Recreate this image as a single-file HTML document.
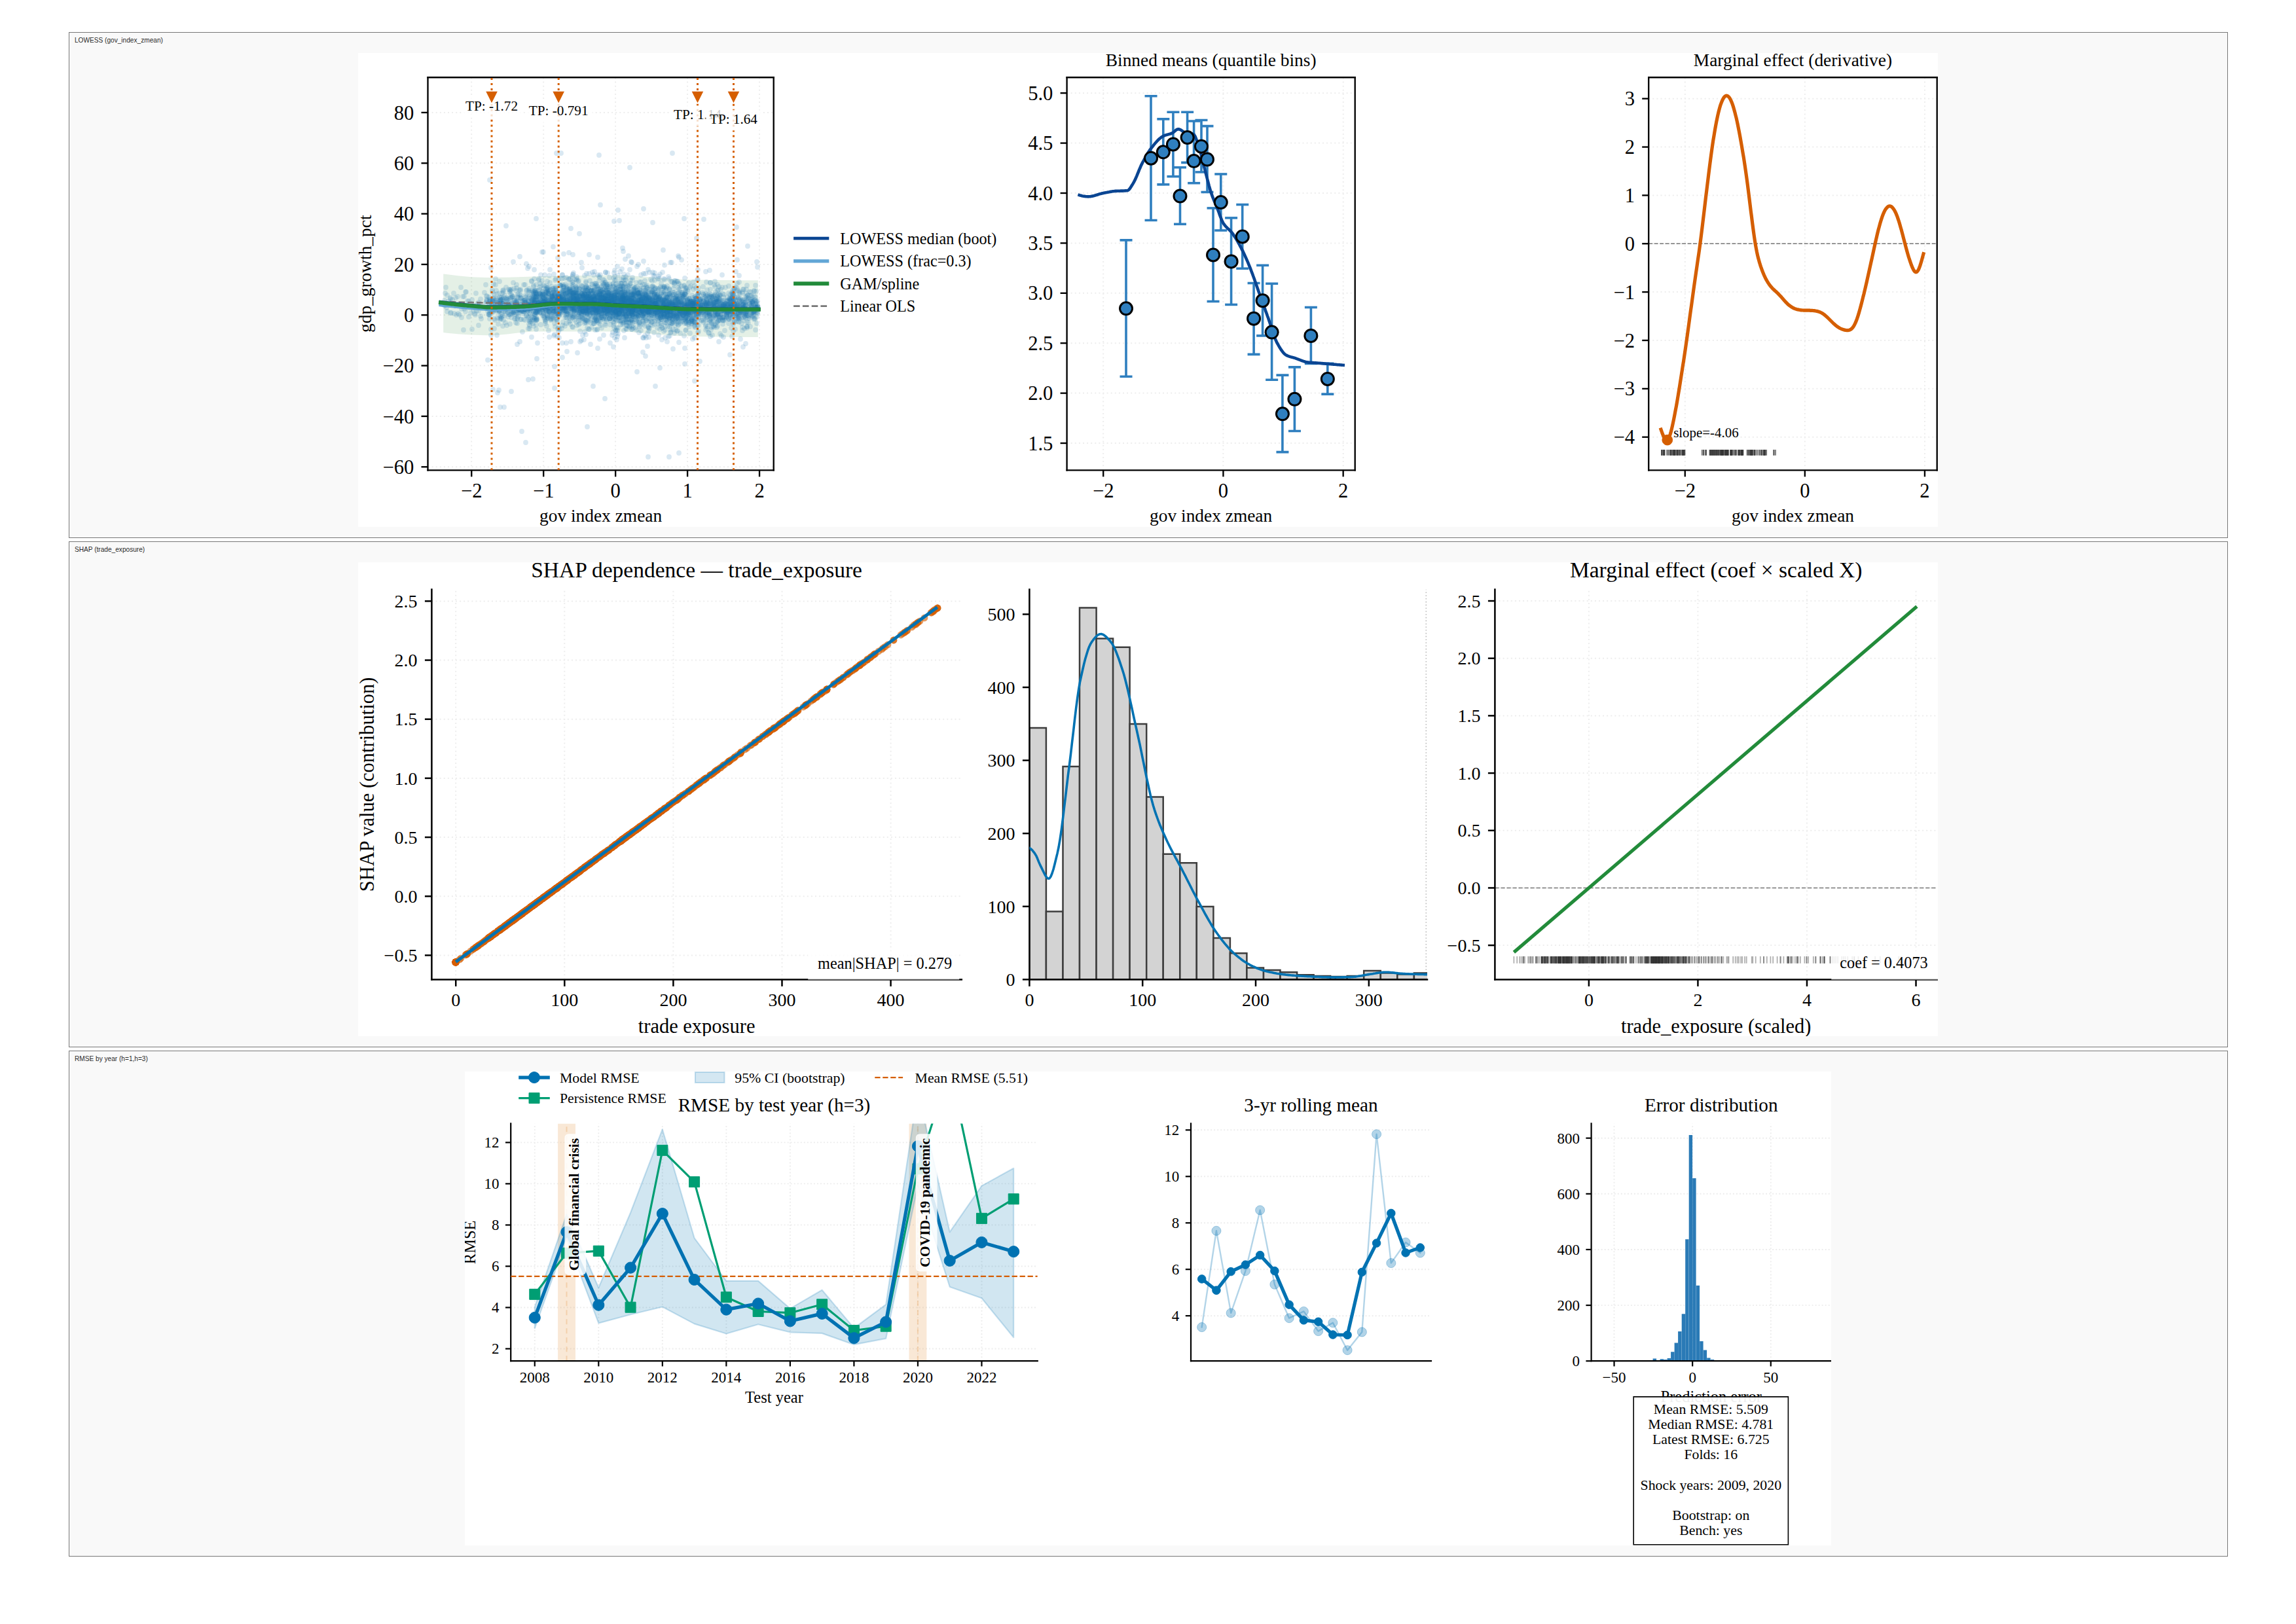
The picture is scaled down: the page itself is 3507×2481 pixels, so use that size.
<!DOCTYPE html>
<html><head><meta charset="utf-8">
<style>
html,body{margin:0;padding:0;background:#fff;}
body{width:3507px;height:2481px;position:relative;overflow:hidden;}
.panel{position:absolute;left:105px;width:3298px;height:773px;box-sizing:border-box;border:1px solid #777;background:#f9f9f9;}
.lbl{position:absolute;left:8px;top:5px;font:10.5px "Liberation Sans",sans-serif;color:#2a2a2a;white-space:nowrap;transform:scaleX(0.963);transform-origin:0 0;}
.fig{position:absolute;background:#fff;}
.fig svg{display:block}
</style></head><body>
<div class="panel" style="top:49px"><div class="lbl">LOWESS (gov_index_zmean)</div></div>
<div class="panel" style="top:827px;height:773px"><div class="lbl">SHAP (trade_exposure)</div></div>
<div class="panel" style="top:1605px"><div class="lbl">RMSE by year (h=1,h=3)</div></div>
<div class="fig" style="left:547px;top:81px;width:2413px;height:724px"><svg width="2413" height="724" viewBox="0 0 2413 724" version="1.1"><defs><style type="text/css">*{stroke-linejoin: round; stroke-linecap: butt}</style></defs><g id="f1figure_1"><g id="f1patch_1"><path d="M0 724L2413 724L2413 0L0 0 z" style="fill: #ffffff"/></g><g id="f1axes_1"><g id="f1patch_2"><path d="M106.5 637.3L634.7 637.3L634.7 37.2L106.5 37.2 z" style="fill: #ffffff"/></g><g id="f1matplotlib.axis_1"><g id="f1xtick_1"><g id="f1line2d_1"><path d="M173.2 637.3L173.2 37.2" clip-path="url(#f1p845b06b4ab)" style="fill: none; stroke-dasharray: 2,4.1; stroke-dashoffset: 0; stroke: #ededed; stroke-width: 2"/></g><g id="f1line2d_2"><defs><path id="f1m7631953726" d="M0 0L0 10" style="stroke: #000000; stroke-width: 2.35"/></defs><use href="#f1m7631953726" x="173.24" y="637.3" style="stroke: #000000; stroke-width: 2.35"/></g><g id="f1text_1"><text style="font-size: 30.6px; font-family:'Liberation Serif',serif; text-anchor: middle" x="173.24" y="678.53">−2</text></g></g><g id="f1xtick_2"><g id="f1line2d_3"><path d="M283.2 637.3L283.2 37.2" clip-path="url(#f1p845b06b4ab)" style="fill: none; stroke-dasharray: 2,4.1; stroke-dashoffset: 0; stroke: #ededed; stroke-width: 2"/></g><g id="f1line2d_4"><use href="#f1m7631953726" x="283.19" y="637.3" style="stroke: #000000; stroke-width: 2.35"/></g><g id="f1text_2"><text style="font-size: 30.6px; font-family:'Liberation Serif',serif; text-anchor: middle" x="283.19" y="678.53">−1</text></g></g><g id="f1xtick_3"><g id="f1line2d_5"><path d="M393.1 637.3L393.1 37.2" clip-path="url(#f1p845b06b4ab)" style="fill: none; stroke-dasharray: 2,4.1; stroke-dashoffset: 0; stroke: #ededed; stroke-width: 2"/></g><g id="f1line2d_6"><use href="#f1m7631953726" x="393.14" y="637.3" style="stroke: #000000; stroke-width: 2.35"/></g><g id="f1text_3"><text style="font-size: 30.6px; font-family:'Liberation Serif',serif; text-anchor: middle" x="393.14" y="678.53">0</text></g></g><g id="f1xtick_4"><g id="f1line2d_7"><path d="M503.1 637.3L503.1 37.2" clip-path="url(#f1p845b06b4ab)" style="fill: none; stroke-dasharray: 2,4.1; stroke-dashoffset: 0; stroke: #ededed; stroke-width: 2"/></g><g id="f1line2d_8"><use href="#f1m7631953726" x="503.09" y="637.3" style="stroke: #000000; stroke-width: 2.35"/></g><g id="f1text_4"><text style="font-size: 30.6px; font-family:'Liberation Serif',serif; text-anchor: middle" x="503.09" y="678.53">1</text></g></g><g id="f1xtick_5"><g id="f1line2d_9"><path d="M613 637.3L613 37.2" clip-path="url(#f1p845b06b4ab)" style="fill: none; stroke-dasharray: 2,4.1; stroke-dashoffset: 0; stroke: #ededed; stroke-width: 2"/></g><g id="f1line2d_10"><use href="#f1m7631953726" x="613.04" y="637.3" style="stroke: #000000; stroke-width: 2.35"/></g><g id="f1text_5"><text style="font-size: 30.6px; font-family:'Liberation Serif',serif; text-anchor: middle" x="613.04" y="678.53">2</text></g></g><g id="f1text_6"><text style="font-size: 27.4px; font-family:'Liberation Serif',serif; text-anchor: middle" x="370.6" y="715.5">gov index zmean</text></g></g><g id="f1matplotlib.axis_2"><g id="f1ytick_1"><g id="f1line2d_11"><path d="M106.5 632.3L634.7 632.3" clip-path="url(#f1p845b06b4ab)" style="fill: none; stroke-dasharray: 2,4.1; stroke-dashoffset: 0; stroke: #ededed; stroke-width: 2"/></g><g id="f1line2d_12"><defs><path id="f1m0f4510a37b" d="M0 0L-10 0" style="stroke: #000000; stroke-width: 2.35"/></defs><use href="#f1m0f4510a37b" x="106.5" y="632.27" style="stroke: #000000; stroke-width: 2.35"/></g><g id="f1text_7"><text style="font-size: 30.6px; font-family:'Liberation Serif',serif; text-anchor: end" x="85.3" y="642.89">−60</text></g></g><g id="f1ytick_2"><g id="f1line2d_13"><path d="M106.5 554.9L634.7 554.9" clip-path="url(#f1p845b06b4ab)" style="fill: none; stroke-dasharray: 2,4.1; stroke-dashoffset: 0; stroke: #ededed; stroke-width: 2"/></g><g id="f1line2d_14"><use href="#f1m0f4510a37b" x="106.5" y="554.94" style="stroke: #000000; stroke-width: 2.35"/></g><g id="f1text_8"><text style="font-size: 30.6px; font-family:'Liberation Serif',serif; text-anchor: end" x="85.3" y="565.56">−40</text></g></g><g id="f1ytick_3"><g id="f1line2d_15"><path d="M106.5 477.6L634.7 477.6" clip-path="url(#f1p845b06b4ab)" style="fill: none; stroke-dasharray: 2,4.1; stroke-dashoffset: 0; stroke: #ededed; stroke-width: 2"/></g><g id="f1line2d_16"><use href="#f1m0f4510a37b" x="106.5" y="477.61" style="stroke: #000000; stroke-width: 2.35"/></g><g id="f1text_9"><text style="font-size: 30.6px; font-family:'Liberation Serif',serif; text-anchor: end" x="85.3" y="488.23">−20</text></g></g><g id="f1ytick_4"><g id="f1line2d_17"><path d="M106.5 400.3L634.7 400.3" clip-path="url(#f1p845b06b4ab)" style="fill: none; stroke-dasharray: 2,4.1; stroke-dashoffset: 0; stroke: #ededed; stroke-width: 2"/></g><g id="f1line2d_18"><use href="#f1m0f4510a37b" x="106.5" y="400.28" style="stroke: #000000; stroke-width: 2.35"/></g><g id="f1text_10"><text style="font-size: 30.6px; font-family:'Liberation Serif',serif; text-anchor: end" x="85.3" y="410.89">0</text></g></g><g id="f1ytick_5"><g id="f1line2d_19"><path d="M106.5 322.9L634.7 322.9" clip-path="url(#f1p845b06b4ab)" style="fill: none; stroke-dasharray: 2,4.1; stroke-dashoffset: 0; stroke: #ededed; stroke-width: 2"/></g><g id="f1line2d_20"><use href="#f1m0f4510a37b" x="106.5" y="322.94" style="stroke: #000000; stroke-width: 2.35"/></g><g id="f1text_11"><text style="font-size: 30.6px; font-family:'Liberation Serif',serif; text-anchor: end" x="85.3" y="333.56">20</text></g></g><g id="f1ytick_6"><g id="f1line2d_21"><path d="M106.5 245.6L634.7 245.6" clip-path="url(#f1p845b06b4ab)" style="fill: none; stroke-dasharray: 2,4.1; stroke-dashoffset: 0; stroke: #ededed; stroke-width: 2"/></g><g id="f1line2d_22"><use href="#f1m0f4510a37b" x="106.5" y="245.61" style="stroke: #000000; stroke-width: 2.35"/></g><g id="f1text_12"><text style="font-size: 30.6px; font-family:'Liberation Serif',serif; text-anchor: end" x="85.3" y="256.23">40</text></g></g><g id="f1ytick_7"><g id="f1line2d_23"><path d="M106.5 168.3L634.7 168.3" clip-path="url(#f1p845b06b4ab)" style="fill: none; stroke-dasharray: 2,4.1; stroke-dashoffset: 0; stroke: #ededed; stroke-width: 2"/></g><g id="f1line2d_24"><use href="#f1m0f4510a37b" x="106.5" y="168.28" style="stroke: #000000; stroke-width: 2.35"/></g><g id="f1text_13"><text style="font-size: 30.6px; font-family:'Liberation Serif',serif; text-anchor: end" x="85.3" y="178.9">60</text></g></g><g id="f1ytick_8"><g id="f1line2d_25"><path d="M106.5 90.9L634.7 90.9" clip-path="url(#f1p845b06b4ab)" style="fill: none; stroke-dasharray: 2,4.1; stroke-dashoffset: 0; stroke: #ededed; stroke-width: 2"/></g><g id="f1line2d_26"><use href="#f1m0f4510a37b" x="106.5" y="90.95" style="stroke: #000000; stroke-width: 2.35"/></g><g id="f1text_14"><text style="font-size: 30.6px; font-family:'Liberation Serif',serif; text-anchor: end" x="85.3" y="101.56">80</text></g></g><g id="f1text_15"><text style="font-size: 27.4px; font-family:'Liberation Serif',serif; text-anchor: middle" x="20.09" y="337.25" transform="rotate(-90 20.09 337.25)">gdp_growth_pct</text></g></g><g id="f1FillBetweenPolyCollection_1"><defs><path id="f1mf904ceca2f" d="M130.2 -386.4L130.2 -297L138.4 -296.1L146.5 -295.2L154.7 -294.5L162.8 -294L171 -293.5L179.1 -293.2L187.3 -292.9L195.4 -292.8L203.6 -292.8L211.7 -293.1L219.9 -293.7L228 -294.5L236.1 -295.5L244.3 -296.4L252.4 -297.3L260.6 -298L268.7 -298.5L276.9 -298.6L285 -298.6L293.2 -298.6L301.3 -298.6L309.5 -298.6L317.6 -298.6L325.7 -298.6L333.9 -298.6L342 -298.6L350.2 -298.6L358.3 -298.6L366.5 -298.6L374.6 -298.6L382.8 -298.6L390.9 -298.6L399.1 -298.5L407.2 -298.3L415.3 -297.9L423.5 -297.3L431.6 -296.6L439.8 -295.9L447.9 -295.1L456.1 -294.3L464.2 -293.6L472.4 -292.8L480.5 -292.2L488.7 -291.7L496.8 -291.4L504.9 -291.2L513.1 -291L521.2 -290.8L529.4 -290.7L537.5 -290.6L545.7 -290.4L553.8 -290.3L562 -290.2L570.1 -290.1L578.3 -290L586.4 -290L594.5 -289.9L602.7 -289.9L610.8 -289.9L610.8 -376.7L610.8 -376.7L602.7 -376.7L594.5 -376.7L586.4 -376.8L578.3 -376.8L570.1 -376.9L562 -377L553.8 -377.1L545.7 -377.2L537.5 -377.3L529.4 -377.4L521.2 -377.5L513.1 -377.7L504.9 -377.8L496.8 -378L488.7 -378.4L480.5 -378.8L472.4 -379.4L464.2 -380L456.1 -380.7L447.9 -381.4L439.8 -382.1L431.6 -382.7L423.5 -383.3L415.3 -383.8L407.2 -384.2L399.1 -384.4L390.9 -384.4L382.8 -384.4L374.6 -384.4L366.5 -384.3L358.3 -384.2L350.2 -384.1L342 -384L333.9 -383.8L325.7 -383.7L317.6 -383.5L309.5 -383.4L301.3 -383.2L293.2 -383.1L285 -382.9L276.9 -382.8L268.7 -382.6L260.6 -382.3L252.4 -382.1L244.3 -381.8L236.1 -381.6L228 -381.3L219.9 -381.2L211.7 -381L203.6 -381L195.4 -381L187.3 -381.2L179.1 -381.6L171 -382.1L162.8 -382.8L154.7 -383.6L146.5 -384.4L138.4 -385.4L130.2 -386.4 z"/></defs><g clip-path="url(#f1p845b06b4ab)"><use href="#f1mf904ceca2f" x="0" y="724" style="fill: #2e8b3e; fill-opacity: 0.13"/></g></g><g class="sc1" style="fill:#1f77b4;fill-opacity:0.17" clip-path="url(#f1p845b06b4ab)"><circle cx="410" cy="375" r="3.9"/><circle cx="436" cy="238" r="3.9"/><circle cx="386" cy="371" r="3.9"/><circle cx="331" cy="390" r="3.9"/><circle cx="370" cy="365" r="3.9"/><circle cx="322" cy="384" r="3.9"/><circle cx="415" cy="385" r="3.9"/><circle cx="528" cy="379" r="3.9"/><circle cx="366" cy="399" r="3.9"/><circle cx="355" cy="378" r="3.9"/><circle cx="453" cy="369" r="3.9"/><circle cx="441" cy="392" r="3.9"/><circle cx="419" cy="399" r="3.9"/><circle cx="328" cy="354" r="3.9"/><circle cx="407" cy="382" r="3.9"/><circle cx="471" cy="392" r="3.9"/><circle cx="291" cy="385" r="3.9"/><circle cx="369" cy="364" r="3.9"/><circle cx="242" cy="379" r="3.9"/><circle cx="296" cy="377" r="3.9"/><circle cx="248" cy="384" r="3.9"/><circle cx="389" cy="378" r="3.9"/><circle cx="298" cy="396" r="3.9"/><circle cx="433" cy="399" r="3.9"/><circle cx="423" cy="377" r="3.9"/><circle cx="393" cy="378" r="3.9"/><circle cx="188" cy="406" r="3.9"/><circle cx="362" cy="423" r="3.9"/><circle cx="405" cy="373" r="3.9"/><circle cx="420" cy="392" r="3.9"/><circle cx="275" cy="370" r="3.9"/><circle cx="368" cy="364" r="3.9"/><circle cx="324" cy="409" r="3.9"/><circle cx="338" cy="403" r="3.9"/><circle cx="503" cy="377" r="3.9"/><circle cx="339" cy="381" r="3.9"/><circle cx="407" cy="375" r="3.9"/><circle cx="487" cy="390" r="3.9"/><circle cx="358" cy="387" r="3.9"/><circle cx="400" cy="393" r="3.9"/><circle cx="419" cy="395" r="3.9"/><circle cx="415" cy="401" r="3.9"/><circle cx="302" cy="366" r="3.9"/><circle cx="416" cy="384" r="3.9"/><circle cx="529" cy="372" r="3.9"/><circle cx="274" cy="394" r="3.9"/><circle cx="485" cy="384" r="3.9"/><circle cx="420" cy="368" r="3.9"/><circle cx="353" cy="388" r="3.9"/><circle cx="586" cy="397" r="3.9"/><circle cx="477" cy="415" r="3.9"/><circle cx="304" cy="378" r="3.9"/><circle cx="416" cy="375" r="3.9"/><circle cx="460" cy="390" r="3.9"/><circle cx="393" cy="360" r="3.9"/><circle cx="470" cy="398" r="3.9"/><circle cx="404" cy="379" r="3.9"/><circle cx="468" cy="376" r="3.9"/><circle cx="536" cy="388" r="3.9"/><circle cx="350" cy="364" r="3.9"/><circle cx="428" cy="372" r="3.9"/><circle cx="369" cy="387" r="3.9"/><circle cx="421" cy="384" r="3.9"/><circle cx="305" cy="421" r="3.9"/><circle cx="359" cy="378" r="3.9"/><circle cx="392" cy="347" r="3.9"/><circle cx="489" cy="310" r="3.9"/><circle cx="510" cy="389" r="3.9"/><circle cx="293" cy="331" r="3.9"/><circle cx="340" cy="396" r="3.9"/><circle cx="467" cy="389" r="3.9"/><circle cx="234" cy="397" r="3.9"/><circle cx="369" cy="386" r="3.9"/><circle cx="401" cy="388" r="3.9"/><circle cx="520" cy="382" r="3.9"/><circle cx="470" cy="373" r="3.9"/><circle cx="381" cy="380" r="3.9"/><circle cx="377" cy="372" r="3.9"/><circle cx="388" cy="381" r="3.9"/><circle cx="544" cy="387" r="3.9"/><circle cx="372" cy="373" r="3.9"/><circle cx="383" cy="363" r="3.9"/><circle cx="441" cy="386" r="3.9"/><circle cx="399" cy="396" r="3.9"/><circle cx="392" cy="366" r="3.9"/><circle cx="312" cy="354" r="3.9"/><circle cx="409" cy="347" r="3.9"/><circle cx="371" cy="378" r="3.9"/><circle cx="512" cy="382" r="3.9"/><circle cx="467" cy="359" r="3.9"/><circle cx="408" cy="384" r="3.9"/><circle cx="468" cy="392" r="3.9"/><circle cx="380" cy="389" r="3.9"/><circle cx="502" cy="398" r="3.9"/><circle cx="409" cy="421" r="3.9"/><circle cx="461" cy="405" r="3.9"/><circle cx="296" cy="369" r="3.9"/><circle cx="440" cy="390" r="3.9"/><circle cx="261" cy="374" r="3.9"/><circle cx="231" cy="382" r="3.9"/><circle cx="383" cy="375" r="3.9"/><circle cx="330" cy="393" r="3.9"/><circle cx="424" cy="387" r="3.9"/><circle cx="607" cy="423" r="3.9"/><circle cx="336" cy="392" r="3.9"/><circle cx="355" cy="368" r="3.9"/><circle cx="428" cy="401" r="3.9"/><circle cx="453" cy="347" r="3.9"/><circle cx="394" cy="347" r="3.9"/><circle cx="392" cy="377" r="3.9"/><circle cx="471" cy="402" r="3.9"/><circle cx="455" cy="373" r="3.9"/><circle cx="319" cy="381" r="3.9"/><circle cx="403" cy="402" r="3.9"/><circle cx="413" cy="407" r="3.9"/><circle cx="317" cy="353" r="3.9"/><circle cx="432" cy="397" r="3.9"/><circle cx="334" cy="345" r="3.9"/><circle cx="495" cy="410" r="3.9"/><circle cx="427" cy="391" r="3.9"/><circle cx="417" cy="371" r="3.9"/><circle cx="358" cy="388" r="3.9"/><circle cx="399" cy="404" r="3.9"/><circle cx="234" cy="404" r="3.9"/><circle cx="310" cy="388" r="3.9"/><circle cx="442" cy="393" r="3.9"/><circle cx="222" cy="395" r="3.9"/><circle cx="484" cy="379" r="3.9"/><circle cx="256" cy="373" r="3.9"/><circle cx="476" cy="432" r="3.9"/><circle cx="335" cy="375" r="3.9"/><circle cx="478" cy="367" r="3.9"/><circle cx="421" cy="397" r="3.9"/><circle cx="274" cy="391" r="3.9"/><circle cx="520" cy="425" r="3.9"/><circle cx="536" cy="428" r="3.9"/><circle cx="404" cy="364" r="3.9"/><circle cx="386" cy="402" r="3.9"/><circle cx="396" cy="375" r="3.9"/><circle cx="324" cy="385" r="3.9"/><circle cx="506" cy="412" r="3.9"/><circle cx="362" cy="366" r="3.9"/><circle cx="405" cy="399" r="3.9"/><circle cx="340" cy="383" r="3.9"/><circle cx="355" cy="381" r="3.9"/><circle cx="297" cy="373" r="3.9"/><circle cx="520" cy="399" r="3.9"/><circle cx="396" cy="326" r="3.9"/><circle cx="495" cy="394" r="3.9"/><circle cx="411" cy="391" r="3.9"/><circle cx="349" cy="337" r="3.9"/><circle cx="381" cy="363" r="3.9"/><circle cx="360" cy="363" r="3.9"/><circle cx="410" cy="422" r="3.9"/><circle cx="377" cy="387" r="3.9"/><circle cx="383" cy="387" r="3.9"/><circle cx="288" cy="387" r="3.9"/><circle cx="339" cy="371" r="3.9"/><circle cx="555" cy="391" r="3.9"/><circle cx="351" cy="368" r="3.9"/><circle cx="317" cy="378" r="3.9"/><circle cx="439" cy="386" r="3.9"/><circle cx="533" cy="407" r="3.9"/><circle cx="282" cy="375" r="3.9"/><circle cx="391" cy="389" r="3.9"/><circle cx="354" cy="382" r="3.9"/><circle cx="255" cy="392" r="3.9"/><circle cx="474" cy="384" r="3.9"/><circle cx="408" cy="380" r="3.9"/><circle cx="416" cy="378" r="3.9"/><circle cx="343" cy="395" r="3.9"/><circle cx="450" cy="366" r="3.9"/><circle cx="362" cy="368" r="3.9"/><circle cx="397" cy="340" r="3.9"/><circle cx="312" cy="339" r="3.9"/><circle cx="303" cy="382" r="3.9"/><circle cx="527" cy="383" r="3.9"/><circle cx="365" cy="391" r="3.9"/><circle cx="435" cy="409" r="3.9"/><circle cx="407" cy="384" r="3.9"/><circle cx="371" cy="387" r="3.9"/><circle cx="365" cy="372" r="3.9"/><circle cx="465" cy="404" r="3.9"/><circle cx="383" cy="379" r="3.9"/><circle cx="396" cy="399" r="3.9"/><circle cx="412" cy="399" r="3.9"/><circle cx="513" cy="380" r="3.9"/><circle cx="469" cy="418" r="3.9"/><circle cx="443" cy="419" r="3.9"/><circle cx="360" cy="391" r="3.9"/><circle cx="288" cy="372" r="3.9"/><circle cx="493" cy="390" r="3.9"/><circle cx="495" cy="396" r="3.9"/><circle cx="397" cy="240" r="3.9"/><circle cx="457" cy="381" r="3.9"/><circle cx="478" cy="382" r="3.9"/><circle cx="483" cy="355" r="3.9"/><circle cx="491" cy="394" r="3.9"/><circle cx="370" cy="416" r="3.9"/><circle cx="543" cy="410" r="3.9"/><circle cx="300" cy="371" r="3.9"/><circle cx="485" cy="400" r="3.9"/><circle cx="453" cy="385" r="3.9"/><circle cx="486" cy="389" r="3.9"/><circle cx="575" cy="388" r="3.9"/><circle cx="540" cy="413" r="3.9"/><circle cx="309" cy="379" r="3.9"/><circle cx="261" cy="379" r="3.9"/><circle cx="481" cy="386" r="3.9"/><circle cx="320" cy="381" r="3.9"/><circle cx="409" cy="384" r="3.9"/><circle cx="483" cy="394" r="3.9"/><circle cx="265" cy="410" r="3.9"/><circle cx="224" cy="386" r="3.9"/><circle cx="432" cy="381" r="3.9"/><circle cx="414" cy="391" r="3.9"/><circle cx="388" cy="393" r="3.9"/><circle cx="413" cy="387" r="3.9"/><circle cx="334" cy="371" r="3.9"/><circle cx="277" cy="381" r="3.9"/><circle cx="395" cy="384" r="3.9"/><circle cx="324" cy="399" r="3.9"/><circle cx="265" cy="389" r="3.9"/><circle cx="454" cy="383" r="3.9"/><circle cx="404" cy="374" r="3.9"/><circle cx="445" cy="382" r="3.9"/><circle cx="323" cy="384" r="3.9"/><circle cx="352" cy="374" r="3.9"/><circle cx="322" cy="390" r="3.9"/><circle cx="332" cy="376" r="3.9"/><circle cx="427" cy="375" r="3.9"/><circle cx="341" cy="368" r="3.9"/><circle cx="441" cy="392" r="3.9"/><circle cx="440" cy="377" r="3.9"/><circle cx="588" cy="389" r="3.9"/><circle cx="287" cy="386" r="3.9"/><circle cx="488" cy="391" r="3.9"/><circle cx="402" cy="389" r="3.9"/><circle cx="408" cy="315" r="3.9"/><circle cx="282" cy="370" r="3.9"/><circle cx="369" cy="437" r="3.9"/><circle cx="475" cy="345" r="3.9"/><circle cx="402" cy="360" r="3.9"/><circle cx="417" cy="365" r="3.9"/><circle cx="384" cy="372" r="3.9"/><circle cx="511" cy="399" r="3.9"/><circle cx="408" cy="346" r="3.9"/><circle cx="216" cy="395" r="3.9"/><circle cx="349" cy="390" r="3.9"/><circle cx="236" cy="395" r="3.9"/><circle cx="363" cy="372" r="3.9"/><circle cx="527" cy="391" r="3.9"/><circle cx="414" cy="417" r="3.9"/><circle cx="306" cy="377" r="3.9"/><circle cx="327" cy="403" r="3.9"/><circle cx="509" cy="379" r="3.9"/><circle cx="423" cy="390" r="3.9"/><circle cx="414" cy="401" r="3.9"/><circle cx="405" cy="375" r="3.9"/><circle cx="413" cy="310" r="3.9"/><circle cx="480" cy="392" r="3.9"/><circle cx="458" cy="414" r="3.9"/><circle cx="429" cy="381" r="3.9"/><circle cx="318" cy="382" r="3.9"/><circle cx="455" cy="372" r="3.9"/><circle cx="349" cy="384" r="3.9"/><circle cx="506" cy="418" r="3.9"/><circle cx="298" cy="389" r="3.9"/><circle cx="398" cy="396" r="3.9"/><circle cx="409" cy="410" r="3.9"/><circle cx="293" cy="395" r="3.9"/><circle cx="561" cy="388" r="3.9"/><circle cx="538" cy="379" r="3.9"/><circle cx="369" cy="391" r="3.9"/><circle cx="478" cy="395" r="3.9"/><circle cx="443" cy="390" r="3.9"/><circle cx="180" cy="367" r="3.9"/><circle cx="432" cy="424" r="3.9"/><circle cx="404" cy="356" r="3.9"/><circle cx="417" cy="374" r="3.9"/><circle cx="315" cy="387" r="3.9"/><circle cx="386" cy="368" r="3.9"/><circle cx="394" cy="399" r="3.9"/><circle cx="514" cy="373" r="3.9"/><circle cx="439" cy="384" r="3.9"/><circle cx="409" cy="403" r="3.9"/><circle cx="544" cy="394" r="3.9"/><circle cx="361" cy="362" r="3.9"/><circle cx="375" cy="393" r="3.9"/><circle cx="250" cy="384" r="3.9"/><circle cx="548" cy="380" r="3.9"/><circle cx="494" cy="316" r="3.9"/><circle cx="490" cy="375" r="3.9"/><circle cx="468" cy="401" r="3.9"/><circle cx="419" cy="369" r="3.9"/><circle cx="429" cy="370" r="3.9"/><circle cx="387" cy="382" r="3.9"/><circle cx="392" cy="376" r="3.9"/><circle cx="414" cy="383" r="3.9"/><circle cx="543" cy="390" r="3.9"/><circle cx="459" cy="386" r="3.9"/><circle cx="404" cy="372" r="3.9"/><circle cx="359" cy="395" r="3.9"/><circle cx="354" cy="393" r="3.9"/><circle cx="551" cy="441" r="3.9"/><circle cx="454" cy="396" r="3.9"/><circle cx="416" cy="379" r="3.9"/><circle cx="379" cy="387" r="3.9"/><circle cx="312" cy="370" r="3.9"/><circle cx="404" cy="398" r="3.9"/><circle cx="486" cy="403" r="3.9"/><circle cx="375" cy="389" r="3.9"/><circle cx="390" cy="344" r="3.9"/><circle cx="390" cy="406" r="3.9"/><circle cx="419" cy="394" r="3.9"/><circle cx="270" cy="364" r="3.9"/><circle cx="389" cy="381" r="3.9"/><circle cx="334" cy="396" r="3.9"/><circle cx="487" cy="405" r="3.9"/><circle cx="342" cy="382" r="3.9"/><circle cx="460" cy="374" r="3.9"/><circle cx="544" cy="354" r="3.9"/><circle cx="382" cy="380" r="3.9"/><circle cx="357" cy="385" r="3.9"/><circle cx="426" cy="382" r="3.9"/><circle cx="409" cy="369" r="3.9"/><circle cx="322" cy="387" r="3.9"/><circle cx="450" cy="401" r="3.9"/><circle cx="587" cy="367" r="3.9"/><circle cx="387" cy="381" r="3.9"/><circle cx="392" cy="387" r="3.9"/><circle cx="318" cy="369" r="3.9"/><circle cx="438" cy="389" r="3.9"/><circle cx="300" cy="367" r="3.9"/><circle cx="312" cy="363" r="3.9"/><circle cx="522" cy="379" r="3.9"/><circle cx="330" cy="385" r="3.9"/><circle cx="505" cy="396" r="3.9"/><circle cx="544" cy="388" r="3.9"/><circle cx="432" cy="382" r="3.9"/><circle cx="458" cy="390" r="3.9"/><circle cx="581" cy="391" r="3.9"/><circle cx="392" cy="396" r="3.9"/><circle cx="357" cy="419" r="3.9"/><circle cx="291" cy="394" r="3.9"/><circle cx="413" cy="360" r="3.9"/><circle cx="540" cy="398" r="3.9"/><circle cx="494" cy="356" r="3.9"/><circle cx="327" cy="392" r="3.9"/><circle cx="334" cy="394" r="3.9"/><circle cx="365" cy="422" r="3.9"/><circle cx="435" cy="369" r="3.9"/><circle cx="392" cy="373" r="3.9"/><circle cx="428" cy="387" r="3.9"/><circle cx="436" cy="359" r="3.9"/><circle cx="383" cy="374" r="3.9"/><circle cx="406" cy="377" r="3.9"/><circle cx="428" cy="402" r="3.9"/><circle cx="402" cy="386" r="3.9"/><circle cx="454" cy="408" r="3.9"/><circle cx="574" cy="387" r="3.9"/><circle cx="462" cy="384" r="3.9"/><circle cx="415" cy="385" r="3.9"/><circle cx="261" cy="326" r="3.9"/><circle cx="444" cy="395" r="3.9"/><circle cx="238" cy="391" r="3.9"/><circle cx="286" cy="391" r="3.9"/><circle cx="485" cy="390" r="3.9"/><circle cx="472" cy="395" r="3.9"/><circle cx="396" cy="388" r="3.9"/><circle cx="259" cy="402" r="3.9"/><circle cx="377" cy="378" r="3.9"/><circle cx="350" cy="390" r="3.9"/><circle cx="466" cy="383" r="3.9"/><circle cx="608" cy="389" r="3.9"/><circle cx="429" cy="378" r="3.9"/><circle cx="341" cy="392" r="3.9"/><circle cx="307" cy="378" r="3.9"/><circle cx="405" cy="303" r="3.9"/><circle cx="394" cy="384" r="3.9"/><circle cx="308" cy="394" r="3.9"/><circle cx="420" cy="380" r="3.9"/><circle cx="308" cy="400" r="3.9"/><circle cx="507" cy="382" r="3.9"/><circle cx="503" cy="385" r="3.9"/><circle cx="505" cy="395" r="3.9"/><circle cx="368" cy="405" r="3.9"/><circle cx="455" cy="383" r="3.9"/><circle cx="398" cy="393" r="3.9"/><circle cx="375" cy="389" r="3.9"/><circle cx="380" cy="395" r="3.9"/><circle cx="295" cy="375" r="3.9"/><circle cx="283" cy="400" r="3.9"/><circle cx="480" cy="386" r="3.9"/><circle cx="393" cy="390" r="3.9"/><circle cx="429" cy="427" r="3.9"/><circle cx="498" cy="432" r="3.9"/><circle cx="257" cy="322" r="3.9"/><circle cx="341" cy="379" r="3.9"/><circle cx="425" cy="392" r="3.9"/><circle cx="444" cy="405" r="3.9"/><circle cx="376" cy="347" r="3.9"/><circle cx="500" cy="386" r="3.9"/><circle cx="428" cy="382" r="3.9"/><circle cx="303" cy="379" r="3.9"/><circle cx="328" cy="386" r="3.9"/><circle cx="480" cy="408" r="3.9"/><circle cx="450" cy="383" r="3.9"/><circle cx="243" cy="390" r="3.9"/><circle cx="528" cy="388" r="3.9"/><circle cx="462" cy="376" r="3.9"/><circle cx="528" cy="369" r="3.9"/><circle cx="376" cy="391" r="3.9"/><circle cx="384" cy="388" r="3.9"/><circle cx="311" cy="366" r="3.9"/><circle cx="394" cy="398" r="3.9"/><circle cx="549" cy="398" r="3.9"/><circle cx="353" cy="393" r="3.9"/><circle cx="424" cy="382" r="3.9"/><circle cx="263" cy="411" r="3.9"/><circle cx="376" cy="391" r="3.9"/><circle cx="496" cy="374" r="3.9"/><circle cx="300" cy="479" r="3.9"/><circle cx="504" cy="386" r="3.9"/><circle cx="439" cy="397" r="3.9"/><circle cx="318" cy="387" r="3.9"/><circle cx="366" cy="374" r="3.9"/><circle cx="369" cy="396" r="3.9"/><circle cx="405" cy="382" r="3.9"/><circle cx="362" cy="380" r="3.9"/><circle cx="337" cy="348" r="3.9"/><circle cx="383" cy="366" r="3.9"/><circle cx="319" cy="356" r="3.9"/><circle cx="296" cy="386" r="3.9"/><circle cx="405" cy="377" r="3.9"/><circle cx="487" cy="408" r="3.9"/><circle cx="275" cy="390" r="3.9"/><circle cx="410" cy="378" r="3.9"/><circle cx="352" cy="422" r="3.9"/><circle cx="324" cy="365" r="3.9"/><circle cx="485" cy="377" r="3.9"/><circle cx="364" cy="375" r="3.9"/><circle cx="541" cy="376" r="3.9"/><circle cx="341" cy="399" r="3.9"/><circle cx="444" cy="377" r="3.9"/><circle cx="390" cy="391" r="3.9"/><circle cx="343" cy="394" r="3.9"/><circle cx="461" cy="413" r="3.9"/><circle cx="396" cy="368" r="3.9"/><circle cx="463" cy="413" r="3.9"/><circle cx="405" cy="360" r="3.9"/><circle cx="314" cy="377" r="3.9"/><circle cx="401" cy="394" r="3.9"/><circle cx="414" cy="402" r="3.9"/><circle cx="494" cy="385" r="3.9"/><circle cx="330" cy="392" r="3.9"/><circle cx="406" cy="401" r="3.9"/><circle cx="258" cy="362" r="3.9"/><circle cx="467" cy="393" r="3.9"/><circle cx="315" cy="386" r="3.9"/><circle cx="251" cy="390" r="3.9"/><circle cx="404" cy="367" r="3.9"/><circle cx="507" cy="387" r="3.9"/><circle cx="276" cy="383" r="3.9"/><circle cx="314" cy="396" r="3.9"/><circle cx="344" cy="362" r="3.9"/><circle cx="310" cy="356" r="3.9"/><circle cx="443" cy="331" r="3.9"/><circle cx="339" cy="394" r="3.9"/><circle cx="346" cy="366" r="3.9"/><circle cx="461" cy="374" r="3.9"/><circle cx="343" cy="371" r="3.9"/><circle cx="448" cy="383" r="3.9"/><circle cx="324" cy="379" r="3.9"/><circle cx="303" cy="390" r="3.9"/><circle cx="248" cy="361" r="3.9"/><circle cx="573" cy="379" r="3.9"/><circle cx="381" cy="336" r="3.9"/><circle cx="431" cy="377" r="3.9"/><circle cx="407" cy="372" r="3.9"/><circle cx="424" cy="389" r="3.9"/><circle cx="414" cy="372" r="3.9"/><circle cx="577" cy="387" r="3.9"/><circle cx="318" cy="387" r="3.9"/><circle cx="273" cy="396" r="3.9"/><circle cx="321" cy="378" r="3.9"/><circle cx="292" cy="384" r="3.9"/><circle cx="475" cy="382" r="3.9"/><circle cx="482" cy="401" r="3.9"/><circle cx="325" cy="352" r="3.9"/><circle cx="287" cy="361" r="3.9"/><circle cx="378" cy="416" r="3.9"/><circle cx="532" cy="387" r="3.9"/><circle cx="162" cy="372" r="3.9"/><circle cx="456" cy="399" r="3.9"/><circle cx="315" cy="344" r="3.9"/><circle cx="501" cy="395" r="3.9"/><circle cx="315" cy="388" r="3.9"/><circle cx="385" cy="365" r="3.9"/><circle cx="277" cy="397" r="3.9"/><circle cx="324" cy="376" r="3.9"/><circle cx="532" cy="385" r="3.9"/><circle cx="482" cy="392" r="3.9"/><circle cx="374" cy="376" r="3.9"/><circle cx="333" cy="367" r="3.9"/><circle cx="243" cy="413" r="3.9"/><circle cx="375" cy="394" r="3.9"/><circle cx="407" cy="381" r="3.9"/><circle cx="402" cy="388" r="3.9"/><circle cx="401" cy="415" r="3.9"/><circle cx="311" cy="368" r="3.9"/><circle cx="404" cy="371" r="3.9"/><circle cx="406" cy="386" r="3.9"/><circle cx="523" cy="397" r="3.9"/><circle cx="574" cy="390" r="3.9"/><circle cx="398" cy="409" r="3.9"/><circle cx="342" cy="395" r="3.9"/><circle cx="404" cy="385" r="3.9"/><circle cx="356" cy="378" r="3.9"/><circle cx="344" cy="380" r="3.9"/><circle cx="404" cy="373" r="3.9"/><circle cx="318" cy="358" r="3.9"/><circle cx="463" cy="366" r="3.9"/><circle cx="400" cy="386" r="3.9"/><circle cx="432" cy="371" r="3.9"/><circle cx="394" cy="428" r="3.9"/><circle cx="346" cy="368" r="3.9"/><circle cx="326" cy="368" r="3.9"/><circle cx="389" cy="386" r="3.9"/><circle cx="361" cy="413" r="3.9"/><circle cx="430" cy="389" r="3.9"/><circle cx="409" cy="374" r="3.9"/><circle cx="290" cy="366" r="3.9"/><circle cx="416" cy="391" r="3.9"/><circle cx="292" cy="396" r="3.9"/><circle cx="355" cy="389" r="3.9"/><circle cx="384" cy="387" r="3.9"/><circle cx="227" cy="385" r="3.9"/><circle cx="418" cy="377" r="3.9"/><circle cx="423" cy="387" r="3.9"/><circle cx="396" cy="366" r="3.9"/><circle cx="372" cy="399" r="3.9"/><circle cx="377" cy="379" r="3.9"/><circle cx="324" cy="384" r="3.9"/><circle cx="386" cy="358" r="3.9"/><circle cx="361" cy="380" r="3.9"/><circle cx="418" cy="422" r="3.9"/><circle cx="304" cy="386" r="3.9"/><circle cx="430" cy="406" r="3.9"/><circle cx="422" cy="367" r="3.9"/><circle cx="397" cy="379" r="3.9"/><circle cx="371" cy="379" r="3.9"/><circle cx="458" cy="397" r="3.9"/><circle cx="263" cy="399" r="3.9"/><circle cx="450" cy="259" r="3.9"/><circle cx="431" cy="382" r="3.9"/><circle cx="435" cy="378" r="3.9"/><circle cx="443" cy="398" r="3.9"/><circle cx="352" cy="394" r="3.9"/><circle cx="387" cy="383" r="3.9"/><circle cx="466" cy="388" r="3.9"/><circle cx="448" cy="401" r="3.9"/><circle cx="428" cy="401" r="3.9"/><circle cx="276" cy="383" r="3.9"/><circle cx="457" cy="377" r="3.9"/><circle cx="512" cy="382" r="3.9"/><circle cx="498" cy="253" r="3.9"/><circle cx="430" cy="387" r="3.9"/><circle cx="273" cy="467" r="3.9"/><circle cx="493" cy="379" r="3.9"/><circle cx="397" cy="402" r="3.9"/><circle cx="187" cy="402" r="3.9"/><circle cx="443" cy="375" r="3.9"/><circle cx="278" cy="352" r="3.9"/><circle cx="296" cy="384" r="3.9"/><circle cx="354" cy="359" r="3.9"/><circle cx="522" cy="378" r="3.9"/><circle cx="377" cy="375" r="3.9"/><circle cx="433" cy="383" r="3.9"/><circle cx="563" cy="400" r="3.9"/><circle cx="550" cy="409" r="3.9"/><circle cx="401" cy="383" r="3.9"/><circle cx="388" cy="376" r="3.9"/><circle cx="299" cy="395" r="3.9"/><circle cx="349" cy="383" r="3.9"/><circle cx="447" cy="370" r="3.9"/><circle cx="444" cy="401" r="3.9"/><circle cx="419" cy="390" r="3.9"/><circle cx="497" cy="404" r="3.9"/><circle cx="342" cy="391" r="3.9"/><circle cx="405" cy="413" r="3.9"/><circle cx="474" cy="384" r="3.9"/><circle cx="461" cy="392" r="3.9"/><circle cx="504" cy="405" r="3.9"/><circle cx="445" cy="397" r="3.9"/><circle cx="382" cy="395" r="3.9"/><circle cx="441" cy="379" r="3.9"/><circle cx="321" cy="395" r="3.9"/><circle cx="265" cy="379" r="3.9"/><circle cx="461" cy="400" r="3.9"/><circle cx="405" cy="377" r="3.9"/><circle cx="437" cy="380" r="3.9"/><circle cx="260" cy="384" r="3.9"/><circle cx="378" cy="406" r="3.9"/><circle cx="357" cy="393" r="3.9"/><circle cx="334" cy="375" r="3.9"/><circle cx="211" cy="382" r="3.9"/><circle cx="380" cy="381" r="3.9"/><circle cx="489" cy="406" r="3.9"/><circle cx="443" cy="617" r="3.9"/><circle cx="357" cy="379" r="3.9"/><circle cx="408" cy="399" r="3.9"/><circle cx="476" cy="396" r="3.9"/><circle cx="167" cy="379" r="3.9"/><circle cx="399" cy="386" r="3.9"/><circle cx="457" cy="377" r="3.9"/><circle cx="470" cy="392" r="3.9"/><circle cx="559" cy="392" r="3.9"/><circle cx="509" cy="405" r="3.9"/><circle cx="437" cy="397" r="3.9"/><circle cx="436" cy="318" r="3.9"/><circle cx="479" cy="374" r="3.9"/><circle cx="362" cy="403" r="3.9"/><circle cx="406" cy="390" r="3.9"/><circle cx="489" cy="367" r="3.9"/><circle cx="582" cy="393" r="3.9"/><circle cx="396" cy="377" r="3.9"/><circle cx="405" cy="386" r="3.9"/><circle cx="427" cy="401" r="3.9"/><circle cx="528" cy="380" r="3.9"/><circle cx="407" cy="363" r="3.9"/><circle cx="539" cy="406" r="3.9"/><circle cx="325" cy="401" r="3.9"/><circle cx="393" cy="397" r="3.9"/><circle cx="392" cy="381" r="3.9"/><circle cx="479" cy="413" r="3.9"/><circle cx="502" cy="386" r="3.9"/><circle cx="277" cy="395" r="3.9"/><circle cx="329" cy="374" r="3.9"/><circle cx="439" cy="376" r="3.9"/><circle cx="352" cy="383" r="3.9"/><circle cx="276" cy="393" r="3.9"/><circle cx="501" cy="404" r="3.9"/><circle cx="453" cy="392" r="3.9"/><circle cx="453" cy="387" r="3.9"/><circle cx="368" cy="413" r="3.9"/><circle cx="500" cy="424" r="3.9"/><circle cx="389" cy="367" r="3.9"/><circle cx="506" cy="376" r="3.9"/><circle cx="329" cy="369" r="3.9"/><circle cx="335" cy="356" r="3.9"/><circle cx="428" cy="366" r="3.9"/><circle cx="348" cy="392" r="3.9"/><circle cx="469" cy="407" r="3.9"/><circle cx="433" cy="380" r="3.9"/><circle cx="328" cy="388" r="3.9"/><circle cx="416" cy="411" r="3.9"/><circle cx="379" cy="410" r="3.9"/><circle cx="490" cy="361" r="3.9"/><circle cx="354" cy="381" r="3.9"/><circle cx="371" cy="362" r="3.9"/><circle cx="516" cy="381" r="3.9"/><circle cx="607" cy="373" r="3.9"/><circle cx="585" cy="396" r="3.9"/><circle cx="415" cy="391" r="3.9"/><circle cx="429" cy="383" r="3.9"/><circle cx="545" cy="349" r="3.9"/><circle cx="399" cy="398" r="3.9"/><circle cx="324" cy="397" r="3.9"/><circle cx="420" cy="391" r="3.9"/><circle cx="449" cy="381" r="3.9"/><circle cx="337" cy="362" r="3.9"/><circle cx="265" cy="373" r="3.9"/><circle cx="283" cy="355" r="3.9"/><circle cx="468" cy="384" r="3.9"/><circle cx="343" cy="386" r="3.9"/><circle cx="397" cy="371" r="3.9"/><circle cx="428" cy="403" r="3.9"/><circle cx="464" cy="438" r="3.9"/><circle cx="380" cy="385" r="3.9"/><circle cx="453" cy="373" r="3.9"/><circle cx="331" cy="365" r="3.9"/><circle cx="378" cy="376" r="3.9"/><circle cx="320" cy="388" r="3.9"/><circle cx="509" cy="382" r="3.9"/><circle cx="407" cy="352" r="3.9"/><circle cx="345" cy="364" r="3.9"/><circle cx="379" cy="377" r="3.9"/><circle cx="390" cy="411" r="3.9"/><circle cx="471" cy="377" r="3.9"/><circle cx="269" cy="381" r="3.9"/><circle cx="318" cy="395" r="3.9"/><circle cx="376" cy="367" r="3.9"/><circle cx="494" cy="372" r="3.9"/><circle cx="400" cy="385" r="3.9"/><circle cx="472" cy="384" r="3.9"/><circle cx="591" cy="391" r="3.9"/><circle cx="389" cy="357" r="3.9"/><circle cx="377" cy="384" r="3.9"/><circle cx="516" cy="382" r="3.9"/><circle cx="453" cy="386" r="3.9"/><circle cx="469" cy="412" r="3.9"/><circle cx="365" cy="394" r="3.9"/><circle cx="579" cy="373" r="3.9"/><circle cx="560" cy="408" r="3.9"/><circle cx="459" cy="409" r="3.9"/><circle cx="470" cy="392" r="3.9"/><circle cx="231" cy="365" r="3.9"/><circle cx="466" cy="366" r="3.9"/><circle cx="393" cy="407" r="3.9"/><circle cx="448" cy="396" r="3.9"/><circle cx="470" cy="391" r="3.9"/><circle cx="380" cy="397" r="3.9"/><circle cx="261" cy="389" r="3.9"/><circle cx="442" cy="395" r="3.9"/><circle cx="344" cy="390" r="3.9"/><circle cx="381" cy="367" r="3.9"/><circle cx="356" cy="363" r="3.9"/><circle cx="380" cy="390" r="3.9"/><circle cx="206" cy="379" r="3.9"/><circle cx="517" cy="399" r="3.9"/><circle cx="432" cy="378" r="3.9"/><circle cx="507" cy="396" r="3.9"/><circle cx="584" cy="375" r="3.9"/><circle cx="412" cy="368" r="3.9"/><circle cx="251" cy="386" r="3.9"/><circle cx="331" cy="399" r="3.9"/><circle cx="303" cy="378" r="3.9"/><circle cx="365" cy="391" r="3.9"/><circle cx="417" cy="410" r="3.9"/><circle cx="234" cy="373" r="3.9"/><circle cx="440" cy="435" r="3.9"/><circle cx="277" cy="362" r="3.9"/><circle cx="436" cy="337" r="3.9"/><circle cx="400" cy="381" r="3.9"/><circle cx="382" cy="392" r="3.9"/><circle cx="403" cy="376" r="3.9"/><circle cx="362" cy="389" r="3.9"/><circle cx="356" cy="384" r="3.9"/><circle cx="262" cy="385" r="3.9"/><circle cx="407" cy="411" r="3.9"/><circle cx="572" cy="379" r="3.9"/><circle cx="584" cy="391" r="3.9"/><circle cx="526" cy="396" r="3.9"/><circle cx="472" cy="373" r="3.9"/><circle cx="350" cy="396" r="3.9"/><circle cx="537" cy="402" r="3.9"/><circle cx="405" cy="383" r="3.9"/><circle cx="404" cy="377" r="3.9"/><circle cx="384" cy="380" r="3.9"/><circle cx="418" cy="408" r="3.9"/><circle cx="371" cy="374" r="3.9"/><circle cx="402" cy="384" r="3.9"/><circle cx="314" cy="393" r="3.9"/><circle cx="377" cy="380" r="3.9"/><circle cx="610" cy="387" r="3.9"/><circle cx="404" cy="388" r="3.9"/><circle cx="389" cy="365" r="3.9"/><circle cx="456" cy="386" r="3.9"/><circle cx="472" cy="374" r="3.9"/><circle cx="312" cy="395" r="3.9"/><circle cx="391" cy="383" r="3.9"/><circle cx="490" cy="382" r="3.9"/><circle cx="433" cy="404" r="3.9"/><circle cx="420" cy="416" r="3.9"/><circle cx="546" cy="403" r="3.9"/><circle cx="350" cy="380" r="3.9"/><circle cx="417" cy="387" r="3.9"/><circle cx="364" cy="409" r="3.9"/><circle cx="541" cy="388" r="3.9"/><circle cx="238" cy="388" r="3.9"/><circle cx="351" cy="376" r="3.9"/><circle cx="363" cy="393" r="3.9"/><circle cx="468" cy="400" r="3.9"/><circle cx="463" cy="390" r="3.9"/><circle cx="532" cy="385" r="3.9"/><circle cx="271" cy="396" r="3.9"/><circle cx="476" cy="387" r="3.9"/><circle cx="384" cy="384" r="3.9"/><circle cx="351" cy="375" r="3.9"/><circle cx="457" cy="402" r="3.9"/><circle cx="329" cy="375" r="3.9"/><circle cx="227" cy="388" r="3.9"/><circle cx="377" cy="378" r="3.9"/><circle cx="278" cy="376" r="3.9"/><circle cx="353" cy="380" r="3.9"/><circle cx="442" cy="379" r="3.9"/><circle cx="437" cy="404" r="3.9"/><circle cx="549" cy="401" r="3.9"/><circle cx="392" cy="388" r="3.9"/><circle cx="275" cy="385" r="3.9"/><circle cx="343" cy="367" r="3.9"/><circle cx="329" cy="372" r="3.9"/><circle cx="303" cy="379" r="3.9"/><circle cx="448" cy="396" r="3.9"/><circle cx="353" cy="389" r="3.9"/><circle cx="236" cy="372" r="3.9"/><circle cx="471" cy="372" r="3.9"/><circle cx="400" cy="378" r="3.9"/><circle cx="441" cy="394" r="3.9"/><circle cx="419" cy="387" r="3.9"/><circle cx="465" cy="377" r="3.9"/><circle cx="413" cy="398" r="3.9"/><circle cx="518" cy="346" r="3.9"/><circle cx="447" cy="394" r="3.9"/><circle cx="444" cy="369" r="3.9"/><circle cx="446" cy="390" r="3.9"/><circle cx="282" cy="393" r="3.9"/><circle cx="395" cy="394" r="3.9"/><circle cx="387" cy="372" r="3.9"/><circle cx="428" cy="383" r="3.9"/><circle cx="290" cy="384" r="3.9"/><circle cx="553" cy="391" r="3.9"/><circle cx="419" cy="392" r="3.9"/><circle cx="303" cy="379" r="3.9"/><circle cx="259" cy="391" r="3.9"/><circle cx="385" cy="393" r="3.9"/><circle cx="402" cy="381" r="3.9"/><circle cx="346" cy="359" r="3.9"/><circle cx="418" cy="395" r="3.9"/><circle cx="353" cy="381" r="3.9"/><circle cx="458" cy="381" r="3.9"/><circle cx="346" cy="379" r="3.9"/><circle cx="406" cy="389" r="3.9"/><circle cx="496" cy="374" r="3.9"/><circle cx="321" cy="381" r="3.9"/><circle cx="369" cy="371" r="3.9"/><circle cx="336" cy="388" r="3.9"/><circle cx="479" cy="395" r="3.9"/><circle cx="309" cy="393" r="3.9"/><circle cx="367" cy="361" r="3.9"/><circle cx="407" cy="381" r="3.9"/><circle cx="324" cy="369" r="3.9"/><circle cx="325" cy="268" r="3.9"/><circle cx="368" cy="383" r="3.9"/><circle cx="225" cy="383" r="3.9"/><circle cx="282" cy="392" r="3.9"/><circle cx="373" cy="376" r="3.9"/><circle cx="423" cy="387" r="3.9"/><circle cx="393" cy="363" r="3.9"/><circle cx="254" cy="378" r="3.9"/><circle cx="369" cy="381" r="3.9"/><circle cx="480" cy="383" r="3.9"/><circle cx="459" cy="388" r="3.9"/><circle cx="403" cy="382" r="3.9"/><circle cx="332" cy="366" r="3.9"/><circle cx="465" cy="397" r="3.9"/><circle cx="359" cy="381" r="3.9"/><circle cx="307" cy="374" r="3.9"/><circle cx="339" cy="382" r="3.9"/><circle cx="537" cy="368" r="3.9"/><circle cx="429" cy="391" r="3.9"/><circle cx="512" cy="384" r="3.9"/><circle cx="367" cy="378" r="3.9"/><circle cx="492" cy="428" r="3.9"/><circle cx="357" cy="375" r="3.9"/><circle cx="396" cy="398" r="3.9"/><circle cx="477" cy="401" r="3.9"/><circle cx="366" cy="374" r="3.9"/><circle cx="402" cy="352" r="3.9"/><circle cx="438" cy="417" r="3.9"/><circle cx="516" cy="375" r="3.9"/><circle cx="367" cy="361" r="3.9"/><circle cx="256" cy="386" r="3.9"/><circle cx="385" cy="443" r="3.9"/><circle cx="411" cy="417" r="3.9"/><circle cx="419" cy="396" r="3.9"/><circle cx="525" cy="386" r="3.9"/><circle cx="437" cy="374" r="3.9"/><circle cx="481" cy="397" r="3.9"/><circle cx="313" cy="388" r="3.9"/><circle cx="486" cy="401" r="3.9"/><circle cx="594" cy="401" r="3.9"/><circle cx="478" cy="390" r="3.9"/><circle cx="432" cy="378" r="3.9"/><circle cx="423" cy="359" r="3.9"/><circle cx="567" cy="393" r="3.9"/><circle cx="328" cy="370" r="3.9"/><circle cx="400" cy="362" r="3.9"/><circle cx="450" cy="382" r="3.9"/><circle cx="475" cy="378" r="3.9"/><circle cx="371" cy="391" r="3.9"/><circle cx="437" cy="387" r="3.9"/><circle cx="385" cy="374" r="3.9"/><circle cx="420" cy="369" r="3.9"/><circle cx="398" cy="403" r="3.9"/><circle cx="309" cy="373" r="3.9"/><circle cx="408" cy="356" r="3.9"/><circle cx="487" cy="375" r="3.9"/><circle cx="325" cy="441" r="3.9"/><circle cx="388" cy="395" r="3.9"/><circle cx="468" cy="386" r="3.9"/><circle cx="316" cy="376" r="3.9"/><circle cx="426" cy="399" r="3.9"/><circle cx="316" cy="380" r="3.9"/><circle cx="509" cy="396" r="3.9"/><circle cx="588" cy="378" r="3.9"/><circle cx="390" cy="392" r="3.9"/><circle cx="475" cy="617" r="3.9"/><circle cx="420" cy="357" r="3.9"/><circle cx="419" cy="379" r="3.9"/><circle cx="546" cy="396" r="3.9"/><circle cx="294" cy="406" r="3.9"/><circle cx="502" cy="398" r="3.9"/><circle cx="405" cy="374" r="3.9"/><circle cx="534" cy="381" r="3.9"/><circle cx="426" cy="382" r="3.9"/><circle cx="350" cy="390" r="3.9"/><circle cx="434" cy="395" r="3.9"/><circle cx="474" cy="398" r="3.9"/><circle cx="413" cy="398" r="3.9"/><circle cx="453" cy="378" r="3.9"/><circle cx="364" cy="378" r="3.9"/><circle cx="222" cy="379" r="3.9"/><circle cx="489" cy="403" r="3.9"/><circle cx="471" cy="412" r="3.9"/><circle cx="423" cy="392" r="3.9"/><circle cx="416" cy="384" r="3.9"/><circle cx="501" cy="404" r="3.9"/><circle cx="369" cy="369" r="3.9"/><circle cx="347" cy="389" r="3.9"/><circle cx="393" cy="395" r="3.9"/><circle cx="514" cy="386" r="3.9"/><circle cx="288" cy="356" r="3.9"/><circle cx="514" cy="435" r="3.9"/><circle cx="353" cy="380" r="3.9"/><circle cx="313" cy="380" r="3.9"/><circle cx="520" cy="366" r="3.9"/><circle cx="401" cy="360" r="3.9"/><circle cx="295" cy="379" r="3.9"/><circle cx="378" cy="378" r="3.9"/><circle cx="492" cy="394" r="3.9"/><circle cx="514" cy="406" r="3.9"/><circle cx="372" cy="364" r="3.9"/><circle cx="445" cy="375" r="3.9"/><circle cx="472" cy="356" r="3.9"/><circle cx="353" cy="422" r="3.9"/><circle cx="441" cy="376" r="3.9"/><circle cx="407" cy="377" r="3.9"/><circle cx="362" cy="392" r="3.9"/><circle cx="366" cy="312" r="3.9"/><circle cx="416" cy="347" r="3.9"/><circle cx="412" cy="374" r="3.9"/><circle cx="360" cy="371" r="3.9"/><circle cx="372" cy="420" r="3.9"/><circle cx="508" cy="393" r="3.9"/><circle cx="428" cy="370" r="3.9"/><circle cx="487" cy="405" r="3.9"/><circle cx="515" cy="375" r="3.9"/><circle cx="461" cy="481" r="3.9"/><circle cx="609" cy="382" r="3.9"/><circle cx="337" cy="378" r="3.9"/><circle cx="481" cy="402" r="3.9"/><circle cx="382" cy="383" r="3.9"/><circle cx="573" cy="369" r="3.9"/><circle cx="559" cy="392" r="3.9"/><circle cx="238" cy="394" r="3.9"/><circle cx="324" cy="368" r="3.9"/><circle cx="468" cy="403" r="3.9"/><circle cx="479" cy="390" r="3.9"/><circle cx="474" cy="395" r="3.9"/><circle cx="403" cy="393" r="3.9"/><circle cx="450" cy="367" r="3.9"/><circle cx="467" cy="377" r="3.9"/><circle cx="403" cy="378" r="3.9"/><circle cx="500" cy="378" r="3.9"/><circle cx="211" cy="376" r="3.9"/><circle cx="465" cy="375" r="3.9"/><circle cx="319" cy="378" r="3.9"/><circle cx="494" cy="368" r="3.9"/><circle cx="390" cy="382" r="3.9"/><circle cx="331" cy="396" r="3.9"/><circle cx="443" cy="391" r="3.9"/><circle cx="329" cy="366" r="3.9"/><circle cx="329" cy="379" r="3.9"/><circle cx="272" cy="369" r="3.9"/><circle cx="407" cy="366" r="3.9"/><circle cx="453" cy="383" r="3.9"/><circle cx="500" cy="408" r="3.9"/><circle cx="397" cy="374" r="3.9"/><circle cx="502" cy="385" r="3.9"/><circle cx="411" cy="407" r="3.9"/><circle cx="401" cy="357" r="3.9"/><circle cx="460" cy="394" r="3.9"/><circle cx="503" cy="401" r="3.9"/><circle cx="380" cy="355" r="3.9"/><circle cx="388" cy="397" r="3.9"/><circle cx="395" cy="403" r="3.9"/><circle cx="417" cy="383" r="3.9"/><circle cx="330" cy="394" r="3.9"/><circle cx="500" cy="396" r="3.9"/><circle cx="374" cy="381" r="3.9"/><circle cx="450" cy="384" r="3.9"/><circle cx="337" cy="388" r="3.9"/><circle cx="441" cy="395" r="3.9"/><circle cx="444" cy="434" r="3.9"/><circle cx="373" cy="380" r="3.9"/><circle cx="587" cy="391" r="3.9"/><circle cx="442" cy="387" r="3.9"/><circle cx="566" cy="394" r="3.9"/><circle cx="494" cy="382" r="3.9"/><circle cx="351" cy="360" r="3.9"/><circle cx="376" cy="374" r="3.9"/><circle cx="448" cy="364" r="3.9"/><circle cx="415" cy="389" r="3.9"/><circle cx="414" cy="411" r="3.9"/><circle cx="384" cy="395" r="3.9"/><circle cx="251" cy="379" r="3.9"/><circle cx="390" cy="394" r="3.9"/><circle cx="215" cy="389" r="3.9"/><circle cx="442" cy="395" r="3.9"/><circle cx="346" cy="397" r="3.9"/><circle cx="347" cy="390" r="3.9"/><circle cx="390" cy="377" r="3.9"/><circle cx="434" cy="394" r="3.9"/><circle cx="284" cy="380" r="3.9"/><circle cx="256" cy="370" r="3.9"/><circle cx="316" cy="369" r="3.9"/><circle cx="230" cy="385" r="3.9"/><circle cx="325" cy="365" r="3.9"/><circle cx="550" cy="362" r="3.9"/><circle cx="317" cy="367" r="3.9"/><circle cx="467" cy="384" r="3.9"/><circle cx="289" cy="349" r="3.9"/><circle cx="436" cy="363" r="3.9"/><circle cx="382" cy="393" r="3.9"/><circle cx="404" cy="376" r="3.9"/><circle cx="460" cy="390" r="3.9"/><circle cx="564" cy="379" r="3.9"/><circle cx="427" cy="398" r="3.9"/><circle cx="421" cy="382" r="3.9"/><circle cx="324" cy="385" r="3.9"/><circle cx="461" cy="392" r="3.9"/><circle cx="388" cy="385" r="3.9"/><circle cx="483" cy="366" r="3.9"/><circle cx="406" cy="338" r="3.9"/><circle cx="563" cy="388" r="3.9"/><circle cx="235" cy="382" r="3.9"/><circle cx="384" cy="379" r="3.9"/><circle cx="487" cy="413" r="3.9"/><circle cx="379" cy="386" r="3.9"/><circle cx="340" cy="372" r="3.9"/><circle cx="386" cy="382" r="3.9"/><circle cx="288" cy="387" r="3.9"/><circle cx="420" cy="374" r="3.9"/><circle cx="510" cy="383" r="3.9"/><circle cx="312" cy="416" r="3.9"/><circle cx="333" cy="379" r="3.9"/><circle cx="374" cy="383" r="3.9"/><circle cx="498" cy="385" r="3.9"/><circle cx="337" cy="371" r="3.9"/><circle cx="349" cy="388" r="3.9"/><circle cx="487" cy="377" r="3.9"/><circle cx="486" cy="387" r="3.9"/><circle cx="377" cy="385" r="3.9"/><circle cx="311" cy="364" r="3.9"/><circle cx="273" cy="393" r="3.9"/><circle cx="348" cy="430" r="3.9"/><circle cx="213" cy="385" r="3.9"/><circle cx="476" cy="388" r="3.9"/><circle cx="354" cy="374" r="3.9"/><circle cx="452" cy="383" r="3.9"/><circle cx="574" cy="364" r="3.9"/><circle cx="513" cy="377" r="3.9"/><circle cx="308" cy="389" r="3.9"/><circle cx="486" cy="371" r="3.9"/><circle cx="511" cy="386" r="3.9"/><circle cx="344" cy="370" r="3.9"/><circle cx="326" cy="372" r="3.9"/><circle cx="400" cy="373" r="3.9"/><circle cx="269" cy="380" r="3.9"/><circle cx="539" cy="388" r="3.9"/><circle cx="198" cy="394" r="3.9"/><circle cx="312" cy="393" r="3.9"/><circle cx="386" cy="375" r="3.9"/><circle cx="390" cy="393" r="3.9"/><circle cx="424" cy="358" r="3.9"/><circle cx="434" cy="397" r="3.9"/><circle cx="391" cy="413" r="3.9"/><circle cx="510" cy="391" r="3.9"/><circle cx="221" cy="383" r="3.9"/><circle cx="410" cy="409" r="3.9"/><circle cx="347" cy="376" r="3.9"/><circle cx="421" cy="403" r="3.9"/><circle cx="429" cy="412" r="3.9"/><circle cx="329" cy="367" r="3.9"/><circle cx="353" cy="396" r="3.9"/><circle cx="479" cy="386" r="3.9"/><circle cx="440" cy="408" r="3.9"/><circle cx="350" cy="383" r="3.9"/><circle cx="589" cy="409" r="3.9"/><circle cx="281" cy="365" r="3.9"/><circle cx="436" cy="387" r="3.9"/><circle cx="479" cy="383" r="3.9"/><circle cx="429" cy="377" r="3.9"/><circle cx="391" cy="379" r="3.9"/><circle cx="362" cy="406" r="3.9"/><circle cx="391" cy="386" r="3.9"/><circle cx="361" cy="377" r="3.9"/><circle cx="475" cy="382" r="3.9"/><circle cx="375" cy="397" r="3.9"/><circle cx="371" cy="368" r="3.9"/><circle cx="304" cy="373" r="3.9"/><circle cx="405" cy="382" r="3.9"/><circle cx="331" cy="377" r="3.9"/><circle cx="394" cy="395" r="3.9"/><circle cx="501" cy="397" r="3.9"/><circle cx="442" cy="375" r="3.9"/><circle cx="454" cy="380" r="3.9"/><circle cx="441" cy="355" r="3.9"/><circle cx="415" cy="355" r="3.9"/><circle cx="398" cy="392" r="3.9"/><circle cx="383" cy="393" r="3.9"/><circle cx="476" cy="396" r="3.9"/><circle cx="314" cy="357" r="3.9"/><circle cx="528" cy="394" r="3.9"/><circle cx="413" cy="384" r="3.9"/><circle cx="344" cy="406" r="3.9"/><circle cx="367" cy="365" r="3.9"/><circle cx="350" cy="383" r="3.9"/><circle cx="424" cy="370" r="3.9"/><circle cx="346" cy="413" r="3.9"/><circle cx="510" cy="383" r="3.9"/><circle cx="341" cy="398" r="3.9"/><circle cx="210" cy="345" r="3.9"/><circle cx="345" cy="390" r="3.9"/><circle cx="233" cy="364" r="3.9"/><circle cx="406" cy="398" r="3.9"/><circle cx="503" cy="402" r="3.9"/><circle cx="467" cy="345" r="3.9"/><circle cx="292" cy="364" r="3.9"/><circle cx="343" cy="386" r="3.9"/><circle cx="566" cy="406" r="3.9"/><circle cx="438" cy="348" r="3.9"/><circle cx="410" cy="379" r="3.9"/><circle cx="503" cy="408" r="3.9"/><circle cx="524" cy="385" r="3.9"/><circle cx="422" cy="359" r="3.9"/><circle cx="441" cy="397" r="3.9"/><circle cx="464" cy="379" r="3.9"/><circle cx="356" cy="406" r="3.9"/><circle cx="317" cy="389" r="3.9"/><circle cx="414" cy="389" r="3.9"/><circle cx="326" cy="365" r="3.9"/><circle cx="404" cy="373" r="3.9"/><circle cx="418" cy="383" r="3.9"/><circle cx="335" cy="383" r="3.9"/><circle cx="399" cy="409" r="3.9"/><circle cx="395" cy="438" r="3.9"/><circle cx="448" cy="384" r="3.9"/><circle cx="502" cy="388" r="3.9"/><circle cx="366" cy="389" r="3.9"/><circle cx="337" cy="383" r="3.9"/><circle cx="265" cy="434" r="3.9"/><circle cx="328" cy="360" r="3.9"/><circle cx="457" cy="392" r="3.9"/><circle cx="414" cy="388" r="3.9"/><circle cx="320" cy="378" r="3.9"/><circle cx="377" cy="374" r="3.9"/><circle cx="412" cy="379" r="3.9"/><circle cx="454" cy="360" r="3.9"/><circle cx="357" cy="353" r="3.9"/><circle cx="388" cy="379" r="3.9"/><circle cx="250" cy="394" r="3.9"/><circle cx="308" cy="422" r="3.9"/><circle cx="552" cy="387" r="3.9"/><circle cx="217" cy="407" r="3.9"/><circle cx="380" cy="383" r="3.9"/><circle cx="429" cy="387" r="3.9"/><circle cx="377" cy="396" r="3.9"/><circle cx="339" cy="394" r="3.9"/><circle cx="404" cy="415" r="3.9"/><circle cx="409" cy="407" r="3.9"/><circle cx="402" cy="387" r="3.9"/><circle cx="244" cy="393" r="3.9"/><circle cx="397" cy="379" r="3.9"/><circle cx="334" cy="368" r="3.9"/><circle cx="361" cy="357" r="3.9"/><circle cx="430" cy="378" r="3.9"/><circle cx="466" cy="357" r="3.9"/><circle cx="489" cy="415" r="3.9"/><circle cx="366" cy="411" r="3.9"/><circle cx="491" cy="394" r="3.9"/><circle cx="513" cy="392" r="3.9"/><circle cx="510" cy="405" r="3.9"/><circle cx="532" cy="379" r="3.9"/><circle cx="397" cy="368" r="3.9"/><circle cx="394" cy="359" r="3.9"/><circle cx="482" cy="398" r="3.9"/><circle cx="289" cy="384" r="3.9"/><circle cx="428" cy="367" r="3.9"/><circle cx="363" cy="390" r="3.9"/><circle cx="377" cy="380" r="3.9"/><circle cx="256" cy="393" r="3.9"/><circle cx="331" cy="384" r="3.9"/><circle cx="408" cy="385" r="3.9"/><circle cx="488" cy="372" r="3.9"/><circle cx="497" cy="393" r="3.9"/><circle cx="403" cy="393" r="3.9"/><circle cx="393" cy="367" r="3.9"/><circle cx="337" cy="409" r="3.9"/><circle cx="445" cy="380" r="3.9"/><circle cx="388" cy="361" r="3.9"/><circle cx="463" cy="393" r="3.9"/><circle cx="564" cy="393" r="3.9"/><circle cx="407" cy="380" r="3.9"/><circle cx="278" cy="368" r="3.9"/><circle cx="334" cy="367" r="3.9"/><circle cx="281" cy="384" r="3.9"/><circle cx="304" cy="377" r="3.9"/><circle cx="524" cy="408" r="3.9"/><circle cx="430" cy="396" r="3.9"/><circle cx="276" cy="382" r="3.9"/><circle cx="467" cy="393" r="3.9"/><circle cx="520" cy="397" r="3.9"/><circle cx="378" cy="372" r="3.9"/><circle cx="350" cy="372" r="3.9"/><circle cx="380" cy="372" r="3.9"/><circle cx="435" cy="387" r="3.9"/><circle cx="466" cy="391" r="3.9"/><circle cx="514" cy="411" r="3.9"/><circle cx="516" cy="375" r="3.9"/><circle cx="514" cy="412" r="3.9"/><circle cx="529" cy="393" r="3.9"/><circle cx="468" cy="346" r="3.9"/><circle cx="275" cy="381" r="3.9"/><circle cx="398" cy="370" r="3.9"/><circle cx="437" cy="380" r="3.9"/><circle cx="376" cy="392" r="3.9"/><circle cx="490" cy="391" r="3.9"/><circle cx="378" cy="335" r="3.9"/><circle cx="328" cy="339" r="3.9"/><circle cx="537" cy="332" r="3.9"/><circle cx="468" cy="403" r="3.9"/><circle cx="429" cy="410" r="3.9"/><circle cx="491" cy="398" r="3.9"/><circle cx="503" cy="397" r="3.9"/><circle cx="440" cy="387" r="3.9"/><circle cx="193" cy="366" r="3.9"/><circle cx="350" cy="383" r="3.9"/><circle cx="369" cy="375" r="3.9"/><circle cx="323" cy="405" r="3.9"/><circle cx="427" cy="383" r="3.9"/><circle cx="514" cy="384" r="3.9"/><circle cx="367" cy="395" r="3.9"/><circle cx="310" cy="374" r="3.9"/><circle cx="588" cy="449" r="3.9"/><circle cx="370" cy="384" r="3.9"/><circle cx="301" cy="401" r="3.9"/><circle cx="431" cy="381" r="3.9"/><circle cx="447" cy="415" r="3.9"/><circle cx="348" cy="408" r="3.9"/><circle cx="479" cy="412" r="3.9"/><circle cx="367" cy="402" r="3.9"/><circle cx="328" cy="350" r="3.9"/><circle cx="425" cy="386" r="3.9"/><circle cx="477" cy="394" r="3.9"/><circle cx="354" cy="371" r="3.9"/><circle cx="439" cy="382" r="3.9"/><circle cx="401" cy="394" r="3.9"/><circle cx="347" cy="363" r="3.9"/><circle cx="531" cy="382" r="3.9"/><circle cx="405" cy="381" r="3.9"/><circle cx="398" cy="385" r="3.9"/><circle cx="473" cy="399" r="3.9"/><circle cx="488" cy="390" r="3.9"/><circle cx="521" cy="370" r="3.9"/><circle cx="439" cy="398" r="3.9"/><circle cx="357" cy="379" r="3.9"/><circle cx="362" cy="370" r="3.9"/><circle cx="454" cy="383" r="3.9"/><circle cx="461" cy="422" r="3.9"/><circle cx="533" cy="362" r="3.9"/><circle cx="446" cy="382" r="3.9"/><circle cx="503" cy="387" r="3.9"/><circle cx="543" cy="417" r="3.9"/><circle cx="424" cy="363" r="3.9"/><circle cx="279" cy="379" r="3.9"/><circle cx="306" cy="372" r="3.9"/><circle cx="283" cy="368" r="3.9"/><circle cx="550" cy="380" r="3.9"/><circle cx="335" cy="383" r="3.9"/><circle cx="518" cy="380" r="3.9"/><circle cx="461" cy="373" r="3.9"/><circle cx="561" cy="388" r="3.9"/><circle cx="498" cy="392" r="3.9"/><circle cx="401" cy="410" r="3.9"/><circle cx="392" cy="406" r="3.9"/><circle cx="417" cy="370" r="3.9"/><circle cx="425" cy="385" r="3.9"/><circle cx="363" cy="373" r="3.9"/><circle cx="407" cy="388" r="3.9"/><circle cx="551" cy="403" r="3.9"/><circle cx="260" cy="380" r="3.9"/><circle cx="432" cy="389" r="3.9"/><circle cx="330" cy="366" r="3.9"/><circle cx="426" cy="393" r="3.9"/><circle cx="484" cy="409" r="3.9"/><circle cx="405" cy="375" r="3.9"/><circle cx="478" cy="402" r="3.9"/><circle cx="270" cy="381" r="3.9"/><circle cx="507" cy="381" r="3.9"/><circle cx="357" cy="378" r="3.9"/><circle cx="464" cy="420" r="3.9"/><circle cx="426" cy="357" r="3.9"/><circle cx="182" cy="387" r="3.9"/><circle cx="343" cy="370" r="3.9"/><circle cx="429" cy="414" r="3.9"/><circle cx="546" cy="416" r="3.9"/><circle cx="435" cy="404" r="3.9"/><circle cx="432" cy="363" r="3.9"/><circle cx="285" cy="356" r="3.9"/><circle cx="536" cy="387" r="3.9"/><circle cx="569" cy="385" r="3.9"/><circle cx="412" cy="387" r="3.9"/><circle cx="390" cy="382" r="3.9"/><circle cx="267" cy="386" r="3.9"/><circle cx="487" cy="398" r="3.9"/><circle cx="473" cy="391" r="3.9"/><circle cx="521" cy="387" r="3.9"/><circle cx="457" cy="420" r="3.9"/><circle cx="323" cy="373" r="3.9"/><circle cx="527" cy="388" r="3.9"/><circle cx="301" cy="385" r="3.9"/><circle cx="391" cy="390" r="3.9"/><circle cx="434" cy="391" r="3.9"/><circle cx="487" cy="410" r="3.9"/><circle cx="446" cy="409" r="3.9"/><circle cx="444" cy="389" r="3.9"/><circle cx="343" cy="392" r="3.9"/><circle cx="296" cy="381" r="3.9"/><circle cx="415" cy="403" r="3.9"/><circle cx="347" cy="373" r="3.9"/><circle cx="295" cy="382" r="3.9"/><circle cx="298" cy="394" r="3.9"/><circle cx="367" cy="379" r="3.9"/><circle cx="247" cy="388" r="3.9"/><circle cx="291" cy="363" r="3.9"/><circle cx="266" cy="404" r="3.9"/><circle cx="426" cy="326" r="3.9"/><circle cx="446" cy="376" r="3.9"/><circle cx="586" cy="387" r="3.9"/><circle cx="278" cy="372" r="3.9"/><circle cx="350" cy="387" r="3.9"/><circle cx="490" cy="353" r="3.9"/><circle cx="391" cy="371" r="3.9"/><circle cx="381" cy="386" r="3.9"/><circle cx="560" cy="387" r="3.9"/><circle cx="380" cy="354" r="3.9"/><circle cx="308" cy="385" r="3.9"/><circle cx="294" cy="361" r="3.9"/><circle cx="439" cy="337" r="3.9"/><circle cx="436" cy="411" r="3.9"/><circle cx="289" cy="403" r="3.9"/><circle cx="323" cy="386" r="3.9"/><circle cx="457" cy="402" r="3.9"/><circle cx="460" cy="373" r="3.9"/><circle cx="353" cy="337" r="3.9"/><circle cx="464" cy="379" r="3.9"/><circle cx="460" cy="345" r="3.9"/><circle cx="253" cy="407" r="3.9"/><circle cx="382" cy="398" r="3.9"/><circle cx="446" cy="387" r="3.9"/><circle cx="359" cy="364" r="3.9"/><circle cx="221" cy="401" r="3.9"/><circle cx="385" cy="356" r="3.9"/><circle cx="476" cy="361" r="3.9"/><circle cx="549" cy="399" r="3.9"/><circle cx="217" cy="384" r="3.9"/><circle cx="310" cy="377" r="3.9"/><circle cx="494" cy="409" r="3.9"/><circle cx="518" cy="412" r="3.9"/><circle cx="496" cy="369" r="3.9"/><circle cx="423" cy="378" r="3.9"/><circle cx="307" cy="372" r="3.9"/><circle cx="465" cy="403" r="3.9"/><circle cx="347" cy="380" r="3.9"/><circle cx="188" cy="389" r="3.9"/><circle cx="472" cy="402" r="3.9"/><circle cx="570" cy="393" r="3.9"/><circle cx="329" cy="383" r="3.9"/><circle cx="539" cy="387" r="3.9"/><circle cx="549" cy="386" r="3.9"/><circle cx="546" cy="365" r="3.9"/><circle cx="408" cy="395" r="3.9"/><circle cx="304" cy="366" r="3.9"/><circle cx="394" cy="358" r="3.9"/><circle cx="216" cy="367" r="3.9"/><circle cx="260" cy="379" r="3.9"/><circle cx="418" cy="387" r="3.9"/><circle cx="322" cy="364" r="3.9"/><circle cx="395" cy="395" r="3.9"/><circle cx="400" cy="399" r="3.9"/><circle cx="579" cy="398" r="3.9"/><circle cx="524" cy="399" r="3.9"/><circle cx="406" cy="383" r="3.9"/><circle cx="516" cy="400" r="3.9"/><circle cx="341" cy="387" r="3.9"/><circle cx="380" cy="379" r="3.9"/><circle cx="490" cy="393" r="3.9"/><circle cx="300" cy="370" r="3.9"/><circle cx="385" cy="375" r="3.9"/><circle cx="293" cy="383" r="3.9"/><circle cx="420" cy="388" r="3.9"/><circle cx="553" cy="370" r="3.9"/><circle cx="343" cy="373" r="3.9"/><circle cx="430" cy="418" r="3.9"/><circle cx="331" cy="392" r="3.9"/><circle cx="309" cy="355" r="3.9"/><circle cx="301" cy="373" r="3.9"/><circle cx="538" cy="382" r="3.9"/><circle cx="452" cy="358" r="3.9"/><circle cx="347" cy="374" r="3.9"/><circle cx="472" cy="396" r="3.9"/><circle cx="380" cy="389" r="3.9"/><circle cx="480" cy="388" r="3.9"/><circle cx="435" cy="402" r="3.9"/><circle cx="434" cy="374" r="3.9"/><circle cx="463" cy="417" r="3.9"/><circle cx="359" cy="390" r="3.9"/><circle cx="374" cy="387" r="3.9"/><circle cx="258" cy="388" r="3.9"/><circle cx="371" cy="393" r="3.9"/><circle cx="285" cy="390" r="3.9"/><circle cx="397" cy="358" r="3.9"/><circle cx="325" cy="376" r="3.9"/><circle cx="419" cy="394" r="3.9"/><circle cx="449" cy="375" r="3.9"/><circle cx="285" cy="387" r="3.9"/><circle cx="338" cy="365" r="3.9"/><circle cx="327" cy="392" r="3.9"/><circle cx="475" cy="405" r="3.9"/><circle cx="560" cy="395" r="3.9"/><circle cx="485" cy="383" r="3.9"/><circle cx="379" cy="358" r="3.9"/><circle cx="538" cy="372" r="3.9"/><circle cx="276" cy="345" r="3.9"/><circle cx="542" cy="386" r="3.9"/><circle cx="352" cy="369" r="3.9"/><circle cx="165" cy="365" r="3.9"/><circle cx="548" cy="419" r="3.9"/><circle cx="319" cy="367" r="3.9"/><circle cx="424" cy="393" r="3.9"/><circle cx="391" cy="382" r="3.9"/><circle cx="419" cy="394" r="3.9"/><circle cx="279" cy="356" r="3.9"/><circle cx="350" cy="399" r="3.9"/><circle cx="451" cy="391" r="3.9"/><circle cx="429" cy="395" r="3.9"/><circle cx="515" cy="405" r="3.9"/><circle cx="417" cy="369" r="3.9"/><circle cx="347" cy="373" r="3.9"/><circle cx="432" cy="356" r="3.9"/><circle cx="241" cy="363" r="3.9"/><circle cx="299" cy="338" r="3.9"/><circle cx="526" cy="392" r="3.9"/><circle cx="327" cy="379" r="3.9"/><circle cx="456" cy="386" r="3.9"/><circle cx="404" cy="370" r="3.9"/><circle cx="318" cy="343" r="3.9"/><circle cx="379" cy="386" r="3.9"/><circle cx="364" cy="393" r="3.9"/><circle cx="367" cy="379" r="3.9"/><circle cx="476" cy="395" r="3.9"/><circle cx="467" cy="425" r="3.9"/><circle cx="359" cy="387" r="3.9"/><circle cx="330" cy="382" r="3.9"/><circle cx="434" cy="388" r="3.9"/><circle cx="401" cy="366" r="3.9"/><circle cx="500" cy="399" r="3.9"/><circle cx="484" cy="399" r="3.9"/><circle cx="407" cy="380" r="3.9"/><circle cx="394" cy="423" r="3.9"/><circle cx="334" cy="385" r="3.9"/><circle cx="330" cy="385" r="3.9"/><circle cx="321" cy="361" r="3.9"/><circle cx="375" cy="353" r="3.9"/><circle cx="372" cy="394" r="3.9"/><circle cx="475" cy="368" r="3.9"/><circle cx="375" cy="398" r="3.9"/><circle cx="392" cy="332" r="3.9"/><circle cx="302" cy="345" r="3.9"/><circle cx="554" cy="403" r="3.9"/><circle cx="454" cy="384" r="3.9"/><circle cx="567" cy="384" r="3.9"/><circle cx="480" cy="375" r="3.9"/><circle cx="541" cy="392" r="3.9"/><circle cx="388" cy="373" r="3.9"/><circle cx="473" cy="387" r="3.9"/><circle cx="302" cy="361" r="3.9"/><circle cx="513" cy="382" r="3.9"/><circle cx="559" cy="385" r="3.9"/><circle cx="447" cy="382" r="3.9"/><circle cx="477" cy="320" r="3.9"/><circle cx="522" cy="376" r="3.9"/><circle cx="351" cy="404" r="3.9"/><circle cx="446" cy="388" r="3.9"/><circle cx="332" cy="378" r="3.9"/><circle cx="349" cy="378" r="3.9"/><circle cx="354" cy="386" r="3.9"/><circle cx="397" cy="400" r="3.9"/><circle cx="423" cy="398" r="3.9"/><circle cx="450" cy="335" r="3.9"/><circle cx="282" cy="391" r="3.9"/><circle cx="588" cy="393" r="3.9"/><circle cx="514" cy="393" r="3.9"/><circle cx="475" cy="368" r="3.9"/><circle cx="377" cy="377" r="3.9"/><circle cx="402" cy="396" r="3.9"/><circle cx="459" cy="375" r="3.9"/><circle cx="447" cy="380" r="3.9"/><circle cx="258" cy="393" r="3.9"/><circle cx="476" cy="389" r="3.9"/><circle cx="243" cy="406" r="3.9"/><circle cx="499" cy="413" r="3.9"/><circle cx="443" cy="387" r="3.9"/><circle cx="400" cy="401" r="3.9"/><circle cx="533" cy="378" r="3.9"/><circle cx="303" cy="397" r="3.9"/><circle cx="424" cy="393" r="3.9"/><circle cx="542" cy="418" r="3.9"/><circle cx="392" cy="372" r="3.9"/><circle cx="372" cy="402" r="3.9"/><circle cx="420" cy="370" r="3.9"/><circle cx="369" cy="375" r="3.9"/><circle cx="549" cy="388" r="3.9"/><circle cx="328" cy="401" r="3.9"/><circle cx="489" cy="400" r="3.9"/><circle cx="296" cy="372" r="3.9"/><circle cx="470" cy="392" r="3.9"/><circle cx="400" cy="386" r="3.9"/><circle cx="176" cy="394" r="3.9"/><circle cx="409" cy="368" r="3.9"/><circle cx="313" cy="383" r="3.9"/><circle cx="369" cy="394" r="3.9"/><circle cx="549" cy="374" r="3.9"/><circle cx="309" cy="376" r="3.9"/><circle cx="314" cy="390" r="3.9"/><circle cx="540" cy="399" r="3.9"/><circle cx="420" cy="376" r="3.9"/><circle cx="549" cy="381" r="3.9"/><circle cx="439" cy="373" r="3.9"/><circle cx="330" cy="370" r="3.9"/><circle cx="404" cy="373" r="3.9"/><circle cx="521" cy="395" r="3.9"/><circle cx="495" cy="373" r="3.9"/><circle cx="410" cy="411" r="3.9"/><circle cx="414" cy="378" r="3.9"/><circle cx="399" cy="398" r="3.9"/><circle cx="357" cy="376" r="3.9"/><circle cx="584" cy="384" r="3.9"/><circle cx="410" cy="402" r="3.9"/><circle cx="307" cy="392" r="3.9"/><circle cx="366" cy="388" r="3.9"/><circle cx="475" cy="405" r="3.9"/><circle cx="468" cy="359" r="3.9"/><circle cx="397" cy="365" r="3.9"/><circle cx="349" cy="398" r="3.9"/><circle cx="412" cy="339" r="3.9"/><circle cx="258" cy="371" r="3.9"/><circle cx="292" cy="382" r="3.9"/><circle cx="482" cy="374" r="3.9"/><circle cx="366" cy="339" r="3.9"/><circle cx="444" cy="374" r="3.9"/><circle cx="520" cy="393" r="3.9"/><circle cx="468" cy="378" r="3.9"/><circle cx="411" cy="388" r="3.9"/><circle cx="602" cy="401" r="3.9"/><circle cx="470" cy="368" r="3.9"/><circle cx="378" cy="357" r="3.9"/><circle cx="476" cy="386" r="3.9"/><circle cx="447" cy="388" r="3.9"/><circle cx="332" cy="376" r="3.9"/><circle cx="416" cy="367" r="3.9"/><circle cx="395" cy="396" r="3.9"/><circle cx="232" cy="362" r="3.9"/><circle cx="394" cy="403" r="3.9"/><circle cx="384" cy="368" r="3.9"/><circle cx="370" cy="361" r="3.9"/><circle cx="261" cy="391" r="3.9"/><circle cx="378" cy="350" r="3.9"/><circle cx="406" cy="378" r="3.9"/><circle cx="419" cy="347" r="3.9"/><circle cx="307" cy="377" r="3.9"/><circle cx="467" cy="403" r="3.9"/><circle cx="300" cy="430" r="3.9"/><circle cx="389" cy="402" r="3.9"/><circle cx="528" cy="254" r="3.9"/><circle cx="347" cy="386" r="3.9"/><circle cx="363" cy="355" r="3.9"/><circle cx="507" cy="402" r="3.9"/><circle cx="375" cy="362" r="3.9"/><circle cx="383" cy="394" r="3.9"/><circle cx="430" cy="391" r="3.9"/><circle cx="504" cy="364" r="3.9"/><circle cx="210" cy="354" r="3.9"/><circle cx="335" cy="386" r="3.9"/><circle cx="319" cy="367" r="3.9"/><circle cx="312" cy="465" r="3.9"/><circle cx="332" cy="376" r="3.9"/><circle cx="334" cy="370" r="3.9"/><circle cx="437" cy="377" r="3.9"/><circle cx="329" cy="371" r="3.9"/><circle cx="421" cy="361" r="3.9"/><circle cx="446" cy="383" r="3.9"/><circle cx="344" cy="382" r="3.9"/><circle cx="421" cy="369" r="3.9"/><circle cx="557" cy="408" r="3.9"/><circle cx="439" cy="390" r="3.9"/><circle cx="352" cy="387" r="3.9"/><circle cx="404" cy="376" r="3.9"/><circle cx="327" cy="367" r="3.9"/><circle cx="434" cy="387" r="3.9"/><circle cx="487" cy="425" r="3.9"/><circle cx="336" cy="387" r="3.9"/><circle cx="391" cy="365" r="3.9"/><circle cx="510" cy="413" r="3.9"/><circle cx="365" cy="356" r="3.9"/><circle cx="427" cy="378" r="3.9"/><circle cx="318" cy="382" r="3.9"/><circle cx="336" cy="379" r="3.9"/><circle cx="364" cy="392" r="3.9"/><circle cx="601" cy="370" r="3.9"/><circle cx="374" cy="380" r="3.9"/><circle cx="363" cy="374" r="3.9"/><circle cx="360" cy="339" r="3.9"/><circle cx="395" cy="389" r="3.9"/><circle cx="467" cy="400" r="3.9"/><circle cx="426" cy="367" r="3.9"/><circle cx="591" cy="390" r="3.9"/><circle cx="428" cy="378" r="3.9"/><circle cx="537" cy="401" r="3.9"/><circle cx="434" cy="394" r="3.9"/><circle cx="463" cy="406" r="3.9"/><circle cx="283" cy="389" r="3.9"/><circle cx="398" cy="381" r="3.9"/><circle cx="404" cy="390" r="3.9"/><circle cx="388" cy="383" r="3.9"/><circle cx="220" cy="367" r="3.9"/><circle cx="487" cy="349" r="3.9"/><circle cx="376" cy="389" r="3.9"/><circle cx="371" cy="377" r="3.9"/><circle cx="387" cy="384" r="3.9"/><circle cx="390" cy="416" r="3.9"/><circle cx="445" cy="387" r="3.9"/><circle cx="298" cy="406" r="3.9"/><circle cx="328" cy="367" r="3.9"/><circle cx="435" cy="388" r="3.9"/><circle cx="422" cy="392" r="3.9"/><circle cx="377" cy="414" r="3.9"/><circle cx="359" cy="387" r="3.9"/><circle cx="336" cy="376" r="3.9"/><circle cx="404" cy="298" r="3.9"/><circle cx="513" cy="410" r="3.9"/><circle cx="317" cy="368" r="3.9"/><circle cx="544" cy="399" r="3.9"/><circle cx="484" cy="379" r="3.9"/><circle cx="370" cy="372" r="3.9"/><circle cx="479" cy="394" r="3.9"/><circle cx="281" cy="379" r="3.9"/><circle cx="257" cy="401" r="3.9"/><circle cx="296" cy="367" r="3.9"/><circle cx="374" cy="346" r="3.9"/><circle cx="381" cy="375" r="3.9"/><circle cx="364" cy="388" r="3.9"/><circle cx="418" cy="418" r="3.9"/><circle cx="222" cy="365" r="3.9"/><circle cx="453" cy="336" r="3.9"/><circle cx="285" cy="376" r="3.9"/><circle cx="352" cy="393" r="3.9"/><circle cx="373" cy="386" r="3.9"/><circle cx="308" cy="399" r="3.9"/><circle cx="289" cy="405" r="3.9"/><circle cx="321" cy="394" r="3.9"/><circle cx="409" cy="381" r="3.9"/><circle cx="462" cy="392" r="3.9"/><circle cx="459" cy="431" r="3.9"/><circle cx="322" cy="345" r="3.9"/><circle cx="340" cy="387" r="3.9"/><circle cx="329" cy="390" r="3.9"/><circle cx="449" cy="376" r="3.9"/><circle cx="230" cy="361" r="3.9"/><circle cx="519" cy="387" r="3.9"/><circle cx="367" cy="391" r="3.9"/><circle cx="341" cy="402" r="3.9"/><circle cx="439" cy="371" r="3.9"/><circle cx="500" cy="387" r="3.9"/><circle cx="440" cy="369" r="3.9"/><circle cx="502" cy="394" r="3.9"/><circle cx="421" cy="370" r="3.9"/><circle cx="518" cy="393" r="3.9"/><circle cx="519" cy="394" r="3.9"/><circle cx="401" cy="352" r="3.9"/><circle cx="536" cy="383" r="3.9"/><circle cx="424" cy="371" r="3.9"/><circle cx="417" cy="395" r="3.9"/><circle cx="329" cy="392" r="3.9"/><circle cx="384" cy="406" r="3.9"/><circle cx="478" cy="426" r="3.9"/><circle cx="294" cy="384" r="3.9"/><circle cx="467" cy="387" r="3.9"/><circle cx="440" cy="376" r="3.9"/><circle cx="434" cy="370" r="3.9"/><circle cx="216" cy="394" r="3.9"/><circle cx="401" cy="356" r="3.9"/><circle cx="467" cy="400" r="3.9"/><circle cx="343" cy="395" r="3.9"/><circle cx="418" cy="385" r="3.9"/><circle cx="200" cy="400" r="3.9"/><circle cx="469" cy="384" r="3.9"/><circle cx="351" cy="375" r="3.9"/><circle cx="486" cy="387" r="3.9"/><circle cx="248" cy="374" r="3.9"/><circle cx="471" cy="396" r="3.9"/><circle cx="389" cy="353" r="3.9"/><circle cx="481" cy="402" r="3.9"/><circle cx="328" cy="350" r="3.9"/><circle cx="355" cy="445" r="3.9"/><circle cx="607" cy="384" r="3.9"/><circle cx="337" cy="380" r="3.9"/><circle cx="348" cy="383" r="3.9"/><circle cx="385" cy="378" r="3.9"/><circle cx="320" cy="381" r="3.9"/><circle cx="514" cy="384" r="3.9"/><circle cx="561" cy="358" r="3.9"/><circle cx="348" cy="358" r="3.9"/><circle cx="258" cy="387" r="3.9"/><circle cx="513" cy="387" r="3.9"/><circle cx="507" cy="383" r="3.9"/><circle cx="482" cy="402" r="3.9"/><circle cx="511" cy="383" r="3.9"/><circle cx="333" cy="392" r="3.9"/><circle cx="395" cy="375" r="3.9"/><circle cx="288" cy="417" r="3.9"/><circle cx="285" cy="376" r="3.9"/><circle cx="496" cy="371" r="3.9"/><circle cx="351" cy="374" r="3.9"/><circle cx="610" cy="396" r="3.9"/><circle cx="416" cy="408" r="3.9"/><circle cx="353" cy="368" r="3.9"/><circle cx="480" cy="410" r="3.9"/><circle cx="568" cy="378" r="3.9"/><circle cx="452" cy="389" r="3.9"/><circle cx="303" cy="394" r="3.9"/><circle cx="442" cy="406" r="3.9"/><circle cx="531" cy="397" r="3.9"/><circle cx="366" cy="371" r="3.9"/><circle cx="342" cy="368" r="3.9"/><circle cx="499" cy="344" r="3.9"/><circle cx="422" cy="387" r="3.9"/><circle cx="313" cy="389" r="3.9"/><circle cx="376" cy="385" r="3.9"/><circle cx="343" cy="380" r="3.9"/><circle cx="436" cy="402" r="3.9"/><circle cx="419" cy="395" r="3.9"/><circle cx="511" cy="383" r="3.9"/><circle cx="472" cy="380" r="3.9"/><circle cx="272" cy="372" r="3.9"/><circle cx="445" cy="373" r="3.9"/><circle cx="489" cy="398" r="3.9"/><circle cx="450" cy="357" r="3.9"/><circle cx="500" cy="395" r="3.9"/><circle cx="361" cy="408" r="3.9"/><circle cx="326" cy="363" r="3.9"/><circle cx="491" cy="381" r="3.9"/><circle cx="316" cy="400" r="3.9"/><circle cx="220" cy="393" r="3.9"/><circle cx="500" cy="366" r="3.9"/><circle cx="346" cy="426" r="3.9"/><circle cx="383" cy="384" r="3.9"/><circle cx="287" cy="387" r="3.9"/><circle cx="293" cy="381" r="3.9"/><circle cx="308" cy="395" r="3.9"/><circle cx="378" cy="335" r="3.9"/><circle cx="442" cy="358" r="3.9"/><circle cx="208" cy="391" r="3.9"/><circle cx="476" cy="418" r="3.9"/><circle cx="306" cy="385" r="3.9"/><circle cx="316" cy="417" r="3.9"/><circle cx="469" cy="392" r="3.9"/><circle cx="403" cy="366" r="3.9"/><circle cx="274" cy="443" r="3.9"/><circle cx="572" cy="373" r="3.9"/><circle cx="334" cy="392" r="3.9"/><circle cx="431" cy="388" r="3.9"/><circle cx="427" cy="365" r="3.9"/><circle cx="534" cy="418" r="3.9"/><circle cx="370" cy="381" r="3.9"/><circle cx="498" cy="397" r="3.9"/><circle cx="344" cy="382" r="3.9"/><circle cx="508" cy="410" r="3.9"/><circle cx="343" cy="404" r="3.9"/><circle cx="378" cy="377" r="3.9"/><circle cx="576" cy="384" r="3.9"/><circle cx="438" cy="368" r="3.9"/><circle cx="419" cy="380" r="3.9"/><circle cx="607" cy="388" r="3.9"/><circle cx="441" cy="372" r="3.9"/><circle cx="338" cy="397" r="3.9"/><circle cx="474" cy="387" r="3.9"/><circle cx="306" cy="399" r="3.9"/><circle cx="509" cy="380" r="3.9"/><circle cx="516" cy="382" r="3.9"/><circle cx="359" cy="397" r="3.9"/><circle cx="354" cy="382" r="3.9"/><circle cx="425" cy="423" r="3.9"/><circle cx="411" cy="405" r="3.9"/><circle cx="324" cy="375" r="3.9"/><circle cx="460" cy="392" r="3.9"/><circle cx="230" cy="384" r="3.9"/><circle cx="372" cy="386" r="3.9"/><circle cx="374" cy="373" r="3.9"/><circle cx="386" cy="372" r="3.9"/><circle cx="437" cy="383" r="3.9"/><circle cx="302" cy="363" r="3.9"/><circle cx="461" cy="372" r="3.9"/><circle cx="394" cy="395" r="3.9"/><circle cx="352" cy="376" r="3.9"/><circle cx="289" cy="373" r="3.9"/><circle cx="306" cy="371" r="3.9"/><circle cx="441" cy="377" r="3.9"/><circle cx="325" cy="390" r="3.9"/><circle cx="415" cy="388" r="3.9"/><circle cx="503" cy="384" r="3.9"/><circle cx="500" cy="405" r="3.9"/><circle cx="547" cy="376" r="3.9"/><circle cx="384" cy="406" r="3.9"/><circle cx="314" cy="382" r="3.9"/><circle cx="499" cy="382" r="3.9"/><circle cx="437" cy="384" r="3.9"/><circle cx="508" cy="393" r="3.9"/><circle cx="411" cy="390" r="3.9"/><circle cx="515" cy="372" r="3.9"/><circle cx="484" cy="390" r="3.9"/><circle cx="473" cy="384" r="3.9"/><circle cx="454" cy="359" r="3.9"/><circle cx="445" cy="421" r="3.9"/><circle cx="430" cy="371" r="3.9"/><circle cx="430" cy="372" r="3.9"/><circle cx="497" cy="401" r="3.9"/><circle cx="365" cy="396" r="3.9"/><circle cx="562" cy="387" r="3.9"/><circle cx="400" cy="334" r="3.9"/><circle cx="496" cy="391" r="3.9"/><circle cx="402" cy="380" r="3.9"/><circle cx="388" cy="391" r="3.9"/><circle cx="588" cy="389" r="3.9"/><circle cx="382" cy="360" r="3.9"/><circle cx="297" cy="381" r="3.9"/><circle cx="347" cy="390" r="3.9"/><circle cx="382" cy="380" r="3.9"/><circle cx="599" cy="371" r="3.9"/><circle cx="428" cy="367" r="3.9"/><circle cx="492" cy="399" r="3.9"/><circle cx="322" cy="305" r="3.9"/><circle cx="441" cy="400" r="3.9"/><circle cx="469" cy="378" r="3.9"/><circle cx="568" cy="369" r="3.9"/><circle cx="348" cy="394" r="3.9"/><circle cx="463" cy="398" r="3.9"/><circle cx="436" cy="384" r="3.9"/><circle cx="320" cy="398" r="3.9"/><circle cx="408" cy="387" r="3.9"/><circle cx="386" cy="397" r="3.9"/><circle cx="205" cy="387" r="3.9"/><circle cx="462" cy="397" r="3.9"/><circle cx="457" cy="369" r="3.9"/><circle cx="371" cy="374" r="3.9"/><circle cx="292" cy="390" r="3.9"/><circle cx="540" cy="391" r="3.9"/><circle cx="433" cy="394" r="3.9"/><circle cx="499" cy="386" r="3.9"/><circle cx="534" cy="396" r="3.9"/><circle cx="364" cy="397" r="3.9"/><circle cx="481" cy="407" r="3.9"/><circle cx="388" cy="383" r="3.9"/><circle cx="404" cy="400" r="3.9"/><circle cx="402" cy="367" r="3.9"/><circle cx="410" cy="372" r="3.9"/><circle cx="508" cy="379" r="3.9"/><circle cx="421" cy="375" r="3.9"/><circle cx="396" cy="424" r="3.9"/><circle cx="385" cy="373" r="3.9"/><circle cx="440" cy="370" r="3.9"/><circle cx="331" cy="408" r="3.9"/><circle cx="365" cy="356" r="3.9"/><circle cx="405" cy="392" r="3.9"/><circle cx="360" cy="377" r="3.9"/><circle cx="399" cy="385" r="3.9"/><circle cx="356" cy="379" r="3.9"/><circle cx="586" cy="393" r="3.9"/><circle cx="527" cy="385" r="3.9"/><circle cx="449" cy="411" r="3.9"/><circle cx="405" cy="365" r="3.9"/><circle cx="602" cy="379" r="3.9"/><circle cx="438" cy="362" r="3.9"/><circle cx="402" cy="393" r="3.9"/><circle cx="436" cy="381" r="3.9"/><circle cx="437" cy="384" r="3.9"/><circle cx="534" cy="375" r="3.9"/><circle cx="408" cy="383" r="3.9"/><circle cx="594" cy="398" r="3.9"/><circle cx="332" cy="369" r="3.9"/><circle cx="471" cy="386" r="3.9"/><circle cx="322" cy="346" r="3.9"/><circle cx="569" cy="379" r="3.9"/><circle cx="381" cy="399" r="3.9"/><circle cx="405" cy="358" r="3.9"/><circle cx="491" cy="383" r="3.9"/><circle cx="520" cy="384" r="3.9"/><circle cx="312" cy="379" r="3.9"/><circle cx="379" cy="402" r="3.9"/><circle cx="287" cy="366" r="3.9"/><circle cx="422" cy="388" r="3.9"/><circle cx="401" cy="377" r="3.9"/><circle cx="379" cy="388" r="3.9"/><circle cx="349" cy="359" r="3.9"/><circle cx="376" cy="402" r="3.9"/><circle cx="344" cy="373" r="3.9"/><circle cx="456" cy="385" r="3.9"/><circle cx="543" cy="371" r="3.9"/><circle cx="240" cy="406" r="3.9"/><circle cx="399" cy="379" r="3.9"/><circle cx="373" cy="379" r="3.9"/><circle cx="453" cy="392" r="3.9"/><circle cx="326" cy="394" r="3.9"/><circle cx="397" cy="400" r="3.9"/><circle cx="318" cy="413" r="3.9"/><circle cx="471" cy="380" r="3.9"/><circle cx="418" cy="320" r="3.9"/><circle cx="395" cy="387" r="3.9"/><circle cx="442" cy="396" r="3.9"/><circle cx="388" cy="382" r="3.9"/><circle cx="273" cy="408" r="3.9"/><circle cx="462" cy="381" r="3.9"/><circle cx="435" cy="401" r="3.9"/><circle cx="396" cy="391" r="3.9"/><circle cx="496" cy="400" r="3.9"/><circle cx="517" cy="392" r="3.9"/><circle cx="314" cy="376" r="3.9"/><circle cx="341" cy="355" r="3.9"/><circle cx="546" cy="394" r="3.9"/><circle cx="534" cy="397" r="3.9"/><circle cx="345" cy="394" r="3.9"/><circle cx="306" cy="380" r="3.9"/><circle cx="354" cy="372" r="3.9"/><circle cx="366" cy="398" r="3.9"/><circle cx="270" cy="389" r="3.9"/><circle cx="412" cy="375" r="3.9"/><circle cx="297" cy="380" r="3.9"/><circle cx="303" cy="400" r="3.9"/><circle cx="490" cy="352" r="3.9"/><circle cx="350" cy="393" r="3.9"/><circle cx="403" cy="384" r="3.9"/><circle cx="465" cy="389" r="3.9"/><circle cx="481" cy="388" r="3.9"/><circle cx="380" cy="394" r="3.9"/><circle cx="414" cy="374" r="3.9"/><circle cx="337" cy="405" r="3.9"/><circle cx="563" cy="378" r="3.9"/><circle cx="467" cy="399" r="3.9"/><circle cx="313" cy="364" r="3.9"/><circle cx="410" cy="386" r="3.9"/><circle cx="472" cy="441" r="3.9"/><circle cx="452" cy="379" r="3.9"/><circle cx="571" cy="366" r="3.9"/><circle cx="530" cy="382" r="3.9"/><circle cx="362" cy="410" r="3.9"/><circle cx="402" cy="378" r="3.9"/><circle cx="297" cy="385" r="3.9"/><circle cx="432" cy="367" r="3.9"/><circle cx="423" cy="377" r="3.9"/><circle cx="418" cy="379" r="3.9"/><circle cx="226" cy="391" r="3.9"/><circle cx="351" cy="372" r="3.9"/><circle cx="420" cy="382" r="3.9"/><circle cx="299" cy="363" r="3.9"/><circle cx="333" cy="361" r="3.9"/><circle cx="377" cy="351" r="3.9"/><circle cx="440" cy="390" r="3.9"/><circle cx="395" cy="386" r="3.9"/><circle cx="331" cy="384" r="3.9"/><circle cx="479" cy="381" r="3.9"/><circle cx="362" cy="386" r="3.9"/><circle cx="366" cy="397" r="3.9"/><circle cx="288" cy="367" r="3.9"/><circle cx="340" cy="377" r="3.9"/><circle cx="467" cy="386" r="3.9"/><circle cx="267" cy="394" r="3.9"/><circle cx="403" cy="389" r="3.9"/><circle cx="473" cy="417" r="3.9"/><circle cx="376" cy="393" r="3.9"/><circle cx="431" cy="396" r="3.9"/><circle cx="311" cy="383" r="3.9"/><circle cx="525" cy="409" r="3.9"/><circle cx="506" cy="389" r="3.9"/><circle cx="430" cy="366" r="3.9"/><circle cx="255" cy="354" r="3.9"/><circle cx="318" cy="381" r="3.9"/><circle cx="496" cy="389" r="3.9"/><circle cx="560" cy="384" r="3.9"/><circle cx="436" cy="435" r="3.9"/><circle cx="519" cy="372" r="3.9"/><circle cx="356" cy="374" r="3.9"/><circle cx="393" cy="392" r="3.9"/><circle cx="410" cy="380" r="3.9"/><circle cx="447" cy="346" r="3.9"/><circle cx="275" cy="381" r="3.9"/><circle cx="492" cy="369" r="3.9"/><circle cx="526" cy="375" r="3.9"/><circle cx="309" cy="377" r="3.9"/><circle cx="290" cy="358" r="3.9"/><circle cx="440" cy="357" r="3.9"/><circle cx="352" cy="389" r="3.9"/><circle cx="201" cy="377" r="3.9"/><circle cx="481" cy="369" r="3.9"/><circle cx="423" cy="389" r="3.9"/><circle cx="368" cy="391" r="3.9"/><circle cx="596" cy="412" r="3.9"/><circle cx="422" cy="365" r="3.9"/><circle cx="343" cy="393" r="3.9"/><circle cx="419" cy="343" r="3.9"/><circle cx="318" cy="389" r="3.9"/><circle cx="343" cy="357" r="3.9"/><circle cx="444" cy="425" r="3.9"/><circle cx="361" cy="352" r="3.9"/><circle cx="370" cy="409" r="3.9"/><circle cx="556" cy="391" r="3.9"/><circle cx="485" cy="381" r="3.9"/><circle cx="480" cy="413" r="3.9"/><circle cx="456" cy="396" r="3.9"/><circle cx="452" cy="385" r="3.9"/><circle cx="538" cy="351" r="3.9"/><circle cx="408" cy="394" r="3.9"/><circle cx="573" cy="425" r="3.9"/><circle cx="326" cy="382" r="3.9"/><circle cx="387" cy="370" r="3.9"/><circle cx="288" cy="387" r="3.9"/><circle cx="379" cy="371" r="3.9"/><circle cx="455" cy="397" r="3.9"/><circle cx="537" cy="398" r="3.9"/><circle cx="351" cy="372" r="3.9"/><circle cx="410" cy="383" r="3.9"/><circle cx="378" cy="371" r="3.9"/><circle cx="345" cy="383" r="3.9"/><circle cx="305" cy="313" r="3.9"/><circle cx="415" cy="387" r="3.9"/><circle cx="257" cy="401" r="3.9"/><circle cx="419" cy="409" r="3.9"/><circle cx="411" cy="390" r="3.9"/><circle cx="352" cy="396" r="3.9"/><circle cx="321" cy="362" r="3.9"/><circle cx="288" cy="372" r="3.9"/><circle cx="574" cy="369" r="3.9"/><circle cx="292" cy="395" r="3.9"/><circle cx="547" cy="395" r="3.9"/><circle cx="462" cy="404" r="3.9"/><circle cx="378" cy="395" r="3.9"/><circle cx="308" cy="384" r="3.9"/><circle cx="501" cy="393" r="3.9"/><circle cx="562" cy="394" r="3.9"/><circle cx="327" cy="380" r="3.9"/><circle cx="383" cy="367" r="3.9"/><circle cx="502" cy="385" r="3.9"/><circle cx="439" cy="363" r="3.9"/><circle cx="586" cy="390" r="3.9"/><circle cx="359" cy="372" r="3.9"/><circle cx="457" cy="379" r="3.9"/><circle cx="300" cy="393" r="3.9"/><circle cx="594" cy="395" r="3.9"/><circle cx="345" cy="406" r="3.9"/><circle cx="215" cy="383" r="3.9"/><circle cx="399" cy="385" r="3.9"/><circle cx="397" cy="392" r="3.9"/><circle cx="578" cy="266" r="3.9"/><circle cx="380" cy="390" r="3.9"/><circle cx="409" cy="366" r="3.9"/><circle cx="462" cy="392" r="3.9"/><circle cx="549" cy="372" r="3.9"/><circle cx="404" cy="386" r="3.9"/><circle cx="501" cy="358" r="3.9"/><circle cx="455" cy="391" r="3.9"/><circle cx="384" cy="393" r="3.9"/><circle cx="416" cy="385" r="3.9"/><circle cx="412" cy="417" r="3.9"/><circle cx="329" cy="336" r="3.9"/><circle cx="516" cy="395" r="3.9"/><circle cx="288" cy="382" r="3.9"/><circle cx="513" cy="394" r="3.9"/><circle cx="494" cy="405" r="3.9"/><circle cx="401" cy="388" r="3.9"/><circle cx="342" cy="361" r="3.9"/><circle cx="390" cy="356" r="3.9"/><circle cx="451" cy="340" r="3.9"/><circle cx="475" cy="390" r="3.9"/><circle cx="435" cy="373" r="3.9"/><circle cx="497" cy="386" r="3.9"/><circle cx="361" cy="397" r="3.9"/><circle cx="430" cy="379" r="3.9"/><circle cx="272" cy="389" r="3.9"/><circle cx="477" cy="371" r="3.9"/><circle cx="423" cy="384" r="3.9"/><circle cx="373" cy="374" r="3.9"/><circle cx="512" cy="385" r="3.9"/><circle cx="470" cy="362" r="3.9"/><circle cx="162" cy="391" r="3.9"/><circle cx="413" cy="398" r="3.9"/><circle cx="282" cy="401" r="3.9"/><circle cx="503" cy="362" r="3.9"/><circle cx="364" cy="390" r="3.9"/><circle cx="416" cy="392" r="3.9"/><circle cx="388" cy="396" r="3.9"/><circle cx="440" cy="383" r="3.9"/><circle cx="466" cy="387" r="3.9"/><circle cx="523" cy="376" r="3.9"/><circle cx="323" cy="370" r="3.9"/><circle cx="548" cy="377" r="3.9"/><circle cx="328" cy="308" r="3.9"/><circle cx="434" cy="374" r="3.9"/><circle cx="512" cy="396" r="3.9"/><circle cx="472" cy="387" r="3.9"/><circle cx="327" cy="357" r="3.9"/><circle cx="348" cy="393" r="3.9"/><circle cx="369" cy="398" r="3.9"/><circle cx="405" cy="412" r="3.9"/><circle cx="511" cy="382" r="3.9"/><circle cx="296" cy="385" r="3.9"/><circle cx="451" cy="389" r="3.9"/><circle cx="463" cy="388" r="3.9"/><circle cx="459" cy="395" r="3.9"/><circle cx="451" cy="394" r="3.9"/><circle cx="543" cy="382" r="3.9"/><circle cx="453" cy="410" r="3.9"/><circle cx="485" cy="368" r="3.9"/><circle cx="459" cy="378" r="3.9"/><circle cx="567" cy="400" r="3.9"/><circle cx="243" cy="390" r="3.9"/><circle cx="522" cy="383" r="3.9"/><circle cx="387" cy="363" r="3.9"/><circle cx="385" cy="405" r="3.9"/><circle cx="324" cy="380" r="3.9"/><circle cx="245" cy="388" r="3.9"/><circle cx="376" cy="375" r="3.9"/><circle cx="349" cy="387" r="3.9"/><circle cx="453" cy="383" r="3.9"/><circle cx="280" cy="386" r="3.9"/><circle cx="536" cy="398" r="3.9"/><circle cx="434" cy="393" r="3.9"/><circle cx="388" cy="370" r="3.9"/><circle cx="347" cy="378" r="3.9"/><circle cx="340" cy="390" r="3.9"/><circle cx="310" cy="382" r="3.9"/><circle cx="362" cy="382" r="3.9"/><circle cx="410" cy="416" r="3.9"/><circle cx="394" cy="409" r="3.9"/><circle cx="285" cy="369" r="3.9"/><circle cx="386" cy="384" r="3.9"/><circle cx="331" cy="373" r="3.9"/><circle cx="424" cy="394" r="3.9"/><circle cx="574" cy="389" r="3.9"/><circle cx="465" cy="380" r="3.9"/><circle cx="382" cy="357" r="3.9"/><circle cx="267" cy="379" r="3.9"/><circle cx="285" cy="380" r="3.9"/><circle cx="261" cy="372" r="3.9"/><circle cx="473" cy="394" r="3.9"/><circle cx="342" cy="356" r="3.9"/><circle cx="415" cy="389" r="3.9"/><circle cx="355" cy="363" r="3.9"/><circle cx="418" cy="407" r="3.9"/><circle cx="533" cy="381" r="3.9"/><circle cx="349" cy="390" r="3.9"/><circle cx="380" cy="395" r="3.9"/><circle cx="339" cy="441" r="3.9"/><circle cx="487" cy="386" r="3.9"/><circle cx="319" cy="377" r="3.9"/><circle cx="310" cy="384" r="3.9"/><circle cx="288" cy="377" r="3.9"/><circle cx="286" cy="383" r="3.9"/><circle cx="451" cy="389" r="3.9"/><circle cx="322" cy="370" r="3.9"/><circle cx="493" cy="396" r="3.9"/><circle cx="432" cy="339" r="3.9"/><circle cx="313" cy="389" r="3.9"/><circle cx="385" cy="391" r="3.9"/><circle cx="389" cy="403" r="3.9"/><circle cx="349" cy="409" r="3.9"/><circle cx="579" cy="352" r="3.9"/><circle cx="242" cy="384" r="3.9"/><circle cx="443" cy="399" r="3.9"/><circle cx="439" cy="386" r="3.9"/><circle cx="359" cy="382" r="3.9"/><circle cx="423" cy="381" r="3.9"/><circle cx="487" cy="382" r="3.9"/><circle cx="423" cy="377" r="3.9"/><circle cx="446" cy="394" r="3.9"/><circle cx="471" cy="404" r="3.9"/><circle cx="231" cy="399" r="3.9"/><circle cx="540" cy="373" r="3.9"/><circle cx="610" cy="327" r="3.9"/><circle cx="496" cy="401" r="3.9"/><circle cx="499" cy="397" r="3.9"/><circle cx="286" cy="380" r="3.9"/><circle cx="399" cy="374" r="3.9"/><circle cx="338" cy="397" r="3.9"/><circle cx="358" cy="374" r="3.9"/><circle cx="495" cy="366" r="3.9"/><circle cx="339" cy="425" r="3.9"/><circle cx="398" cy="384" r="3.9"/><circle cx="242" cy="390" r="3.9"/><circle cx="396" cy="392" r="3.9"/><circle cx="418" cy="375" r="3.9"/><circle cx="348" cy="349" r="3.9"/><circle cx="346" cy="369" r="3.9"/><circle cx="576" cy="391" r="3.9"/><circle cx="303" cy="388" r="3.9"/><circle cx="317" cy="375" r="3.9"/><circle cx="338" cy="382" r="3.9"/><circle cx="515" cy="393" r="3.9"/><circle cx="594" cy="418" r="3.9"/><circle cx="439" cy="381" r="3.9"/><circle cx="347" cy="408" r="3.9"/><circle cx="372" cy="380" r="3.9"/><circle cx="503" cy="389" r="3.9"/><circle cx="329" cy="387" r="3.9"/><circle cx="537" cy="400" r="3.9"/><circle cx="534" cy="388" r="3.9"/><circle cx="416" cy="394" r="3.9"/><circle cx="466" cy="385" r="3.9"/><circle cx="476" cy="391" r="3.9"/><circle cx="546" cy="380" r="3.9"/><circle cx="317" cy="386" r="3.9"/><circle cx="514" cy="393" r="3.9"/><circle cx="377" cy="389" r="3.9"/><circle cx="342" cy="368" r="3.9"/><circle cx="419" cy="403" r="3.9"/><circle cx="391" cy="383" r="3.9"/><circle cx="323" cy="383" r="3.9"/><circle cx="269" cy="331" r="3.9"/><circle cx="327" cy="390" r="3.9"/><circle cx="537" cy="408" r="3.9"/><circle cx="582" cy="406" r="3.9"/><circle cx="467" cy="393" r="3.9"/><circle cx="514" cy="416" r="3.9"/><circle cx="364" cy="378" r="3.9"/><circle cx="403" cy="370" r="3.9"/><circle cx="435" cy="457" r="3.9"/><circle cx="315" cy="390" r="3.9"/><circle cx="323" cy="402" r="3.9"/><circle cx="418" cy="388" r="3.9"/><circle cx="381" cy="393" r="3.9"/><circle cx="316" cy="404" r="3.9"/><circle cx="444" cy="393" r="3.9"/><circle cx="386" cy="381" r="3.9"/><circle cx="499" cy="394" r="3.9"/><circle cx="409" cy="342" r="3.9"/><circle cx="383" cy="389" r="3.9"/><circle cx="421" cy="388" r="3.9"/><circle cx="395" cy="386" r="3.9"/><circle cx="351" cy="389" r="3.9"/><circle cx="374" cy="366" r="3.9"/><circle cx="476" cy="367" r="3.9"/><circle cx="466" cy="386" r="3.9"/><circle cx="523" cy="386" r="3.9"/><circle cx="261" cy="363" r="3.9"/><circle cx="375" cy="406" r="3.9"/><circle cx="373" cy="393" r="3.9"/><circle cx="425" cy="382" r="3.9"/><circle cx="370" cy="368" r="3.9"/><circle cx="364" cy="407" r="3.9"/><circle cx="479" cy="405" r="3.9"/><circle cx="425" cy="381" r="3.9"/><circle cx="307" cy="345" r="3.9"/><circle cx="527" cy="357" r="3.9"/><circle cx="497" cy="407" r="3.9"/><circle cx="359" cy="373" r="3.9"/><circle cx="483" cy="348" r="3.9"/><circle cx="345" cy="374" r="3.9"/><circle cx="509" cy="409" r="3.9"/><circle cx="390" cy="352" r="3.9"/><circle cx="339" cy="413" r="3.9"/><circle cx="377" cy="380" r="3.9"/><circle cx="342" cy="380" r="3.9"/><circle cx="427" cy="405" r="3.9"/><circle cx="425" cy="403" r="3.9"/><circle cx="413" cy="391" r="3.9"/><circle cx="361" cy="381" r="3.9"/><circle cx="418" cy="380" r="3.9"/><circle cx="243" cy="445" r="3.9"/><circle cx="431" cy="396" r="3.9"/><circle cx="509" cy="410" r="3.9"/><circle cx="434" cy="394" r="3.9"/><circle cx="375" cy="385" r="3.9"/><circle cx="394" cy="400" r="3.9"/><circle cx="398" cy="384" r="3.9"/><circle cx="361" cy="404" r="3.9"/><circle cx="358" cy="397" r="3.9"/><circle cx="328" cy="338" r="3.9"/><circle cx="514" cy="386" r="3.9"/><circle cx="408" cy="353" r="3.9"/><circle cx="494" cy="394" r="3.9"/><circle cx="388" cy="368" r="3.9"/><circle cx="416" cy="352" r="3.9"/><circle cx="395" cy="388" r="3.9"/><circle cx="450" cy="377" r="3.9"/><circle cx="482" cy="360" r="3.9"/><circle cx="431" cy="416" r="3.9"/><circle cx="350" cy="571" r="3.9"/><circle cx="341" cy="385" r="3.9"/><circle cx="556" cy="358" r="3.9"/><circle cx="385" cy="415" r="3.9"/><circle cx="384" cy="383" r="3.9"/><circle cx="538" cy="378" r="3.9"/><circle cx="505" cy="398" r="3.9"/><circle cx="457" cy="384" r="3.9"/><circle cx="375" cy="374" r="3.9"/><circle cx="444" cy="391" r="3.9"/><circle cx="458" cy="345" r="3.9"/><circle cx="395" cy="363" r="3.9"/><circle cx="285" cy="406" r="3.9"/><circle cx="292" cy="378" r="3.9"/><circle cx="445" cy="379" r="3.9"/><circle cx="444" cy="396" r="3.9"/><circle cx="389" cy="427" r="3.9"/><circle cx="307" cy="381" r="3.9"/><circle cx="283" cy="373" r="3.9"/><circle cx="381" cy="378" r="3.9"/><circle cx="282" cy="364" r="3.9"/><circle cx="489" cy="388" r="3.9"/><circle cx="511" cy="391" r="3.9"/><circle cx="487" cy="390" r="3.9"/><circle cx="357" cy="363" r="3.9"/><circle cx="333" cy="364" r="3.9"/><circle cx="357" cy="382" r="3.9"/><circle cx="394" cy="374" r="3.9"/><circle cx="495" cy="387" r="3.9"/><circle cx="463" cy="395" r="3.9"/><circle cx="461" cy="359" r="3.9"/><circle cx="428" cy="323" r="3.9"/><circle cx="468" cy="377" r="3.9"/><circle cx="537" cy="382" r="3.9"/><circle cx="316" cy="394" r="3.9"/><circle cx="369" cy="381" r="3.9"/><circle cx="287" cy="365" r="3.9"/><circle cx="552" cy="371" r="3.9"/><circle cx="524" cy="390" r="3.9"/><circle cx="476" cy="369" r="3.9"/><circle cx="304" cy="433" r="3.9"/><circle cx="425" cy="387" r="3.9"/><circle cx="389" cy="384" r="3.9"/><circle cx="417" cy="380" r="3.9"/><circle cx="393" cy="394" r="3.9"/><circle cx="455" cy="396" r="3.9"/><circle cx="375" cy="365" r="3.9"/><circle cx="485" cy="348" r="3.9"/><circle cx="431" cy="397" r="3.9"/><circle cx="384" cy="343" r="3.9"/><circle cx="400" cy="368" r="3.9"/><circle cx="371" cy="404" r="3.9"/><circle cx="481" cy="384" r="3.9"/><circle cx="386" cy="370" r="3.9"/><circle cx="436" cy="414" r="3.9"/><circle cx="375" cy="380" r="3.9"/><circle cx="279" cy="383" r="3.9"/><circle cx="489" cy="385" r="3.9"/><circle cx="317" cy="374" r="3.9"/><circle cx="469" cy="390" r="3.9"/><circle cx="447" cy="388" r="3.9"/><circle cx="264" cy="366" r="3.9"/><circle cx="327" cy="405" r="3.9"/><circle cx="364" cy="366" r="3.9"/><circle cx="337" cy="384" r="3.9"/><circle cx="306" cy="420" r="3.9"/><circle cx="475" cy="404" r="3.9"/><circle cx="389" cy="391" r="3.9"/><circle cx="444" cy="383" r="3.9"/><circle cx="372" cy="370" r="3.9"/><circle cx="436" cy="398" r="3.9"/><circle cx="344" cy="382" r="3.9"/><circle cx="407" cy="365" r="3.9"/><circle cx="461" cy="338" r="3.9"/><circle cx="414" cy="379" r="3.9"/><circle cx="369" cy="343" r="3.9"/><circle cx="314" cy="385" r="3.9"/><circle cx="424" cy="395" r="3.9"/><circle cx="440" cy="375" r="3.9"/><circle cx="387" cy="395" r="3.9"/><circle cx="342" cy="389" r="3.9"/><circle cx="457" cy="372" r="3.9"/><circle cx="383" cy="370" r="3.9"/><circle cx="439" cy="393" r="3.9"/><circle cx="443" cy="373" r="3.9"/><circle cx="184" cy="381" r="3.9"/><circle cx="421" cy="387" r="3.9"/><circle cx="347" cy="376" r="3.9"/><circle cx="531" cy="368" r="3.9"/><circle cx="387" cy="376" r="3.9"/><circle cx="341" cy="377" r="3.9"/><circle cx="390" cy="449" r="3.9"/><circle cx="424" cy="382" r="3.9"/><circle cx="360" cy="388" r="3.9"/><circle cx="405" cy="343" r="3.9"/><circle cx="291" cy="395" r="3.9"/><circle cx="390" cy="387" r="3.9"/><circle cx="478" cy="401" r="3.9"/><circle cx="583" cy="404" r="3.9"/><circle cx="472" cy="395" r="3.9"/><circle cx="434" cy="375" r="3.9"/><circle cx="514" cy="388" r="3.9"/><circle cx="499" cy="397" r="3.9"/><circle cx="556" cy="378" r="3.9"/><circle cx="505" cy="406" r="3.9"/><circle cx="399" cy="386" r="3.9"/><circle cx="432" cy="389" r="3.9"/><circle cx="425" cy="384" r="3.9"/><circle cx="436" cy="371" r="3.9"/><circle cx="427" cy="399" r="3.9"/><circle cx="341" cy="373" r="3.9"/><circle cx="225" cy="394" r="3.9"/><circle cx="351" cy="384" r="3.9"/><circle cx="231" cy="386" r="3.9"/><circle cx="416" cy="384" r="3.9"/><circle cx="410" cy="403" r="3.9"/><circle cx="262" cy="410" r="3.9"/><circle cx="470" cy="376" r="3.9"/><circle cx="486" cy="377" r="3.9"/><circle cx="418" cy="397" r="3.9"/><circle cx="556" cy="380" r="3.9"/><circle cx="574" cy="366" r="3.9"/><circle cx="304" cy="410" r="3.9"/><circle cx="501" cy="412" r="3.9"/><circle cx="448" cy="411" r="3.9"/><circle cx="446" cy="377" r="3.9"/><circle cx="492" cy="404" r="3.9"/><circle cx="346" cy="340" r="3.9"/><circle cx="358" cy="395" r="3.9"/><circle cx="337" cy="368" r="3.9"/><circle cx="343" cy="371" r="3.9"/><circle cx="401" cy="392" r="3.9"/><circle cx="282" cy="368" r="3.9"/><circle cx="318" cy="400" r="3.9"/><circle cx="460" cy="388" r="3.9"/><circle cx="403" cy="352" r="3.9"/><circle cx="443" cy="411" r="3.9"/><circle cx="243" cy="384" r="3.9"/><circle cx="341" cy="381" r="3.9"/><circle cx="361" cy="386" r="3.9"/><circle cx="412" cy="355" r="3.9"/><circle cx="358" cy="390" r="3.9"/><circle cx="492" cy="390" r="3.9"/><circle cx="405" cy="396" r="3.9"/><circle cx="411" cy="369" r="3.9"/><circle cx="411" cy="389" r="3.9"/><circle cx="472" cy="374" r="3.9"/><circle cx="368" cy="396" r="3.9"/><circle cx="508" cy="400" r="3.9"/><circle cx="450" cy="364" r="3.9"/><circle cx="423" cy="410" r="3.9"/><circle cx="413" cy="363" r="3.9"/><circle cx="455" cy="389" r="3.9"/><circle cx="499" cy="451" r="3.9"/><circle cx="493" cy="397" r="3.9"/><circle cx="443" cy="387" r="3.9"/><circle cx="487" cy="392" r="3.9"/><circle cx="420" cy="420" r="3.9"/><circle cx="520" cy="416" r="3.9"/><circle cx="407" cy="370" r="3.9"/><circle cx="227" cy="376" r="3.9"/><circle cx="527" cy="391" r="3.9"/><circle cx="419" cy="382" r="3.9"/><circle cx="307" cy="398" r="3.9"/><circle cx="392" cy="435" r="3.9"/><circle cx="332" cy="366" r="3.9"/><circle cx="594" cy="379" r="3.9"/><circle cx="453" cy="395" r="3.9"/><circle cx="272" cy="373" r="3.9"/><circle cx="458" cy="363" r="3.9"/><circle cx="375" cy="392" r="3.9"/><circle cx="578" cy="398" r="3.9"/><circle cx="317" cy="363" r="3.9"/><circle cx="212" cy="368" r="3.9"/><circle cx="415" cy="396" r="3.9"/><circle cx="379" cy="363" r="3.9"/><circle cx="373" cy="390" r="3.9"/><circle cx="221" cy="390" r="3.9"/><circle cx="447" cy="407" r="3.9"/><circle cx="557" cy="385" r="3.9"/><circle cx="242" cy="381" r="3.9"/><circle cx="513" cy="395" r="3.9"/><circle cx="360" cy="378" r="3.9"/><circle cx="448" cy="400" r="3.9"/><circle cx="393" cy="369" r="3.9"/><circle cx="507" cy="389" r="3.9"/><circle cx="456" cy="373" r="3.9"/><circle cx="358" cy="379" r="3.9"/><circle cx="472" cy="409" r="3.9"/><circle cx="365" cy="423" r="3.9"/><circle cx="252" cy="395" r="3.9"/><circle cx="588" cy="381" r="3.9"/><circle cx="379" cy="387" r="3.9"/><circle cx="356" cy="367" r="3.9"/><circle cx="439" cy="389" r="3.9"/><circle cx="272" cy="387" r="3.9"/><circle cx="291" cy="382" r="3.9"/><circle cx="366" cy="382" r="3.9"/><circle cx="364" cy="382" r="3.9"/><circle cx="416" cy="379" r="3.9"/><circle cx="508" cy="397" r="3.9"/><circle cx="368" cy="387" r="3.9"/><circle cx="453" cy="385" r="3.9"/><circle cx="463" cy="399" r="3.9"/><circle cx="314" cy="355" r="3.9"/><circle cx="430" cy="387" r="3.9"/><circle cx="327" cy="418" r="3.9"/><circle cx="503" cy="396" r="3.9"/><circle cx="450" cy="375" r="3.9"/><circle cx="411" cy="375" r="3.9"/><circle cx="292" cy="388" r="3.9"/><circle cx="420" cy="392" r="3.9"/><circle cx="342" cy="368" r="3.9"/><circle cx="472" cy="388" r="3.9"/><circle cx="399" cy="386" r="3.9"/><circle cx="338" cy="371" r="3.9"/><circle cx="491" cy="374" r="3.9"/><circle cx="473" cy="396" r="3.9"/><circle cx="357" cy="384" r="3.9"/><circle cx="512" cy="361" r="3.9"/><circle cx="383" cy="386" r="3.9"/><circle cx="382" cy="390" r="3.9"/><circle cx="421" cy="387" r="3.9"/><circle cx="343" cy="381" r="3.9"/><circle cx="371" cy="358" r="3.9"/><circle cx="396" cy="356" r="3.9"/><circle cx="544" cy="388" r="3.9"/><circle cx="542" cy="392" r="3.9"/><circle cx="387" cy="379" r="3.9"/><circle cx="551" cy="408" r="3.9"/><circle cx="406" cy="386" r="3.9"/><circle cx="443" cy="367" r="3.9"/><circle cx="487" cy="401" r="3.9"/><circle cx="435" cy="384" r="3.9"/><circle cx="431" cy="391" r="3.9"/><circle cx="304" cy="407" r="3.9"/><circle cx="524" cy="379" r="3.9"/><circle cx="373" cy="369" r="3.9"/><circle cx="383" cy="379" r="3.9"/><circle cx="146" cy="367" r="3.9"/><circle cx="498" cy="384" r="3.9"/><circle cx="482" cy="392" r="3.9"/><circle cx="480" cy="400" r="3.9"/><circle cx="496" cy="400" r="3.9"/><circle cx="558" cy="391" r="3.9"/><circle cx="406" cy="390" r="3.9"/><circle cx="492" cy="393" r="3.9"/><circle cx="344" cy="372" r="3.9"/><circle cx="379" cy="389" r="3.9"/><circle cx="503" cy="378" r="3.9"/><circle cx="444" cy="420" r="3.9"/><circle cx="292" cy="434" r="3.9"/><circle cx="441" cy="359" r="3.9"/><circle cx="394" cy="384" r="3.9"/><circle cx="338" cy="276" r="3.9"/><circle cx="448" cy="366" r="3.9"/><circle cx="374" cy="366" r="3.9"/><circle cx="271" cy="374" r="3.9"/><circle cx="312" cy="391" r="3.9"/><circle cx="565" cy="384" r="3.9"/><circle cx="276" cy="383" r="3.9"/><circle cx="429" cy="379" r="3.9"/><circle cx="463" cy="396" r="3.9"/><circle cx="466" cy="387" r="3.9"/><circle cx="302" cy="357" r="3.9"/><circle cx="381" cy="367" r="3.9"/><circle cx="422" cy="392" r="3.9"/><circle cx="480" cy="378" r="3.9"/><circle cx="353" cy="384" r="3.9"/><circle cx="307" cy="382" r="3.9"/><circle cx="498" cy="390" r="3.9"/><circle cx="507" cy="381" r="3.9"/><circle cx="442" cy="384" r="3.9"/><circle cx="356" cy="362" r="3.9"/><circle cx="445" cy="400" r="3.9"/><circle cx="419" cy="400" r="3.9"/><circle cx="483" cy="386" r="3.9"/><circle cx="300" cy="377" r="3.9"/><circle cx="420" cy="391" r="3.9"/><circle cx="396" cy="376" r="3.9"/><circle cx="312" cy="443" r="3.9"/><circle cx="429" cy="372" r="3.9"/><circle cx="413" cy="370" r="3.9"/><circle cx="374" cy="361" r="3.9"/><circle cx="444" cy="378" r="3.9"/><circle cx="285" cy="386" r="3.9"/><circle cx="405" cy="357" r="3.9"/><circle cx="448" cy="389" r="3.9"/><circle cx="435" cy="392" r="3.9"/><circle cx="504" cy="409" r="3.9"/><circle cx="304" cy="379" r="3.9"/><circle cx="277" cy="358" r="3.9"/><circle cx="431" cy="386" r="3.9"/><circle cx="450" cy="385" r="3.9"/><circle cx="596" cy="390" r="3.9"/><circle cx="464" cy="366" r="3.9"/><circle cx="333" cy="358" r="3.9"/><circle cx="481" cy="452" r="3.9"/><circle cx="335" cy="375" r="3.9"/><circle cx="279" cy="339" r="3.9"/><circle cx="438" cy="375" r="3.9"/><circle cx="473" cy="379" r="3.9"/><circle cx="459" cy="361" r="3.9"/><circle cx="569" cy="386" r="3.9"/><circle cx="435" cy="390" r="3.9"/><circle cx="517" cy="376" r="3.9"/><circle cx="319" cy="456" r="3.9"/><circle cx="287" cy="379" r="3.9"/><circle cx="535" cy="427" r="3.9"/><circle cx="539" cy="369" r="3.9"/><circle cx="455" cy="396" r="3.9"/><circle cx="430" cy="377" r="3.9"/><circle cx="424" cy="399" r="3.9"/><circle cx="349" cy="371" r="3.9"/><circle cx="545" cy="382" r="3.9"/><circle cx="468" cy="411" r="3.9"/><circle cx="454" cy="399" r="3.9"/><circle cx="443" cy="395" r="3.9"/><circle cx="502" cy="370" r="3.9"/><circle cx="454" cy="366" r="3.9"/><circle cx="475" cy="401" r="3.9"/><circle cx="307" cy="368" r="3.9"/><circle cx="454" cy="377" r="3.9"/><circle cx="602" cy="373" r="3.9"/><circle cx="364" cy="395" r="3.9"/><circle cx="398" cy="382" r="3.9"/><circle cx="488" cy="379" r="3.9"/><circle cx="494" cy="381" r="3.9"/><circle cx="465" cy="381" r="3.9"/><circle cx="267" cy="408" r="3.9"/><circle cx="454" cy="509" r="3.9"/><circle cx="306" cy="391" r="3.9"/><circle cx="337" cy="373" r="3.9"/><circle cx="458" cy="382" r="3.9"/><circle cx="384" cy="384" r="3.9"/><circle cx="481" cy="401" r="3.9"/><circle cx="478" cy="395" r="3.9"/><circle cx="473" cy="399" r="3.9"/><circle cx="331" cy="367" r="3.9"/><circle cx="353" cy="384" r="3.9"/><circle cx="316" cy="377" r="3.9"/><circle cx="363" cy="368" r="3.9"/><circle cx="314" cy="378" r="3.9"/><circle cx="352" cy="380" r="3.9"/><circle cx="391" cy="373" r="3.9"/><circle cx="322" cy="379" r="3.9"/><circle cx="285" cy="382" r="3.9"/><circle cx="290" cy="393" r="3.9"/><circle cx="450" cy="382" r="3.9"/><circle cx="415" cy="378" r="3.9"/><circle cx="500" cy="405" r="3.9"/><circle cx="502" cy="391" r="3.9"/><circle cx="380" cy="407" r="3.9"/><circle cx="469" cy="403" r="3.9"/><circle cx="283" cy="384" r="3.9"/><circle cx="610" cy="388" r="3.9"/><circle cx="515" cy="411" r="3.9"/><circle cx="391" cy="383" r="3.9"/><circle cx="307" cy="373" r="3.9"/><circle cx="443" cy="381" r="3.9"/><circle cx="348" cy="393" r="3.9"/><circle cx="338" cy="360" r="3.9"/><circle cx="492" cy="377" r="3.9"/><circle cx="483" cy="351" r="3.9"/><circle cx="376" cy="384" r="3.9"/><circle cx="382" cy="370" r="3.9"/><circle cx="426" cy="382" r="3.9"/><circle cx="580" cy="405" r="3.9"/><circle cx="452" cy="366" r="3.9"/><circle cx="556" cy="387" r="3.9"/><circle cx="487" cy="389" r="3.9"/><circle cx="460" cy="390" r="3.9"/><circle cx="435" cy="393" r="3.9"/><circle cx="501" cy="393" r="3.9"/><circle cx="436" cy="381" r="3.9"/><circle cx="517" cy="405" r="3.9"/><circle cx="329" cy="390" r="3.9"/><circle cx="378" cy="405" r="3.9"/><circle cx="567" cy="386" r="3.9"/><circle cx="403" cy="375" r="3.9"/><circle cx="557" cy="390" r="3.9"/><circle cx="589" cy="361" r="3.9"/><circle cx="466" cy="378" r="3.9"/><circle cx="302" cy="372" r="3.9"/><circle cx="527" cy="379" r="3.9"/><circle cx="496" cy="399" r="3.9"/><circle cx="367" cy="409" r="3.9"/><circle cx="564" cy="396" r="3.9"/><circle cx="433" cy="379" r="3.9"/><circle cx="286" cy="413" r="3.9"/><circle cx="290" cy="383" r="3.9"/><circle cx="345" cy="438" r="3.9"/><circle cx="477" cy="372" r="3.9"/><circle cx="547" cy="391" r="3.9"/><circle cx="301" cy="382" r="3.9"/><circle cx="274" cy="378" r="3.9"/><circle cx="481" cy="406" r="3.9"/><circle cx="408" cy="376" r="3.9"/><circle cx="419" cy="401" r="3.9"/><circle cx="549" cy="411" r="3.9"/><circle cx="583" cy="379" r="3.9"/><circle cx="600" cy="400" r="3.9"/><circle cx="535" cy="385" r="3.9"/><circle cx="268" cy="417" r="3.9"/><circle cx="318" cy="443" r="3.9"/><circle cx="469" cy="400" r="3.9"/><circle cx="595" cy="295" r="3.9"/><circle cx="295" cy="407" r="3.9"/><circle cx="444" cy="361" r="3.9"/><circle cx="403" cy="376" r="3.9"/><circle cx="407" cy="435" r="3.9"/><circle cx="359" cy="371" r="3.9"/><circle cx="360" cy="376" r="3.9"/><circle cx="349" cy="357" r="3.9"/><circle cx="302" cy="405" r="3.9"/><circle cx="457" cy="390" r="3.9"/><circle cx="420" cy="391" r="3.9"/><circle cx="512" cy="404" r="3.9"/><circle cx="487" cy="383" r="3.9"/><circle cx="595" cy="394" r="3.9"/><circle cx="384" cy="406" r="3.9"/><circle cx="570" cy="385" r="3.9"/><circle cx="399" cy="397" r="3.9"/><circle cx="494" cy="389" r="3.9"/><circle cx="544" cy="419" r="3.9"/><circle cx="403" cy="386" r="3.9"/><circle cx="420" cy="402" r="3.9"/><circle cx="484" cy="375" r="3.9"/><circle cx="305" cy="378" r="3.9"/><circle cx="450" cy="416" r="3.9"/><circle cx="299" cy="377" r="3.9"/><circle cx="344" cy="371" r="3.9"/><circle cx="481" cy="422" r="3.9"/><circle cx="601" cy="386" r="3.9"/><circle cx="611" cy="388" r="3.9"/><circle cx="356" cy="376" r="3.9"/><circle cx="317" cy="384" r="3.9"/><circle cx="445" cy="396" r="3.9"/><circle cx="419" cy="388" r="3.9"/><circle cx="397" cy="390" r="3.9"/><circle cx="531" cy="396" r="3.9"/><circle cx="511" cy="382" r="3.9"/><circle cx="460" cy="394" r="3.9"/><circle cx="481" cy="382" r="3.9"/><circle cx="467" cy="384" r="3.9"/><circle cx="500" cy="363" r="3.9"/><circle cx="586" cy="396" r="3.9"/><circle cx="592" cy="384" r="3.9"/><circle cx="604" cy="396" r="3.9"/><circle cx="563" cy="385" r="3.9"/><circle cx="303" cy="153" r="3.9"/><circle cx="422" cy="370" r="3.9"/><circle cx="536" cy="396" r="3.9"/><circle cx="368" cy="401" r="3.9"/><circle cx="475" cy="406" r="3.9"/><circle cx="286" cy="380" r="3.9"/><circle cx="337" cy="396" r="3.9"/><circle cx="404" cy="389" r="3.9"/><circle cx="291" cy="389" r="3.9"/><circle cx="413" cy="357" r="3.9"/><circle cx="346" cy="398" r="3.9"/><circle cx="563" cy="400" r="3.9"/><circle cx="376" cy="384" r="3.9"/><circle cx="398" cy="404" r="3.9"/><circle cx="543" cy="378" r="3.9"/><circle cx="459" cy="377" r="3.9"/><circle cx="284" cy="385" r="3.9"/><circle cx="342" cy="405" r="3.9"/><circle cx="477" cy="395" r="3.9"/><circle cx="335" cy="383" r="3.9"/><circle cx="352" cy="405" r="3.9"/><circle cx="481" cy="389" r="3.9"/><circle cx="437" cy="398" r="3.9"/><circle cx="359" cy="397" r="3.9"/><circle cx="459" cy="404" r="3.9"/><circle cx="485" cy="406" r="3.9"/><circle cx="280" cy="389" r="3.9"/><circle cx="361" cy="389" r="3.9"/><circle cx="373" cy="387" r="3.9"/><circle cx="569" cy="394" r="3.9"/><circle cx="284" cy="373" r="3.9"/><circle cx="386" cy="392" r="3.9"/><circle cx="334" cy="380" r="3.9"/><circle cx="506" cy="375" r="3.9"/><circle cx="546" cy="395" r="3.9"/><circle cx="286" cy="383" r="3.9"/><circle cx="564" cy="379" r="3.9"/><circle cx="506" cy="400" r="3.9"/><circle cx="341" cy="439" r="3.9"/><circle cx="582" cy="399" r="3.9"/><circle cx="368" cy="341" r="3.9"/><circle cx="538" cy="411" r="3.9"/><circle cx="292" cy="383" r="3.9"/><circle cx="424" cy="372" r="3.9"/><circle cx="441" cy="370" r="3.9"/><circle cx="575" cy="384" r="3.9"/><circle cx="555" cy="432" r="3.9"/><circle cx="455" cy="379" r="3.9"/><circle cx="284" cy="402" r="3.9"/><circle cx="415" cy="384" r="3.9"/><circle cx="396" cy="365" r="3.9"/><circle cx="609" cy="413" r="3.9"/><circle cx="501" cy="405" r="3.9"/><circle cx="406" cy="379" r="3.9"/><circle cx="392" cy="385" r="3.9"/><circle cx="531" cy="417" r="3.9"/><circle cx="300" cy="367" r="3.9"/><circle cx="548" cy="399" r="3.9"/><circle cx="498" cy="356" r="3.9"/><circle cx="417" cy="361" r="3.9"/><circle cx="511" cy="437" r="3.9"/><circle cx="404" cy="390" r="3.9"/><circle cx="316" cy="389" r="3.9"/><circle cx="410" cy="362" r="3.9"/><circle cx="284" cy="389" r="3.9"/><circle cx="297" cy="404" r="3.9"/><circle cx="418" cy="384" r="3.9"/><circle cx="551" cy="380" r="3.9"/><circle cx="337" cy="379" r="3.9"/><circle cx="439" cy="463" r="3.9"/><circle cx="604" cy="402" r="3.9"/><circle cx="551" cy="375" r="3.9"/><circle cx="577" cy="378" r="3.9"/><circle cx="499" cy="384" r="3.9"/><circle cx="469" cy="395" r="3.9"/><circle cx="467" cy="397" r="3.9"/><circle cx="474" cy="401" r="3.9"/><circle cx="427" cy="363" r="3.9"/><circle cx="391" cy="371" r="3.9"/><circle cx="349" cy="377" r="3.9"/><circle cx="289" cy="401" r="3.9"/><circle cx="394" cy="365" r="3.9"/><circle cx="532" cy="376" r="3.9"/><circle cx="457" cy="401" r="3.9"/><circle cx="323" cy="377" r="3.9"/><circle cx="547" cy="390" r="3.9"/><circle cx="281" cy="371" r="3.9"/><circle cx="587" cy="419" r="3.9"/><circle cx="491" cy="390" r="3.9"/><circle cx="458" cy="371" r="3.9"/><circle cx="409" cy="395" r="3.9"/><circle cx="551" cy="378" r="3.9"/><circle cx="269" cy="369" r="3.9"/><circle cx="272" cy="366" r="3.9"/><circle cx="446" cy="391" r="3.9"/><circle cx="369" cy="368" r="3.9"/><circle cx="405" cy="347" r="3.9"/><circle cx="451" cy="387" r="3.9"/><circle cx="282" cy="382" r="3.9"/><circle cx="605" cy="363" r="3.9"/><circle cx="500" cy="359" r="3.9"/><circle cx="301" cy="380" r="3.9"/><circle cx="521" cy="397" r="3.9"/><circle cx="450" cy="356" r="3.9"/><circle cx="503" cy="391" r="3.9"/><circle cx="521" cy="387" r="3.9"/><circle cx="608" cy="389" r="3.9"/><circle cx="307" cy="382" r="3.9"/><circle cx="610" cy="398" r="3.9"/><circle cx="431" cy="371" r="3.9"/><circle cx="336" cy="381" r="3.9"/><circle cx="395" cy="396" r="3.9"/><circle cx="392" cy="391" r="3.9"/><circle cx="575" cy="411" r="3.9"/><circle cx="447" cy="368" r="3.9"/><circle cx="290" cy="405" r="3.9"/><circle cx="513" cy="394" r="3.9"/><circle cx="438" cy="368" r="3.9"/><circle cx="547" cy="380" r="3.9"/><circle cx="283" cy="360" r="3.9"/><circle cx="564" cy="398" r="3.9"/><circle cx="574" cy="359" r="3.9"/><circle cx="270" cy="400" r="3.9"/><circle cx="431" cy="388" r="3.9"/><circle cx="309" cy="383" r="3.9"/><circle cx="449" cy="374" r="3.9"/><circle cx="297" cy="374" r="3.9"/><circle cx="572" cy="363" r="3.9"/><circle cx="330" cy="389" r="3.9"/><circle cx="497" cy="371" r="3.9"/><circle cx="492" cy="413" r="3.9"/><circle cx="377" cy="384" r="3.9"/><circle cx="341" cy="389" r="3.9"/><circle cx="582" cy="364" r="3.9"/><circle cx="280" cy="389" r="3.9"/><circle cx="354" cy="401" r="3.9"/><circle cx="379" cy="385" r="3.9"/><circle cx="468" cy="382" r="3.9"/><circle cx="394" cy="365" r="3.9"/><circle cx="305" cy="370" r="3.9"/><circle cx="463" cy="383" r="3.9"/><circle cx="516" cy="393" r="3.9"/><circle cx="509" cy="414" r="3.9"/><circle cx="435" cy="370" r="3.9"/><circle cx="372" cy="404" r="3.9"/><circle cx="270" cy="382" r="3.9"/><circle cx="450" cy="364" r="3.9"/><circle cx="483" cy="399" r="3.9"/><circle cx="419" cy="412" r="3.9"/><circle cx="597" cy="402" r="3.9"/><circle cx="336" cy="377" r="3.9"/><circle cx="547" cy="387" r="3.9"/><circle cx="514" cy="418" r="3.9"/><circle cx="576" cy="379" r="3.9"/><circle cx="585" cy="395" r="3.9"/><circle cx="348" cy="362" r="3.9"/><circle cx="584" cy="397" r="3.9"/><circle cx="405" cy="409" r="3.9"/><circle cx="500" cy="369" r="3.9"/><circle cx="595" cy="370" r="3.9"/><circle cx="472" cy="389" r="3.9"/><circle cx="467" cy="393" r="3.9"/><circle cx="291" cy="367" r="3.9"/><circle cx="472" cy="402" r="3.9"/><circle cx="350" cy="420" r="3.9"/><circle cx="400" cy="387" r="3.9"/><circle cx="397" cy="378" r="3.9"/><circle cx="602" cy="403" r="3.9"/><circle cx="486" cy="391" r="3.9"/><circle cx="516" cy="375" r="3.9"/><circle cx="326" cy="390" r="3.9"/><circle cx="371" cy="392" r="3.9"/><circle cx="569" cy="404" r="3.9"/><circle cx="308" cy="354" r="3.9"/><circle cx="595" cy="378" r="3.9"/><circle cx="414" cy="382" r="3.9"/><circle cx="401" cy="375" r="3.9"/><circle cx="444" cy="389" r="3.9"/><circle cx="419" cy="400" r="3.9"/><circle cx="429" cy="397" r="3.9"/><circle cx="413" cy="402" r="3.9"/><circle cx="508" cy="379" r="3.9"/><circle cx="362" cy="371" r="3.9"/><circle cx="324" cy="390" r="3.9"/><circle cx="416" cy="396" r="3.9"/><circle cx="297" cy="393" r="3.9"/><circle cx="421" cy="395" r="3.9"/><circle cx="437" cy="374" r="3.9"/><circle cx="537" cy="374" r="3.9"/><circle cx="304" cy="373" r="3.9"/><circle cx="403" cy="366" r="3.9"/><circle cx="535" cy="383" r="3.9"/><circle cx="383" cy="377" r="3.9"/><circle cx="554" cy="386" r="3.9"/><circle cx="514" cy="381" r="3.9"/><circle cx="281" cy="383" r="3.9"/><circle cx="399" cy="398" r="3.9"/><circle cx="530" cy="374" r="3.9"/><circle cx="448" cy="384" r="3.9"/><circle cx="498" cy="383" r="3.9"/><circle cx="607" cy="393" r="3.9"/><circle cx="499" cy="398" r="3.9"/><circle cx="455" cy="380" r="3.9"/><circle cx="558" cy="387" r="3.9"/><circle cx="415" cy="353" r="3.9"/><circle cx="270" cy="372" r="3.9"/><circle cx="360" cy="362" r="3.9"/><circle cx="471" cy="379" r="3.9"/><circle cx="593" cy="376" r="3.9"/><circle cx="476" cy="381" r="3.9"/><circle cx="364" cy="394" r="3.9"/><circle cx="609" cy="319" r="3.9"/><circle cx="404" cy="398" r="3.9"/><circle cx="345" cy="372" r="3.9"/><circle cx="457" cy="406" r="3.9"/><circle cx="385" cy="397" r="3.9"/><circle cx="305" cy="381" r="3.9"/><circle cx="512" cy="389" r="3.9"/><circle cx="505" cy="411" r="3.9"/><circle cx="601" cy="393" r="3.9"/><circle cx="314" cy="374" r="3.9"/><circle cx="580" cy="392" r="3.9"/><circle cx="541" cy="431" r="3.9"/><circle cx="354" cy="380" r="3.9"/><circle cx="432" cy="350" r="3.9"/><circle cx="484" cy="391" r="3.9"/><circle cx="375" cy="366" r="3.9"/><circle cx="304" cy="388" r="3.9"/><circle cx="555" cy="400" r="3.9"/><circle cx="323" cy="360" r="3.9"/><circle cx="436" cy="394" r="3.9"/><circle cx="417" cy="378" r="3.9"/><circle cx="577" cy="377" r="3.9"/><circle cx="459" cy="375" r="3.9"/><circle cx="413" cy="376" r="3.9"/><circle cx="603" cy="396" r="3.9"/><circle cx="388" cy="385" r="3.9"/><circle cx="517" cy="402" r="3.9"/><circle cx="347" cy="374" r="3.9"/><circle cx="527" cy="396" r="3.9"/><circle cx="525" cy="381" r="3.9"/><circle cx="552" cy="404" r="3.9"/><circle cx="434" cy="401" r="3.9"/><circle cx="343" cy="431" r="3.9"/><circle cx="484" cy="374" r="3.9"/><circle cx="580" cy="390" r="3.9"/><circle cx="373" cy="407" r="3.9"/><circle cx="274" cy="376" r="3.9"/><circle cx="330" cy="403" r="3.9"/><circle cx="588" cy="385" r="3.9"/><circle cx="269" cy="397" r="3.9"/><circle cx="285" cy="339" r="3.9"/><circle cx="301" cy="347" r="3.9"/><circle cx="574" cy="376" r="3.9"/><circle cx="399" cy="395" r="3.9"/><circle cx="505" cy="375" r="3.9"/><circle cx="510" cy="388" r="3.9"/><circle cx="416" cy="398" r="3.9"/><circle cx="519" cy="398" r="3.9"/><circle cx="425" cy="383" r="3.9"/><circle cx="453" cy="370" r="3.9"/><circle cx="372" cy="397" r="3.9"/><circle cx="267" cy="372" r="3.9"/><circle cx="471" cy="396" r="3.9"/><circle cx="358" cy="379" r="3.9"/><circle cx="361" cy="376" r="3.9"/><circle cx="569" cy="395" r="3.9"/><circle cx="391" cy="257" r="3.9"/><circle cx="302" cy="390" r="3.9"/><circle cx="484" cy="403" r="3.9"/><circle cx="452" cy="405" r="3.9"/><circle cx="287" cy="407" r="3.9"/><circle cx="387" cy="372" r="3.9"/><circle cx="477" cy="398" r="3.9"/><circle cx="363" cy="376" r="3.9"/><circle cx="606" cy="377" r="3.9"/><circle cx="542" cy="372" r="3.9"/><circle cx="440" cy="393" r="3.9"/><circle cx="582" cy="406" r="3.9"/><circle cx="279" cy="387" r="3.9"/><circle cx="344" cy="376" r="3.9"/><circle cx="582" cy="390" r="3.9"/><circle cx="442" cy="384" r="3.9"/><circle cx="325" cy="378" r="3.9"/><circle cx="463" cy="407" r="3.9"/><circle cx="518" cy="370" r="3.9"/><circle cx="474" cy="388" r="3.9"/><circle cx="282" cy="372" r="3.9"/><circle cx="279" cy="391" r="3.9"/><circle cx="407" cy="370" r="3.9"/><circle cx="272" cy="407" r="3.9"/><circle cx="296" cy="385" r="3.9"/><circle cx="488" cy="375" r="3.9"/><circle cx="418" cy="388" r="3.9"/><circle cx="296" cy="406" r="3.9"/><circle cx="568" cy="389" r="3.9"/><circle cx="394" cy="380" r="3.9"/><circle cx="571" cy="368" r="3.9"/><circle cx="476" cy="393" r="3.9"/><circle cx="480" cy="153" r="3.9"/><circle cx="413" cy="393" r="3.9"/><circle cx="498" cy="374" r="3.9"/><circle cx="351" cy="394" r="3.9"/><circle cx="355" cy="408" r="3.9"/><circle cx="568" cy="377" r="3.9"/><circle cx="337" cy="400" r="3.9"/><circle cx="400" cy="391" r="3.9"/><circle cx="523" cy="394" r="3.9"/><circle cx="380" cy="360" r="3.9"/><circle cx="393" cy="374" r="3.9"/><circle cx="580" cy="363" r="3.9"/><circle cx="338" cy="388" r="3.9"/><circle cx="350" cy="381" r="3.9"/><circle cx="572" cy="393" r="3.9"/><circle cx="361" cy="334" r="3.9"/><circle cx="380" cy="389" r="3.9"/><circle cx="570" cy="377" r="3.9"/><circle cx="377" cy="381" r="3.9"/><circle cx="610" cy="379" r="3.9"/><circle cx="549" cy="363" r="3.9"/><circle cx="558" cy="434" r="3.9"/><circle cx="344" cy="381" r="3.9"/><circle cx="341" cy="398" r="3.9"/><circle cx="526" cy="388" r="3.9"/><circle cx="551" cy="401" r="3.9"/><circle cx="344" cy="395" r="3.9"/><circle cx="338" cy="378" r="3.9"/><circle cx="351" cy="384" r="3.9"/><circle cx="314" cy="363" r="3.9"/><circle cx="412" cy="367" r="3.9"/><circle cx="440" cy="376" r="3.9"/><circle cx="483" cy="384" r="3.9"/><circle cx="286" cy="394" r="3.9"/><circle cx="333" cy="375" r="3.9"/><circle cx="307" cy="369" r="3.9"/><circle cx="360" cy="391" r="3.9"/><circle cx="331" cy="363" r="3.9"/><circle cx="589" cy="396" r="3.9"/><circle cx="395" cy="371" r="3.9"/><circle cx="314" cy="381" r="3.9"/><circle cx="496" cy="381" r="3.9"/><circle cx="602" cy="390" r="3.9"/><circle cx="540" cy="411" r="3.9"/><circle cx="490" cy="397" r="3.9"/><circle cx="397" cy="429" r="3.9"/><circle cx="405" cy="372" r="3.9"/><circle cx="371" cy="404" r="3.9"/><circle cx="544" cy="372" r="3.9"/><circle cx="543" cy="386" r="3.9"/><circle cx="435" cy="394" r="3.9"/><circle cx="563" cy="404" r="3.9"/><circle cx="491" cy="384" r="3.9"/><circle cx="503" cy="376" r="3.9"/><circle cx="359" cy="413" r="3.9"/><circle cx="350" cy="383" r="3.9"/><circle cx="345" cy="370" r="3.9"/><circle cx="581" cy="386" r="3.9"/><circle cx="542" cy="384" r="3.9"/><circle cx="576" cy="394" r="3.9"/><circle cx="550" cy="389" r="3.9"/><circle cx="544" cy="385" r="3.9"/><circle cx="417" cy="408" r="3.9"/><circle cx="530" cy="400" r="3.9"/><circle cx="324" cy="383" r="3.9"/><circle cx="492" cy="366" r="3.9"/><circle cx="281" cy="304" r="3.9"/><circle cx="599" cy="418" r="3.9"/><circle cx="569" cy="375" r="3.9"/><circle cx="323" cy="366" r="3.9"/><circle cx="531" cy="383" r="3.9"/><circle cx="550" cy="391" r="3.9"/><circle cx="281" cy="369" r="3.9"/><circle cx="462" cy="398" r="3.9"/><circle cx="411" cy="374" r="3.9"/><circle cx="480" cy="350" r="3.9"/><circle cx="572" cy="398" r="3.9"/><circle cx="515" cy="397" r="3.9"/><circle cx="339" cy="381" r="3.9"/><circle cx="458" cy="368" r="3.9"/><circle cx="460" cy="406" r="3.9"/><circle cx="271" cy="373" r="3.9"/><circle cx="312" cy="384" r="3.9"/><circle cx="390" cy="384" r="3.9"/><circle cx="328" cy="390" r="3.9"/><circle cx="348" cy="400" r="3.9"/><circle cx="499" cy="388" r="3.9"/><circle cx="598" cy="383" r="3.9"/><circle cx="424" cy="403" r="3.9"/><circle cx="489" cy="384" r="3.9"/><circle cx="529" cy="386" r="3.9"/><circle cx="498" cy="355" r="3.9"/><circle cx="493" cy="380" r="3.9"/><circle cx="267" cy="364" r="3.9"/><circle cx="566" cy="413" r="3.9"/><circle cx="322" cy="372" r="3.9"/><circle cx="329" cy="374" r="3.9"/><circle cx="442" cy="382" r="3.9"/><circle cx="469" cy="388" r="3.9"/><circle cx="527" cy="411" r="3.9"/><circle cx="368" cy="366" r="3.9"/><circle cx="592" cy="444" r="3.9"/><circle cx="483" cy="386" r="3.9"/><circle cx="557" cy="389" r="3.9"/><circle cx="431" cy="365" r="3.9"/><circle cx="291" cy="388" r="3.9"/><circle cx="271" cy="389" r="3.9"/><circle cx="487" cy="398" r="3.9"/><circle cx="413" cy="382" r="3.9"/><circle cx="418" cy="369" r="3.9"/><circle cx="379" cy="377" r="3.9"/><circle cx="328" cy="419" r="3.9"/><circle cx="430" cy="412" r="3.9"/><circle cx="354" cy="377" r="3.9"/><circle cx="574" cy="388" r="3.9"/><circle cx="328" cy="367" r="3.9"/><circle cx="600" cy="376" r="3.9"/><circle cx="563" cy="402" r="3.9"/><circle cx="399" cy="394" r="3.9"/><circle cx="533" cy="371" r="3.9"/><circle cx="467" cy="368" r="3.9"/><circle cx="427" cy="379" r="3.9"/><circle cx="546" cy="400" r="3.9"/><circle cx="553" cy="405" r="3.9"/><circle cx="336" cy="349" r="3.9"/><circle cx="578" cy="410" r="3.9"/><circle cx="278" cy="384" r="3.9"/><circle cx="269" cy="380" r="3.9"/><circle cx="433" cy="380" r="3.9"/><circle cx="370" cy="373" r="3.9"/><circle cx="412" cy="365" r="3.9"/><circle cx="432" cy="377" r="3.9"/><circle cx="428" cy="384" r="3.9"/><circle cx="579" cy="399" r="3.9"/><circle cx="583" cy="388" r="3.9"/><circle cx="386" cy="389" r="3.9"/><circle cx="366" cy="393" r="3.9"/><circle cx="492" cy="381" r="3.9"/><circle cx="335" cy="367" r="3.9"/><circle cx="405" cy="404" r="3.9"/><circle cx="514" cy="399" r="3.9"/><circle cx="269" cy="376" r="3.9"/><circle cx="532" cy="400" r="3.9"/><circle cx="519" cy="331" r="3.9"/><circle cx="400" cy="366" r="3.9"/><circle cx="352" cy="387" r="3.9"/><circle cx="453" cy="414" r="3.9"/><circle cx="368" cy="360" r="3.9"/><circle cx="549" cy="398" r="3.9"/><circle cx="470" cy="374" r="3.9"/><circle cx="372" cy="356" r="3.9"/><circle cx="545" cy="369" r="3.9"/><circle cx="476" cy="381" r="3.9"/><circle cx="312" cy="371" r="3.9"/><circle cx="409" cy="396" r="3.9"/><circle cx="435" cy="387" r="3.9"/><circle cx="592" cy="386" r="3.9"/><circle cx="377" cy="372" r="3.9"/><circle cx="421" cy="399" r="3.9"/><circle cx="603" cy="378" r="3.9"/><circle cx="413" cy="380" r="3.9"/><circle cx="551" cy="357" r="3.9"/><circle cx="300" cy="413" r="3.9"/><circle cx="402" cy="346" r="3.9"/><circle cx="330" cy="402" r="3.9"/><circle cx="571" cy="374" r="3.9"/><circle cx="457" cy="389" r="3.9"/><circle cx="342" cy="394" r="3.9"/><circle cx="298" cy="366" r="3.9"/><circle cx="412" cy="395" r="3.9"/><circle cx="300" cy="385" r="3.9"/><circle cx="434" cy="382" r="3.9"/><circle cx="518" cy="390" r="3.9"/><circle cx="374" cy="375" r="3.9"/><circle cx="324" cy="414" r="3.9"/><circle cx="391" cy="375" r="3.9"/><circle cx="324" cy="376" r="3.9"/><circle cx="557" cy="397" r="3.9"/><circle cx="300" cy="394" r="3.9"/><circle cx="522" cy="392" r="3.9"/><circle cx="382" cy="398" r="3.9"/><circle cx="517" cy="398" r="3.9"/><circle cx="532" cy="395" r="3.9"/><circle cx="313" cy="379" r="3.9"/><circle cx="527" cy="368" r="3.9"/><circle cx="592" cy="399" r="3.9"/><circle cx="462" cy="404" r="3.9"/><circle cx="489" cy="406" r="3.9"/><circle cx="378" cy="389" r="3.9"/><circle cx="327" cy="385" r="3.9"/><circle cx="523" cy="391" r="3.9"/><circle cx="549" cy="354" r="3.9"/><circle cx="338" cy="388" r="3.9"/><circle cx="306" cy="426" r="3.9"/><circle cx="388" cy="387" r="3.9"/><circle cx="482" cy="395" r="3.9"/><circle cx="392" cy="341" r="3.9"/><circle cx="598" cy="405" r="3.9"/><circle cx="539" cy="381" r="3.9"/><circle cx="582" cy="340" r="3.9"/><circle cx="473" cy="403" r="3.9"/><circle cx="527" cy="408" r="3.9"/><circle cx="594" cy="401" r="3.9"/><circle cx="279" cy="415" r="3.9"/><circle cx="465" cy="394" r="3.9"/><circle cx="331" cy="381" r="3.9"/><circle cx="540" cy="419" r="3.9"/><circle cx="347" cy="411" r="3.9"/><circle cx="522" cy="471" r="3.9"/><circle cx="381" cy="365" r="3.9"/><circle cx="491" cy="395" r="3.9"/><circle cx="500" cy="397" r="3.9"/><circle cx="579" cy="392" r="3.9"/><circle cx="567" cy="376" r="3.9"/><circle cx="417" cy="319" r="3.9"/><circle cx="504" cy="388" r="3.9"/><circle cx="329" cy="404" r="3.9"/><circle cx="300" cy="382" r="3.9"/><circle cx="512" cy="382" r="3.9"/><circle cx="579" cy="391" r="3.9"/><circle cx="524" cy="394" r="3.9"/><circle cx="445" cy="387" r="3.9"/><circle cx="483" cy="385" r="3.9"/><circle cx="518" cy="416" r="3.9"/><circle cx="463" cy="373" r="3.9"/><circle cx="392" cy="396" r="3.9"/><circle cx="559" cy="384" r="3.9"/><circle cx="394" cy="353" r="3.9"/><circle cx="578" cy="390" r="3.9"/><circle cx="542" cy="380" r="3.9"/><circle cx="540" cy="384" r="3.9"/><circle cx="554" cy="361" r="3.9"/><circle cx="606" cy="406" r="3.9"/><circle cx="607" cy="383" r="3.9"/><circle cx="439" cy="366" r="3.9"/><circle cx="397" cy="382" r="3.9"/><circle cx="519" cy="368" r="3.9"/><circle cx="600" cy="365" r="3.9"/><circle cx="484" cy="381" r="3.9"/><circle cx="276" cy="381" r="3.9"/><circle cx="280" cy="381" r="3.9"/><circle cx="426" cy="411" r="3.9"/><circle cx="538" cy="380" r="3.9"/><circle cx="572" cy="371" r="3.9"/><circle cx="396" cy="371" r="3.9"/><circle cx="445" cy="383" r="3.9"/><circle cx="443" cy="379" r="3.9"/><circle cx="299" cy="432" r="3.9"/><circle cx="267" cy="377" r="3.9"/><circle cx="447" cy="374" r="3.9"/><circle cx="440" cy="386" r="3.9"/><circle cx="564" cy="385" r="3.9"/><circle cx="329" cy="378" r="3.9"/><circle cx="560" cy="424" r="3.9"/><circle cx="360" cy="376" r="3.9"/><circle cx="452" cy="361" r="3.9"/><circle cx="510" cy="396" r="3.9"/><circle cx="317" cy="387" r="3.9"/><circle cx="592" cy="397" r="3.9"/><circle cx="596" cy="391" r="3.9"/><circle cx="601" cy="397" r="3.9"/><circle cx="267" cy="498" r="3.9"/><circle cx="488" cy="404" r="3.9"/><circle cx="498" cy="372" r="3.9"/><circle cx="570" cy="377" r="3.9"/><circle cx="336" cy="375" r="3.9"/><circle cx="309" cy="373" r="3.9"/><circle cx="545" cy="370" r="3.9"/><circle cx="357" cy="385" r="3.9"/><circle cx="289" cy="362" r="3.9"/><circle cx="298" cy="393" r="3.9"/><circle cx="489" cy="367" r="3.9"/><circle cx="451" cy="374" r="3.9"/><circle cx="524" cy="400" r="3.9"/><circle cx="544" cy="401" r="3.9"/><circle cx="268" cy="391" r="3.9"/><circle cx="588" cy="361" r="3.9"/><circle cx="569" cy="400" r="3.9"/><circle cx="588" cy="380" r="3.9"/><circle cx="531" cy="334" r="3.9"/><circle cx="399" cy="376" r="3.9"/><circle cx="352" cy="384" r="3.9"/><circle cx="581" cy="373" r="3.9"/><circle cx="411" cy="380" r="3.9"/><circle cx="435" cy="435" r="3.9"/><circle cx="507" cy="428" r="3.9"/><circle cx="504" cy="380" r="3.9"/><circle cx="505" cy="399" r="3.9"/><circle cx="481" cy="381" r="3.9"/><circle cx="442" cy="374" r="3.9"/><circle cx="531" cy="415" r="3.9"/><circle cx="403" cy="374" r="3.9"/><circle cx="357" cy="386" r="3.9"/><circle cx="580" cy="385" r="3.9"/><circle cx="558" cy="384" r="3.9"/><circle cx="514" cy="356" r="3.9"/><circle cx="325" cy="383" r="3.9"/><circle cx="282" cy="389" r="3.9"/><circle cx="584" cy="393" r="3.9"/><circle cx="591" cy="387" r="3.9"/><circle cx="360" cy="383" r="3.9"/><circle cx="483" cy="428" r="3.9"/><circle cx="273" cy="372" r="3.9"/><circle cx="402" cy="391" r="3.9"/><circle cx="509" cy="407" r="3.9"/><circle cx="391" cy="379" r="3.9"/><circle cx="544" cy="381" r="3.9"/><circle cx="581" cy="385" r="3.9"/><circle cx="314" cy="366" r="3.9"/><circle cx="504" cy="390" r="3.9"/><circle cx="396" cy="387" r="3.9"/><circle cx="327" cy="389" r="3.9"/><circle cx="387" cy="403" r="3.9"/><circle cx="433" cy="377" r="3.9"/><circle cx="575" cy="390" r="3.9"/><circle cx="530" cy="390" r="3.9"/><circle cx="268" cy="357" r="3.9"/><circle cx="286" cy="377" r="3.9"/><circle cx="609" cy="389" r="3.9"/><circle cx="458" cy="390" r="3.9"/><circle cx="477" cy="423" r="3.9"/><circle cx="388" cy="379" r="3.9"/><circle cx="553" cy="429" r="3.9"/><circle cx="458" cy="360" r="3.9"/><circle cx="471" cy="408" r="3.9"/><circle cx="353" cy="395" r="3.9"/><circle cx="534" cy="389" r="3.9"/><circle cx="340" cy="377" r="3.9"/><circle cx="314" cy="307" r="3.9"/><circle cx="472" cy="394" r="3.9"/><circle cx="553" cy="378" r="3.9"/><circle cx="368" cy="348" r="3.9"/><circle cx="371" cy="369" r="3.9"/><circle cx="318" cy="397" r="3.9"/><circle cx="474" cy="342" r="3.9"/><circle cx="532" cy="376" r="3.9"/><circle cx="310" cy="379" r="3.9"/><circle cx="451" cy="398" r="3.9"/><circle cx="452" cy="387" r="3.9"/><circle cx="303" cy="374" r="3.9"/><circle cx="449" cy="390" r="3.9"/><circle cx="360" cy="364" r="3.9"/><circle cx="335" cy="384" r="3.9"/><circle cx="606" cy="387" r="3.9"/><circle cx="298" cy="390" r="3.9"/><circle cx="385" cy="385" r="3.9"/><circle cx="480" cy="388" r="3.9"/><circle cx="406" cy="385" r="3.9"/><circle cx="273" cy="406" r="3.9"/><circle cx="565" cy="396" r="3.9"/><circle cx="349" cy="363" r="3.9"/><circle cx="409" cy="393" r="3.9"/><circle cx="579" cy="402" r="3.9"/><circle cx="600" cy="387" r="3.9"/><circle cx="582" cy="350" r="3.9"/><circle cx="408" cy="377" r="3.9"/><circle cx="523" cy="391" r="3.9"/><circle cx="559" cy="394" r="3.9"/><circle cx="335" cy="359" r="3.9"/><circle cx="600" cy="384" r="3.9"/><circle cx="302" cy="398" r="3.9"/><circle cx="493" cy="405" r="3.9"/><circle cx="349" cy="379" r="3.9"/><circle cx="341" cy="320" r="3.9"/><circle cx="314" cy="363" r="3.9"/><circle cx="591" cy="403" r="3.9"/><circle cx="311" cy="371" r="3.9"/><circle cx="581" cy="397" r="3.9"/><circle cx="324" cy="364" r="3.9"/><circle cx="380" cy="377" r="3.9"/><circle cx="339" cy="386" r="3.9"/><circle cx="607" cy="355" r="3.9"/><circle cx="299" cy="365" r="3.9"/><circle cx="563" cy="391" r="3.9"/><circle cx="370" cy="381" r="3.9"/><circle cx="594" cy="420" r="3.9"/><circle cx="525" cy="392" r="3.9"/><circle cx="357" cy="397" r="3.9"/><circle cx="442" cy="391" r="3.9"/><circle cx="322" cy="384" r="3.9"/><circle cx="407" cy="376" r="3.9"/><circle cx="276" cy="385" r="3.9"/><circle cx="501" cy="410" r="3.9"/><circle cx="471" cy="394" r="3.9"/><circle cx="360" cy="391" r="3.9"/><circle cx="271" cy="396" r="3.9"/><circle cx="590" cy="402" r="3.9"/><circle cx="310" cy="390" r="3.9"/><circle cx="379" cy="386" r="3.9"/><circle cx="275" cy="363" r="3.9"/><circle cx="399" cy="365" r="3.9"/><circle cx="405" cy="373" r="3.9"/><circle cx="450" cy="377" r="3.9"/><circle cx="378" cy="403" r="3.9"/><circle cx="353" cy="392" r="3.9"/><circle cx="537" cy="412" r="3.9"/><circle cx="363" cy="405" r="3.9"/><circle cx="381" cy="391" r="3.9"/><circle cx="436" cy="384" r="3.9"/><circle cx="361" cy="391" r="3.9"/><circle cx="517" cy="393" r="3.9"/><circle cx="296" cy="367" r="3.9"/><circle cx="378" cy="370" r="3.9"/><circle cx="412" cy="386" r="3.9"/><circle cx="356" cy="364" r="3.9"/><circle cx="556" cy="391" r="3.9"/><circle cx="389" cy="378" r="3.9"/><circle cx="411" cy="386" r="3.9"/><circle cx="428" cy="368" r="3.9"/><circle cx="552" cy="384" r="3.9"/><circle cx="342" cy="328" r="3.9"/><circle cx="552" cy="387" r="3.9"/><circle cx="593" cy="361" r="3.9"/><circle cx="358" cy="335" r="3.9"/><circle cx="325" cy="387" r="3.9"/><circle cx="538" cy="361" r="3.9"/><circle cx="374" cy="374" r="3.9"/><circle cx="345" cy="384" r="3.9"/><circle cx="294" cy="383" r="3.9"/><circle cx="478" cy="380" r="3.9"/><circle cx="589" cy="404" r="3.9"/><circle cx="570" cy="420" r="3.9"/><circle cx="469" cy="379" r="3.9"/><circle cx="418" cy="422" r="3.9"/><circle cx="603" cy="380" r="3.9"/><circle cx="494" cy="397" r="3.9"/><circle cx="596" cy="374" r="3.9"/><circle cx="504" cy="415" r="3.9"/><circle cx="506" cy="391" r="3.9"/><circle cx="508" cy="387" r="3.9"/><circle cx="310" cy="396" r="3.9"/><circle cx="354" cy="376" r="3.9"/><circle cx="289" cy="359" r="3.9"/><circle cx="588" cy="385" r="3.9"/><circle cx="609" cy="396" r="3.9"/><circle cx="475" cy="407" r="3.9"/><circle cx="320" cy="375" r="3.9"/><circle cx="309" cy="385" r="3.9"/><circle cx="420" cy="375" r="3.9"/><circle cx="401" cy="371" r="3.9"/><circle cx="334" cy="360" r="3.9"/><circle cx="297" cy="360" r="3.9"/><circle cx="489" cy="411" r="3.9"/><circle cx="539" cy="379" r="3.9"/><circle cx="288" cy="359" r="3.9"/><circle cx="373" cy="374" r="3.9"/><circle cx="370" cy="377" r="3.9"/><circle cx="453" cy="388" r="3.9"/><circle cx="475" cy="387" r="3.9"/><circle cx="408" cy="386" r="3.9"/><circle cx="565" cy="394" r="3.9"/><circle cx="401" cy="409" r="3.9"/><circle cx="371" cy="401" r="3.9"/><circle cx="531" cy="423" r="3.9"/><circle cx="556" cy="339" r="3.9"/><circle cx="569" cy="394" r="3.9"/><circle cx="325" cy="382" r="3.9"/><circle cx="334" cy="376" r="3.9"/><circle cx="426" cy="393" r="3.9"/><circle cx="600" cy="386" r="3.9"/><circle cx="480" cy="405" r="3.9"/><circle cx="481" cy="382" r="3.9"/><circle cx="379" cy="362" r="3.9"/><circle cx="608" cy="379" r="3.9"/><circle cx="330" cy="380" r="3.9"/><circle cx="459" cy="391" r="3.9"/><circle cx="499" cy="369" r="3.9"/><circle cx="545" cy="382" r="3.9"/><circle cx="547" cy="381" r="3.9"/><circle cx="400" cy="387" r="3.9"/><circle cx="360" cy="392" r="3.9"/><circle cx="604" cy="385" r="3.9"/><circle cx="457" cy="387" r="3.9"/><circle cx="364" cy="382" r="3.9"/><circle cx="314" cy="359" r="3.9"/><circle cx="543" cy="385" r="3.9"/><circle cx="559" cy="394" r="3.9"/><circle cx="463" cy="395" r="3.9"/><circle cx="399" cy="397" r="3.9"/><circle cx="494" cy="389" r="3.9"/><circle cx="604" cy="394" r="3.9"/><circle cx="466" cy="391" r="3.9"/><circle cx="538" cy="351" r="3.9"/><circle cx="570" cy="399" r="3.9"/><circle cx="527" cy="394" r="3.9"/><circle cx="434" cy="391" r="3.9"/><circle cx="328" cy="358" r="3.9"/><circle cx="506" cy="393" r="3.9"/><circle cx="553" cy="369" r="3.9"/><circle cx="598" cy="365" r="3.9"/><circle cx="319" cy="372" r="3.9"/><circle cx="306" cy="366" r="3.9"/><circle cx="486" cy="384" r="3.9"/><circle cx="551" cy="409" r="3.9"/><circle cx="293" cy="351" r="3.9"/><circle cx="478" cy="349" r="3.9"/><circle cx="358" cy="354" r="3.9"/><circle cx="611" cy="391" r="3.9"/><circle cx="391" cy="384" r="3.9"/><circle cx="295" cy="370" r="3.9"/><circle cx="536" cy="400" r="3.9"/><circle cx="370" cy="405" r="3.9"/><circle cx="411" cy="388" r="3.9"/><circle cx="312" cy="339" r="3.9"/><circle cx="381" cy="379" r="3.9"/><circle cx="313" cy="372" r="3.9"/><circle cx="355" cy="398" r="3.9"/><circle cx="466" cy="301" r="3.9"/><circle cx="370" cy="339" r="3.9"/><circle cx="496" cy="384" r="3.9"/><circle cx="577" cy="401" r="3.9"/><circle cx="465" cy="359" r="3.9"/><circle cx="277" cy="367" r="3.9"/><circle cx="597" cy="393" r="3.9"/><circle cx="335" cy="382" r="3.9"/><circle cx="386" cy="388" r="3.9"/><circle cx="448" cy="399" r="3.9"/><circle cx="480" cy="385" r="3.9"/><circle cx="384" cy="390" r="3.9"/><circle cx="418" cy="389" r="3.9"/><circle cx="482" cy="411" r="3.9"/><circle cx="424" cy="380" r="3.9"/><circle cx="364" cy="408" r="3.9"/><circle cx="408" cy="402" r="3.9"/><circle cx="399" cy="387" r="3.9"/><circle cx="367" cy="380" r="3.9"/><circle cx="473" cy="373" r="3.9"/><circle cx="443" cy="373" r="3.9"/><circle cx="408" cy="407" r="3.9"/><circle cx="511" cy="380" r="3.9"/><circle cx="546" cy="379" r="3.9"/><circle cx="490" cy="397" r="3.9"/><circle cx="384" cy="353" r="3.9"/><circle cx="589" cy="384" r="3.9"/><circle cx="303" cy="407" r="3.9"/><circle cx="544" cy="396" r="3.9"/><circle cx="412" cy="395" r="3.9"/><circle cx="403" cy="330" r="3.9"/><circle cx="557" cy="368" r="3.9"/><circle cx="492" cy="394" r="3.9"/><circle cx="602" cy="397" r="3.9"/><circle cx="569" cy="388" r="3.9"/><circle cx="307" cy="381" r="3.9"/><circle cx="440" cy="409" r="3.9"/><circle cx="531" cy="404" r="3.9"/><circle cx="295" cy="399" r="3.9"/><circle cx="453" cy="341" r="3.9"/><circle cx="608" cy="364" r="3.9"/><circle cx="349" cy="369" r="3.9"/><circle cx="307" cy="435" r="3.9"/><circle cx="366" cy="374" r="3.9"/><circle cx="385" cy="381" r="3.9"/><circle cx="365" cy="388" r="3.9"/><circle cx="415" cy="377" r="3.9"/><circle cx="554" cy="391" r="3.9"/><circle cx="445" cy="335" r="3.9"/><circle cx="469" cy="435" r="3.9"/><circle cx="304" cy="371" r="3.9"/><circle cx="289" cy="364" r="3.9"/><circle cx="594" cy="418" r="3.9"/><circle cx="386" cy="388" r="3.9"/><circle cx="593" cy="396" r="3.9"/><circle cx="382" cy="385" r="3.9"/><circle cx="487" cy="392" r="3.9"/><circle cx="494" cy="411" r="3.9"/><circle cx="298" cy="375" r="3.9"/><circle cx="291" cy="424" r="3.9"/><circle cx="419" cy="394" r="3.9"/><circle cx="311" cy="345" r="3.9"/><circle cx="369" cy="382" r="3.9"/><circle cx="334" cy="372" r="3.9"/><circle cx="374" cy="405" r="3.9"/><circle cx="424" cy="420" r="3.9"/><circle cx="374" cy="354" r="3.9"/><circle cx="382" cy="366" r="3.9"/><circle cx="434" cy="376" r="3.9"/><circle cx="502" cy="387" r="3.9"/><circle cx="281" cy="348" r="3.9"/><circle cx="610" cy="388" r="3.9"/><circle cx="415" cy="388" r="3.9"/><circle cx="584" cy="396" r="3.9"/><circle cx="269" cy="405" r="3.9"/><circle cx="286" cy="393" r="3.9"/><circle cx="301" cy="360" r="3.9"/><circle cx="581" cy="403" r="3.9"/><circle cx="408" cy="386" r="3.9"/><circle cx="558" cy="373" r="3.9"/><circle cx="506" cy="392" r="3.9"/><circle cx="297" cy="371" r="3.9"/><circle cx="391" cy="420" r="3.9"/><circle cx="381" cy="399" r="3.9"/><circle cx="423" cy="375" r="3.9"/><circle cx="526" cy="366" r="3.9"/><circle cx="295" cy="372" r="3.9"/><circle cx="585" cy="379" r="3.9"/><circle cx="431" cy="382" r="3.9"/><circle cx="393" cy="397" r="3.9"/><circle cx="507" cy="358" r="3.9"/><circle cx="362" cy="377" r="3.9"/><circle cx="512" cy="350" r="3.9"/><circle cx="410" cy="393" r="3.9"/><circle cx="431" cy="373" r="3.9"/><circle cx="332" cy="356" r="3.9"/><circle cx="337" cy="391" r="3.9"/><circle cx="563" cy="399" r="3.9"/><circle cx="465" cy="384" r="3.9"/><circle cx="412" cy="397" r="3.9"/><circle cx="533" cy="421" r="3.9"/><circle cx="581" cy="403" r="3.9"/><circle cx="321" cy="388" r="3.9"/><circle cx="610" cy="393" r="3.9"/><circle cx="272" cy="363" r="3.9"/><circle cx="478" cy="384" r="3.9"/><circle cx="357" cy="391" r="3.9"/><circle cx="353" cy="389" r="3.9"/><circle cx="437" cy="387" r="3.9"/><circle cx="475" cy="379" r="3.9"/><circle cx="417" cy="390" r="3.9"/><circle cx="512" cy="404" r="3.9"/><circle cx="594" cy="411" r="3.9"/><circle cx="325" cy="361" r="3.9"/><circle cx="348" cy="412" r="3.9"/><circle cx="476" cy="380" r="3.9"/><circle cx="408" cy="376" r="3.9"/><circle cx="375" cy="387" r="3.9"/><circle cx="440" cy="385" r="3.9"/><circle cx="507" cy="388" r="3.9"/><circle cx="579" cy="384" r="3.9"/><circle cx="590" cy="388" r="3.9"/><circle cx="549" cy="370" r="3.9"/><circle cx="386" cy="385" r="3.9"/><circle cx="571" cy="387" r="3.9"/><circle cx="511" cy="411" r="3.9"/><circle cx="327" cy="372" r="3.9"/><circle cx="595" cy="370" r="3.9"/><circle cx="352" cy="373" r="3.9"/><circle cx="501" cy="360" r="3.9"/><circle cx="506" cy="392" r="3.9"/><circle cx="579" cy="383" r="3.9"/><circle cx="496" cy="401" r="3.9"/><circle cx="605" cy="364" r="3.9"/><circle cx="287" cy="371" r="3.9"/><circle cx="280" cy="386" r="3.9"/><circle cx="334" cy="381" r="3.9"/><circle cx="465" cy="399" r="3.9"/><circle cx="413" cy="393" r="3.9"/><circle cx="295" cy="379" r="3.9"/><circle cx="336" cy="403" r="3.9"/><circle cx="466" cy="394" r="3.9"/><circle cx="405" cy="384" r="3.9"/><circle cx="529" cy="394" r="3.9"/><circle cx="427" cy="366" r="3.9"/><circle cx="569" cy="399" r="3.9"/><circle cx="528" cy="402" r="3.9"/><circle cx="437" cy="374" r="3.9"/><circle cx="390" cy="371" r="3.9"/><circle cx="340" cy="392" r="3.9"/><circle cx="367" cy="395" r="3.9"/><circle cx="389" cy="379" r="3.9"/><circle cx="391" cy="371" r="3.9"/><circle cx="328" cy="379" r="3.9"/><circle cx="430" cy="362" r="3.9"/><circle cx="305" cy="398" r="3.9"/><circle cx="566" cy="381" r="3.9"/><circle cx="456" cy="379" r="3.9"/><circle cx="299" cy="391" r="3.9"/><circle cx="380" cy="353" r="3.9"/><circle cx="355" cy="375" r="3.9"/><circle cx="320" cy="399" r="3.9"/><circle cx="432" cy="388" r="3.9"/><circle cx="330" cy="378" r="3.9"/><circle cx="319" cy="405" r="3.9"/><circle cx="508" cy="391" r="3.9"/><circle cx="415" cy="375" r="3.9"/><circle cx="498" cy="390" r="3.9"/><circle cx="428" cy="385" r="3.9"/><circle cx="440" cy="394" r="3.9"/><circle cx="374" cy="394" r="3.9"/><circle cx="413" cy="373" r="3.9"/><circle cx="432" cy="384" r="3.9"/><circle cx="385" cy="388" r="3.9"/><circle cx="551" cy="389" r="3.9"/><circle cx="351" cy="411" r="3.9"/><circle cx="343" cy="382" r="3.9"/><circle cx="385" cy="377" r="3.9"/><circle cx="537" cy="391" r="3.9"/><circle cx="558" cy="409" r="3.9"/><circle cx="461" cy="393" r="3.9"/><circle cx="391" cy="374" r="3.9"/><circle cx="490" cy="375" r="3.9"/><circle cx="551" cy="368" r="3.9"/><circle cx="350" cy="363" r="3.9"/><circle cx="496" cy="398" r="3.9"/><circle cx="511" cy="388" r="3.9"/><circle cx="401" cy="361" r="3.9"/><circle cx="317" cy="375" r="3.9"/><circle cx="476" cy="396" r="3.9"/><circle cx="339" cy="371" r="3.9"/><circle cx="393" cy="424" r="3.9"/><circle cx="454" cy="383" r="3.9"/><circle cx="598" cy="383" r="3.9"/><circle cx="317" cy="367" r="3.9"/><circle cx="292" cy="394" r="3.9"/><circle cx="452" cy="380" r="3.9"/><circle cx="591" cy="381" r="3.9"/><circle cx="283" cy="382" r="3.9"/><circle cx="488" cy="349" r="3.9"/><circle cx="276" cy="383" r="3.9"/><circle cx="456" cy="398" r="3.9"/><circle cx="308" cy="372" r="3.9"/><circle cx="494" cy="391" r="3.9"/><circle cx="391" cy="394" r="3.9"/><circle cx="492" cy="386" r="3.9"/><circle cx="356" cy="376" r="3.9"/><circle cx="292" cy="340" r="3.9"/><circle cx="329" cy="395" r="3.9"/><circle cx="361" cy="383" r="3.9"/><circle cx="323" cy="361" r="3.9"/><circle cx="335" cy="382" r="3.9"/><circle cx="454" cy="373" r="3.9"/><circle cx="417" cy="394" r="3.9"/><circle cx="551" cy="395" r="3.9"/><circle cx="438" cy="432" r="3.9"/><circle cx="452" cy="397" r="3.9"/><circle cx="511" cy="374" r="3.9"/><circle cx="560" cy="386" r="3.9"/><circle cx="468" cy="393" r="3.9"/><circle cx="279" cy="397" r="3.9"/><circle cx="425" cy="351" r="3.9"/><circle cx="278" cy="377" r="3.9"/><circle cx="475" cy="362" r="3.9"/><circle cx="289" cy="394" r="3.9"/><circle cx="452" cy="384" r="3.9"/><circle cx="318" cy="404" r="3.9"/><circle cx="561" cy="383" r="3.9"/><circle cx="299" cy="383" r="3.9"/><circle cx="494" cy="383" r="3.9"/><circle cx="509" cy="391" r="3.9"/><circle cx="361" cy="375" r="3.9"/><circle cx="471" cy="387" r="3.9"/><circle cx="380" cy="398" r="3.9"/><circle cx="356" cy="368" r="3.9"/><circle cx="356" cy="392" r="3.9"/><circle cx="272" cy="370" r="3.9"/><circle cx="498" cy="379" r="3.9"/><circle cx="291" cy="379" r="3.9"/><circle cx="334" cy="386" r="3.9"/><circle cx="297" cy="377" r="3.9"/><circle cx="543" cy="402" r="3.9"/><circle cx="449" cy="394" r="3.9"/><circle cx="428" cy="391" r="3.9"/><circle cx="467" cy="384" r="3.9"/><circle cx="545" cy="357" r="3.9"/><circle cx="481" cy="385" r="3.9"/><circle cx="443" cy="365" r="3.9"/><circle cx="374" cy="362" r="3.9"/><circle cx="445" cy="387" r="3.9"/><circle cx="606" cy="396" r="3.9"/><circle cx="463" cy="377" r="3.9"/><circle cx="431" cy="368" r="3.9"/><circle cx="572" cy="401" r="3.9"/><circle cx="285" cy="378" r="3.9"/><circle cx="288" cy="382" r="3.9"/><circle cx="538" cy="404" r="3.9"/><circle cx="591" cy="392" r="3.9"/><circle cx="284" cy="386" r="3.9"/><circle cx="275" cy="395" r="3.9"/><circle cx="270" cy="365" r="3.9"/><circle cx="465" cy="420" r="3.9"/><circle cx="314" cy="357" r="3.9"/><circle cx="460" cy="380" r="3.9"/><circle cx="495" cy="392" r="3.9"/><circle cx="272" cy="415" r="3.9"/><circle cx="566" cy="406" r="3.9"/><circle cx="354" cy="348" r="3.9"/><circle cx="457" cy="396" r="3.9"/><circle cx="388" cy="372" r="3.9"/><circle cx="385" cy="381" r="3.9"/><circle cx="406" cy="376" r="3.9"/><circle cx="268" cy="367" r="3.9"/><circle cx="414" cy="365" r="3.9"/><circle cx="358" cy="374" r="3.9"/><circle cx="390" cy="381" r="3.9"/><circle cx="323" cy="382" r="3.9"/><circle cx="382" cy="374" r="3.9"/><circle cx="507" cy="380" r="3.9"/><circle cx="605" cy="407" r="3.9"/><circle cx="335" cy="382" r="3.9"/><circle cx="565" cy="397" r="3.9"/><circle cx="478" cy="390" r="3.9"/><circle cx="301" cy="418" r="3.9"/><circle cx="272" cy="404" r="3.9"/><circle cx="571" cy="375" r="3.9"/><circle cx="347" cy="389" r="3.9"/><circle cx="303" cy="373" r="3.9"/><circle cx="492" cy="394" r="3.9"/><circle cx="510" cy="380" r="3.9"/><circle cx="575" cy="408" r="3.9"/><circle cx="439" cy="369" r="3.9"/><circle cx="374" cy="351" r="3.9"/><circle cx="376" cy="390" r="3.9"/><circle cx="337" cy="415" r="3.9"/><circle cx="485" cy="374" r="3.9"/><circle cx="591" cy="394" r="3.9"/><circle cx="296" cy="372" r="3.9"/><circle cx="400" cy="404" r="3.9"/><circle cx="388" cy="383" r="3.9"/><circle cx="294" cy="383" r="3.9"/><circle cx="471" cy="386" r="3.9"/><circle cx="605" cy="394" r="3.9"/><circle cx="362" cy="383" r="3.9"/><circle cx="517" cy="283" r="3.9"/><circle cx="577" cy="405" r="3.9"/><circle cx="360" cy="413" r="3.9"/><circle cx="583" cy="367" r="3.9"/><circle cx="524" cy="390" r="3.9"/><circle cx="489" cy="391" r="3.9"/><circle cx="334" cy="342" r="3.9"/><circle cx="362" cy="369" r="3.9"/><circle cx="302" cy="359" r="3.9"/><circle cx="575" cy="395" r="3.9"/><circle cx="545" cy="387" r="3.9"/><circle cx="296" cy="371" r="3.9"/><circle cx="449" cy="382" r="3.9"/><circle cx="340" cy="386" r="3.9"/><circle cx="530" cy="393" r="3.9"/><circle cx="464" cy="382" r="3.9"/><circle cx="592" cy="373" r="3.9"/><circle cx="517" cy="398" r="3.9"/><circle cx="301" cy="394" r="3.9"/><circle cx="395" cy="420" r="3.9"/><circle cx="465" cy="398" r="3.9"/><circle cx="581" cy="410" r="3.9"/><circle cx="394" cy="374" r="3.9"/><circle cx="331" cy="346" r="3.9"/><circle cx="364" cy="353" r="3.9"/><circle cx="352" cy="369" r="3.9"/><circle cx="320" cy="359" r="3.9"/><circle cx="385" cy="401" r="3.9"/><circle cx="352" cy="358" r="3.9"/><circle cx="442" cy="448" r="3.9"/><circle cx="574" cy="381" r="3.9"/><circle cx="595" cy="392" r="3.9"/><circle cx="322" cy="386" r="3.9"/><circle cx="463" cy="400" r="3.9"/><circle cx="499" cy="368" r="3.9"/><circle cx="319" cy="366" r="3.9"/><circle cx="450" cy="378" r="3.9"/><circle cx="336" cy="367" r="3.9"/><circle cx="392" cy="394" r="3.9"/><circle cx="378" cy="375" r="3.9"/><circle cx="547" cy="402" r="3.9"/><circle cx="347" cy="396" r="3.9"/><circle cx="453" cy="385" r="3.9"/><circle cx="468" cy="324" r="3.9"/><circle cx="380" cy="390" r="3.9"/><circle cx="587" cy="365" r="3.9"/><circle cx="381" cy="379" r="3.9"/><circle cx="379" cy="370" r="3.9"/><circle cx="505" cy="351" r="3.9"/><circle cx="435" cy="390" r="3.9"/><circle cx="516" cy="359" r="3.9"/><circle cx="319" cy="360" r="3.9"/><circle cx="318" cy="361" r="3.9"/><circle cx="520" cy="405" r="3.9"/><circle cx="400" cy="391" r="3.9"/><circle cx="562" cy="391" r="3.9"/><circle cx="347" cy="379" r="3.9"/><circle cx="349" cy="372" r="3.9"/><circle cx="564" cy="379" r="3.9"/><circle cx="391" cy="384" r="3.9"/><circle cx="304" cy="382" r="3.9"/><circle cx="343" cy="363" r="3.9"/><circle cx="532" cy="384" r="3.9"/><circle cx="358" cy="384" r="3.9"/><circle cx="458" cy="385" r="3.9"/><circle cx="554" cy="394" r="3.9"/><circle cx="477" cy="404" r="3.9"/><circle cx="526" cy="386" r="3.9"/><circle cx="603" cy="382" r="3.9"/><circle cx="370" cy="368" r="3.9"/><circle cx="568" cy="383" r="3.9"/><circle cx="456" cy="392" r="3.9"/><circle cx="336" cy="372" r="3.9"/><circle cx="312" cy="357" r="3.9"/><circle cx="380" cy="376" r="3.9"/><circle cx="314" cy="377" r="3.9"/><circle cx="532" cy="384" r="3.9"/><circle cx="459" cy="341" r="3.9"/><circle cx="282" cy="378" r="3.9"/><circle cx="569" cy="374" r="3.9"/><circle cx="472" cy="396" r="3.9"/><circle cx="419" cy="399" r="3.9"/><circle cx="315" cy="381" r="3.9"/><circle cx="428" cy="378" r="3.9"/><circle cx="582" cy="377" r="3.9"/><circle cx="468" cy="357" r="3.9"/><circle cx="425" cy="408" r="3.9"/><circle cx="476" cy="390" r="3.9"/><circle cx="456" cy="370" r="3.9"/><circle cx="481" cy="366" r="3.9"/><circle cx="335" cy="379" r="3.9"/><circle cx="318" cy="395" r="3.9"/><circle cx="271" cy="377" r="3.9"/><circle cx="553" cy="398" r="3.9"/><circle cx="268" cy="404" r="3.9"/><circle cx="355" cy="372" r="3.9"/><circle cx="468" cy="390" r="3.9"/><circle cx="439" cy="371" r="3.9"/><circle cx="577" cy="334" r="3.9"/><circle cx="340" cy="385" r="3.9"/><circle cx="306" cy="398" r="3.9"/><circle cx="322" cy="382" r="3.9"/><circle cx="438" cy="354" r="3.9"/><circle cx="367" cy="389" r="3.9"/><circle cx="423" cy="407" r="3.9"/><circle cx="503" cy="378" r="3.9"/><circle cx="377" cy="361" r="3.9"/><circle cx="496" cy="366" r="3.9"/><circle cx="273" cy="407" r="3.9"/><circle cx="455" cy="383" r="3.9"/><circle cx="579" cy="386" r="3.9"/><circle cx="588" cy="384" r="3.9"/><circle cx="463" cy="407" r="3.9"/><circle cx="605" cy="371" r="3.9"/><circle cx="348" cy="393" r="3.9"/><circle cx="369" cy="370" r="3.9"/><circle cx="421" cy="363" r="3.9"/><circle cx="442" cy="428" r="3.9"/><circle cx="549" cy="417" r="3.9"/><circle cx="421" cy="402" r="3.9"/><circle cx="283" cy="377" r="3.9"/><circle cx="508" cy="356" r="3.9"/><circle cx="343" cy="406" r="3.9"/><circle cx="570" cy="395" r="3.9"/><circle cx="340" cy="375" r="3.9"/><circle cx="368" cy="368" r="3.9"/><circle cx="314" cy="386" r="3.9"/><circle cx="371" cy="376" r="3.9"/><circle cx="474" cy="433" r="3.9"/><circle cx="359" cy="384" r="3.9"/><circle cx="283" cy="397" r="3.9"/><circle cx="468" cy="357" r="3.9"/><circle cx="520" cy="393" r="3.9"/><circle cx="304" cy="381" r="3.9"/><circle cx="413" cy="387" r="3.9"/><circle cx="290" cy="385" r="3.9"/><circle cx="273" cy="368" r="3.9"/><circle cx="396" cy="433" r="3.9"/><circle cx="365" cy="390" r="3.9"/><circle cx="568" cy="388" r="3.9"/><circle cx="271" cy="385" r="3.9"/><circle cx="489" cy="390" r="3.9"/><circle cx="519" cy="427" r="3.9"/><circle cx="410" cy="401" r="3.9"/><circle cx="439" cy="384" r="3.9"/><circle cx="352" cy="381" r="3.9"/><circle cx="354" cy="364" r="3.9"/><circle cx="285" cy="375" r="3.9"/><circle cx="578" cy="388" r="3.9"/><circle cx="277" cy="373" r="3.9"/><circle cx="314" cy="393" r="3.9"/><circle cx="516" cy="388" r="3.9"/><circle cx="424" cy="368" r="3.9"/><circle cx="443" cy="396" r="3.9"/><circle cx="368" cy="389" r="3.9"/><circle cx="322" cy="411" r="3.9"/><circle cx="542" cy="405" r="3.9"/><circle cx="309" cy="375" r="3.9"/><circle cx="369" cy="368" r="3.9"/><circle cx="525" cy="385" r="3.9"/><circle cx="369" cy="384" r="3.9"/><circle cx="594" cy="394" r="3.9"/><circle cx="327" cy="375" r="3.9"/><circle cx="448" cy="396" r="3.9"/><circle cx="452" cy="401" r="3.9"/><circle cx="439" cy="388" r="3.9"/><circle cx="533" cy="392" r="3.9"/><circle cx="283" cy="382" r="3.9"/><circle cx="455" cy="383" r="3.9"/><circle cx="538" cy="433" r="3.9"/><circle cx="284" cy="385" r="3.9"/><circle cx="455" cy="392" r="3.9"/><circle cx="418" cy="368" r="3.9"/><circle cx="406" cy="385" r="3.9"/><circle cx="452" cy="367" r="3.9"/><circle cx="482" cy="392" r="3.9"/><circle cx="509" cy="379" r="3.9"/><circle cx="576" cy="401" r="3.9"/><circle cx="493" cy="403" r="3.9"/><circle cx="610" cy="385" r="3.9"/><circle cx="496" cy="391" r="3.9"/><circle cx="359" cy="402" r="3.9"/><circle cx="317" cy="393" r="3.9"/><circle cx="291" cy="379" r="3.9"/><circle cx="359" cy="392" r="3.9"/><circle cx="308" cy="383" r="3.9"/><circle cx="502" cy="393" r="3.9"/><circle cx="504" cy="400" r="3.9"/><circle cx="477" cy="427" r="3.9"/><circle cx="398" cy="352" r="3.9"/><circle cx="426" cy="400" r="3.9"/><circle cx="356" cy="376" r="3.9"/><circle cx="583" cy="394" r="3.9"/><circle cx="272" cy="376" r="3.9"/><circle cx="377" cy="398" r="3.9"/><circle cx="464" cy="388" r="3.9"/><circle cx="329" cy="361" r="3.9"/><circle cx="561" cy="390" r="3.9"/><circle cx="432" cy="379" r="3.9"/><circle cx="394" cy="360" r="3.9"/><circle cx="288" cy="365" r="3.9"/><circle cx="363" cy="352" r="3.9"/><circle cx="470" cy="394" r="3.9"/><circle cx="363" cy="397" r="3.9"/><circle cx="282" cy="376" r="3.9"/><circle cx="466" cy="383" r="3.9"/><circle cx="371" cy="373" r="3.9"/><circle cx="558" cy="404" r="3.9"/><circle cx="505" cy="399" r="3.9"/><circle cx="515" cy="419" r="3.9"/><circle cx="573" cy="414" r="3.9"/><circle cx="545" cy="392" r="3.9"/><circle cx="380" cy="373" r="3.9"/><circle cx="463" cy="402" r="3.9"/><circle cx="356" cy="377" r="3.9"/><circle cx="336" cy="394" r="3.9"/><circle cx="338" cy="390" r="3.9"/><circle cx="305" cy="375" r="3.9"/><circle cx="349" cy="383" r="3.9"/><circle cx="344" cy="378" r="3.9"/><circle cx="498" cy="390" r="3.9"/><circle cx="353" cy="308" r="3.9"/><circle cx="283" cy="391" r="3.9"/><circle cx="412" cy="391" r="3.9"/><circle cx="336" cy="381" r="3.9"/><circle cx="504" cy="385" r="3.9"/><circle cx="343" cy="388" r="3.9"/><circle cx="458" cy="393" r="3.9"/><circle cx="327" cy="342" r="3.9"/><circle cx="433" cy="377" r="3.9"/><circle cx="565" cy="384" r="3.9"/><circle cx="371" cy="374" r="3.9"/><circle cx="448" cy="392" r="3.9"/><circle cx="418" cy="397" r="3.9"/><circle cx="291" cy="374" r="3.9"/><circle cx="274" cy="396" r="3.9"/><circle cx="557" cy="408" r="3.9"/><circle cx="384" cy="390" r="3.9"/><circle cx="503" cy="398" r="3.9"/><circle cx="409" cy="373" r="3.9"/><circle cx="555" cy="383" r="3.9"/><circle cx="334" cy="416" r="3.9"/><circle cx="433" cy="393" r="3.9"/><circle cx="455" cy="376" r="3.9"/><circle cx="540" cy="385" r="3.9"/><circle cx="277" cy="368" r="3.9"/><circle cx="391" cy="400" r="3.9"/><circle cx="430" cy="350" r="3.9"/><circle cx="469" cy="423" r="3.9"/><circle cx="315" cy="388" r="3.9"/><circle cx="454" cy="398" r="3.9"/><circle cx="505" cy="394" r="3.9"/><circle cx="519" cy="387" r="3.9"/><circle cx="344" cy="393" r="3.9"/><circle cx="418" cy="401" r="3.9"/><circle cx="369" cy="389" r="3.9"/><circle cx="400" cy="374" r="3.9"/><circle cx="392" cy="405" r="3.9"/><circle cx="592" cy="391" r="3.9"/><circle cx="271" cy="366" r="3.9"/><circle cx="593" cy="367" r="3.9"/><circle cx="278" cy="386" r="3.9"/><circle cx="294" cy="362" r="3.9"/><circle cx="338" cy="390" r="3.9"/><circle cx="365" cy="388" r="3.9"/><circle cx="562" cy="392" r="3.9"/><circle cx="556" cy="405" r="3.9"/><circle cx="588" cy="389" r="3.9"/><circle cx="401" cy="359" r="3.9"/><circle cx="272" cy="391" r="3.9"/><circle cx="482" cy="389" r="3.9"/><circle cx="576" cy="422" r="3.9"/><circle cx="304" cy="399" r="3.9"/><circle cx="552" cy="376" r="3.9"/><circle cx="267" cy="385" r="3.9"/><circle cx="519" cy="346" r="3.9"/><circle cx="436" cy="396" r="3.9"/><circle cx="579" cy="360" r="3.9"/><circle cx="568" cy="388" r="3.9"/><circle cx="283" cy="398" r="3.9"/><circle cx="438" cy="392" r="3.9"/><circle cx="350" cy="408" r="3.9"/><circle cx="418" cy="375" r="3.9"/><circle cx="290" cy="368" r="3.9"/><circle cx="391" cy="336" r="3.9"/><circle cx="407" cy="365" r="3.9"/><circle cx="268" cy="383" r="3.9"/><circle cx="430" cy="394" r="3.9"/><circle cx="575" cy="360" r="3.9"/><circle cx="288" cy="386" r="3.9"/><circle cx="592" cy="398" r="3.9"/><circle cx="435" cy="401" r="3.9"/><circle cx="339" cy="382" r="3.9"/><circle cx="600" cy="377" r="3.9"/><circle cx="430" cy="360" r="3.9"/><circle cx="417" cy="382" r="3.9"/><circle cx="396" cy="379" r="3.9"/><circle cx="570" cy="406" r="3.9"/><circle cx="311" cy="421" r="3.9"/><circle cx="339" cy="382" r="3.9"/><circle cx="364" cy="370" r="3.9"/><circle cx="288" cy="384" r="3.9"/><circle cx="557" cy="393" r="3.9"/><circle cx="435" cy="354" r="3.9"/><circle cx="474" cy="386" r="3.9"/><circle cx="571" cy="388" r="3.9"/><circle cx="437" cy="379" r="3.9"/><circle cx="362" cy="359" r="3.9"/><circle cx="450" cy="393" r="3.9"/><circle cx="439" cy="405" r="3.9"/><circle cx="370" cy="377" r="3.9"/><circle cx="346" cy="388" r="3.9"/><circle cx="390" cy="398" r="3.9"/><circle cx="520" cy="404" r="3.9"/><circle cx="324" cy="345" r="3.9"/><circle cx="609" cy="403" r="3.9"/><circle cx="348" cy="351" r="3.9"/><circle cx="361" cy="372" r="3.9"/><circle cx="309" cy="386" r="3.9"/><circle cx="402" cy="408" r="3.9"/><circle cx="395" cy="392" r="3.9"/><circle cx="501" cy="423" r="3.9"/><circle cx="575" cy="373" r="3.9"/><circle cx="352" cy="361" r="3.9"/><circle cx="545" cy="414" r="3.9"/><circle cx="373" cy="389" r="3.9"/><circle cx="407" cy="398" r="3.9"/><circle cx="311" cy="389" r="3.9"/><circle cx="574" cy="381" r="3.9"/><circle cx="395" cy="388" r="3.9"/><circle cx="508" cy="397" r="3.9"/><circle cx="276" cy="386" r="3.9"/><circle cx="507" cy="386" r="3.9"/><circle cx="345" cy="368" r="3.9"/><circle cx="422" cy="368" r="3.9"/><circle cx="499" cy="475" r="3.9"/><circle cx="325" cy="371" r="3.9"/><circle cx="448" cy="390" r="3.9"/><circle cx="554" cy="400" r="3.9"/><circle cx="323" cy="379" r="3.9"/><circle cx="428" cy="367" r="3.9"/><circle cx="330" cy="394" r="3.9"/><circle cx="316" cy="383" r="3.9"/><circle cx="435" cy="410" r="3.9"/><circle cx="424" cy="387" r="3.9"/><circle cx="488" cy="424" r="3.9"/><circle cx="562" cy="383" r="3.9"/><circle cx="510" cy="386" r="3.9"/><circle cx="382" cy="384" r="3.9"/><circle cx="434" cy="377" r="3.9"/><circle cx="499" cy="406" r="3.9"/><circle cx="555" cy="394" r="3.9"/><circle cx="502" cy="411" r="3.9"/><circle cx="440" cy="365" r="3.9"/><circle cx="313" cy="379" r="3.9"/><circle cx="566" cy="367" r="3.9"/><circle cx="364" cy="402" r="3.9"/><circle cx="406" cy="369" r="3.9"/><circle cx="571" cy="433" r="3.9"/><circle cx="338" cy="373" r="3.9"/><circle cx="581" cy="375" r="3.9"/><circle cx="346" cy="392" r="3.9"/><circle cx="297" cy="372" r="3.9"/><circle cx="443" cy="418" r="3.9"/><circle cx="540" cy="372" r="3.9"/><circle cx="405" cy="382" r="3.9"/><circle cx="557" cy="414" r="3.9"/><circle cx="403" cy="393" r="3.9"/><circle cx="547" cy="386" r="3.9"/><circle cx="306" cy="376" r="3.9"/><circle cx="364" cy="397" r="3.9"/><circle cx="309" cy="355" r="3.9"/><circle cx="521" cy="390" r="3.9"/><circle cx="428" cy="395" r="3.9"/><circle cx="492" cy="360" r="3.9"/><circle cx="349" cy="375" r="3.9"/><circle cx="520" cy="359" r="3.9"/><circle cx="608" cy="380" r="3.9"/><circle cx="294" cy="383" r="3.9"/><circle cx="376" cy="393" r="3.9"/><circle cx="566" cy="356" r="3.9"/><circle cx="560" cy="386" r="3.9"/><circle cx="567" cy="407" r="3.9"/><circle cx="345" cy="395" r="3.9"/><circle cx="461" cy="382" r="3.9"/><circle cx="296" cy="402" r="3.9"/><circle cx="415" cy="419" r="3.9"/><circle cx="465" cy="335" r="3.9"/><circle cx="356" cy="375" r="3.9"/><circle cx="412" cy="384" r="3.9"/><circle cx="393" cy="388" r="3.9"/><circle cx="296" cy="357" r="3.9"/><circle cx="290" cy="390" r="3.9"/><circle cx="536" cy="373" r="3.9"/><circle cx="268" cy="394" r="3.9"/><circle cx="606" cy="389" r="3.9"/><circle cx="575" cy="397" r="3.9"/><circle cx="606" cy="395" r="3.9"/><circle cx="537" cy="398" r="3.9"/><circle cx="268" cy="388" r="3.9"/><circle cx="307" cy="375" r="3.9"/><circle cx="376" cy="392" r="3.9"/><circle cx="329" cy="375" r="3.9"/><circle cx="288" cy="395" r="3.9"/><circle cx="582" cy="366" r="3.9"/><circle cx="580" cy="394" r="3.9"/><circle cx="531" cy="408" r="3.9"/><circle cx="354" cy="396" r="3.9"/><circle cx="560" cy="406" r="3.9"/><circle cx="549" cy="390" r="3.9"/><circle cx="378" cy="398" r="3.9"/><circle cx="311" cy="372" r="3.9"/><circle cx="313" cy="411" r="3.9"/><circle cx="407" cy="395" r="3.9"/><circle cx="553" cy="382" r="3.9"/><circle cx="293" cy="389" r="3.9"/><circle cx="415" cy="331" r="3.9"/><circle cx="389" cy="400" r="3.9"/><circle cx="574" cy="383" r="3.9"/><circle cx="319" cy="370" r="3.9"/><circle cx="492" cy="380" r="3.9"/><circle cx="378" cy="388" r="3.9"/><circle cx="489" cy="380" r="3.9"/><circle cx="550" cy="399" r="3.9"/><circle cx="550" cy="396" r="3.9"/><circle cx="558" cy="385" r="3.9"/><circle cx="367" cy="366" r="3.9"/><circle cx="362" cy="395" r="3.9"/><circle cx="309" cy="373" r="3.9"/><circle cx="355" cy="380" r="3.9"/><circle cx="308" cy="390" r="3.9"/><circle cx="537" cy="371" r="3.9"/><circle cx="283" cy="380" r="3.9"/><circle cx="333" cy="411" r="3.9"/><circle cx="539" cy="405" r="3.9"/><circle cx="531" cy="381" r="3.9"/><circle cx="602" cy="389" r="3.9"/><circle cx="399" cy="387" r="3.9"/><circle cx="282" cy="368" r="3.9"/><circle cx="545" cy="375" r="3.9"/><circle cx="365" cy="409" r="3.9"/><circle cx="533" cy="403" r="3.9"/><circle cx="273" cy="384" r="3.9"/><circle cx="279" cy="369" r="3.9"/><circle cx="473" cy="369" r="3.9"/><circle cx="502" cy="385" r="3.9"/><circle cx="460" cy="388" r="3.9"/><circle cx="450" cy="404" r="3.9"/><circle cx="472" cy="405" r="3.9"/><circle cx="312" cy="382" r="3.9"/><circle cx="289" cy="401" r="3.9"/><circle cx="387" cy="380" r="3.9"/><circle cx="455" cy="389" r="3.9"/><circle cx="352" cy="367" r="3.9"/><circle cx="328" cy="374" r="3.9"/><circle cx="420" cy="381" r="3.9"/><circle cx="408" cy="400" r="3.9"/><circle cx="359" cy="509" r="3.9"/><circle cx="586" cy="378" r="3.9"/><circle cx="591" cy="401" r="3.9"/><circle cx="283" cy="304" r="3.9"/><circle cx="432" cy="381" r="3.9"/><circle cx="349" cy="376" r="3.9"/><circle cx="382" cy="366" r="3.9"/><circle cx="276" cy="390" r="3.9"/><circle cx="294" cy="391" r="3.9"/><circle cx="278" cy="376" r="3.9"/><circle cx="310" cy="385" r="3.9"/><circle cx="490" cy="398" r="3.9"/><circle cx="294" cy="397" r="3.9"/><circle cx="572" cy="402" r="3.9"/><circle cx="543" cy="392" r="3.9"/><circle cx="359" cy="399" r="3.9"/><circle cx="505" cy="388" r="3.9"/><circle cx="594" cy="355" r="3.9"/><circle cx="307" cy="402" r="3.9"/><circle cx="459" cy="376" r="3.9"/><circle cx="427" cy="380" r="3.9"/><circle cx="373" cy="398" r="3.9"/><circle cx="366" cy="373" r="3.9"/><circle cx="296" cy="399" r="3.9"/><circle cx="489" cy="416" r="3.9"/><circle cx="335" cy="388" r="3.9"/><circle cx="412" cy="374" r="3.9"/><circle cx="586" cy="413" r="3.9"/><circle cx="387" cy="379" r="3.9"/><circle cx="376" cy="382" r="3.9"/><circle cx="588" cy="398" r="3.9"/><circle cx="468" cy="365" r="3.9"/><circle cx="463" cy="368" r="3.9"/><circle cx="343" cy="381" r="3.9"/><circle cx="487" cy="396" r="3.9"/><circle cx="397" cy="379" r="3.9"/><circle cx="454" cy="393" r="3.9"/><circle cx="404" cy="378" r="3.9"/><circle cx="295" cy="387" r="3.9"/><circle cx="569" cy="383" r="3.9"/><circle cx="505" cy="388" r="3.9"/><circle cx="596" cy="401" r="3.9"/><circle cx="372" cy="397" r="3.9"/><circle cx="364" cy="382" r="3.9"/><circle cx="313" cy="376" r="3.9"/><circle cx="372" cy="379" r="3.9"/><circle cx="379" cy="378" r="3.9"/><circle cx="330" cy="371" r="3.9"/><circle cx="358" cy="367" r="3.9"/><circle cx="368" cy="395" r="3.9"/><circle cx="562" cy="395" r="3.9"/><circle cx="420" cy="367" r="3.9"/><circle cx="549" cy="379" r="3.9"/><circle cx="284" cy="380" r="3.9"/><circle cx="332" cy="383" r="3.9"/><circle cx="595" cy="375" r="3.9"/><circle cx="284" cy="404" r="3.9"/><circle cx="291" cy="368" r="3.9"/><circle cx="445" cy="395" r="3.9"/><circle cx="366" cy="451" r="3.9"/><circle cx="334" cy="403" r="3.9"/><circle cx="476" cy="374" r="3.9"/><circle cx="476" cy="412" r="3.9"/><circle cx="331" cy="375" r="3.9"/><circle cx="452" cy="427" r="3.9"/><circle cx="423" cy="382" r="3.9"/><circle cx="558" cy="391" r="3.9"/><circle cx="290" cy="389" r="3.9"/><circle cx="347" cy="388" r="3.9"/><circle cx="461" cy="401" r="3.9"/><circle cx="278" cy="390" r="3.9"/><circle cx="558" cy="378" r="3.9"/><circle cx="600" cy="395" r="3.9"/><circle cx="380" cy="380" r="3.9"/><circle cx="533" cy="386" r="3.9"/><circle cx="352" cy="377" r="3.9"/><circle cx="593" cy="385" r="3.9"/><circle cx="340" cy="408" r="3.9"/><circle cx="269" cy="372" r="3.9"/><circle cx="290" cy="366" r="3.9"/><circle cx="425" cy="362" r="3.9"/><circle cx="280" cy="388" r="3.9"/><circle cx="604" cy="399" r="3.9"/><circle cx="484" cy="416" r="3.9"/><circle cx="462" cy="376" r="3.9"/><circle cx="482" cy="398" r="3.9"/><circle cx="411" cy="377" r="3.9"/><circle cx="572" cy="369" r="3.9"/><circle cx="512" cy="389" r="3.9"/><circle cx="415" cy="395" r="3.9"/><circle cx="364" cy="387" r="3.9"/><circle cx="316" cy="393" r="3.9"/><circle cx="375" cy="385" r="3.9"/><circle cx="388" cy="398" r="3.9"/><circle cx="294" cy="377" r="3.9"/><circle cx="585" cy="405" r="3.9"/><circle cx="355" cy="412" r="3.9"/><circle cx="453" cy="369" r="3.9"/><circle cx="289" cy="380" r="3.9"/><circle cx="457" cy="399" r="3.9"/><circle cx="489" cy="359" r="3.9"/><circle cx="294" cy="408" r="3.9"/><circle cx="602" cy="380" r="3.9"/><circle cx="323" cy="384" r="3.9"/><circle cx="357" cy="389" r="3.9"/><circle cx="520" cy="366" r="3.9"/><circle cx="383" cy="388" r="3.9"/><circle cx="568" cy="461" r="3.9"/><circle cx="349" cy="396" r="3.9"/><circle cx="375" cy="374" r="3.9"/><circle cx="505" cy="381" r="3.9"/><circle cx="563" cy="403" r="3.9"/><circle cx="571" cy="380" r="3.9"/><circle cx="366" cy="391" r="3.9"/><circle cx="449" cy="348" r="3.9"/><circle cx="408" cy="390" r="3.9"/><circle cx="499" cy="396" r="3.9"/><circle cx="345" cy="400" r="3.9"/><circle cx="555" cy="388" r="3.9"/><circle cx="512" cy="392" r="3.9"/><circle cx="327" cy="384" r="3.9"/><circle cx="375" cy="367" r="3.9"/><circle cx="382" cy="384" r="3.9"/><circle cx="587" cy="424" r="3.9"/><circle cx="424" cy="365" r="3.9"/><circle cx="479" cy="380" r="3.9"/><circle cx="587" cy="377" r="3.9"/><circle cx="403" cy="375" r="3.9"/><circle cx="592" cy="405" r="3.9"/><circle cx="367" cy="380" r="3.9"/><circle cx="271" cy="396" r="3.9"/><circle cx="302" cy="386" r="3.9"/><circle cx="505" cy="385" r="3.9"/><circle cx="398" cy="391" r="3.9"/><circle cx="554" cy="384" r="3.9"/><circle cx="450" cy="387" r="3.9"/><circle cx="503" cy="379" r="3.9"/><circle cx="388" cy="431" r="3.9"/><circle cx="469" cy="369" r="3.9"/><circle cx="507" cy="388" r="3.9"/><circle cx="396" cy="370" r="3.9"/><circle cx="436" cy="399" r="3.9"/><circle cx="557" cy="381" r="3.9"/><circle cx="586" cy="386" r="3.9"/><circle cx="387" cy="386" r="3.9"/><circle cx="290" cy="361" r="3.9"/><circle cx="557" cy="404" r="3.9"/><circle cx="421" cy="376" r="3.9"/><circle cx="600" cy="380" r="3.9"/><circle cx="529" cy="401" r="3.9"/><circle cx="393" cy="374" r="3.9"/><circle cx="559" cy="369" r="3.9"/><circle cx="455" cy="394" r="3.9"/><circle cx="512" cy="380" r="3.9"/><circle cx="571" cy="384" r="3.9"/><circle cx="466" cy="391" r="3.9"/><circle cx="593" cy="395" r="3.9"/><circle cx="404" cy="377" r="3.9"/><circle cx="397" cy="420" r="3.9"/><circle cx="487" cy="402" r="3.9"/><circle cx="406" cy="403" r="3.9"/><circle cx="510" cy="408" r="3.9"/><circle cx="450" cy="393" r="3.9"/><circle cx="522" cy="397" r="3.9"/><circle cx="551" cy="374" r="3.9"/><circle cx="462" cy="400" r="3.9"/><circle cx="581" cy="383" r="3.9"/><circle cx="536" cy="396" r="3.9"/><circle cx="562" cy="396" r="3.9"/><circle cx="273" cy="383" r="3.9"/><circle cx="272" cy="368" r="3.9"/><circle cx="485" cy="423" r="3.9"/><circle cx="381" cy="370" r="3.9"/><circle cx="567" cy="390" r="3.9"/><circle cx="402" cy="373" r="3.9"/><circle cx="523" cy="385" r="3.9"/><circle cx="351" cy="384" r="3.9"/><circle cx="483" cy="352" r="3.9"/><circle cx="577" cy="358" r="3.9"/><circle cx="563" cy="392" r="3.9"/><circle cx="393" cy="402" r="3.9"/><circle cx="433" cy="390" r="3.9"/><circle cx="451" cy="392" r="3.9"/><circle cx="385" cy="405" r="3.9"/><circle cx="433" cy="367" r="3.9"/><circle cx="599" cy="391" r="3.9"/><circle cx="569" cy="394" r="3.9"/><circle cx="375" cy="431" r="3.9"/><circle cx="502" cy="394" r="3.9"/><circle cx="593" cy="372" r="3.9"/><circle cx="391" cy="374" r="3.9"/><circle cx="559" cy="390" r="3.9"/><circle cx="541" cy="374" r="3.9"/><circle cx="572" cy="395" r="3.9"/><circle cx="296" cy="374" r="3.9"/><circle cx="584" cy="437" r="3.9"/><circle cx="604" cy="395" r="3.9"/><circle cx="350" cy="366" r="3.9"/><circle cx="485" cy="397" r="3.9"/><circle cx="298" cy="360" r="3.9"/><circle cx="474" cy="392" r="3.9"/><circle cx="511" cy="410" r="3.9"/><circle cx="523" cy="376" r="3.9"/><circle cx="562" cy="397" r="3.9"/><circle cx="368" cy="380" r="3.9"/><circle cx="307" cy="385" r="3.9"/><circle cx="548" cy="376" r="3.9"/><circle cx="276" cy="347" r="3.9"/><circle cx="347" cy="368" r="3.9"/><circle cx="348" cy="370" r="3.9"/><circle cx="533" cy="383" r="3.9"/><circle cx="419" cy="388" r="3.9"/><circle cx="555" cy="390" r="3.9"/><circle cx="497" cy="377" r="3.9"/><circle cx="557" cy="393" r="3.9"/><circle cx="537" cy="393" r="3.9"/><circle cx="570" cy="386" r="3.9"/><circle cx="362" cy="405" r="3.9"/><circle cx="389" cy="381" r="3.9"/><circle cx="483" cy="369" r="3.9"/><circle cx="467" cy="379" r="3.9"/><circle cx="534" cy="369" r="3.9"/><circle cx="545" cy="378" r="3.9"/><circle cx="372" cy="381" r="3.9"/><circle cx="308" cy="376" r="3.9"/><circle cx="522" cy="377" r="3.9"/><circle cx="503" cy="384" r="3.9"/><circle cx="362" cy="388" r="3.9"/><circle cx="286" cy="410" r="3.9"/><circle cx="275" cy="369" r="3.9"/><circle cx="352" cy="367" r="3.9"/><circle cx="361" cy="377" r="3.9"/><circle cx="338" cy="361" r="3.9"/><circle cx="284" cy="369" r="3.9"/><circle cx="325" cy="378" r="3.9"/><circle cx="387" cy="384" r="3.9"/><circle cx="298" cy="296" r="3.9"/><circle cx="338" cy="384" r="3.9"/><circle cx="417" cy="377" r="3.9"/><circle cx="559" cy="403" r="3.9"/><circle cx="567" cy="375" r="3.9"/><circle cx="406" cy="403" r="3.9"/><circle cx="310" cy="386" r="3.9"/><circle cx="359" cy="372" r="3.9"/><circle cx="499" cy="368" r="3.9"/><circle cx="407" cy="379" r="3.9"/><circle cx="463" cy="352" r="3.9"/><circle cx="520" cy="383" r="3.9"/><circle cx="493" cy="401" r="3.9"/><circle cx="562" cy="383" r="3.9"/><circle cx="296" cy="386" r="3.9"/><circle cx="369" cy="389" r="3.9"/><circle cx="278" cy="396" r="3.9"/><circle cx="446" cy="361" r="3.9"/><circle cx="478" cy="399" r="3.9"/><circle cx="354" cy="379" r="3.9"/><circle cx="286" cy="409" r="3.9"/><circle cx="426" cy="394" r="3.9"/><circle cx="324" cy="364" r="3.9"/><circle cx="334" cy="347" r="3.9"/><circle cx="398" cy="387" r="3.9"/><circle cx="592" cy="385" r="3.9"/><circle cx="391" cy="370" r="3.9"/><circle cx="511" cy="385" r="3.9"/><circle cx="395" cy="388" r="3.9"/><circle cx="406" cy="424" r="3.9"/><circle cx="315" cy="368" r="3.9"/><circle cx="330" cy="376" r="3.9"/><circle cx="532" cy="350" r="3.9"/><circle cx="414" cy="382" r="3.9"/><circle cx="365" cy="358" r="3.9"/><circle cx="606" cy="378" r="3.9"/><circle cx="569" cy="385" r="3.9"/><circle cx="358" cy="382" r="3.9"/><circle cx="416" cy="375" r="3.9"/><circle cx="462" cy="357" r="3.9"/><circle cx="324" cy="382" r="3.9"/><circle cx="414" cy="383" r="3.9"/><circle cx="364" cy="378" r="3.9"/><circle cx="546" cy="405" r="3.9"/><circle cx="299" cy="395" r="3.9"/><circle cx="608" cy="388" r="3.9"/><circle cx="348" cy="397" r="3.9"/><circle cx="381" cy="357" r="3.9"/><circle cx="293" cy="378" r="3.9"/><circle cx="581" cy="397" r="3.9"/><circle cx="552" cy="386" r="3.9"/><circle cx="290" cy="377" r="3.9"/><circle cx="448" cy="357" r="3.9"/><circle cx="401" cy="376" r="3.9"/><circle cx="475" cy="360" r="3.9"/><circle cx="382" cy="370" r="3.9"/><circle cx="596" cy="405" r="3.9"/><circle cx="342" cy="385" r="3.9"/><circle cx="549" cy="392" r="3.9"/><circle cx="359" cy="381" r="3.9"/><circle cx="490" cy="312" r="3.9"/><circle cx="414" cy="389" r="3.9"/><circle cx="448" cy="378" r="3.9"/><circle cx="446" cy="376" r="3.9"/><circle cx="482" cy="388" r="3.9"/><circle cx="290" cy="402" r="3.9"/><circle cx="287" cy="394" r="3.9"/><circle cx="601" cy="389" r="3.9"/><circle cx="354" cy="400" r="3.9"/><circle cx="389" cy="397" r="3.9"/><circle cx="349" cy="380" r="3.9"/><circle cx="489" cy="377" r="3.9"/><circle cx="605" cy="394" r="3.9"/><circle cx="405" cy="386" r="3.9"/><circle cx="377" cy="354" r="3.9"/><circle cx="387" cy="394" r="3.9"/><circle cx="276" cy="392" r="3.9"/><circle cx="298" cy="389" r="3.9"/><circle cx="283" cy="380" r="3.9"/><circle cx="378" cy="370" r="3.9"/><circle cx="605" cy="405" r="3.9"/><circle cx="315" cy="389" r="3.9"/><circle cx="456" cy="369" r="3.9"/><circle cx="338" cy="396" r="3.9"/><circle cx="279" cy="370" r="3.9"/><circle cx="555" cy="394" r="3.9"/><circle cx="310" cy="153" r="3.9"/><circle cx="313" cy="374" r="3.9"/><circle cx="548" cy="411" r="3.9"/><circle cx="351" cy="398" r="3.9"/><circle cx="335" cy="458" r="3.9"/><circle cx="591" cy="381" r="3.9"/><circle cx="334" cy="383" r="3.9"/><circle cx="553" cy="408" r="3.9"/><circle cx="372" cy="385" r="3.9"/><circle cx="461" cy="390" r="3.9"/><circle cx="374" cy="381" r="3.9"/><circle cx="383" cy="386" r="3.9"/><circle cx="588" cy="400" r="3.9"/><circle cx="579" cy="316" r="3.9"/><circle cx="327" cy="384" r="3.9"/><circle cx="516" cy="383" r="3.9"/><circle cx="315" cy="383" r="3.9"/><circle cx="370" cy="386" r="3.9"/><circle cx="291" cy="385" r="3.9"/><circle cx="490" cy="442" r="3.9"/><circle cx="517" cy="385" r="3.9"/><circle cx="524" cy="390" r="3.9"/><circle cx="533" cy="396" r="3.9"/><circle cx="403" cy="395" r="3.9"/><circle cx="328" cy="385" r="3.9"/><circle cx="268" cy="389" r="3.9"/><circle cx="418" cy="388" r="3.9"/><circle cx="588" cy="390" r="3.9"/><circle cx="421" cy="361" r="3.9"/><circle cx="479" cy="320" r="3.9"/><circle cx="582" cy="382" r="3.9"/><circle cx="564" cy="395" r="3.9"/><circle cx="521" cy="389" r="3.9"/><circle cx="471" cy="359" r="3.9"/><circle cx="346" cy="383" r="3.9"/><circle cx="524" cy="390" r="3.9"/><circle cx="410" cy="381" r="3.9"/><circle cx="510" cy="370" r="3.9"/><circle cx="344" cy="385" r="3.9"/><circle cx="590" cy="421" r="3.9"/><circle cx="323" cy="363" r="3.9"/><circle cx="539" cy="423" r="3.9"/><circle cx="573" cy="412" r="3.9"/><circle cx="319" cy="394" r="3.9"/><circle cx="564" cy="373" r="3.9"/><circle cx="488" cy="376" r="3.9"/><circle cx="474" cy="381" r="3.9"/><circle cx="354" cy="387" r="3.9"/><circle cx="380" cy="383" r="3.9"/><circle cx="348" cy="356" r="3.9"/><circle cx="419" cy="388" r="3.9"/><circle cx="490" cy="383" r="3.9"/><circle cx="517" cy="378" r="3.9"/><circle cx="510" cy="407" r="3.9"/><circle cx="386" cy="409" r="3.9"/><circle cx="382" cy="377" r="3.9"/><circle cx="529" cy="385" r="3.9"/><circle cx="602" cy="382" r="3.9"/><circle cx="343" cy="375" r="3.9"/><circle cx="409" cy="358" r="3.9"/><circle cx="362" cy="393" r="3.9"/><circle cx="602" cy="381" r="3.9"/><circle cx="272" cy="377" r="3.9"/><circle cx="574" cy="383" r="3.9"/><circle cx="531" cy="371" r="3.9"/><circle cx="381" cy="400" r="3.9"/><circle cx="501" cy="413" r="3.9"/><circle cx="394" cy="381" r="3.9"/><circle cx="486" cy="372" r="3.9"/><circle cx="413" cy="412" r="3.9"/><circle cx="582" cy="411" r="3.9"/><circle cx="424" cy="383" r="3.9"/><circle cx="546" cy="390" r="3.9"/><circle cx="240" cy="385" r="3.9"/><circle cx="224" cy="389" r="3.9"/><circle cx="270" cy="363" r="3.9"/><circle cx="210" cy="388" r="3.9"/><circle cx="265" cy="348" r="3.9"/><circle cx="271" cy="367" r="3.9"/><circle cx="261" cy="385" r="3.9"/><circle cx="242" cy="394" r="3.9"/><circle cx="243" cy="378" r="3.9"/><circle cx="267" cy="381" r="3.9"/><circle cx="229" cy="376" r="3.9"/><circle cx="259" cy="378" r="3.9"/><circle cx="255" cy="408" r="3.9"/><circle cx="261" cy="408" r="3.9"/><circle cx="229" cy="383" r="3.9"/><circle cx="245" cy="402" r="3.9"/><circle cx="202" cy="387" r="3.9"/><circle cx="201" cy="379" r="3.9"/><circle cx="204" cy="397" r="3.9"/><circle cx="252" cy="378" r="3.9"/><circle cx="223" cy="390" r="3.9"/><circle cx="265" cy="349" r="3.9"/><circle cx="201" cy="376" r="3.9"/><circle cx="208" cy="406" r="3.9"/><circle cx="260" cy="404" r="3.9"/><circle cx="227" cy="374" r="3.9"/><circle cx="212" cy="381" r="3.9"/><circle cx="255" cy="381" r="3.9"/><circle cx="213" cy="405" r="3.9"/><circle cx="270" cy="362" r="3.9"/><circle cx="216" cy="349" r="3.9"/><circle cx="261" cy="388" r="3.9"/><circle cx="232" cy="377" r="3.9"/><circle cx="267" cy="370" r="3.9"/><circle cx="218" cy="405" r="3.9"/><circle cx="266" cy="377" r="3.9"/><circle cx="219" cy="403" r="3.9"/><circle cx="230" cy="375" r="3.9"/><circle cx="244" cy="370" r="3.9"/><circle cx="238" cy="378" r="3.9"/><circle cx="247" cy="311" r="3.9"/><circle cx="249" cy="388" r="3.9"/><circle cx="216" cy="379" r="3.9"/><circle cx="196" cy="371" r="3.9"/><circle cx="251" cy="426" r="3.9"/><circle cx="241" cy="412" r="3.9"/><circle cx="239" cy="388" r="3.9"/><circle cx="233" cy="384" r="3.9"/><circle cx="267" cy="375" r="3.9"/><circle cx="218" cy="378" r="3.9"/><circle cx="265" cy="384" r="3.9"/><circle cx="208" cy="391" r="3.9"/><circle cx="249" cy="407" r="3.9"/><circle cx="268" cy="355" r="3.9"/><circle cx="207" cy="374" r="3.9"/><circle cx="255" cy="391" r="3.9"/><circle cx="216" cy="373" r="3.9"/><circle cx="200" cy="373" r="3.9"/><circle cx="228" cy="389" r="3.9"/><circle cx="249" cy="371" r="3.9"/><circle cx="217" cy="379" r="3.9"/><circle cx="268" cy="389" r="3.9"/><circle cx="195" cy="354" r="3.9"/><circle cx="216" cy="387" r="3.9"/><circle cx="222" cy="408" r="3.9"/><circle cx="224" cy="379" r="3.9"/><circle cx="218" cy="377" r="3.9"/><circle cx="197" cy="378" r="3.9"/><circle cx="211" cy="393" r="3.9"/><circle cx="215" cy="394" r="3.9"/><circle cx="247" cy="369" r="3.9"/><circle cx="224" cy="401" r="3.9"/><circle cx="251" cy="395" r="3.9"/><circle cx="229" cy="391" r="3.9"/><circle cx="221" cy="383" r="3.9"/><circle cx="207" cy="353" r="3.9"/><circle cx="213" cy="391" r="3.9"/><circle cx="265" cy="402" r="3.9"/><circle cx="230" cy="385" r="3.9"/><circle cx="219" cy="406" r="3.9"/><circle cx="212" cy="431" r="3.9"/><circle cx="263" cy="407" r="3.9"/><circle cx="249" cy="374" r="3.9"/><circle cx="249" cy="375" r="3.9"/><circle cx="257" cy="363" r="3.9"/><circle cx="214" cy="396" r="3.9"/><circle cx="251" cy="380" r="3.9"/><circle cx="201" cy="397" r="3.9"/><circle cx="246" cy="386" r="3.9"/><circle cx="220" cy="376" r="3.9"/><circle cx="246" cy="388" r="3.9"/><circle cx="213" cy="375" r="3.9"/><circle cx="222" cy="362" r="3.9"/><circle cx="247" cy="388" r="3.9"/><circle cx="268" cy="365" r="3.9"/><circle cx="221" cy="383" r="3.9"/><circle cx="208" cy="369" r="3.9"/><circle cx="205" cy="379" r="3.9"/><circle cx="247" cy="392" r="3.9"/><circle cx="264" cy="388" r="3.9"/><circle cx="197" cy="372" r="3.9"/><circle cx="222" cy="373" r="3.9"/><circle cx="208" cy="393" r="3.9"/><circle cx="269" cy="345" r="3.9"/><circle cx="205" cy="365" r="3.9"/><circle cx="201" cy="380" r="3.9"/><circle cx="254" cy="378" r="3.9"/><circle cx="272" cy="354" r="3.9"/><circle cx="255" cy="385" r="3.9"/><circle cx="204" cy="382" r="3.9"/><circle cx="227" cy="416" r="3.9"/><circle cx="235" cy="370" r="3.9"/><circle cx="264" cy="390" r="3.9"/><circle cx="253" cy="354" r="3.9"/><circle cx="200" cy="399" r="3.9"/><circle cx="230" cy="399" r="3.9"/><circle cx="255" cy="391" r="3.9"/><circle cx="237" cy="383" r="3.9"/><circle cx="247" cy="441" r="3.9"/><circle cx="270" cy="382" r="3.9"/><circle cx="271" cy="399" r="3.9"/><circle cx="260" cy="386" r="3.9"/><circle cx="239" cy="383" r="3.9"/><circle cx="219" cy="399" r="3.9"/><circle cx="208" cy="381" r="3.9"/><circle cx="208" cy="388" r="3.9"/><circle cx="245" cy="374" r="3.9"/><circle cx="255" cy="378" r="3.9"/><circle cx="261" cy="360" r="3.9"/><circle cx="266" cy="380" r="3.9"/><circle cx="217" cy="402" r="3.9"/><circle cx="221" cy="376" r="3.9"/><circle cx="210" cy="390" r="3.9"/><circle cx="237" cy="319" r="3.9"/><circle cx="268" cy="373" r="3.9"/><circle cx="254" cy="392" r="3.9"/><circle cx="229" cy="396" r="3.9"/><circle cx="207" cy="395" r="3.9"/><circle cx="260" cy="499" r="3.9"/><circle cx="264" cy="375" r="3.9"/><circle cx="254" cy="395" r="3.9"/><circle cx="218" cy="382" r="3.9"/><circle cx="225" cy="412" r="3.9"/><circle cx="240" cy="380" r="3.9"/><circle cx="266" cy="389" r="3.9"/><circle cx="214" cy="414" r="3.9"/><circle cx="228" cy="384" r="3.9"/><circle cx="200" cy="390" r="3.9"/><circle cx="195" cy="382" r="3.9"/><circle cx="214" cy="383" r="3.9"/><circle cx="257" cy="382" r="3.9"/><circle cx="247" cy="395" r="3.9"/><circle cx="232" cy="414" r="3.9"/><circle cx="227" cy="377" r="3.9"/><circle cx="216" cy="405" r="3.9"/><circle cx="254" cy="381" r="3.9"/><circle cx="233" cy="389" r="3.9"/><circle cx="201" cy="406" r="3.9"/><circle cx="244" cy="380" r="3.9"/><circle cx="272" cy="397" r="3.9"/><circle cx="201" cy="393" r="3.9"/><circle cx="272" cy="422" r="3.9"/><circle cx="203" cy="422" r="3.9"/><circle cx="219" cy="381" r="3.9"/><circle cx="270" cy="399" r="3.9"/><circle cx="270" cy="408" r="3.9"/><circle cx="209" cy="387" r="3.9"/><circle cx="251" cy="389" r="3.9"/><circle cx="242" cy="359" r="3.9"/><circle cx="226" cy="358" r="3.9"/><circle cx="256" cy="381" r="3.9"/><circle cx="244" cy="368" r="3.9"/><circle cx="213" cy="378" r="3.9"/><circle cx="233" cy="374" r="3.9"/><circle cx="250" cy="392" r="3.9"/><circle cx="243" cy="373" r="3.9"/><circle cx="237" cy="397" r="3.9"/><circle cx="252" cy="398" r="3.9"/><circle cx="206" cy="394" r="3.9"/><circle cx="199" cy="389" r="3.9"/><circle cx="198" cy="469" r="3.9"/><circle cx="243" cy="382" r="3.9"/><circle cx="229" cy="403" r="3.9"/><circle cx="260" cy="421" r="3.9"/><circle cx="270" cy="378" r="3.9"/><circle cx="204" cy="383" r="3.9"/><circle cx="224" cy="370" r="3.9"/><circle cx="228" cy="396" r="3.9"/><circle cx="237" cy="396" r="3.9"/><circle cx="265" cy="363" r="3.9"/><circle cx="241" cy="399" r="3.9"/><circle cx="219" cy="373" r="3.9"/><circle cx="246" cy="362" r="3.9"/><circle cx="221" cy="390" r="3.9"/><circle cx="238" cy="375" r="3.9"/><circle cx="203" cy="328" r="3.9"/><circle cx="239" cy="378" r="3.9"/><circle cx="232" cy="400" r="3.9"/><circle cx="245" cy="392" r="3.9"/><circle cx="239" cy="389" r="3.9"/><circle cx="239" cy="406" r="3.9"/><circle cx="252" cy="393" r="3.9"/><circle cx="206" cy="384" r="3.9"/><circle cx="253" cy="395" r="3.9"/><circle cx="243" cy="398" r="3.9"/><circle cx="248" cy="393" r="3.9"/><circle cx="226" cy="264" r="3.9"/><circle cx="202" cy="378" r="3.9"/><circle cx="266" cy="387" r="3.9"/><circle cx="259" cy="384" r="3.9"/><circle cx="270" cy="406" r="3.9"/><circle cx="231" cy="386" r="3.9"/><circle cx="263" cy="394" r="3.9"/><circle cx="262" cy="421" r="3.9"/><circle cx="238" cy="360" r="3.9"/><circle cx="265" cy="384" r="3.9"/><circle cx="258" cy="384" r="3.9"/><circle cx="203" cy="431" r="3.9"/><circle cx="206" cy="375" r="3.9"/><circle cx="227" cy="388" r="3.9"/><circle cx="236" cy="372" r="3.9"/><circle cx="245" cy="392" r="3.9"/><circle cx="239" cy="399" r="3.9"/><circle cx="263" cy="391" r="3.9"/><circle cx="257" cy="389" r="3.9"/><circle cx="203" cy="390" r="3.9"/><circle cx="221" cy="363" r="3.9"/><circle cx="264" cy="391" r="3.9"/><circle cx="253" cy="387" r="3.9"/><circle cx="196" cy="380" r="3.9"/><circle cx="243" cy="405" r="3.9"/><circle cx="205" cy="362" r="3.9"/><circle cx="234" cy="361" r="3.9"/><circle cx="272" cy="408" r="3.9"/><circle cx="201" cy="391" r="3.9"/><circle cx="259" cy="329" r="3.9"/><circle cx="232" cy="362" r="3.9"/><circle cx="271" cy="379" r="3.9"/><circle cx="261" cy="385" r="3.9"/><circle cx="200" cy="383" r="3.9"/><circle cx="245" cy="393" r="3.9"/><circle cx="261" cy="365" r="3.9"/><circle cx="217" cy="383" r="3.9"/><circle cx="249" cy="394" r="3.9"/><circle cx="215" cy="393" r="3.9"/><circle cx="211" cy="363" r="3.9"/><circle cx="221" cy="390" r="3.9"/><circle cx="218" cy="377" r="3.9"/><circle cx="269" cy="383" r="3.9"/><circle cx="213" cy="519" r="3.9"/><circle cx="228" cy="391" r="3.9"/><circle cx="233" cy="391" r="3.9"/><circle cx="248" cy="407" r="3.9"/><circle cx="270" cy="386" r="3.9"/><circle cx="242" cy="354" r="3.9"/><circle cx="261" cy="390" r="3.9"/><circle cx="205" cy="379" r="3.9"/><circle cx="246" cy="391" r="3.9"/><circle cx="209" cy="378" r="3.9"/><circle cx="262" cy="397" r="3.9"/><circle cx="241" cy="381" r="3.9"/><circle cx="206" cy="377" r="3.9"/><circle cx="261" cy="391" r="3.9"/><circle cx="236" cy="394" r="3.9"/><circle cx="233" cy="369" r="3.9"/><circle cx="201" cy="385" r="3.9"/><circle cx="265" cy="378" r="3.9"/><circle cx="235" cy="399" r="3.9"/><circle cx="262" cy="417" r="3.9"/><circle cx="201" cy="400" r="3.9"/><circle cx="248" cy="363" r="3.9"/><circle cx="224" cy="394" r="3.9"/><circle cx="237" cy="351" r="3.9"/><circle cx="243" cy="390" r="3.9"/><circle cx="259" cy="394" r="3.9"/><circle cx="266" cy="382" r="3.9"/><circle cx="208" cy="421" r="3.9"/><circle cx="261" cy="414" r="3.9"/><circle cx="204" cy="392" r="3.9"/><circle cx="196" cy="377" r="3.9"/><circle cx="218" cy="384" r="3.9"/><circle cx="217" cy="382" r="3.9"/><circle cx="255" cy="377" r="3.9"/><circle cx="238" cy="396" r="3.9"/><circle cx="225" cy="375" r="3.9"/><circle cx="256" cy="392" r="3.9"/><circle cx="267" cy="413" r="3.9"/><circle cx="245" cy="390" r="3.9"/><circle cx="245" cy="397" r="3.9"/><circle cx="262" cy="385" r="3.9"/><circle cx="218" cy="374" r="3.9"/><circle cx="272" cy="388" r="3.9"/><circle cx="209" cy="388" r="3.9"/><circle cx="199" cy="399" r="3.9"/><circle cx="259" cy="394" r="3.9"/><circle cx="209" cy="408" r="3.9"/><circle cx="221" cy="417" r="3.9"/><circle cx="164" cy="395" r="3.9"/><circle cx="138" cy="379" r="3.9"/><circle cx="158" cy="391" r="3.9"/><circle cx="153" cy="384" r="3.9"/><circle cx="136" cy="395" r="3.9"/><circle cx="169" cy="403" r="3.9"/><circle cx="160" cy="372" r="3.9"/><circle cx="141" cy="376" r="3.9"/><circle cx="181" cy="388" r="3.9"/><circle cx="157" cy="383" r="3.9"/><circle cx="132" cy="378" r="3.9"/><circle cx="187" cy="387" r="3.9"/><circle cx="157" cy="358" r="3.9"/><circle cx="136" cy="370" r="3.9"/><circle cx="149" cy="374" r="3.9"/><circle cx="147" cy="398" r="3.9"/><circle cx="133" cy="385" r="3.9"/><circle cx="152" cy="372" r="3.9"/><circle cx="141" cy="397" r="3.9"/><circle cx="144" cy="377" r="3.9"/><circle cx="174" cy="377" r="3.9"/><circle cx="141" cy="382" r="3.9"/><circle cx="132" cy="386" r="3.9"/><circle cx="142" cy="397" r="3.9"/><circle cx="150" cy="400" r="3.9"/><circle cx="141" cy="374" r="3.9"/><circle cx="169" cy="389" r="3.9"/><circle cx="187" cy="376" r="3.9"/><circle cx="184" cy="386" r="3.9"/><circle cx="161" cy="423" r="3.9"/><circle cx="181" cy="394" r="3.9"/><circle cx="182" cy="388" r="3.9"/><circle cx="172" cy="397" r="3.9"/><circle cx="182" cy="383" r="3.9"/><circle cx="155" cy="400" r="3.9"/><circle cx="179" cy="400" r="3.9"/><circle cx="164" cy="365" r="3.9"/><circle cx="178" cy="398" r="3.9"/><circle cx="178" cy="389" r="3.9"/><circle cx="135" cy="389" r="3.9"/><circle cx="184" cy="416" r="3.9"/><circle cx="133" cy="367" r="3.9"/><circle cx="158" cy="404" r="3.9"/><circle cx="169" cy="379" r="3.9"/><circle cx="184" cy="394" r="3.9"/><circle cx="134" cy="358" r="3.9"/><circle cx="174" cy="422" r="3.9"/><circle cx="153" cy="398" r="3.9"/><circle cx="368" cy="156" r="3.9"/><circle cx="415" cy="175" r="3.9"/><circle cx="201" cy="194" r="3.9"/><circle cx="370" cy="232" r="3.9"/><circle cx="399" cy="256" r="3.9"/><circle cx="272" cy="253" r="3.9"/><circle cx="250" cy="578" r="3.9"/><circle cx="217" cy="541" r="3.9"/><circle cx="223" cy="541" r="3.9"/><circle cx="215" cy="515" r="3.9"/><circle cx="234" cy="517" r="3.9"/><circle cx="256" cy="595" r="3.9"/><circle cx="490" cy="611" r="3.9"/><circle cx="206" cy="514" r="3.9"/><circle cx="300" cy="512" r="3.9"/><circle cx="426" cy="487" r="3.9"/><circle cx="514" cy="501" r="3.9"/><circle cx="377" cy="528" r="3.9"/></g><g id="f1patch_3"><path d="M106.5 637.3L106.5 37.2" style="fill: none; stroke: #000000; stroke-width: 2.35; stroke-linejoin: miter; stroke-linecap: square"/></g><g id="f1patch_4"><path d="M634.7 637.3L634.7 37.2" style="fill: none; stroke: #000000; stroke-width: 2.35; stroke-linejoin: miter; stroke-linecap: square"/></g><g id="f1patch_5"><path d="M106.5 637.3L634.7 637.3" style="fill: none; stroke: #000000; stroke-width: 2.35; stroke-linejoin: miter; stroke-linecap: square"/></g><g id="f1patch_6"><path d="M106.5 37.2L634.7 37.2" style="fill: none; stroke: #000000; stroke-width: 2.35; stroke-linejoin: miter; stroke-linecap: square"/></g><g id="f1line2d_27"><path d="M126 380L128.4 380L130.8 380.1L133.3 380.1L135.7 380.2L138.2 380.3L140.6 380.3L143.1 380.4L145.5 380.4L147.9 380.5L150.4 380.6L152.8 380.6L155.3 380.7L157.7 380.7L160.2 380.8L162.6 380.8L165 380.9L167.5 381L169.9 381L172.4 381.1L174.8 381.1L177.2 381.2L179.7 381.3L182.1 381.3L184.6 381.4L187 381.4L189.5 381.5L191.9 381.5L194.3 381.6L196.8 381.7L199.2 381.7L201.7 381.8L204.1 381.8L206.6 381.9L209 382L211.4 382L213.9 382.1L216.3 382.1L218.8 382.2L221.2 382.2L223.6 382.3L226.1 382.4L228.5 382.4L231 382.5L233.4 382.5L235.9 382.6L238.3 382.7L240.7 382.7L243.2 382.8L245.6 382.8L248.1 382.9L250.5 382.9L253 383L255.4 383.1L257.8 383.1L260.3 383.2L262.7 383.2L265.2 383.3L267.6 383.4L270 383.4L272.5 383.5L274.9 383.5L277.4 383.6L279.8 383.6L282.3 383.7L284.7 383.8L287.1 383.8L289.6 383.9L292 383.9L294.5 384L296.9 384.1L299.4 384.1L301.8 384.2L304.2 384.2L306.7 384.3L309.1 384.3L311.6 384.4L314 384.5L316.4 384.5L318.9 384.6L321.3 384.6L323.8 384.7L326.2 384.8L328.7 384.8L331.1 384.9L333.5 384.9L336 385L338.4 385L340.9 385.1L343.3 385.2L345.8 385.2L348.2 385.3L350.6 385.3L353.1 385.4L355.5 385.5L358 385.5L360.4 385.6L362.8 385.6L365.3 385.7L367.7 385.7L370.2 385.8L372.6 385.9L375.1 385.9L377.5 386L379.9 386L382.4 386.1L384.8 386.2L387.3 386.2L389.7 386.3L392.2 386.3L394.6 386.4L397 386.4L399.5 386.5L401.9 386.6L404.4 386.6L406.8 386.7L409.2 386.7L411.7 386.8L414.1 386.9L416.6 386.9L419 387L421.5 387L423.9 387.1L426.3 387.2L428.8 387.2L431.2 387.3L433.7 387.3L436.1 387.4L438.6 387.4L441 387.5L443.4 387.6L445.9 387.6L448.3 387.7L450.8 387.7L453.2 387.8L455.6 387.9L458.1 387.9L460.5 388L463 388L465.4 388.1L467.9 388.1L470.3 388.2L472.7 388.3L475.2 388.3L477.6 388.4L480.1 388.4L482.5 388.5L485 388.6L487.4 388.6L489.8 388.7L492.3 388.7L494.7 388.8L497.2 388.8L499.6 388.9L502 389L504.5 389L506.9 389.1L509.4 389.1L511.8 389.2L514.3 389.3L516.7 389.3L519.1 389.4L521.6 389.4L524 389.5L526.5 389.5L528.9 389.6L531.4 389.7L533.8 389.7L536.2 389.8L538.7 389.8L541.1 389.9L543.6 390L546 390L548.4 390.1L550.9 390.1L553.3 390.2L555.8 390.2L558.2 390.3L560.7 390.4L563.1 390.4L565.5 390.5L568 390.5L570.4 390.6L572.9 390.7L575.3 390.7L577.8 390.8L580.2 390.8L582.6 390.9L585.1 390.9L587.5 391L590 391.1L592.4 391.1L594.8 391.2L597.3 391.2L599.7 391.3L602.2 391.4L604.6 391.4L607.1 391.5L609.5 391.5L611.9 391.6" clip-path="url(#f1p845b06b4ab)" style="fill: none; stroke-dasharray: 9.62,4.16; stroke-dashoffset: 0; stroke: #777777; stroke-width: 2.6"/></g><g id="f1line2d_28"><path d="M126 380.3L128.4 380.6L130.8 380.9L133.3 381.2L135.7 381.5L138.2 381.8L140.6 382.1L143.1 382.4L145.5 382.7L147.9 382.9L150.4 383.2L152.8 383.5L155.3 383.7L157.7 384L160.2 384.2L162.6 384.4L165 384.7L167.5 384.9L169.9 385.1L172.4 385.3L174.8 385.5L177.2 385.7L179.7 386L182.1 386.2L184.6 386.4L187 386.7L189.5 386.9L191.9 387.1L194.3 387.3L196.8 387.4L199.2 387.5L201.7 387.6L204.1 387.7L206.6 387.7L209 387.7L211.4 387.7L213.9 387.7L216.3 387.6L218.8 387.6L221.2 387.5L223.6 387.5L226.1 387.4L228.5 387.3L231 387.3L233.4 387.2L235.9 387.1L238.3 387L240.7 386.9L243.2 386.8L245.6 386.7L248.1 386.6L250.5 386.5L253 386.4L255.4 386.3L257.8 386.1L260.3 385.9L262.7 385.7L265.2 385.5L267.6 385.2L270 385L272.5 384.7L274.9 384.5L277.4 384.2L279.8 383.9L282.3 383.7L284.7 383.4L287.1 383.2L289.6 383L292 382.8L294.5 382.7L296.9 382.5L299.4 382.4L301.8 382.3L304.2 382.3L306.7 382.3L309.1 382.3L311.6 382.3L314 382.3L316.4 382.3L318.9 382.3L321.3 382.3L323.8 382.3L326.2 382.4L328.7 382.4L331.1 382.4L333.5 382.4L336 382.4L338.4 382.4L340.9 382.5L343.3 382.5L345.8 382.5L348.2 382.5L350.6 382.6L353.1 382.6L355.5 382.6L358 382.7L360.4 382.7L362.8 382.7L365.3 382.8L367.7 382.9L370.2 383.1L372.6 383.2L375.1 383.4L377.5 383.5L379.9 383.7L382.4 383.9L384.8 384.1L387.3 384.3L389.7 384.4L392.2 384.6L394.6 384.7L397 384.8L399.5 384.9L401.9 385.1L404.4 385.2L406.8 385.3L409.2 385.4L411.7 385.6L414.1 385.7L416.6 385.8L419 385.9L421.5 386L423.9 386.1L426.3 386.2L428.8 386.4L431.2 386.5L433.7 386.6L436.1 386.7L438.6 386.8L441 387L443.4 387.1L445.9 387.2L448.3 387.3L450.8 387.5L453.2 387.6L455.6 387.8L458.1 387.9L460.5 388.1L463 388.3L465.4 388.4L467.9 388.6L470.3 388.8L472.7 388.9L475.2 389.1L477.6 389.3L480.1 389.4L482.5 389.6L485 389.7L487.4 389.9L489.8 390L492.3 390.1L494.7 390.2L497.2 390.3L499.6 390.4L502 390.4L504.5 390.4L506.9 390.5L509.4 390.5L511.8 390.5L514.3 390.5L516.7 390.6L519.1 390.6L521.6 390.6L524 390.6L526.5 390.7L528.9 390.7L531.4 390.7L533.8 390.7L536.2 390.7L538.7 390.7L541.1 390.8L543.6 390.8L546 390.8L548.4 390.8L550.9 390.8L553.3 390.8L555.8 390.8L558.2 390.8L560.7 390.8L563.1 390.8L565.5 390.8L568 390.8L570.4 390.8L572.9 390.8L575.3 390.8L577.8 390.8L580.2 390.8L582.6 390.8L585.1 390.8L587.5 390.8L590 390.8L592.4 390.8L594.8 390.8L597.3 390.8L599.7 390.8L602.2 390.8L604.6 390.8L607.1 390.8L609.5 390.8L611.9 390.8" clip-path="url(#f1p845b06b4ab)" style="fill: none; stroke: #0a4592; stroke-width: 4.8; stroke-linecap: square"/></g><g id="f1line2d_29"><path d="M126 384.8L128.4 385.1L130.8 385.4L133.3 385.7L135.7 385.9L138.2 386.2L140.6 386.5L143.1 386.7L145.5 387L147.9 387.3L150.4 387.5L152.8 387.7L155.3 388L157.7 388.2L160.2 388.4L162.6 388.6L165 388.8L167.5 389L169.9 389.2L172.4 389.4L174.8 389.6L177.2 389.8L179.7 390L182.1 390.2L184.6 390.5L187 390.7L189.5 390.9L191.9 391L194.3 391.2L196.8 391.3L199.2 391.5L201.7 391.5L204.1 391.6L206.6 391.6L209 391.5L211.4 391.5L213.9 391.5L216.3 391.4L218.8 391.4L221.2 391.3L223.6 391.2L226.1 391.1L228.5 391L231 390.9L233.4 390.8L235.9 390.7L238.3 390.6L240.7 390.5L243.2 390.4L245.6 390.3L248.1 390.2L250.5 390.1L253 389.9L255.4 389.8L257.8 389.6L260.3 389.4L262.7 389.1L265.2 388.9L267.6 388.6L270 388.4L272.5 388.1L274.9 387.8L277.4 387.5L279.8 387.2L282.3 387L284.7 386.7L287.1 386.3L289.6 386L292 385.7L294.5 385.5L296.9 385.2L299.4 385L301.8 384.8L304.2 384.7L306.7 384.6L309.1 384.5L311.6 384.4L314 384.3L316.4 384.2L318.9 384.1L321.3 384L323.8 383.9L326.2 383.8L328.7 383.7L331.1 383.7L333.5 383.6L336 383.5L338.4 383.4L340.9 383.4L343.3 383.5L345.8 383.5L348.2 383.5L350.6 383.5L353.1 383.6L355.5 383.6L358 383.6L360.4 383.7L362.8 383.7L365.3 383.8L367.7 383.9L370.2 384L372.6 384.2L375.1 384.3L377.5 384.5L379.9 384.7L382.4 384.9L384.8 385L387.3 385.2L389.7 385.4L392.2 385.5L394.6 385.7L397 385.8L399.5 385.9L401.9 386L404.4 386.2L406.8 386.3L409.2 386.4L411.7 386.5L414.1 386.6L416.6 386.8L419 386.9L421.5 387L423.9 387.1L426.3 387.2L428.8 387.3L431.2 387.4L433.7 387.6L436.1 387.7L438.6 387.8L441 387.9L443.4 388L445.9 388.2L448.3 388.3L450.8 388.4L453.2 388.6L455.6 388.7L458.1 388.9L460.5 389.1L463 389.2L465.4 389.4L467.9 389.6L470.3 389.7L472.7 389.9L475.2 390.1L477.6 390.2L480.1 390.4L482.5 390.6L485 390.7L487.4 390.8L489.8 391L492.3 391.1L494.7 391.2L497.2 391.3L499.6 391.3L502 391.4L504.5 391.4L506.9 391.4L509.4 391.5L511.8 391.5L514.3 391.5L516.7 391.5L519.1 391.6L521.6 391.6L524 391.6L526.5 391.6L528.9 391.6L531.4 391.7L533.8 391.7L536.2 391.7L538.7 391.7L541.1 391.7L543.6 391.7L546 391.7L548.4 391.8L550.9 391.8L553.3 391.8L555.8 391.8L558.2 391.8L560.7 391.8L563.1 391.8L565.5 391.8L568 391.8L570.4 391.8L572.9 391.8L575.3 391.8L577.8 391.8L580.2 391.8L582.6 391.8L585.1 391.8L587.5 391.8L590 391.8L592.4 391.8L594.8 391.8L597.3 391.8L599.7 391.8L602.2 391.8L604.6 391.8L607.1 391.8L609.5 391.8L611.9 391.8" clip-path="url(#f1p845b06b4ab)" style="fill: none; stroke: #62a6d6; stroke-width: 5.2; stroke-linecap: square"/></g><g id="f1line2d_30"><path d="M126 381.3L128.4 381.6L130.8 381.9L133.3 382.2L135.7 382.5L138.2 382.8L140.6 383.1L143.1 383.4L145.5 383.6L147.9 383.9L150.4 384.2L152.8 384.4L155.3 384.7L157.7 384.9L160.2 385.2L162.6 385.4L165 385.6L167.5 385.9L169.9 386.1L172.4 386.3L174.8 386.5L177.2 386.7L179.7 386.9L182.1 387.2L184.6 387.4L187 387.6L189.5 387.8L191.9 388L194.3 388.2L196.8 388.4L199.2 388.5L201.7 388.6L204.1 388.7L206.6 388.7L209 388.7L211.4 388.7L213.9 388.6L216.3 388.6L218.8 388.5L221.2 388.5L223.6 388.4L226.1 388.4L228.5 388.3L231 388.2L233.4 388.1L235.9 388.1L238.3 388L240.7 387.9L243.2 387.8L245.6 387.7L248.1 387.6L250.5 387.5L253 387.4L255.4 387.2L257.8 387.1L260.3 386.9L262.7 386.7L265.2 386.4L267.6 386.2L270 385.9L272.5 385.7L274.9 385.4L277.4 385.2L279.8 384.9L282.3 384.6L284.7 384.4L287.1 384.2L289.6 384L292 383.8L294.5 383.6L296.9 383.5L299.4 383.4L301.8 383.3L304.2 383.3L306.7 383.3L309.1 383.3L311.6 383.3L314 383.3L316.4 383.3L318.9 383.3L321.3 383.3L323.8 383.3L326.2 383.3L328.7 383.3L331.1 383.4L333.5 383.4L336 383.4L338.4 383.4L340.9 383.4L343.3 383.5L345.8 383.5L348.2 383.5L350.6 383.5L353.1 383.6L355.5 383.6L358 383.6L360.4 383.7L362.8 383.7L365.3 383.8L367.7 383.9L370.2 384L372.6 384.2L375.1 384.3L377.5 384.5L379.9 384.7L382.4 384.9L384.8 385L387.3 385.2L389.7 385.4L392.2 385.5L394.6 385.7L397 385.8L399.5 385.9L401.9 386L404.4 386.2L406.8 386.3L409.2 386.4L411.7 386.5L414.1 386.6L416.6 386.8L419 386.9L421.5 387L423.9 387.1L426.3 387.2L428.8 387.3L431.2 387.4L433.7 387.6L436.1 387.7L438.6 387.8L441 387.9L443.4 388L445.9 388.2L448.3 388.3L450.8 388.4L453.2 388.6L455.6 388.7L458.1 388.9L460.5 389.1L463 389.2L465.4 389.4L467.9 389.6L470.3 389.7L472.7 389.9L475.2 390.1L477.6 390.2L480.1 390.4L482.5 390.6L485 390.7L487.4 390.8L489.8 391L492.3 391.1L494.7 391.2L497.2 391.3L499.6 391.3L502 391.4L504.5 391.4L506.9 391.4L509.4 391.5L511.8 391.5L514.3 391.5L516.7 391.5L519.1 391.6L521.6 391.6L524 391.6L526.5 391.6L528.9 391.6L531.4 391.7L533.8 391.7L536.2 391.7L538.7 391.7L541.1 391.7L543.6 391.7L546 391.7L548.4 391.8L550.9 391.8L553.3 391.8L555.8 391.8L558.2 391.8L560.7 391.8L563.1 391.8L565.5 391.8L568 391.8L570.4 391.8L572.9 391.8L575.3 391.8L577.8 391.8L580.2 391.8L582.6 391.8L585.1 391.8L587.5 391.8L590 391.8L592.4 391.8L594.8 391.8L597.3 391.8L599.7 391.8L602.2 391.8L604.6 391.8L607.1 391.8L609.5 391.8L611.9 391.8" clip-path="url(#f1p845b06b4ab)" style="fill: none; stroke: #228b3a; stroke-width: 6; stroke-linecap: square"/></g><g id="f1line2d_31"><path d="M204 637.3L204 37.2" clip-path="url(#f1p845b06b4ab)" style="fill: none; stroke-dasharray: 3,4.95; stroke-dashoffset: 0; stroke: #d55e00; stroke-width: 3"/></g><g id="f1line2d_32"><path d="M306.2 637.3L306.2 37.2" clip-path="url(#f1p845b06b4ab)" style="fill: none; stroke-dasharray: 3,4.95; stroke-dashoffset: 0; stroke: #d55e00; stroke-width: 3"/></g><g id="f1line2d_33"><path d="M518.5 637.3L518.5 37.2" clip-path="url(#f1p845b06b4ab)" style="fill: none; stroke-dasharray: 3,4.95; stroke-dashoffset: 0; stroke: #d55e00; stroke-width: 3"/></g><g id="f1line2d_34"><path d="M573.5 637.3L573.5 37.2" clip-path="url(#f1p845b06b4ab)" style="fill: none; stroke-dasharray: 3,4.95; stroke-dashoffset: 0; stroke: #d55e00; stroke-width: 3"/></g><g id="f1text_16"><g id="f1patch_7"><path d="M164 98.9L244.1 98.9Q250.4 98.9 250.4 92.5L250.4 73.3Q250.4 67 244.1 67L164 67Q157.6 67 157.6 73.3L157.6 92.5Q157.6 98.9 164 98.9 z" style="fill: #ffffff; opacity: 0.8"/></g><text style="font-size: 21.2px; font-family:'Liberation Serif',serif; text-anchor: middle" x="204.03" y="88.03">TP: -1.72</text></g><g id="f1text_17"><g id="f1patch_8"><path d="M260.8 105.9L351.5 105.9Q357.9 105.9 357.9 99.6L357.9 80.3Q357.9 74 351.5 74L260.8 74Q254.5 74 254.5 80.3L254.5 99.6Q254.5 105.9 260.8 105.9 z" style="fill: #ffffff; opacity: 0.8"/></g><text style="font-size: 21.2px; font-family:'Liberation Serif',serif; text-anchor: middle" x="306.17" y="95.04">TP: -0.791</text></g><g id="f1text_18"><g id="f1patch_9"><path d="M482 112.2L555 112.2Q561.4 112.2 561.4 105.9L561.4 86.6Q561.4 80.3 555 80.3L482 80.3Q475.6 80.3 475.6 86.6L475.6 105.9Q475.6 112.2 482 112.2 z" style="fill: #ffffff; opacity: 0.8"/></g><text style="font-size: 21.2px; font-family:'Liberation Serif',serif; text-anchor: middle" x="518.48" y="101.34">TP: 1.14</text></g><g id="f1text_19"><g id="f1patch_10"><path d="M536.9 118.6L610 118.6Q616.3 118.6 616.3 112.3L616.3 93Q616.3 86.7 610 86.7L536.9 86.7Q530.6 86.7 530.6 93L530.6 112.3Q530.6 118.6 536.9 118.6 z" style="fill: #ffffff; opacity: 0.8"/></g><text style="font-size: 21.2px; font-family:'Liberation Serif',serif; text-anchor: middle" x="573.46" y="107.75">TP: 1.64</text></g><g id="f1line2d_35"><path d="M204 67.6" clip-path="url(#f1p845b06b4ab)" style="fill: none; stroke: #d55e00; stroke-width: 1.5; stroke-linecap: square"/><defs><path id="f1m177eb6963e" d="M-0 8.8L8.8 -8.8L-8.8 -8.8 z" style="stroke: #000000; stroke-opacity: 0; stroke-linejoin: miter"/></defs><g clip-path="url(#f1p845b06b4ab)"><use href="#f1m177eb6963e" x="204.03" y="67.55" style="fill: #d55e00; stroke: #000000; stroke-opacity: 0; stroke-linejoin: miter"/></g></g><g id="f1line2d_36"><path d="M306.2 67.6" clip-path="url(#f1p845b06b4ab)" style="fill: none; stroke: #d55e00; stroke-width: 1.5; stroke-linecap: square"/><g clip-path="url(#f1p845b06b4ab)"><use href="#f1m177eb6963e" x="306.17" y="67.55" style="fill: #d55e00; stroke: #000000; stroke-opacity: 0; stroke-linejoin: miter"/></g></g><g id="f1line2d_37"><path d="M518.5 67.6" clip-path="url(#f1p845b06b4ab)" style="fill: none; stroke: #d55e00; stroke-width: 1.5; stroke-linecap: square"/><g clip-path="url(#f1p845b06b4ab)"><use href="#f1m177eb6963e" x="518.48" y="67.55" style="fill: #d55e00; stroke: #000000; stroke-opacity: 0; stroke-linejoin: miter"/></g></g><g id="f1line2d_38"><path d="M573.5 67.6" clip-path="url(#f1p845b06b4ab)" style="fill: none; stroke: #d55e00; stroke-width: 1.5; stroke-linecap: square"/><g clip-path="url(#f1p845b06b4ab)"><use href="#f1m177eb6963e" x="573.46" y="67.55" style="fill: #d55e00; stroke: #000000; stroke-opacity: 0; stroke-linejoin: miter"/></g></g></g><g id="f1axes_2"><g id="f1patch_11"><path d="M1082.6 637.3L1522.7 637.3L1522.7 37.2L1082.6 37.2 z" style="fill: #ffffff"/></g><g id="f1matplotlib.axis_3"><g id="f1xtick_6"><g id="f1line2d_39"><path d="M1138.2 637.3L1138.2 37.2" clip-path="url(#f1p338be416bd)" style="fill: none; stroke-dasharray: 2,4.1; stroke-dashoffset: 0; stroke: #ededed; stroke-width: 2"/></g><g id="f1line2d_40"><use href="#f1m7631953726" x="1138.21" y="637.3" style="stroke: #000000; stroke-width: 2.35"/></g><g id="f1text_20"><text style="font-size: 30.6px; font-family:'Liberation Serif',serif; text-anchor: middle" x="1138.21" y="678.53">−2</text></g></g><g id="f1xtick_7"><g id="f1line2d_41"><path d="M1321.4 637.3L1321.4 37.2" clip-path="url(#f1p338be416bd)" style="fill: none; stroke-dasharray: 2,4.1; stroke-dashoffset: 0; stroke: #ededed; stroke-width: 2"/></g><g id="f1line2d_42"><use href="#f1m7631953726" x="1321.43" y="637.3" style="stroke: #000000; stroke-width: 2.35"/></g><g id="f1text_21"><text style="font-size: 30.6px; font-family:'Liberation Serif',serif; text-anchor: middle" x="1321.43" y="678.53">0</text></g></g><g id="f1xtick_8"><g id="f1line2d_43"><path d="M1504.7 637.3L1504.7 37.2" clip-path="url(#f1p338be416bd)" style="fill: none; stroke-dasharray: 2,4.1; stroke-dashoffset: 0; stroke: #ededed; stroke-width: 2"/></g><g id="f1line2d_44"><use href="#f1m7631953726" x="1504.65" y="637.3" style="stroke: #000000; stroke-width: 2.35"/></g><g id="f1text_22"><text style="font-size: 30.6px; font-family:'Liberation Serif',serif; text-anchor: middle" x="1504.65" y="678.53">2</text></g></g><g id="f1text_23"><text style="font-size: 27.4px; font-family:'Liberation Serif',serif; text-anchor: middle" x="1302.65" y="715.5">gov index zmean</text></g></g><g id="f1matplotlib.axis_4"><g id="f1ytick_9"><g id="f1line2d_45"><path d="M1082.6 596L1522.7 596" clip-path="url(#f1p338be416bd)" style="fill: none; stroke-dasharray: 2,4.1; stroke-dashoffset: 0; stroke: #ededed; stroke-width: 2"/></g><g id="f1line2d_46"><use href="#f1m0f4510a37b" x="1082.6" y="596.04" style="stroke: #000000; stroke-width: 2.35"/></g><g id="f1text_24"><text style="font-size: 30.6px; font-family:'Liberation Serif',serif; text-anchor: end" x="1061.4" y="606.66">1.5</text></g></g><g id="f1ytick_10"><g id="f1line2d_47"><path d="M1082.6 519.6L1522.7 519.6" clip-path="url(#f1p338be416bd)" style="fill: none; stroke-dasharray: 2,4.1; stroke-dashoffset: 0; stroke: #ededed; stroke-width: 2"/></g><g id="f1line2d_48"><use href="#f1m0f4510a37b" x="1082.6" y="519.63" style="stroke: #000000; stroke-width: 2.35"/></g><g id="f1text_25"><text style="font-size: 30.6px; font-family:'Liberation Serif',serif; text-anchor: end" x="1061.4" y="530.25">2.0</text></g></g><g id="f1ytick_11"><g id="f1line2d_49"><path d="M1082.6 443.2L1522.7 443.2" clip-path="url(#f1p338be416bd)" style="fill: none; stroke-dasharray: 2,4.1; stroke-dashoffset: 0; stroke: #ededed; stroke-width: 2"/></g><g id="f1line2d_50"><use href="#f1m0f4510a37b" x="1082.6" y="443.23" style="stroke: #000000; stroke-width: 2.35"/></g><g id="f1text_26"><text style="font-size: 30.6px; font-family:'Liberation Serif',serif; text-anchor: end" x="1061.4" y="453.84">2.5</text></g></g><g id="f1ytick_12"><g id="f1line2d_51"><path d="M1082.6 366.8L1522.7 366.8" clip-path="url(#f1p338be416bd)" style="fill: none; stroke-dasharray: 2,4.1; stroke-dashoffset: 0; stroke: #ededed; stroke-width: 2"/></g><g id="f1line2d_52"><use href="#f1m0f4510a37b" x="1082.6" y="366.82" style="stroke: #000000; stroke-width: 2.35"/></g><g id="f1text_27"><text style="font-size: 30.6px; font-family:'Liberation Serif',serif; text-anchor: end" x="1061.4" y="377.44">3.0</text></g></g><g id="f1ytick_13"><g id="f1line2d_53"><path d="M1082.6 290.4L1522.7 290.4" clip-path="url(#f1p338be416bd)" style="fill: none; stroke-dasharray: 2,4.1; stroke-dashoffset: 0; stroke: #ededed; stroke-width: 2"/></g><g id="f1line2d_54"><use href="#f1m0f4510a37b" x="1082.6" y="290.41" style="stroke: #000000; stroke-width: 2.35"/></g><g id="f1text_28"><text style="font-size: 30.6px; font-family:'Liberation Serif',serif; text-anchor: end" x="1061.4" y="301.03">3.5</text></g></g><g id="f1ytick_14"><g id="f1line2d_55"><path d="M1082.6 214L1522.7 214" clip-path="url(#f1p338be416bd)" style="fill: none; stroke-dasharray: 2,4.1; stroke-dashoffset: 0; stroke: #ededed; stroke-width: 2"/></g><g id="f1line2d_56"><use href="#f1m0f4510a37b" x="1082.6" y="214.01" style="stroke: #000000; stroke-width: 2.35"/></g><g id="f1text_29"><text style="font-size: 30.6px; font-family:'Liberation Serif',serif; text-anchor: end" x="1061.4" y="224.62">4.0</text></g></g><g id="f1ytick_15"><g id="f1line2d_57"><path d="M1082.6 137.6L1522.7 137.6" clip-path="url(#f1p338be416bd)" style="fill: none; stroke-dasharray: 2,4.1; stroke-dashoffset: 0; stroke: #ededed; stroke-width: 2"/></g><g id="f1line2d_58"><use href="#f1m0f4510a37b" x="1082.6" y="137.6" style="stroke: #000000; stroke-width: 2.35"/></g><g id="f1text_30"><text style="font-size: 30.6px; font-family:'Liberation Serif',serif; text-anchor: end" x="1061.4" y="148.22">4.5</text></g></g><g id="f1ytick_16"><g id="f1line2d_59"><path d="M1082.6 61.2L1522.7 61.2" clip-path="url(#f1p338be416bd)" style="fill: none; stroke-dasharray: 2,4.1; stroke-dashoffset: 0; stroke: #ededed; stroke-width: 2"/></g><g id="f1line2d_60"><use href="#f1m0f4510a37b" x="1082.6" y="61.19" style="stroke: #000000; stroke-width: 2.35"/></g><g id="f1text_31"><text style="font-size: 30.6px; font-family:'Liberation Serif',serif; text-anchor: end" x="1061.4" y="71.81">5.0</text></g></g></g><g id="f1LineCollection_1" clip-path="url(#f1p338be416bd)" style="fill: none; stroke: #2f7fbf; stroke-width: 3.6"><path d="M1173 494.3L1173 285.8"/><path d="M1211 255.6L1211 65.8"/><path d="M1229.8 200.9L1229.8 100.9"/><path d="M1244.9 188.6L1244.9 90.2"/><path d="M1255.5 261.4L1255.5 174.7"/><path d="M1266.6 167.4L1266.6 90.2"/><path d="M1276.6 198.7L1276.6 104"/><path d="M1288 181.9L1288 102.5"/><path d="M1297 212.5L1297 111.6"/><path d="M1317.8 271L1317.8 185"/><path d="M1306 379.5L1306 236.9"/><path d="M1333.6 384.4L1333.6 251.9"/><path d="M1350.7 329.2L1350.7 231.6"/><path d="M1368.1 460.3L1368.1 351.5"/><path d="M1381.6 431.9L1381.6 324.3"/><path d="M1395.6 499.3L1395.6 352.3"/><path d="M1411.9 609.6L1411.9 492.1"/><path d="M1430.4 577.5L1430.4 479.9"/><path d="M1455.4 474.4L1455.4 388.5"/><path d="M1480.8 521.2L1480.8 474.4"/></g><g id="f1line2d_61"><defs><path id="f1mf7e800580b" d="M9.5 0L-9.5 -0" style="stroke: #2f7fbf; stroke-width: 3.6"/></defs><g clip-path="url(#f1p338be416bd)"><use href="#f1mf7e800580b" x="1173.02" y="494.27" style="fill: #1f77b4; stroke: #2f7fbf; stroke-width: 3.6"/><use href="#f1mf7e800580b" x="1211.04" y="255.57" style="fill: #1f77b4; stroke: #2f7fbf; stroke-width: 3.6"/><use href="#f1mf7e800580b" x="1229.82" y="200.86" style="fill: #1f77b4; stroke: #2f7fbf; stroke-width: 3.6"/><use href="#f1mf7e800580b" x="1244.93" y="188.64" style="fill: #1f77b4; stroke: #2f7fbf; stroke-width: 3.6"/><use href="#f1mf7e800580b" x="1255.47" y="261.38" style="fill: #1f77b4; stroke: #2f7fbf; stroke-width: 3.6"/><use href="#f1mf7e800580b" x="1266.65" y="167.4" style="fill: #1f77b4; stroke: #2f7fbf; stroke-width: 3.6"/><use href="#f1mf7e800580b" x="1276.63" y="198.72" style="fill: #1f77b4; stroke: #2f7fbf; stroke-width: 3.6"/><use href="#f1mf7e800580b" x="1287.99" y="181.91" style="fill: #1f77b4; stroke: #2f7fbf; stroke-width: 3.6"/><use href="#f1mf7e800580b" x="1296.97" y="212.48" style="fill: #1f77b4; stroke: #2f7fbf; stroke-width: 3.6"/><use href="#f1mf7e800580b" x="1317.77" y="271.01" style="fill: #1f77b4; stroke: #2f7fbf; stroke-width: 3.6"/><use href="#f1mf7e800580b" x="1306.04" y="379.5" style="fill: #1f77b4; stroke: #2f7fbf; stroke-width: 3.6"/><use href="#f1mf7e800580b" x="1333.61" y="384.39" style="fill: #1f77b4; stroke: #2f7fbf; stroke-width: 3.6"/><use href="#f1mf7e800580b" x="1350.75" y="329.23" style="fill: #1f77b4; stroke: #2f7fbf; stroke-width: 3.6"/><use href="#f1mf7e800580b" x="1368.06" y="460.34" style="fill: #1f77b4; stroke: #2f7fbf; stroke-width: 3.6"/><use href="#f1mf7e800580b" x="1381.62" y="431.92" style="fill: #1f77b4; stroke: #2f7fbf; stroke-width: 3.6"/><use href="#f1mf7e800580b" x="1395.64" y="499.31" style="fill: #1f77b4; stroke: #2f7fbf; stroke-width: 3.6"/><use href="#f1mf7e800580b" x="1411.94" y="609.64" style="fill: #1f77b4; stroke: #2f7fbf; stroke-width: 3.6"/><use href="#f1mf7e800580b" x="1430.45" y="577.55" style="fill: #1f77b4; stroke: #2f7fbf; stroke-width: 3.6"/><use href="#f1mf7e800580b" x="1455.37" y="474.4" style="fill: #1f77b4; stroke: #2f7fbf; stroke-width: 3.6"/><use href="#f1mf7e800580b" x="1480.83" y="521.16" style="fill: #1f77b4; stroke: #2f7fbf; stroke-width: 3.6"/></g></g><g id="f1line2d_62"><g clip-path="url(#f1p338be416bd)"><use href="#f1mf7e800580b" x="1173.02" y="285.83" style="fill: #1f77b4; stroke: #2f7fbf; stroke-width: 3.6"/><use href="#f1mf7e800580b" x="1211.04" y="65.78" style="fill: #1f77b4; stroke: #2f7fbf; stroke-width: 3.6"/><use href="#f1mf7e800580b" x="1229.82" y="100.92" style="fill: #1f77b4; stroke: #2f7fbf; stroke-width: 3.6"/><use href="#f1mf7e800580b" x="1244.93" y="90.23" style="fill: #1f77b4; stroke: #2f7fbf; stroke-width: 3.6"/><use href="#f1mf7e800580b" x="1255.47" y="174.73" style="fill: #1f77b4; stroke: #2f7fbf; stroke-width: 3.6"/><use href="#f1mf7e800580b" x="1266.65" y="90.23" style="fill: #1f77b4; stroke: #2f7fbf; stroke-width: 3.6"/><use href="#f1mf7e800580b" x="1276.63" y="103.98" style="fill: #1f77b4; stroke: #2f7fbf; stroke-width: 3.6"/><use href="#f1mf7e800580b" x="1287.99" y="102.45" style="fill: #1f77b4; stroke: #2f7fbf; stroke-width: 3.6"/><use href="#f1mf7e800580b" x="1296.97" y="111.62" style="fill: #1f77b4; stroke: #2f7fbf; stroke-width: 3.6"/><use href="#f1mf7e800580b" x="1317.77" y="184.97" style="fill: #1f77b4; stroke: #2f7fbf; stroke-width: 3.6"/><use href="#f1mf7e800580b" x="1306.04" y="236.93" style="fill: #1f77b4; stroke: #2f7fbf; stroke-width: 3.6"/><use href="#f1mf7e800580b" x="1333.61" y="251.9" style="fill: #1f77b4; stroke: #2f7fbf; stroke-width: 3.6"/><use href="#f1mf7e800580b" x="1350.75" y="231.58" style="fill: #1f77b4; stroke: #2f7fbf; stroke-width: 3.6"/><use href="#f1mf7e800580b" x="1368.06" y="351.54" style="fill: #1f77b4; stroke: #2f7fbf; stroke-width: 3.6"/><use href="#f1mf7e800580b" x="1381.62" y="324.34" style="fill: #1f77b4; stroke: #2f7fbf; stroke-width: 3.6"/><use href="#f1mf7e800580b" x="1395.64" y="352.3" style="fill: #1f77b4; stroke: #2f7fbf; stroke-width: 3.6"/><use href="#f1mf7e800580b" x="1411.94" y="492.13" style="fill: #1f77b4; stroke: #2f7fbf; stroke-width: 3.6"/><use href="#f1mf7e800580b" x="1430.45" y="479.9" style="fill: #1f77b4; stroke: #2f7fbf; stroke-width: 3.6"/><use href="#f1mf7e800580b" x="1455.37" y="388.52" style="fill: #1f77b4; stroke: #2f7fbf; stroke-width: 3.6"/><use href="#f1mf7e800580b" x="1480.83" y="474.4" style="fill: #1f77b4; stroke: #2f7fbf; stroke-width: 3.6"/></g></g><g id="f1patch_12"><path d="M1082.6 637.3L1082.6 37.2" style="fill: none; stroke: #000000; stroke-width: 2.35; stroke-linejoin: miter; stroke-linecap: square"/></g><g id="f1patch_13"><path d="M1522.7 637.3L1522.7 37.2" style="fill: none; stroke: #000000; stroke-width: 2.35; stroke-linejoin: miter; stroke-linecap: square"/></g><g id="f1patch_14"><path d="M1082.6 637.3L1522.7 637.3" style="fill: none; stroke: #000000; stroke-width: 2.35; stroke-linejoin: miter; stroke-linecap: square"/></g><g id="f1patch_15"><path d="M1082.6 37.2L1522.7 37.2" style="fill: none; stroke: #000000; stroke-width: 2.35; stroke-linejoin: miter; stroke-linecap: square"/></g><g id="f1line2d_63"><path d="M1101.6 217.1L1102.9 217.5L1104.3 217.8L1105.6 218.2L1107 218.5L1108.3 218.7L1109.7 218.9L1111 219.1L1112.3 219.2L1113.7 219.3L1115 219.4L1116.4 219.3L1117.7 219.2L1119.1 219.1L1120.4 218.8L1121.8 218.6L1123.1 218.2L1124.5 217.9L1125.8 217.5L1127.2 217.1L1128.5 216.7L1129.9 216.3L1131.2 215.8L1132.6 215.4L1133.9 215L1135.3 214.7L1136.6 214.3L1138 214.1L1139.3 213.8L1140.7 213.5L1142 213.2L1143.4 213L1144.7 212.7L1146.1 212.4L1147.4 212.2L1148.7 211.9L1150.1 211.7L1151.4 211.5L1152.8 211.3L1154.1 211.2L1155.5 211L1156.8 210.9L1158.2 210.9L1159.5 210.8L1160.9 210.7L1162.2 210.7L1163.6 210.7L1164.9 210.6L1166.3 210.6L1167.6 210.6L1169 210.5L1170.3 210.5L1171.7 210.4L1173 210.3L1174.4 210.2L1175.7 210L1177.1 209L1178.4 207.6L1179.8 205.7L1181.1 203.5L1182.5 201.3L1183.8 199.1L1185.1 196.8L1186.5 194.2L1187.8 191.3L1189.2 188.1L1190.5 184.9L1191.9 181.5L1193.2 178.2L1194.6 175L1195.9 171.9L1197.3 169.1L1198.6 166.5L1200 164L1201.3 161.5L1202.7 159L1204 156.6L1205.4 154.3L1206.7 152.1L1208.1 150L1209.4 148L1210.8 146.2L1212.1 144.5L1213.5 142.8L1214.8 141.1L1216.2 139.4L1217.5 137.8L1218.9 136.3L1220.2 134.8L1221.5 133.4L1222.9 132L1224.2 130.8L1225.6 129.7L1226.9 128.6L1228.3 127.7L1229.6 127L1231 126.4L1232.3 125.8L1233.7 125.4L1235 125L1236.4 124.6L1237.7 124.3L1239.1 123.9L1240.4 123.5L1241.8 123L1243.1 122.5L1244.5 121.8L1245.8 120.8L1247.2 119.6L1248.5 118.4L1249.9 117.3L1251.2 116.6L1252.6 116.2L1253.9 116.3L1255.2 116.8L1256.6 117.5L1257.9 118.4L1259.3 119.4L1260.6 120.3L1262 121.2L1263.3 121.9L1264.7 122.3L1266 122.6L1267.4 122.8L1268.7 122.9L1270.1 123L1271.4 123.1L1272.8 123.3L1274.1 123.5L1275.5 123.8L1276.8 124.7L1278.2 126.8L1279.5 129.7L1280.9 133.4L1282.2 137.4L1283.6 141.6L1284.9 145.6L1286.3 149.9L1287.6 154.8L1289 160.2L1290.3 165.7L1291.6 171.3L1293 176.7L1294.3 181.9L1295.7 187.1L1297 192.3L1298.4 197.6L1299.7 202.6L1301.1 207.5L1302.4 211.9L1303.8 216L1305.1 219.6L1306.5 223.1L1307.8 226.3L1309.2 229.5L1310.5 232.7L1311.9 235.9L1313.2 239.4L1314.6 243.1L1315.9 246.9L1317.3 250.6L1318.6 254L1320 257.1L1321.3 259.7L1322.7 261.7L1324 263.4L1325.4 265L1326.7 266.4L1328 267.7L1329.4 268.9L1330.7 270.2L1332.1 271.5L1333.4 273L1334.8 274.6L1336.1 276.4L1337.5 278.4L1338.8 280.4L1340.2 282.5L1341.5 284.7L1342.9 287L1344.2 289.4L1345.6 291.8L1346.9 294.3L1348.3 296.8L1349.6 299.4L1351 302.1L1352.3 304.8L1353.7 307.7L1355 310.6L1356.4 313.7L1357.7 316.7L1359.1 319.9L1360.4 323.1L1361.8 326.4L1363.1 329.7L1364.4 333.2L1365.8 336.8L1367.1 340.5L1368.5 344.2L1369.8 348.1L1371.2 352L1372.5 355.8L1373.9 359.7L1375.2 363.6L1376.6 367.3L1377.9 371.1L1379.3 374.8L1380.6 378.6L1382 382.3L1383.3 386.1L1384.7 389.8L1386 393.6L1387.4 397.3L1388.7 401.1L1390.1 404.8L1391.4 408.7L1392.8 412.7L1394.1 416.8L1395.5 421L1396.8 425.2L1398.2 429.2L1399.5 433L1400.8 436.6L1402.2 439.8L1403.5 442.6L1404.9 445L1406.2 447.4L1407.6 449.7L1408.9 451.9L1410.3 453.9L1411.6 455.8L1413 457.5L1414.3 459L1415.7 460.2L1417 461.2L1418.4 461.9L1419.7 462.6L1421.1 463.1L1422.4 463.6L1423.8 464L1425.1 464.4L1426.5 464.7L1427.8 465.1L1429.2 465.5L1430.5 465.9L1431.9 466.3L1433.2 466.8L1434.6 467.3L1435.9 467.8L1437.2 468.4L1438.6 468.9L1439.9 469.4L1441.3 470L1442.6 470.4L1444 470.9L1445.3 471.3L1446.7 471.7L1448 472L1449.4 472.2L1450.7 472.4L1452.1 472.6L1453.4 472.7L1454.8 472.8L1456.1 472.9L1457.5 473L1458.8 473.1L1460.2 473.2L1461.5 473.3L1462.9 473.4L1464.2 473.5L1465.6 473.6L1466.9 473.7L1468.3 473.8L1469.6 473.9L1470.9 474L1472.3 474.1L1473.6 474.3L1475 474.4L1476.3 474.5L1477.7 474.6L1479 474.7L1480.4 474.8L1481.7 474.9L1483.1 475L1484.4 475.2L1485.8 475.3L1487.1 475.4L1488.5 475.5L1489.8 475.6L1491.2 475.7L1492.5 475.8L1493.9 475.9L1495.2 476.1L1496.6 476.2L1497.9 476.3L1499.3 476.4L1500.6 476.5L1502 476.6L1503.3 476.7L1504.7 476.8" clip-path="url(#f1p338be416bd)" style="fill: none; stroke: #0a4592; stroke-width: 4.6; stroke-linecap: square"/></g><g id="f1text_32"><text style="font-size: 27.4px; font-family:'Liberation Serif',serif; text-anchor: middle" x="1302.65" y="20.04">Binned means (quantile bins)</text></g><g id="f1line2d_64"><defs><path id="f1m160b755c56" d="M0 9.5C2.5 9.5 4.9 8.5 6.7 6.7C8.5 4.9 9.5 2.5 9.5 0C9.5 -2.5 8.5 -4.9 6.7 -6.7C4.9 -8.5 2.5 -9.5 0 -9.5C-2.5 -9.5 -4.9 -8.5 -6.7 -6.7C-8.5 -4.9 -9.5 -2.5 -9.5 0C-9.5 2.5 -8.5 4.9 -6.7 6.7C-4.9 8.5 -2.5 9.5 0 9.5 z" style="stroke: #000000; stroke-width: 3"/></defs><g clip-path="url(#f1p338be416bd)"><use href="#f1m160b755c56" x="1173.02" y="390.35" style="fill: #2f7fbf; stroke: #000000; stroke-width: 3"/><use href="#f1m160b755c56" x="1211.04" y="160.67" style="fill: #2f7fbf; stroke: #000000; stroke-width: 3"/><use href="#f1m160b755c56" x="1229.82" y="151.35" style="fill: #2f7fbf; stroke: #000000; stroke-width: 3"/><use href="#f1m160b755c56" x="1244.93" y="139.43" style="fill: #2f7fbf; stroke: #000000; stroke-width: 3"/><use href="#f1m160b755c56" x="1255.47" y="218.59" style="fill: #2f7fbf; stroke: #000000; stroke-width: 3"/><use href="#f1m160b755c56" x="1266.65" y="129.04" style="fill: #2f7fbf; stroke: #000000; stroke-width: 3"/><use href="#f1m160b755c56" x="1276.63" y="165.11" style="fill: #2f7fbf; stroke: #000000; stroke-width: 3"/><use href="#f1m160b755c56" x="1287.99" y="142.64" style="fill: #2f7fbf; stroke: #000000; stroke-width: 3"/><use href="#f1m160b755c56" x="1296.97" y="162.51" style="fill: #2f7fbf; stroke: #000000; stroke-width: 3"/><use href="#f1m160b755c56" x="1317.77" y="228.06" style="fill: #2f7fbf; stroke: #000000; stroke-width: 3"/><use href="#f1m160b755c56" x="1306.04" y="308.44" style="fill: #2f7fbf; stroke: #000000; stroke-width: 3"/><use href="#f1m160b755c56" x="1333.61" y="318.38" style="fill: #2f7fbf; stroke: #000000; stroke-width: 3"/><use href="#f1m160b755c56" x="1350.75" y="280.48" style="fill: #2f7fbf; stroke: #000000; stroke-width: 3"/><use href="#f1m160b755c56" x="1368.06" y="405.63" style="fill: #2f7fbf; stroke: #000000; stroke-width: 3"/><use href="#f1m160b755c56" x="1381.62" y="378.13" style="fill: #2f7fbf; stroke: #000000; stroke-width: 3"/><use href="#f1m160b755c56" x="1395.64" y="426.57" style="fill: #2f7fbf; stroke: #000000; stroke-width: 3"/><use href="#f1m160b755c56" x="1411.94" y="551.27" style="fill: #2f7fbf; stroke: #000000; stroke-width: 3"/><use href="#f1m160b755c56" x="1430.45" y="528.8" style="fill: #2f7fbf; stroke: #000000; stroke-width: 3"/><use href="#f1m160b755c56" x="1455.37" y="431.92" style="fill: #2f7fbf; stroke: #000000; stroke-width: 3"/><use href="#f1m160b755c56" x="1480.83" y="497.93" style="fill: #2f7fbf; stroke: #000000; stroke-width: 3"/></g></g></g><g id="f1axes_3"><g id="f1patch_16"><path d="M1971.2 637.3L2411.7 637.3L2411.7 37.2L1971.2 37.2 z" style="fill: #ffffff"/></g><g id="f1matplotlib.axis_5"><g id="f1xtick_9"><g id="f1line2d_65"><path d="M2026.8 637.3L2026.8 37.2" clip-path="url(#f1pe617b80292)" style="fill: none; stroke-dasharray: 2,4.1; stroke-dashoffset: 0; stroke: #ededed; stroke-width: 2"/></g><g id="f1line2d_66"><use href="#f1m7631953726" x="2026.77" y="637.3" style="stroke: #000000; stroke-width: 2.35"/></g><g id="f1text_33"><text style="font-size: 30.6px; font-family:'Liberation Serif',serif; text-anchor: middle" x="2026.77" y="678.53">−2</text></g></g><g id="f1xtick_10"><g id="f1line2d_67"><path d="M2209.8 637.3L2209.8 37.2" clip-path="url(#f1pe617b80292)" style="fill: none; stroke-dasharray: 2,4.1; stroke-dashoffset: 0; stroke: #ededed; stroke-width: 2"/></g><g id="f1line2d_68"><use href="#f1m7631953726" x="2209.85" y="637.3" style="stroke: #000000; stroke-width: 2.35"/></g><g id="f1text_34"><text style="font-size: 30.6px; font-family:'Liberation Serif',serif; text-anchor: middle" x="2209.85" y="678.53">0</text></g></g><g id="f1xtick_11"><g id="f1line2d_69"><path d="M2392.9 637.3L2392.9 37.2" clip-path="url(#f1pe617b80292)" style="fill: none; stroke-dasharray: 2,4.1; stroke-dashoffset: 0; stroke: #ededed; stroke-width: 2"/></g><g id="f1line2d_70"><use href="#f1m7631953726" x="2392.93" y="637.3" style="stroke: #000000; stroke-width: 2.35"/></g><g id="f1text_35"><text style="font-size: 30.6px; font-family:'Liberation Serif',serif; text-anchor: middle" x="2392.93" y="678.53">2</text></g></g><g id="f1text_36"><text style="font-size: 27.4px; font-family:'Liberation Serif',serif; text-anchor: middle" x="2191.45" y="715.5">gov index zmean</text></g></g><g id="f1matplotlib.axis_6"><g id="f1ytick_17"><g id="f1line2d_71"><path d="M1971.2 586.7L2411.7 586.7" clip-path="url(#f1pe617b80292)" style="fill: none; stroke-dasharray: 2,4.1; stroke-dashoffset: 0; stroke: #ededed; stroke-width: 2"/></g><g id="f1line2d_72"><use href="#f1m0f4510a37b" x="1971.2" y="586.71" style="stroke: #000000; stroke-width: 2.35"/></g><g id="f1text_37"><text style="font-size: 30.6px; font-family:'Liberation Serif',serif; text-anchor: end" x="1950" y="597.32">−4</text></g></g><g id="f1ytick_18"><g id="f1line2d_73"><path d="M1971.2 512.8L2411.7 512.8" clip-path="url(#f1pe617b80292)" style="fill: none; stroke-dasharray: 2,4.1; stroke-dashoffset: 0; stroke: #ededed; stroke-width: 2"/></g><g id="f1line2d_74"><use href="#f1m0f4510a37b" x="1971.2" y="512.85" style="stroke: #000000; stroke-width: 2.35"/></g><g id="f1text_38"><text style="font-size: 30.6px; font-family:'Liberation Serif',serif; text-anchor: end" x="1950" y="523.47">−3</text></g></g><g id="f1ytick_19"><g id="f1line2d_75"><path d="M1971.2 439L2411.7 439" clip-path="url(#f1pe617b80292)" style="fill: none; stroke-dasharray: 2,4.1; stroke-dashoffset: 0; stroke: #ededed; stroke-width: 2"/></g><g id="f1line2d_76"><use href="#f1m0f4510a37b" x="1971.2" y="438.99" style="stroke: #000000; stroke-width: 2.35"/></g><g id="f1text_39"><text style="font-size: 30.6px; font-family:'Liberation Serif',serif; text-anchor: end" x="1950" y="449.61">−2</text></g></g><g id="f1ytick_20"><g id="f1line2d_77"><path d="M1971.2 365.1L2411.7 365.1" clip-path="url(#f1pe617b80292)" style="fill: none; stroke-dasharray: 2,4.1; stroke-dashoffset: 0; stroke: #ededed; stroke-width: 2"/></g><g id="f1line2d_78"><use href="#f1m0f4510a37b" x="1971.2" y="365.13" style="stroke: #000000; stroke-width: 2.35"/></g><g id="f1text_40"><text style="font-size: 30.6px; font-family:'Liberation Serif',serif; text-anchor: end" x="1950" y="375.75">−1</text></g></g><g id="f1ytick_21"><g id="f1line2d_79"><path d="M1971.2 291.3L2411.7 291.3" clip-path="url(#f1pe617b80292)" style="fill: none; stroke-dasharray: 2,4.1; stroke-dashoffset: 0; stroke: #ededed; stroke-width: 2"/></g><g id="f1line2d_80"><use href="#f1m0f4510a37b" x="1971.2" y="291.27" style="stroke: #000000; stroke-width: 2.35"/></g><g id="f1text_41"><text style="font-size: 30.6px; font-family:'Liberation Serif',serif; text-anchor: end" x="1950" y="301.89">0</text></g></g><g id="f1ytick_22"><g id="f1line2d_81"><path d="M1971.2 217.4L2411.7 217.4" clip-path="url(#f1pe617b80292)" style="fill: none; stroke-dasharray: 2,4.1; stroke-dashoffset: 0; stroke: #ededed; stroke-width: 2"/></g><g id="f1line2d_82"><use href="#f1m0f4510a37b" x="1971.2" y="217.41" style="stroke: #000000; stroke-width: 2.35"/></g><g id="f1text_42"><text style="font-size: 30.6px; font-family:'Liberation Serif',serif; text-anchor: end" x="1950" y="228.03">1</text></g></g><g id="f1ytick_23"><g id="f1line2d_83"><path d="M1971.2 143.6L2411.7 143.6" clip-path="url(#f1pe617b80292)" style="fill: none; stroke-dasharray: 2,4.1; stroke-dashoffset: 0; stroke: #ededed; stroke-width: 2"/></g><g id="f1line2d_84"><use href="#f1m0f4510a37b" x="1971.2" y="143.56" style="stroke: #000000; stroke-width: 2.35"/></g><g id="f1text_43"><text style="font-size: 30.6px; font-family:'Liberation Serif',serif; text-anchor: end" x="1950" y="154.17">2</text></g></g><g id="f1ytick_24"><g id="f1line2d_85"><path d="M1971.2 69.7L2411.7 69.7" clip-path="url(#f1pe617b80292)" style="fill: none; stroke-dasharray: 2,4.1; stroke-dashoffset: 0; stroke: #ededed; stroke-width: 2"/></g><g id="f1line2d_86"><use href="#f1m0f4510a37b" x="1971.2" y="69.7" style="stroke: #000000; stroke-width: 2.35"/></g><g id="f1text_44"><text style="font-size: 30.6px; font-family:'Liberation Serif',serif; text-anchor: end" x="1950" y="80.31">3</text></g></g></g><g id="f1line2d_87"><path d="M1971.2 291.3L2411.7 291.3" clip-path="url(#f1pe617b80292)" style="fill: none; stroke-dasharray: 5.92,2.56; stroke-dashoffset: 0; stroke: #777777; stroke-width: 1.6"/></g><g id="f1LineCollection_2" clip-path="url(#f1pe617b80292)" style="fill: none; stroke: #333333; stroke-opacity: 0.6; stroke-width: 2"><path d="M2023.9 614.8L2023.9 605.9"/><path d="M2010.6 614.8L2010.6 605.9"/><path d="M2023.5 614.8L2023.5 605.9"/><path d="M2008.4 614.8L2008.4 605.9"/><path d="M2011 614.8L2011 605.9"/><path d="M2004.4 614.8L2004.4 605.9"/><path d="M2016.8 614.8L2016.8 605.9"/><path d="M2013.5 614.8L2013.5 605.9"/><path d="M1991.8 614.8L1991.8 605.9"/><path d="M2002.6 614.8L2002.6 605.9"/><path d="M2009.2 614.8L2009.2 605.9"/><path d="M2008 614.8L2008 605.9"/><path d="M1991 614.8L1991 605.9"/><path d="M2000.9 614.8L2000.9 605.9"/><path d="M2016.1 614.8L2016.1 605.9"/><path d="M2005.3 614.8L2005.3 605.9"/><path d="M2019 614.8L2019 605.9"/><path d="M1999.1 614.8L1999.1 605.9"/><path d="M2015 614.8L2015 605.9"/><path d="M1991 614.8L1991 605.9"/><path d="M2018.2 614.8L2018.2 605.9"/><path d="M2010.1 614.8L2010.1 605.9"/><path d="M2026.2 614.8L2026.2 605.9"/><path d="M2011.1 614.8L2011.1 605.9"/><path d="M2009.9 614.8L2009.9 605.9"/><path d="M1995 614.8L1995 605.9"/><path d="M2022.8 614.8L2022.8 605.9"/><path d="M1995.7 614.8L1995.7 605.9"/><path d="M2004.8 614.8L2004.8 605.9"/><path d="M2025 614.8L2025 605.9"/><path d="M1993.3 614.8L1993.3 605.9"/><path d="M2021.3 614.8L2021.3 605.9"/><path d="M2015 614.8L2015 605.9"/><path d="M1994.1 614.8L1994.1 605.9"/><path d="M2014.4 614.8L2014.4 605.9"/><path d="M2012 614.8L2012 605.9"/><path d="M2025 614.8L2025 605.9"/><path d="M2023.6 614.8L2023.6 605.9"/><path d="M1994.6 614.8L1994.6 605.9"/><path d="M2026.3 614.8L2026.3 605.9"/><path d="M1994.6 614.8L1994.6 605.9"/><path d="M2019.4 614.8L2019.4 605.9"/><path d="M2005.3 614.8L2005.3 605.9"/><path d="M2022.8 614.8L2022.8 605.9"/><path d="M2006.2 614.8L2006.2 605.9"/><path d="M2052.7 614.8L2052.7 605.9"/><path d="M2059 614.8L2059 605.9"/><path d="M2054.8 614.8L2054.8 605.9"/><path d="M2057.6 614.8L2057.6 605.9"/><path d="M2058.9 614.8L2058.9 605.9"/><path d="M2055 614.8L2055 605.9"/><path d="M2084.5 614.8L2084.5 605.9"/><path d="M2074.3 614.8L2074.3 605.9"/><path d="M2088.4 614.8L2088.4 605.9"/><path d="M2092.7 614.8L2092.7 605.9"/><path d="M2070.6 614.8L2070.6 605.9"/><path d="M2087.8 614.8L2087.8 605.9"/><path d="M2091.7 614.8L2091.7 605.9"/><path d="M2075.3 614.8L2075.3 605.9"/><path d="M2067.7 614.8L2067.7 605.9"/><path d="M2081.2 614.8L2081.2 605.9"/><path d="M2084.4 614.8L2084.4 605.9"/><path d="M2072.9 614.8L2072.9 605.9"/><path d="M2064.5 614.8L2064.5 605.9"/><path d="M2081.3 614.8L2081.3 605.9"/><path d="M2069.3 614.8L2069.3 605.9"/><path d="M2075.3 614.8L2075.3 605.9"/><path d="M2085.7 614.8L2085.7 605.9"/><path d="M2068.2 614.8L2068.2 605.9"/><path d="M2079.3 614.8L2079.3 605.9"/><path d="M2070.2 614.8L2070.2 605.9"/><path d="M2083.1 614.8L2083.1 605.9"/><path d="M2076.9 614.8L2076.9 605.9"/><path d="M2082.8 614.8L2082.8 605.9"/><path d="M2071.8 614.8L2071.8 605.9"/><path d="M2083.5 614.8L2083.5 605.9"/><path d="M2067.8 614.8L2067.8 605.9"/><path d="M2081.5 614.8L2081.5 605.9"/><path d="M2065.4 614.8L2065.4 605.9"/><path d="M2084.1 614.8L2084.1 605.9"/><path d="M2088.8 614.8L2088.8 605.9"/><path d="M2081.3 614.8L2081.3 605.9"/><path d="M2078.1 614.8L2078.1 605.9"/><path d="M2091 614.8L2091 605.9"/><path d="M2085.8 614.8L2085.8 605.9"/><path d="M2090.5 614.8L2090.5 605.9"/><path d="M2082.9 614.8L2082.9 605.9"/><path d="M2089.8 614.8L2089.8 605.9"/><path d="M2092.3 614.8L2092.3 605.9"/><path d="M2075 614.8L2075 605.9"/><path d="M2091.7 614.8L2091.7 605.9"/><path d="M2090.1 614.8L2090.1 605.9"/><path d="M2072.2 614.8L2072.2 605.9"/><path d="M2069.7 614.8L2069.7 605.9"/><path d="M2078.7 614.8L2078.7 605.9"/><path d="M2088.9 614.8L2088.9 605.9"/><path d="M2066.1 614.8L2066.1 605.9"/><path d="M2084.8 614.8L2084.8 605.9"/><path d="M2077 614.8L2077 605.9"/><path d="M2088 614.8L2088 605.9"/><path d="M2065.1 614.8L2065.1 605.9"/><path d="M2083.3 614.8L2083.3 605.9"/><path d="M2072.8 614.8L2072.8 605.9"/><path d="M2083.2 614.8L2083.2 605.9"/><path d="M2066.5 614.8L2066.5 605.9"/><path d="M2092.8 614.8L2092.8 605.9"/><path d="M2114.2 614.8L2114.2 605.9"/><path d="M2103.1 614.8L2103.1 605.9"/><path d="M2104.5 614.8L2104.5 605.9"/><path d="M2114.2 614.8L2114.2 605.9"/><path d="M2110.4 614.8L2110.4 605.9"/><path d="M2105.4 614.8L2105.4 605.9"/><path d="M2097.7 614.8L2097.7 605.9"/><path d="M2101 614.8L2101 605.9"/><path d="M2108.3 614.8L2108.3 605.9"/><path d="M2113 614.8L2113 605.9"/><path d="M2099.2 614.8L2099.2 605.9"/><path d="M2108.6 614.8L2108.6 605.9"/><path d="M2103.4 614.8L2103.4 605.9"/><path d="M2112.6 614.8L2112.6 605.9"/><path d="M2097.3 614.8L2097.3 605.9"/><path d="M2096.2 614.8L2096.2 605.9"/><path d="M2110.3 614.8L2110.3 605.9"/><path d="M2097.6 614.8L2097.6 605.9"/><path d="M2112.3 614.8L2112.3 605.9"/><path d="M2114.2 614.8L2114.2 605.9"/><path d="M2109.3 614.8L2109.3 605.9"/><path d="M2114.1 614.8L2114.1 605.9"/><path d="M2108.7 614.8L2108.7 605.9"/><path d="M2114.2 614.8L2114.2 605.9"/><path d="M2114.3 614.8L2114.3 605.9"/><path d="M2096.6 614.8L2096.6 605.9"/><path d="M2097.1 614.8L2097.1 605.9"/><path d="M2096.2 614.8L2096.2 605.9"/><path d="M2109.6 614.8L2109.6 605.9"/><path d="M2115.3 614.8L2115.3 605.9"/><path d="M2112.8 614.8L2112.8 605.9"/><path d="M2098.6 614.8L2098.6 605.9"/><path d="M2115.2 614.8L2115.2 605.9"/><path d="M2113 614.8L2113 605.9"/><path d="M2097.9 614.8L2097.9 605.9"/><path d="M2127.1 614.8L2127.1 605.9"/><path d="M2122.7 614.8L2122.7 605.9"/><path d="M2144.4 614.8L2144.4 605.9"/><path d="M2148.3 614.8L2148.3 605.9"/><path d="M2126.4 614.8L2126.4 605.9"/><path d="M2149.9 614.8L2149.9 605.9"/><path d="M2132.4 614.8L2132.4 605.9"/><path d="M2143.8 614.8L2143.8 605.9"/><path d="M2141.5 614.8L2141.5 605.9"/><path d="M2129.3 614.8L2129.3 605.9"/><path d="M2148.8 614.8L2148.8 605.9"/><path d="M2129 614.8L2129 605.9"/><path d="M2147.8 614.8L2147.8 605.9"/><path d="M2130.1 614.8L2130.1 605.9"/><path d="M2129.3 614.8L2129.3 605.9"/><path d="M2123.8 614.8L2123.8 605.9"/><path d="M2133.5 614.8L2133.5 605.9"/><path d="M2137.7 614.8L2137.7 605.9"/><path d="M2132.5 614.8L2132.5 605.9"/><path d="M2146.6 614.8L2146.6 605.9"/><path d="M2151.1 614.8L2151.1 605.9"/><path d="M2124.6 614.8L2124.6 605.9"/><path d="M2140.2 614.8L2140.2 605.9"/><path d="M2121.6 614.8L2121.6 605.9"/><path d="M2148.2 614.8L2148.2 605.9"/><path d="M2126.1 614.8L2126.1 605.9"/><path d="M2132.9 614.8L2132.9 605.9"/><path d="M2127.6 614.8L2127.6 605.9"/><path d="M2129.2 614.8L2129.2 605.9"/><path d="M2147.5 614.8L2147.5 605.9"/><path d="M2129.2 614.8L2129.2 605.9"/><path d="M2127.2 614.8L2127.2 605.9"/><path d="M2146.9 614.8L2146.9 605.9"/><path d="M2135.5 614.8L2135.5 605.9"/><path d="M2143.5 614.8L2143.5 605.9"/><path d="M2162.2 614.8L2162.2 605.9"/><path d="M2162.7 614.8L2162.7 605.9"/><path d="M2165 614.8L2165 605.9"/></g><g id="f1text_45"><text style="font-size: 20.9px; font-family:'Liberation Serif',serif; text-anchor: start" x="2009.19" y="587.08">slope=-4.06</text></g><g id="f1patch_17"><path d="M1971.2 637.3L1971.2 37.2" style="fill: none; stroke: #000000; stroke-width: 2.35; stroke-linejoin: miter; stroke-linecap: square"/></g><g id="f1patch_18"><path d="M2411.7 637.3L2411.7 37.2" style="fill: none; stroke: #000000; stroke-width: 2.35; stroke-linejoin: miter; stroke-linecap: square"/></g><g id="f1patch_19"><path d="M1971.2 637.3L2411.7 637.3" style="fill: none; stroke: #000000; stroke-width: 2.35; stroke-linejoin: miter; stroke-linecap: square"/></g><g id="f1patch_20"><path d="M1971.2 37.2L2411.7 37.2" style="fill: none; stroke: #000000; stroke-width: 2.35; stroke-linejoin: miter; stroke-linecap: square"/></g><g id="f1line2d_88"><path d="M1989.1 572.7L1990.2 575.6L1991.2 578.5L1992.2 581.3L1993.2 583.9L1994.2 586.2L1995.2 588.1L1996.2 589.7L1997.2 590.8L1998.2 591.4L1999.2 591.5L2000.2 590.8L2001.2 589.5L2002.3 587.6L2003.3 585L2004.3 582L2005.3 578.5L2006.3 574.6L2007.3 570.4L2008.3 565.8L2009.3 561L2010.3 556L2011.3 550.7L2012.3 545.3L2013.4 539.7L2014.4 534L2015.4 528.1L2016.4 522.1L2017.4 516L2018.4 509.8L2019.4 503.5L2020.4 497.1L2021.4 490.7L2022.4 484.3L2023.4 477.7L2024.5 471.1L2025.5 464.4L2026.5 457.7L2027.5 450.8L2028.5 443.8L2029.5 436.8L2030.5 429.6L2031.5 422.4L2032.5 415L2033.5 407.7L2034.5 400.2L2035.5 392.8L2036.6 385.4L2037.6 378L2038.6 370.6L2039.6 363.4L2040.6 356.2L2041.6 349.1L2042.6 342.1L2043.6 335.2L2044.6 328.3L2045.6 321.3L2046.6 314.3L2047.7 307.2L2048.7 300L2049.7 292.5L2050.7 284.8L2051.7 277L2052.7 268.9L2053.7 260.7L2054.7 252.4L2055.7 244L2056.7 235.6L2057.7 227.1L2058.7 218.6L2059.8 210.2L2060.8 201.8L2061.8 193.6L2062.8 185.4L2063.8 177.4L2064.8 169.5L2065.8 161.8L2066.8 154.4L2067.8 147.1L2068.8 140.1L2069.8 133.4L2070.9 127L2071.9 120.8L2072.9 115L2073.9 109.5L2074.9 104.3L2075.9 99.4L2076.9 94.8L2077.9 90.5L2078.9 86.6L2079.9 82.9L2080.9 79.6L2082 76.7L2083 74.1L2084 71.8L2085 69.8L2086 68.2L2087 66.9L2088 66L2089 65.4L2090 65.2L2091 65.3L2092 65.7L2093 66.5L2094.1 67.6L2095.1 69.1L2096.1 70.8L2097.1 72.9L2098.1 75.3L2099.1 77.9L2100.1 80.9L2101.1 84.1L2102.1 87.7L2103.1 91.4L2104.1 95.5L2105.2 99.7L2106.2 104.2L2107.2 108.9L2108.2 113.9L2109.2 119L2110.2 124.3L2111.2 129.7L2112.2 135.4L2113.2 141.1L2114.2 147.1L2115.2 153.2L2116.3 159.4L2117.3 165.9L2118.3 172.5L2119.3 179.4L2120.3 186.4L2121.3 193.7L2122.3 201.2L2123.3 209L2124.3 217L2125.3 225.1L2126.3 233.3L2127.3 241.5L2128.4 249.7L2129.4 257.7L2130.4 265.4L2131.4 272.9L2132.4 280L2133.4 286.7L2134.4 292.8L2135.4 298.4L2136.4 303.6L2137.4 308.2L2138.4 312.5L2139.5 316.4L2140.5 320L2141.5 323.3L2142.5 326.4L2143.5 329.2L2144.5 331.9L2145.5 334.5L2146.5 336.9L2147.5 339.3L2148.5 341.5L2149.5 343.6L2150.5 345.6L2151.6 347.5L2152.6 349.2L2153.6 350.9L2154.6 352.4L2155.6 353.9L2156.6 355.2L2157.6 356.5L2158.6 357.6L2159.6 358.7L2160.6 359.8L2161.6 360.8L2162.7 361.7L2163.7 362.7L2164.7 363.6L2165.7 364.5L2166.7 365.4L2167.7 366.4L2168.7 367.3L2169.7 368.3L2170.7 369.4L2171.7 370.5L2172.7 371.6L2173.8 372.7L2174.8 373.9L2175.8 375L2176.8 376.2L2177.8 377.3L2178.8 378.5L2179.8 379.6L2180.8 380.7L2181.8 381.7L2182.8 382.7L2183.8 383.7L2184.8 384.6L2185.9 385.4L2186.9 386.2L2187.9 386.9L2188.9 387.6L2189.9 388.2L2190.9 388.8L2191.9 389.3L2192.9 389.8L2193.9 390.3L2194.9 390.7L2195.9 391L2197 391.4L2198 391.7L2199 391.9L2200 392.1L2201 392.3L2202 392.5L2203 392.7L2204 392.8L2205 392.9L2206 393L2207 393L2208.1 393.1L2209.1 393.1L2210.1 393.2L2211.1 393.2L2212.1 393.2L2213.1 393.2L2214.1 393.2L2215.1 393.2L2216.1 393.2L2217.1 393.2L2218.1 393.3L2219.1 393.3L2220.2 393.3L2221.2 393.4L2222.2 393.5L2223.2 393.6L2224.2 393.7L2225.2 393.8L2226.2 394L2227.2 394.2L2228.2 394.4L2229.2 394.6L2230.2 394.9L2231.3 395.3L2232.3 395.6L2233.3 396L2234.3 396.5L2235.3 397L2236.3 397.6L2237.3 398.2L2238.3 398.9L2239.3 399.6L2240.3 400.4L2241.3 401.3L2242.4 402.2L2243.4 403.1L2244.4 404L2245.4 405L2246.4 406L2247.4 407L2248.4 408L2249.4 409L2250.4 410L2251.4 411L2252.4 412L2253.4 413L2254.5 413.9L2255.5 414.8L2256.5 415.7L2257.5 416.5L2258.5 417.3L2259.5 418L2260.5 418.7L2261.5 419.3L2262.5 419.9L2263.5 420.5L2264.5 421L2265.6 421.5L2266.6 421.9L2267.6 422.3L2268.6 422.6L2269.6 422.9L2270.6 423.1L2271.6 423.4L2272.6 423.5L2273.6 423.6L2274.6 423.7L2275.6 423.7L2276.6 423.5L2277.7 423.3L2278.7 422.9L2279.7 422.4L2280.7 421.7L2281.7 420.8L2282.7 419.7L2283.7 418.4L2284.7 416.8L2285.7 415L2286.7 412.9L2287.7 410.6L2288.8 408L2289.8 405.1L2290.8 402.1L2291.8 398.9L2292.8 395.5L2293.8 391.9L2294.8 388.3L2295.8 384.5L2296.8 380.6L2297.8 376.6L2298.8 372.5L2299.9 368.4L2300.9 364.2L2301.9 360L2302.9 355.7L2303.9 351.3L2304.9 346.9L2305.9 342.4L2306.9 337.9L2307.9 333.4L2308.9 328.8L2309.9 324.2L2310.9 319.6L2312 314.9L2313 310.3L2314 305.6L2315 301L2316 296.4L2317 291.9L2318 287.4L2319 283L2320 278.6L2321 274.4L2322 270.3L2323.1 266.4L2324.1 262.6L2325.1 259L2326.1 255.7L2327.1 252.6L2328.1 249.7L2329.1 247L2330.1 244.6L2331.1 242.4L2332.1 240.4L2333.1 238.7L2334.2 237.3L2335.2 236.1L2336.2 235.1L2337.2 234.4L2338.2 234L2339.2 233.8L2340.2 233.9L2341.2 234.2L2342.2 234.8L2343.2 235.7L2344.2 236.8L2345.2 238.1L2346.3 239.7L2347.3 241.5L2348.3 243.5L2349.3 245.7L2350.3 248.2L2351.3 250.9L2352.3 253.8L2353.3 256.8L2354.3 260.1L2355.3 263.5L2356.3 267.1L2357.4 270.8L2358.4 274.6L2359.4 278.4L2360.4 282.3L2361.4 286.2L2362.4 290L2363.4 293.8L2364.4 297.6L2365.4 301.3L2366.4 304.9L2367.4 308.4L2368.4 311.7L2369.5 315L2370.5 318.1L2371.5 321L2372.5 323.8L2373.5 326.4L2374.5 328.7L2375.5 330.7L2376.5 332.4L2377.5 333.7L2378.5 334.5L2379.5 334.8L2380.6 334.5L2381.6 333.6L2382.6 332.2L2383.6 330.4L2384.6 328L2385.6 325.4L2386.6 322.3L2387.6 319L2388.6 315.5L2389.6 311.9L2390.6 308.1L2391.7 304.3" clip-path="url(#f1pe617b80292)" style="fill: none; stroke: #d55e00; stroke-width: 5.2"/></g><g id="f1text_46"><text style="font-size: 27.4px; font-family:'Liberation Serif',serif; text-anchor: middle" x="2191.45" y="20.04">Marginal effect (derivative)</text></g><g id="f1line2d_89"><defs><path id="f1m5ab13853f2" d="M0 7.8C2.1 7.8 4.1 7 5.5 5.5C7 4.1 7.8 2.1 7.8 0C7.8 -2.1 7 -4.1 5.5 -5.5C4.1 -7 2.1 -7.8 0 -7.8C-2.1 -7.8 -4.1 -7 -5.5 -5.5C-7 -4.1 -7.8 -2.1 -7.8 0C-7.8 2.1 -7 4.1 -5.5 5.5C-4.1 7 -2.1 7.8 0 7.8 z" style="stroke: #d55e00"/></defs><g clip-path="url(#f1pe617b80292)"><use href="#f1m5ab13853f2" x="1999.76" y="591.14" style="fill: #d55e00; stroke: #d55e00"/></g></g></g><g id="f1legend_1"><g id="f1line2d_90"><path d="M665.1 283.2L692.2 283.2L719.3 283.2" style="fill: none; stroke: #0a4592; stroke-width: 4.8"/></g><g id="f1text_47"><text style="font-size: 24.2px; font-family:'Liberation Serif',serif; text-anchor: start" x="736.25" y="291.69">LOWESS median (boot)</text></g><g id="f1line2d_91"><path d="M665.1 317.8L692.2 317.8L719.3 317.8" style="fill: none; stroke: #62a6d6; stroke-width: 5.2"/></g><g id="f1text_48"><text style="font-size: 24.2px; font-family:'Liberation Serif',serif; text-anchor: start" x="736.25" y="326.22">LOWESS (frac=0.3)</text></g><g id="f1line2d_92"><path d="M665.1 352.2L692.2 352.2L719.3 352.2" style="fill: none; stroke: #228b3a; stroke-width: 6"/></g><g id="f1text_49"><text style="font-size: 24.2px; font-family:'Liberation Serif',serif; text-anchor: start" x="736.25" y="360.66">GAM/spline</text></g><g id="f1line2d_93"><path d="M665.1 386.6L692.2 386.6L719.3 386.6" style="fill: none; stroke-dasharray: 9.62,4.16; stroke-dashoffset: 0; stroke: #777777; stroke-width: 2.6"/></g><g id="f1text_50"><text style="font-size: 24.2px; font-family:'Liberation Serif',serif; text-anchor: start" x="736.25" y="395.1">Linear OLS</text></g></g></g><defs><clipPath id="f1p845b06b4ab"><rect x="106.5" y="37.2" width="528.2" height="600.1"/></clipPath><clipPath id="f1p338be416bd"><rect x="1082.6" y="37.2" width="440.1" height="600.1"/></clipPath><clipPath id="f1pe617b80292"><rect x="1971.2" y="37.2" width="440.5" height="600.1"/></clipPath></defs></svg></div>
<div class="fig" style="left:547px;top:859px;width:2413px;height:724px"><svg width="2413" height="724" viewBox="0 0 2413 724" version="1.1"><defs><style type="text/css">*{stroke-linejoin: round; stroke-linecap: butt}</style></defs><g id="f2figure_1"><g id="f2patch_1"><path d="M0 724L2413 724L2413 0L0 0 z" style="fill: #ffffff"/></g><g id="f2axes_1"><g id="f2patch_2"><path d="M112.4 637.4L921.8 637.4L921.8 41.5L112.4 41.5 z" style="fill: #ffffff"/></g><g id="f2matplotlib.axis_1"><g id="f2xtick_1"><g id="f2line2d_1"><path d="M149.2 637.4L149.2 41.5" clip-path="url(#f2p62b5322a06)" style="fill: none; stroke-dasharray: 2,4.1; stroke-dashoffset: 0; stroke: #ededed; stroke-width: 2"/></g><g id="f2line2d_2"><defs><path id="f2m0fcd28e0e3" d="M0 0L0 10.5" style="stroke: #000000; stroke-width: 2.5"/></defs><use href="#f2m0fcd28e0e3" x="149.22" y="637.4" style="stroke: #000000; stroke-width: 2.5"/></g><g id="f2text_1"><text style="font-size: 28px; font-family:'Liberation Serif',serif; text-anchor: middle" x="149.22" y="677.83">0</text></g></g><g id="f2xtick_2"><g id="f2line2d_3"><path d="M315.3 637.4L315.3 41.5" clip-path="url(#f2p62b5322a06)" style="fill: none; stroke-dasharray: 2,4.1; stroke-dashoffset: 0; stroke: #ededed; stroke-width: 2"/></g><g id="f2line2d_4"><use href="#f2m0fcd28e0e3" x="315.31" y="637.4" style="stroke: #000000; stroke-width: 2.5"/></g><g id="f2text_2"><text style="font-size: 28px; font-family:'Liberation Serif',serif; text-anchor: middle" x="315.31" y="677.83">100</text></g></g><g id="f2xtick_3"><g id="f2line2d_5"><path d="M481.4 637.4L481.4 41.5" clip-path="url(#f2p62b5322a06)" style="fill: none; stroke-dasharray: 2,4.1; stroke-dashoffset: 0; stroke: #ededed; stroke-width: 2"/></g><g id="f2line2d_6"><use href="#f2m0fcd28e0e3" x="481.39" y="637.4" style="stroke: #000000; stroke-width: 2.5"/></g><g id="f2text_3"><text style="font-size: 28px; font-family:'Liberation Serif',serif; text-anchor: middle" x="481.39" y="677.83">200</text></g></g><g id="f2xtick_4"><g id="f2line2d_7"><path d="M647.5 637.4L647.5 41.5" clip-path="url(#f2p62b5322a06)" style="fill: none; stroke-dasharray: 2,4.1; stroke-dashoffset: 0; stroke: #ededed; stroke-width: 2"/></g><g id="f2line2d_8"><use href="#f2m0fcd28e0e3" x="647.48" y="637.4" style="stroke: #000000; stroke-width: 2.5"/></g><g id="f2text_4"><text style="font-size: 28px; font-family:'Liberation Serif',serif; text-anchor: middle" x="647.48" y="677.83">300</text></g></g><g id="f2xtick_5"><g id="f2line2d_9"><path d="M813.6 637.4L813.6 41.5" clip-path="url(#f2p62b5322a06)" style="fill: none; stroke-dasharray: 2,4.1; stroke-dashoffset: 0; stroke: #ededed; stroke-width: 2"/></g><g id="f2line2d_10"><use href="#f2m0fcd28e0e3" x="813.56" y="637.4" style="stroke: #000000; stroke-width: 2.5"/></g><g id="f2text_5"><text style="font-size: 28px; font-family:'Liberation Serif',serif; text-anchor: middle" x="813.56" y="677.83">400</text></g></g><g id="f2text_6"><text style="font-size: 30.5px; font-family:'Liberation Serif',serif; text-anchor: middle" x="517.1" y="718.76">trade exposure</text></g></g><g id="f2matplotlib.axis_2"><g id="f2ytick_1"><g id="f2line2d_11"><path d="M112.4 600.4L921.8 600.4" clip-path="url(#f2p62b5322a06)" style="fill: none; stroke-dasharray: 2,4.1; stroke-dashoffset: 0; stroke: #ededed; stroke-width: 2"/></g><g id="f2line2d_12"><defs><path id="f2m0ad91094f4" d="M0 0L-10.5 0" style="stroke: #000000; stroke-width: 2.5"/></defs><use href="#f2m0ad91094f4" x="112.4" y="600.43" style="stroke: #000000; stroke-width: 2.5"/></g><g id="f2text_7"><text style="font-size: 28px; font-family:'Liberation Serif',serif; text-anchor: end" x="90.4" y="610.14">−0.5</text></g></g><g id="f2ytick_2"><g id="f2line2d_13"><path d="M112.4 510.2L921.8 510.2" clip-path="url(#f2p62b5322a06)" style="fill: none; stroke-dasharray: 2,4.1; stroke-dashoffset: 0; stroke: #ededed; stroke-width: 2"/></g><g id="f2line2d_14"><use href="#f2m0ad91094f4" x="112.4" y="510.25" style="stroke: #000000; stroke-width: 2.5"/></g><g id="f2text_8"><text style="font-size: 28px; font-family:'Liberation Serif',serif; text-anchor: end" x="90.4" y="519.96">0.0</text></g></g><g id="f2ytick_3"><g id="f2line2d_15"><path d="M112.4 420.1L921.8 420.1" clip-path="url(#f2p62b5322a06)" style="fill: none; stroke-dasharray: 2,4.1; stroke-dashoffset: 0; stroke: #ededed; stroke-width: 2"/></g><g id="f2line2d_16"><use href="#f2m0ad91094f4" x="112.4" y="420.07" style="stroke: #000000; stroke-width: 2.5"/></g><g id="f2text_9"><text style="font-size: 28px; font-family:'Liberation Serif',serif; text-anchor: end" x="90.4" y="429.78">0.5</text></g></g><g id="f2ytick_4"><g id="f2line2d_17"><path d="M112.4 329.9L921.8 329.9" clip-path="url(#f2p62b5322a06)" style="fill: none; stroke-dasharray: 2,4.1; stroke-dashoffset: 0; stroke: #ededed; stroke-width: 2"/></g><g id="f2line2d_18"><use href="#f2m0ad91094f4" x="112.4" y="329.89" style="stroke: #000000; stroke-width: 2.5"/></g><g id="f2text_10"><text style="font-size: 28px; font-family:'Liberation Serif',serif; text-anchor: end" x="90.4" y="339.61">1.0</text></g></g><g id="f2ytick_5"><g id="f2line2d_19"><path d="M112.4 239.7L921.8 239.7" clip-path="url(#f2p62b5322a06)" style="fill: none; stroke-dasharray: 2,4.1; stroke-dashoffset: 0; stroke: #ededed; stroke-width: 2"/></g><g id="f2line2d_20"><use href="#f2m0ad91094f4" x="112.4" y="239.71" style="stroke: #000000; stroke-width: 2.5"/></g><g id="f2text_11"><text style="font-size: 28px; font-family:'Liberation Serif',serif; text-anchor: end" x="90.4" y="249.43">1.5</text></g></g><g id="f2ytick_6"><g id="f2line2d_21"><path d="M112.4 149.5L921.8 149.5" clip-path="url(#f2p62b5322a06)" style="fill: none; stroke-dasharray: 2,4.1; stroke-dashoffset: 0; stroke: #ededed; stroke-width: 2"/></g><g id="f2line2d_22"><use href="#f2m0ad91094f4" x="112.4" y="149.53" style="stroke: #000000; stroke-width: 2.5"/></g><g id="f2text_12"><text style="font-size: 28px; font-family:'Liberation Serif',serif; text-anchor: end" x="90.4" y="159.25">2.0</text></g></g><g id="f2ytick_7"><g id="f2line2d_23"><path d="M112.4 59.4L921.8 59.4" clip-path="url(#f2p62b5322a06)" style="fill: none; stroke-dasharray: 2,4.1; stroke-dashoffset: 0; stroke: #ededed; stroke-width: 2"/></g><g id="f2line2d_24"><use href="#f2m0ad91094f4" x="112.4" y="59.36" style="stroke: #000000; stroke-width: 2.5"/></g><g id="f2text_13"><text style="font-size: 28px; font-family:'Liberation Serif',serif; text-anchor: end" x="90.4" y="69.07">2.5</text></g></g><g id="f2text_14"><text style="font-size: 30.5px; font-family:'Liberation Serif',serif; text-anchor: middle" x="24.12" y="339.45" transform="rotate(-90 24.12 339.45)">SHAP value (contribution)</text></g></g><g class="sc2" style="fill:#d55e00;fill-opacity:0.62" clip-path="url(#f2p62b5322a06)"><circle cx="218" cy="561" r="5.4"/><circle cx="322" cy="484" r="5.4"/><circle cx="307" cy="495" r="5.4"/><circle cx="198" cy="575" r="5.4"/><circle cx="149" cy="611" r="5.4"/><circle cx="232" cy="550" r="5.4"/><circle cx="241" cy="544" r="5.4"/><circle cx="261" cy="529" r="5.4"/><circle cx="234" cy="549" r="5.4"/><circle cx="250" cy="537" r="5.4"/><circle cx="303" cy="498" r="5.4"/><circle cx="258" cy="531" r="5.4"/><circle cx="751" cy="168" r="5.4"/><circle cx="258" cy="531" r="5.4"/><circle cx="238" cy="546" r="5.4"/><circle cx="236" cy="547" r="5.4"/><circle cx="410" cy="419" r="5.4"/><circle cx="241" cy="543" r="5.4"/><circle cx="199" cy="574" r="5.4"/><circle cx="375" cy="445" r="5.4"/><circle cx="329" cy="479" r="5.4"/><circle cx="347" cy="466" r="5.4"/><circle cx="252" cy="535" r="5.4"/><circle cx="236" cy="547" r="5.4"/><circle cx="235" cy="548" r="5.4"/><circle cx="669" cy="229" r="5.4"/><circle cx="284" cy="512" r="5.4"/><circle cx="239" cy="545" r="5.4"/><circle cx="268" cy="524" r="5.4"/><circle cx="328" cy="480" r="5.4"/><circle cx="225" cy="555" r="5.4"/><circle cx="491" cy="359" r="5.4"/><circle cx="475" cy="371" r="5.4"/><circle cx="149" cy="611" r="5.4"/><circle cx="296" cy="503" r="5.4"/><circle cx="228" cy="553" r="5.4"/><circle cx="301" cy="499" r="5.4"/><circle cx="218" cy="560" r="5.4"/><circle cx="323" cy="483" r="5.4"/><circle cx="226" cy="555" r="5.4"/><circle cx="258" cy="531" r="5.4"/><circle cx="149" cy="611" r="5.4"/><circle cx="452" cy="389" r="5.4"/><circle cx="184" cy="585" r="5.4"/><circle cx="149" cy="611" r="5.4"/><circle cx="351" cy="463" r="5.4"/><circle cx="223" cy="557" r="5.4"/><circle cx="270" cy="522" r="5.4"/><circle cx="274" cy="519" r="5.4"/><circle cx="272" cy="521" r="5.4"/><circle cx="337" cy="473" r="5.4"/><circle cx="296" cy="503" r="5.4"/><circle cx="149" cy="611" r="5.4"/><circle cx="218" cy="560" r="5.4"/><circle cx="283" cy="513" r="5.4"/><circle cx="238" cy="546" r="5.4"/><circle cx="237" cy="547" r="5.4"/><circle cx="233" cy="550" r="5.4"/><circle cx="363" cy="454" r="5.4"/><circle cx="246" cy="540" r="5.4"/><circle cx="382" cy="440" r="5.4"/><circle cx="283" cy="513" r="5.4"/><circle cx="293" cy="505" r="5.4"/><circle cx="276" cy="518" r="5.4"/><circle cx="296" cy="503" r="5.4"/><circle cx="199" cy="574" r="5.4"/><circle cx="283" cy="512" r="5.4"/><circle cx="245" cy="541" r="5.4"/><circle cx="322" cy="484" r="5.4"/><circle cx="250" cy="537" r="5.4"/><circle cx="244" cy="541" r="5.4"/><circle cx="307" cy="495" r="5.4"/><circle cx="149" cy="611" r="5.4"/><circle cx="277" cy="517" r="5.4"/><circle cx="226" cy="555" r="5.4"/><circle cx="394" cy="431" r="5.4"/><circle cx="248" cy="539" r="5.4"/><circle cx="340" cy="471" r="5.4"/><circle cx="340" cy="471" r="5.4"/><circle cx="310" cy="493" r="5.4"/><circle cx="341" cy="470" r="5.4"/><circle cx="284" cy="512" r="5.4"/><circle cx="404" cy="423" r="5.4"/><circle cx="335" cy="475" r="5.4"/><circle cx="202" cy="572" r="5.4"/><circle cx="637" cy="253" r="5.4"/><circle cx="287" cy="510" r="5.4"/><circle cx="243" cy="542" r="5.4"/><circle cx="218" cy="560" r="5.4"/><circle cx="310" cy="493" r="5.4"/><circle cx="149" cy="611" r="5.4"/><circle cx="269" cy="523" r="5.4"/><circle cx="256" cy="533" r="5.4"/><circle cx="307" cy="495" r="5.4"/><circle cx="224" cy="556" r="5.4"/><circle cx="344" cy="468" r="5.4"/><circle cx="242" cy="543" r="5.4"/><circle cx="270" cy="522" r="5.4"/><circle cx="281" cy="514" r="5.4"/><circle cx="256" cy="533" r="5.4"/><circle cx="459" cy="383" r="5.4"/><circle cx="259" cy="531" r="5.4"/><circle cx="149" cy="611" r="5.4"/><circle cx="380" cy="442" r="5.4"/><circle cx="388" cy="435" r="5.4"/><circle cx="176" cy="591" r="5.4"/><circle cx="149" cy="611" r="5.4"/><circle cx="295" cy="504" r="5.4"/><circle cx="254" cy="534" r="5.4"/><circle cx="249" cy="538" r="5.4"/><circle cx="375" cy="445" r="5.4"/><circle cx="149" cy="611" r="5.4"/><circle cx="437" cy="400" r="5.4"/><circle cx="357" cy="458" r="5.4"/><circle cx="285" cy="511" r="5.4"/><circle cx="216" cy="562" r="5.4"/><circle cx="325" cy="482" r="5.4"/><circle cx="269" cy="523" r="5.4"/><circle cx="317" cy="488" r="5.4"/><circle cx="369" cy="449" r="5.4"/><circle cx="149" cy="611" r="5.4"/><circle cx="305" cy="497" r="5.4"/><circle cx="277" cy="517" r="5.4"/><circle cx="307" cy="495" r="5.4"/><circle cx="319" cy="486" r="5.4"/><circle cx="320" cy="485" r="5.4"/><circle cx="150" cy="610" r="5.4"/><circle cx="344" cy="468" r="5.4"/><circle cx="225" cy="555" r="5.4"/><circle cx="216" cy="562" r="5.4"/><circle cx="371" cy="448" r="5.4"/><circle cx="303" cy="498" r="5.4"/><circle cx="584" cy="292" r="5.4"/><circle cx="275" cy="519" r="5.4"/><circle cx="246" cy="540" r="5.4"/><circle cx="226" cy="555" r="5.4"/><circle cx="276" cy="518" r="5.4"/><circle cx="696" cy="209" r="5.4"/><circle cx="382" cy="440" r="5.4"/><circle cx="261" cy="529" r="5.4"/><circle cx="304" cy="498" r="5.4"/><circle cx="373" cy="446" r="5.4"/><circle cx="183" cy="586" r="5.4"/><circle cx="276" cy="518" r="5.4"/><circle cx="180" cy="588" r="5.4"/><circle cx="338" cy="472" r="5.4"/><circle cx="273" cy="520" r="5.4"/><circle cx="294" cy="505" r="5.4"/><circle cx="326" cy="481" r="5.4"/><circle cx="294" cy="504" r="5.4"/><circle cx="230" cy="552" r="5.4"/><circle cx="304" cy="497" r="5.4"/><circle cx="281" cy="514" r="5.4"/><circle cx="149" cy="611" r="5.4"/><circle cx="349" cy="464" r="5.4"/><circle cx="314" cy="490" r="5.4"/><circle cx="320" cy="485" r="5.4"/><circle cx="149" cy="611" r="5.4"/><circle cx="149" cy="611" r="5.4"/><circle cx="277" cy="517" r="5.4"/><circle cx="306" cy="496" r="5.4"/><circle cx="200" cy="573" r="5.4"/><circle cx="179" cy="589" r="5.4"/><circle cx="285" cy="511" r="5.4"/><circle cx="296" cy="503" r="5.4"/><circle cx="294" cy="505" r="5.4"/><circle cx="261" cy="529" r="5.4"/><circle cx="226" cy="555" r="5.4"/><circle cx="353" cy="461" r="5.4"/><circle cx="345" cy="467" r="5.4"/><circle cx="287" cy="510" r="5.4"/><circle cx="240" cy="544" r="5.4"/><circle cx="275" cy="519" r="5.4"/><circle cx="244" cy="541" r="5.4"/><circle cx="172" cy="594" r="5.4"/><circle cx="278" cy="516" r="5.4"/><circle cx="149" cy="611" r="5.4"/><circle cx="209" cy="567" r="5.4"/><circle cx="256" cy="533" r="5.4"/><circle cx="206" cy="569" r="5.4"/><circle cx="268" cy="524" r="5.4"/><circle cx="283" cy="512" r="5.4"/><circle cx="358" cy="457" r="5.4"/><circle cx="149" cy="611" r="5.4"/><circle cx="235" cy="548" r="5.4"/><circle cx="404" cy="423" r="5.4"/><circle cx="347" cy="465" r="5.4"/><circle cx="206" cy="569" r="5.4"/><circle cx="290" cy="507" r="5.4"/><circle cx="264" cy="526" r="5.4"/><circle cx="240" cy="545" r="5.4"/><circle cx="262" cy="528" r="5.4"/><circle cx="285" cy="511" r="5.4"/><circle cx="246" cy="540" r="5.4"/><circle cx="437" cy="399" r="5.4"/><circle cx="221" cy="559" r="5.4"/><circle cx="328" cy="480" r="5.4"/><circle cx="350" cy="463" r="5.4"/><circle cx="149" cy="611" r="5.4"/><circle cx="319" cy="486" r="5.4"/><circle cx="409" cy="420" r="5.4"/><circle cx="211" cy="566" r="5.4"/><circle cx="265" cy="526" r="5.4"/><circle cx="184" cy="586" r="5.4"/><circle cx="149" cy="611" r="5.4"/><circle cx="220" cy="559" r="5.4"/><circle cx="247" cy="539" r="5.4"/><circle cx="376" cy="444" r="5.4"/><circle cx="294" cy="505" r="5.4"/><circle cx="246" cy="540" r="5.4"/><circle cx="273" cy="520" r="5.4"/><circle cx="458" cy="384" r="5.4"/><circle cx="217" cy="562" r="5.4"/><circle cx="300" cy="500" r="5.4"/><circle cx="286" cy="511" r="5.4"/><circle cx="700" cy="206" r="5.4"/><circle cx="273" cy="520" r="5.4"/><circle cx="295" cy="504" r="5.4"/><circle cx="234" cy="549" r="5.4"/><circle cx="364" cy="453" r="5.4"/><circle cx="277" cy="517" r="5.4"/><circle cx="283" cy="513" r="5.4"/><circle cx="239" cy="545" r="5.4"/><circle cx="149" cy="611" r="5.4"/><circle cx="419" cy="412" r="5.4"/><circle cx="290" cy="507" r="5.4"/><circle cx="220" cy="559" r="5.4"/><circle cx="216" cy="562" r="5.4"/><circle cx="259" cy="530" r="5.4"/><circle cx="391" cy="433" r="5.4"/><circle cx="258" cy="531" r="5.4"/><circle cx="208" cy="567" r="5.4"/><circle cx="339" cy="472" r="5.4"/><circle cx="257" cy="532" r="5.4"/><circle cx="245" cy="541" r="5.4"/><circle cx="278" cy="517" r="5.4"/><circle cx="331" cy="478" r="5.4"/><circle cx="273" cy="520" r="5.4"/><circle cx="228" cy="553" r="5.4"/><circle cx="333" cy="476" r="5.4"/><circle cx="149" cy="611" r="5.4"/><circle cx="275" cy="519" r="5.4"/><circle cx="270" cy="522" r="5.4"/><circle cx="235" cy="548" r="5.4"/><circle cx="302" cy="498" r="5.4"/><circle cx="346" cy="466" r="5.4"/><circle cx="404" cy="424" r="5.4"/><circle cx="193" cy="579" r="5.4"/><circle cx="202" cy="572" r="5.4"/><circle cx="394" cy="431" r="5.4"/><circle cx="261" cy="529" r="5.4"/><circle cx="149" cy="611" r="5.4"/><circle cx="482" cy="366" r="5.4"/><circle cx="362" cy="454" r="5.4"/><circle cx="149" cy="611" r="5.4"/><circle cx="380" cy="441" r="5.4"/><circle cx="341" cy="470" r="5.4"/><circle cx="406" cy="422" r="5.4"/><circle cx="256" cy="532" r="5.4"/><circle cx="505" cy="350" r="5.4"/><circle cx="278" cy="516" r="5.4"/><circle cx="340" cy="470" r="5.4"/><circle cx="232" cy="550" r="5.4"/><circle cx="149" cy="611" r="5.4"/><circle cx="406" cy="422" r="5.4"/><circle cx="210" cy="567" r="5.4"/><circle cx="307" cy="495" r="5.4"/><circle cx="273" cy="520" r="5.4"/><circle cx="346" cy="466" r="5.4"/><circle cx="367" cy="451" r="5.4"/><circle cx="245" cy="541" r="5.4"/><circle cx="291" cy="506" r="5.4"/><circle cx="390" cy="434" r="5.4"/><circle cx="149" cy="611" r="5.4"/><circle cx="289" cy="509" r="5.4"/><circle cx="285" cy="511" r="5.4"/><circle cx="242" cy="543" r="5.4"/><circle cx="200" cy="574" r="5.4"/><circle cx="234" cy="548" r="5.4"/><circle cx="324" cy="482" r="5.4"/><circle cx="384" cy="439" r="5.4"/><circle cx="149" cy="611" r="5.4"/><circle cx="167" cy="598" r="5.4"/><circle cx="149" cy="611" r="5.4"/><circle cx="392" cy="432" r="5.4"/><circle cx="267" cy="524" r="5.4"/><circle cx="258" cy="531" r="5.4"/><circle cx="236" cy="547" r="5.4"/><circle cx="222" cy="558" r="5.4"/><circle cx="391" cy="433" r="5.4"/><circle cx="242" cy="543" r="5.4"/><circle cx="245" cy="541" r="5.4"/><circle cx="234" cy="549" r="5.4"/><circle cx="271" cy="522" r="5.4"/><circle cx="383" cy="440" r="5.4"/><circle cx="241" cy="544" r="5.4"/><circle cx="716" cy="194" r="5.4"/><circle cx="303" cy="498" r="5.4"/><circle cx="214" cy="563" r="5.4"/><circle cx="190" cy="581" r="5.4"/><circle cx="331" cy="478" r="5.4"/><circle cx="241" cy="544" r="5.4"/><circle cx="388" cy="436" r="5.4"/><circle cx="304" cy="497" r="5.4"/><circle cx="346" cy="467" r="5.4"/><circle cx="195" cy="577" r="5.4"/><circle cx="149" cy="611" r="5.4"/><circle cx="251" cy="537" r="5.4"/><circle cx="236" cy="547" r="5.4"/><circle cx="234" cy="549" r="5.4"/><circle cx="413" cy="417" r="5.4"/><circle cx="270" cy="523" r="5.4"/><circle cx="254" cy="534" r="5.4"/><circle cx="403" cy="424" r="5.4"/><circle cx="246" cy="540" r="5.4"/><circle cx="249" cy="538" r="5.4"/><circle cx="203" cy="571" r="5.4"/><circle cx="213" cy="564" r="5.4"/><circle cx="241" cy="544" r="5.4"/><circle cx="149" cy="611" r="5.4"/><circle cx="303" cy="498" r="5.4"/><circle cx="239" cy="545" r="5.4"/><circle cx="317" cy="487" r="5.4"/><circle cx="271" cy="521" r="5.4"/><circle cx="232" cy="550" r="5.4"/><circle cx="205" cy="570" r="5.4"/><circle cx="363" cy="454" r="5.4"/><circle cx="149" cy="611" r="5.4"/><circle cx="288" cy="509" r="5.4"/><circle cx="290" cy="508" r="5.4"/><circle cx="356" cy="459" r="5.4"/><circle cx="149" cy="611" r="5.4"/><circle cx="323" cy="483" r="5.4"/><circle cx="217" cy="561" r="5.4"/><circle cx="347" cy="465" r="5.4"/><circle cx="398" cy="428" r="5.4"/><circle cx="401" cy="426" r="5.4"/><circle cx="239" cy="545" r="5.4"/><circle cx="222" cy="558" r="5.4"/><circle cx="261" cy="529" r="5.4"/><circle cx="320" cy="486" r="5.4"/><circle cx="212" cy="565" r="5.4"/><circle cx="250" cy="537" r="5.4"/><circle cx="214" cy="563" r="5.4"/><circle cx="300" cy="500" r="5.4"/><circle cx="274" cy="519" r="5.4"/><circle cx="205" cy="570" r="5.4"/><circle cx="255" cy="533" r="5.4"/><circle cx="248" cy="538" r="5.4"/><circle cx="239" cy="545" r="5.4"/><circle cx="425" cy="409" r="5.4"/><circle cx="308" cy="494" r="5.4"/><circle cx="271" cy="522" r="5.4"/><circle cx="268" cy="524" r="5.4"/><circle cx="271" cy="522" r="5.4"/><circle cx="300" cy="500" r="5.4"/><circle cx="149" cy="611" r="5.4"/><circle cx="233" cy="549" r="5.4"/><circle cx="292" cy="506" r="5.4"/><circle cx="237" cy="547" r="5.4"/><circle cx="326" cy="481" r="5.4"/><circle cx="327" cy="480" r="5.4"/><circle cx="281" cy="514" r="5.4"/><circle cx="362" cy="455" r="5.4"/><circle cx="253" cy="534" r="5.4"/><circle cx="237" cy="546" r="5.4"/><circle cx="205" cy="570" r="5.4"/><circle cx="387" cy="436" r="5.4"/><circle cx="274" cy="519" r="5.4"/><circle cx="295" cy="504" r="5.4"/><circle cx="270" cy="522" r="5.4"/><circle cx="311" cy="492" r="5.4"/><circle cx="328" cy="479" r="5.4"/><circle cx="229" cy="552" r="5.4"/><circle cx="310" cy="493" r="5.4"/><circle cx="259" cy="530" r="5.4"/><circle cx="305" cy="496" r="5.4"/><circle cx="247" cy="539" r="5.4"/><circle cx="284" cy="512" r="5.4"/><circle cx="149" cy="611" r="5.4"/><circle cx="296" cy="503" r="5.4"/><circle cx="149" cy="611" r="5.4"/><circle cx="303" cy="498" r="5.4"/><circle cx="231" cy="551" r="5.4"/><circle cx="372" cy="447" r="5.4"/><circle cx="308" cy="494" r="5.4"/><circle cx="314" cy="490" r="5.4"/><circle cx="397" cy="429" r="5.4"/><circle cx="277" cy="517" r="5.4"/><circle cx="155" cy="607" r="5.4"/><circle cx="240" cy="544" r="5.4"/><circle cx="255" cy="533" r="5.4"/><circle cx="239" cy="545" r="5.4"/><circle cx="266" cy="525" r="5.4"/><circle cx="314" cy="490" r="5.4"/><circle cx="402" cy="426" r="5.4"/><circle cx="149" cy="611" r="5.4"/><circle cx="283" cy="512" r="5.4"/><circle cx="230" cy="551" r="5.4"/><circle cx="149" cy="611" r="5.4"/><circle cx="258" cy="531" r="5.4"/><circle cx="308" cy="494" r="5.4"/><circle cx="339" cy="472" r="5.4"/><circle cx="246" cy="540" r="5.4"/><circle cx="208" cy="568" r="5.4"/><circle cx="211" cy="566" r="5.4"/><circle cx="322" cy="484" r="5.4"/><circle cx="271" cy="521" r="5.4"/><circle cx="331" cy="477" r="5.4"/><circle cx="342" cy="469" r="5.4"/><circle cx="270" cy="522" r="5.4"/><circle cx="225" cy="556" r="5.4"/><circle cx="285" cy="511" r="5.4"/><circle cx="214" cy="563" r="5.4"/><circle cx="460" cy="383" r="5.4"/><circle cx="203" cy="572" r="5.4"/><circle cx="273" cy="520" r="5.4"/><circle cx="224" cy="556" r="5.4"/><circle cx="251" cy="536" r="5.4"/><circle cx="206" cy="569" r="5.4"/><circle cx="248" cy="539" r="5.4"/><circle cx="235" cy="548" r="5.4"/><circle cx="291" cy="507" r="5.4"/><circle cx="263" cy="528" r="5.4"/><circle cx="267" cy="525" r="5.4"/><circle cx="273" cy="520" r="5.4"/><circle cx="216" cy="562" r="5.4"/><circle cx="238" cy="546" r="5.4"/><circle cx="149" cy="611" r="5.4"/><circle cx="364" cy="453" r="5.4"/><circle cx="289" cy="508" r="5.4"/><circle cx="267" cy="524" r="5.4"/><circle cx="312" cy="492" r="5.4"/><circle cx="241" cy="544" r="5.4"/><circle cx="301" cy="499" r="5.4"/><circle cx="246" cy="540" r="5.4"/><circle cx="243" cy="542" r="5.4"/><circle cx="403" cy="424" r="5.4"/><circle cx="413" cy="417" r="5.4"/><circle cx="358" cy="458" r="5.4"/><circle cx="267" cy="525" r="5.4"/><circle cx="431" cy="404" r="5.4"/><circle cx="265" cy="526" r="5.4"/><circle cx="278" cy="516" r="5.4"/><circle cx="268" cy="524" r="5.4"/><circle cx="252" cy="536" r="5.4"/><circle cx="304" cy="497" r="5.4"/><circle cx="310" cy="493" r="5.4"/><circle cx="300" cy="500" r="5.4"/><circle cx="312" cy="491" r="5.4"/><circle cx="254" cy="534" r="5.4"/><circle cx="281" cy="514" r="5.4"/><circle cx="283" cy="513" r="5.4"/><circle cx="296" cy="503" r="5.4"/><circle cx="240" cy="544" r="5.4"/><circle cx="319" cy="486" r="5.4"/><circle cx="226" cy="554" r="5.4"/><circle cx="279" cy="516" r="5.4"/><circle cx="251" cy="536" r="5.4"/><circle cx="377" cy="443" r="5.4"/><circle cx="395" cy="430" r="5.4"/><circle cx="283" cy="513" r="5.4"/><circle cx="260" cy="530" r="5.4"/><circle cx="364" cy="453" r="5.4"/><circle cx="360" cy="456" r="5.4"/><circle cx="149" cy="611" r="5.4"/><circle cx="352" cy="462" r="5.4"/><circle cx="149" cy="611" r="5.4"/><circle cx="219" cy="560" r="5.4"/><circle cx="741" cy="176" r="5.4"/><circle cx="149" cy="611" r="5.4"/><circle cx="224" cy="556" r="5.4"/><circle cx="393" cy="431" r="5.4"/><circle cx="355" cy="459" r="5.4"/><circle cx="149" cy="611" r="5.4"/><circle cx="318" cy="487" r="5.4"/><circle cx="252" cy="536" r="5.4"/><circle cx="318" cy="487" r="5.4"/><circle cx="278" cy="516" r="5.4"/><circle cx="149" cy="611" r="5.4"/><circle cx="244" cy="541" r="5.4"/><circle cx="202" cy="572" r="5.4"/><circle cx="235" cy="548" r="5.4"/><circle cx="203" cy="572" r="5.4"/><circle cx="284" cy="512" r="5.4"/><circle cx="181" cy="588" r="5.4"/><circle cx="222" cy="557" r="5.4"/><circle cx="326" cy="481" r="5.4"/><circle cx="149" cy="611" r="5.4"/><circle cx="149" cy="611" r="5.4"/><circle cx="202" cy="572" r="5.4"/><circle cx="237" cy="546" r="5.4"/><circle cx="335" cy="475" r="5.4"/><circle cx="272" cy="521" r="5.4"/><circle cx="288" cy="509" r="5.4"/><circle cx="336" cy="474" r="5.4"/><circle cx="392" cy="433" r="5.4"/><circle cx="413" cy="417" r="5.4"/><circle cx="355" cy="460" r="5.4"/><circle cx="464" cy="380" r="5.4"/><circle cx="340" cy="471" r="5.4"/><circle cx="218" cy="560" r="5.4"/><circle cx="308" cy="494" r="5.4"/><circle cx="365" cy="452" r="5.4"/><circle cx="408" cy="421" r="5.4"/><circle cx="238" cy="546" r="5.4"/><circle cx="236" cy="547" r="5.4"/><circle cx="318" cy="487" r="5.4"/><circle cx="149" cy="611" r="5.4"/><circle cx="297" cy="503" r="5.4"/><circle cx="274" cy="519" r="5.4"/><circle cx="305" cy="497" r="5.4"/><circle cx="651" cy="242" r="5.4"/><circle cx="394" cy="431" r="5.4"/><circle cx="273" cy="520" r="5.4"/><circle cx="311" cy="492" r="5.4"/><circle cx="224" cy="556" r="5.4"/><circle cx="320" cy="486" r="5.4"/><circle cx="229" cy="552" r="5.4"/><circle cx="149" cy="611" r="5.4"/><circle cx="230" cy="551" r="5.4"/><circle cx="257" cy="532" r="5.4"/><circle cx="271" cy="522" r="5.4"/><circle cx="290" cy="508" r="5.4"/><circle cx="292" cy="506" r="5.4"/><circle cx="149" cy="611" r="5.4"/><circle cx="359" cy="457" r="5.4"/><circle cx="313" cy="491" r="5.4"/><circle cx="287" cy="510" r="5.4"/><circle cx="421" cy="411" r="5.4"/><circle cx="363" cy="454" r="5.4"/><circle cx="376" cy="445" r="5.4"/><circle cx="261" cy="529" r="5.4"/><circle cx="268" cy="524" r="5.4"/><circle cx="264" cy="526" r="5.4"/><circle cx="235" cy="548" r="5.4"/><circle cx="663" cy="233" r="5.4"/><circle cx="290" cy="507" r="5.4"/><circle cx="355" cy="460" r="5.4"/><circle cx="373" cy="446" r="5.4"/><circle cx="218" cy="561" r="5.4"/><circle cx="227" cy="554" r="5.4"/><circle cx="411" cy="418" r="5.4"/><circle cx="149" cy="611" r="5.4"/><circle cx="238" cy="546" r="5.4"/><circle cx="227" cy="554" r="5.4"/><circle cx="313" cy="491" r="5.4"/><circle cx="275" cy="519" r="5.4"/><circle cx="149" cy="611" r="5.4"/><circle cx="294" cy="504" r="5.4"/><circle cx="377" cy="444" r="5.4"/><circle cx="456" cy="386" r="5.4"/><circle cx="331" cy="477" r="5.4"/><circle cx="351" cy="462" r="5.4"/><circle cx="331" cy="478" r="5.4"/><circle cx="334" cy="475" r="5.4"/><circle cx="149" cy="611" r="5.4"/><circle cx="286" cy="510" r="5.4"/><circle cx="208" cy="568" r="5.4"/><circle cx="429" cy="406" r="5.4"/><circle cx="237" cy="546" r="5.4"/><circle cx="285" cy="511" r="5.4"/><circle cx="293" cy="505" r="5.4"/><circle cx="315" cy="489" r="5.4"/><circle cx="267" cy="524" r="5.4"/><circle cx="231" cy="551" r="5.4"/><circle cx="215" cy="563" r="5.4"/><circle cx="354" cy="460" r="5.4"/><circle cx="319" cy="486" r="5.4"/><circle cx="274" cy="519" r="5.4"/><circle cx="364" cy="453" r="5.4"/><circle cx="214" cy="563" r="5.4"/><circle cx="231" cy="551" r="5.4"/><circle cx="248" cy="538" r="5.4"/><circle cx="293" cy="505" r="5.4"/><circle cx="287" cy="510" r="5.4"/><circle cx="224" cy="556" r="5.4"/><circle cx="250" cy="537" r="5.4"/><circle cx="149" cy="611" r="5.4"/><circle cx="176" cy="591" r="5.4"/><circle cx="235" cy="548" r="5.4"/><circle cx="298" cy="502" r="5.4"/><circle cx="252" cy="535" r="5.4"/><circle cx="455" cy="386" r="5.4"/><circle cx="359" cy="457" r="5.4"/><circle cx="285" cy="511" r="5.4"/><circle cx="413" cy="417" r="5.4"/><circle cx="149" cy="611" r="5.4"/><circle cx="400" cy="426" r="5.4"/><circle cx="352" cy="462" r="5.4"/><circle cx="885" cy="70" r="5.4"/><circle cx="279" cy="515" r="5.4"/><circle cx="287" cy="509" r="5.4"/><circle cx="239" cy="545" r="5.4"/><circle cx="419" cy="413" r="5.4"/><circle cx="428" cy="406" r="5.4"/><circle cx="427" cy="407" r="5.4"/><circle cx="227" cy="554" r="5.4"/><circle cx="224" cy="556" r="5.4"/><circle cx="262" cy="528" r="5.4"/><circle cx="684" cy="218" r="5.4"/><circle cx="307" cy="495" r="5.4"/><circle cx="275" cy="518" r="5.4"/><circle cx="231" cy="551" r="5.4"/><circle cx="232" cy="550" r="5.4"/><circle cx="231" cy="551" r="5.4"/><circle cx="269" cy="523" r="5.4"/><circle cx="237" cy="547" r="5.4"/><circle cx="253" cy="535" r="5.4"/><circle cx="166" cy="599" r="5.4"/><circle cx="236" cy="547" r="5.4"/><circle cx="220" cy="559" r="5.4"/><circle cx="306" cy="496" r="5.4"/><circle cx="277" cy="517" r="5.4"/><circle cx="279" cy="516" r="5.4"/><circle cx="149" cy="611" r="5.4"/><circle cx="658" cy="237" r="5.4"/><circle cx="310" cy="493" r="5.4"/><circle cx="149" cy="611" r="5.4"/><circle cx="149" cy="611" r="5.4"/><circle cx="354" cy="461" r="5.4"/><circle cx="261" cy="529" r="5.4"/><circle cx="368" cy="450" r="5.4"/><circle cx="355" cy="460" r="5.4"/><circle cx="149" cy="611" r="5.4"/><circle cx="350" cy="463" r="5.4"/><circle cx="231" cy="551" r="5.4"/><circle cx="237" cy="547" r="5.4"/><circle cx="316" cy="489" r="5.4"/><circle cx="450" cy="390" r="5.4"/><circle cx="304" cy="498" r="5.4"/><circle cx="263" cy="527" r="5.4"/><circle cx="288" cy="509" r="5.4"/><circle cx="149" cy="611" r="5.4"/><circle cx="149" cy="611" r="5.4"/><circle cx="302" cy="499" r="5.4"/><circle cx="304" cy="497" r="5.4"/><circle cx="311" cy="492" r="5.4"/><circle cx="258" cy="531" r="5.4"/><circle cx="354" cy="461" r="5.4"/><circle cx="684" cy="218" r="5.4"/><circle cx="238" cy="546" r="5.4"/><circle cx="207" cy="569" r="5.4"/><circle cx="411" cy="418" r="5.4"/><circle cx="249" cy="537" r="5.4"/><circle cx="149" cy="611" r="5.4"/><circle cx="271" cy="522" r="5.4"/><circle cx="415" cy="416" r="5.4"/><circle cx="149" cy="611" r="5.4"/><circle cx="224" cy="556" r="5.4"/><circle cx="295" cy="504" r="5.4"/><circle cx="273" cy="520" r="5.4"/><circle cx="709" cy="199" r="5.4"/><circle cx="264" cy="526" r="5.4"/><circle cx="443" cy="395" r="5.4"/><circle cx="183" cy="586" r="5.4"/><circle cx="164" cy="600" r="5.4"/><circle cx="267" cy="524" r="5.4"/><circle cx="393" cy="432" r="5.4"/><circle cx="339" cy="472" r="5.4"/><circle cx="251" cy="537" r="5.4"/><circle cx="325" cy="482" r="5.4"/><circle cx="247" cy="539" r="5.4"/><circle cx="291" cy="507" r="5.4"/><circle cx="585" cy="290" r="5.4"/><circle cx="223" cy="557" r="5.4"/><circle cx="855" cy="92" r="5.4"/><circle cx="349" cy="464" r="5.4"/><circle cx="327" cy="481" r="5.4"/><circle cx="291" cy="507" r="5.4"/><circle cx="254" cy="534" r="5.4"/><circle cx="258" cy="531" r="5.4"/><circle cx="372" cy="447" r="5.4"/><circle cx="281" cy="514" r="5.4"/><circle cx="284" cy="512" r="5.4"/><circle cx="734" cy="181" r="5.4"/><circle cx="290" cy="507" r="5.4"/><circle cx="254" cy="534" r="5.4"/><circle cx="364" cy="453" r="5.4"/><circle cx="303" cy="498" r="5.4"/><circle cx="237" cy="546" r="5.4"/><circle cx="267" cy="525" r="5.4"/><circle cx="257" cy="532" r="5.4"/><circle cx="231" cy="551" r="5.4"/><circle cx="149" cy="611" r="5.4"/><circle cx="248" cy="539" r="5.4"/><circle cx="251" cy="536" r="5.4"/><circle cx="149" cy="611" r="5.4"/><circle cx="206" cy="569" r="5.4"/><circle cx="303" cy="498" r="5.4"/><circle cx="235" cy="548" r="5.4"/><circle cx="320" cy="486" r="5.4"/><circle cx="311" cy="492" r="5.4"/><circle cx="188" cy="583" r="5.4"/><circle cx="244" cy="541" r="5.4"/><circle cx="227" cy="554" r="5.4"/><circle cx="149" cy="611" r="5.4"/><circle cx="225" cy="556" r="5.4"/><circle cx="273" cy="520" r="5.4"/><circle cx="298" cy="502" r="5.4"/><circle cx="180" cy="588" r="5.4"/><circle cx="313" cy="491" r="5.4"/><circle cx="378" cy="443" r="5.4"/><circle cx="383" cy="439" r="5.4"/><circle cx="264" cy="527" r="5.4"/><circle cx="242" cy="543" r="5.4"/><circle cx="304" cy="498" r="5.4"/><circle cx="149" cy="611" r="5.4"/><circle cx="235" cy="548" r="5.4"/><circle cx="291" cy="507" r="5.4"/><circle cx="296" cy="503" r="5.4"/><circle cx="252" cy="535" r="5.4"/><circle cx="250" cy="537" r="5.4"/><circle cx="149" cy="611" r="5.4"/><circle cx="346" cy="466" r="5.4"/><circle cx="149" cy="611" r="5.4"/><circle cx="278" cy="516" r="5.4"/><circle cx="281" cy="514" r="5.4"/><circle cx="232" cy="550" r="5.4"/><circle cx="278" cy="517" r="5.4"/><circle cx="292" cy="506" r="5.4"/><circle cx="237" cy="547" r="5.4"/><circle cx="225" cy="556" r="5.4"/><circle cx="149" cy="611" r="5.4"/><circle cx="166" cy="599" r="5.4"/><circle cx="149" cy="611" r="5.4"/><circle cx="311" cy="492" r="5.4"/><circle cx="266" cy="525" r="5.4"/><circle cx="302" cy="499" r="5.4"/><circle cx="200" cy="574" r="5.4"/><circle cx="338" cy="473" r="5.4"/><circle cx="149" cy="611" r="5.4"/><circle cx="346" cy="466" r="5.4"/><circle cx="237" cy="546" r="5.4"/><circle cx="231" cy="551" r="5.4"/><circle cx="284" cy="512" r="5.4"/><circle cx="237" cy="547" r="5.4"/><circle cx="382" cy="440" r="5.4"/><circle cx="149" cy="611" r="5.4"/><circle cx="299" cy="501" r="5.4"/><circle cx="347" cy="465" r="5.4"/><circle cx="321" cy="485" r="5.4"/><circle cx="362" cy="455" r="5.4"/><circle cx="237" cy="547" r="5.4"/><circle cx="296" cy="503" r="5.4"/><circle cx="229" cy="553" r="5.4"/><circle cx="336" cy="474" r="5.4"/><circle cx="240" cy="544" r="5.4"/><circle cx="274" cy="519" r="5.4"/><circle cx="282" cy="514" r="5.4"/><circle cx="286" cy="510" r="5.4"/><circle cx="239" cy="545" r="5.4"/><circle cx="524" cy="335" r="5.4"/><circle cx="230" cy="552" r="5.4"/><circle cx="239" cy="545" r="5.4"/><circle cx="255" cy="533" r="5.4"/><circle cx="149" cy="611" r="5.4"/><circle cx="404" cy="423" r="5.4"/><circle cx="368" cy="450" r="5.4"/><circle cx="197" cy="576" r="5.4"/><circle cx="210" cy="566" r="5.4"/><circle cx="232" cy="550" r="5.4"/><circle cx="283" cy="512" r="5.4"/><circle cx="269" cy="523" r="5.4"/><circle cx="275" cy="518" r="5.4"/><circle cx="325" cy="482" r="5.4"/><circle cx="226" cy="554" r="5.4"/><circle cx="211" cy="566" r="5.4"/><circle cx="193" cy="579" r="5.4"/><circle cx="328" cy="480" r="5.4"/><circle cx="311" cy="492" r="5.4"/><circle cx="218" cy="561" r="5.4"/><circle cx="214" cy="563" r="5.4"/><circle cx="317" cy="488" r="5.4"/><circle cx="254" cy="534" r="5.4"/><circle cx="192" cy="580" r="5.4"/><circle cx="269" cy="523" r="5.4"/><circle cx="262" cy="528" r="5.4"/><circle cx="320" cy="485" r="5.4"/><circle cx="388" cy="436" r="5.4"/><circle cx="249" cy="538" r="5.4"/><circle cx="282" cy="514" r="5.4"/><circle cx="238" cy="546" r="5.4"/><circle cx="320" cy="485" r="5.4"/><circle cx="149" cy="611" r="5.4"/><circle cx="313" cy="490" r="5.4"/><circle cx="209" cy="567" r="5.4"/><circle cx="312" cy="492" r="5.4"/><circle cx="242" cy="543" r="5.4"/><circle cx="203" cy="572" r="5.4"/><circle cx="209" cy="567" r="5.4"/><circle cx="200" cy="573" r="5.4"/><circle cx="283" cy="513" r="5.4"/><circle cx="419" cy="413" r="5.4"/><circle cx="397" cy="429" r="5.4"/><circle cx="149" cy="611" r="5.4"/><circle cx="240" cy="545" r="5.4"/><circle cx="343" cy="468" r="5.4"/><circle cx="241" cy="544" r="5.4"/><circle cx="373" cy="446" r="5.4"/><circle cx="223" cy="557" r="5.4"/><circle cx="204" cy="571" r="5.4"/><circle cx="372" cy="447" r="5.4"/><circle cx="297" cy="502" r="5.4"/><circle cx="200" cy="574" r="5.4"/><circle cx="332" cy="476" r="5.4"/><circle cx="149" cy="611" r="5.4"/><circle cx="337" cy="473" r="5.4"/><circle cx="389" cy="435" r="5.4"/><circle cx="356" cy="459" r="5.4"/><circle cx="306" cy="496" r="5.4"/><circle cx="716" cy="195" r="5.4"/><circle cx="311" cy="492" r="5.4"/><circle cx="253" cy="535" r="5.4"/><circle cx="149" cy="611" r="5.4"/><circle cx="618" cy="266" r="5.4"/><circle cx="304" cy="497" r="5.4"/><circle cx="315" cy="489" r="5.4"/><circle cx="219" cy="560" r="5.4"/><circle cx="304" cy="498" r="5.4"/><circle cx="375" cy="445" r="5.4"/><circle cx="369" cy="450" r="5.4"/><circle cx="241" cy="544" r="5.4"/><circle cx="327" cy="480" r="5.4"/><circle cx="435" cy="401" r="5.4"/><circle cx="296" cy="503" r="5.4"/><circle cx="323" cy="483" r="5.4"/><circle cx="275" cy="519" r="5.4"/><circle cx="232" cy="550" r="5.4"/><circle cx="341" cy="470" r="5.4"/><circle cx="256" cy="533" r="5.4"/><circle cx="778" cy="149" r="5.4"/><circle cx="371" cy="448" r="5.4"/><circle cx="375" cy="445" r="5.4"/><circle cx="231" cy="551" r="5.4"/><circle cx="463" cy="380" r="5.4"/><circle cx="149" cy="611" r="5.4"/><circle cx="149" cy="611" r="5.4"/><circle cx="165" cy="599" r="5.4"/><circle cx="201" cy="573" r="5.4"/><circle cx="149" cy="611" r="5.4"/><circle cx="233" cy="549" r="5.4"/><circle cx="202" cy="572" r="5.4"/><circle cx="392" cy="433" r="5.4"/><circle cx="275" cy="519" r="5.4"/><circle cx="238" cy="546" r="5.4"/><circle cx="149" cy="611" r="5.4"/><circle cx="300" cy="500" r="5.4"/><circle cx="227" cy="554" r="5.4"/><circle cx="319" cy="486" r="5.4"/><circle cx="265" cy="526" r="5.4"/><circle cx="243" cy="542" r="5.4"/><circle cx="149" cy="611" r="5.4"/><circle cx="211" cy="566" r="5.4"/><circle cx="263" cy="527" r="5.4"/><circle cx="225" cy="555" r="5.4"/><circle cx="187" cy="583" r="5.4"/><circle cx="218" cy="560" r="5.4"/><circle cx="248" cy="539" r="5.4"/><circle cx="237" cy="547" r="5.4"/><circle cx="149" cy="611" r="5.4"/><circle cx="311" cy="492" r="5.4"/><circle cx="289" cy="508" r="5.4"/><circle cx="331" cy="478" r="5.4"/><circle cx="351" cy="463" r="5.4"/><circle cx="225" cy="555" r="5.4"/><circle cx="301" cy="500" r="5.4"/><circle cx="149" cy="611" r="5.4"/><circle cx="242" cy="543" r="5.4"/><circle cx="149" cy="611" r="5.4"/><circle cx="417" cy="414" r="5.4"/><circle cx="270" cy="522" r="5.4"/><circle cx="649" cy="244" r="5.4"/><circle cx="228" cy="553" r="5.4"/><circle cx="252" cy="536" r="5.4"/><circle cx="286" cy="511" r="5.4"/><circle cx="157" cy="605" r="5.4"/><circle cx="292" cy="506" r="5.4"/><circle cx="149" cy="611" r="5.4"/><circle cx="312" cy="492" r="5.4"/><circle cx="214" cy="563" r="5.4"/><circle cx="149" cy="611" r="5.4"/><circle cx="335" cy="474" r="5.4"/><circle cx="650" cy="243" r="5.4"/><circle cx="236" cy="548" r="5.4"/><circle cx="335" cy="474" r="5.4"/><circle cx="149" cy="611" r="5.4"/><circle cx="313" cy="491" r="5.4"/><circle cx="306" cy="496" r="5.4"/><circle cx="342" cy="469" r="5.4"/><circle cx="201" cy="573" r="5.4"/><circle cx="246" cy="540" r="5.4"/><circle cx="230" cy="552" r="5.4"/><circle cx="240" cy="544" r="5.4"/><circle cx="237" cy="547" r="5.4"/><circle cx="246" cy="540" r="5.4"/><circle cx="149" cy="611" r="5.4"/><circle cx="273" cy="520" r="5.4"/><circle cx="365" cy="452" r="5.4"/><circle cx="167" cy="598" r="5.4"/><circle cx="400" cy="427" r="5.4"/><circle cx="401" cy="426" r="5.4"/><circle cx="403" cy="424" r="5.4"/><circle cx="401" cy="426" r="5.4"/><circle cx="409" cy="420" r="5.4"/><circle cx="402" cy="426" r="5.4"/><circle cx="413" cy="417" r="5.4"/><circle cx="411" cy="418" r="5.4"/><circle cx="401" cy="426" r="5.4"/><circle cx="415" cy="416" r="5.4"/><circle cx="417" cy="414" r="5.4"/><circle cx="408" cy="420" r="5.4"/><circle cx="413" cy="417" r="5.4"/><circle cx="401" cy="426" r="5.4"/><circle cx="408" cy="421" r="5.4"/><circle cx="415" cy="416" r="5.4"/><circle cx="415" cy="416" r="5.4"/><circle cx="419" cy="413" r="5.4"/><circle cx="410" cy="419" r="5.4"/><circle cx="403" cy="424" r="5.4"/><circle cx="408" cy="421" r="5.4"/><circle cx="406" cy="422" r="5.4"/><circle cx="404" cy="424" r="5.4"/><circle cx="419" cy="412" r="5.4"/><circle cx="416" cy="415" r="5.4"/><circle cx="404" cy="424" r="5.4"/><circle cx="418" cy="413" r="5.4"/><circle cx="419" cy="413" r="5.4"/><circle cx="406" cy="422" r="5.4"/><circle cx="409" cy="420" r="5.4"/><circle cx="406" cy="422" r="5.4"/><circle cx="408" cy="421" r="5.4"/><circle cx="414" cy="416" r="5.4"/><circle cx="413" cy="417" r="5.4"/><circle cx="410" cy="420" r="5.4"/><circle cx="402" cy="425" r="5.4"/><circle cx="414" cy="416" r="5.4"/><circle cx="401" cy="426" r="5.4"/><circle cx="409" cy="420" r="5.4"/><circle cx="413" cy="417" r="5.4"/><circle cx="404" cy="424" r="5.4"/><circle cx="407" cy="421" r="5.4"/><circle cx="404" cy="424" r="5.4"/><circle cx="402" cy="425" r="5.4"/><circle cx="404" cy="424" r="5.4"/><circle cx="412" cy="418" r="5.4"/><circle cx="410" cy="419" r="5.4"/><circle cx="409" cy="420" r="5.4"/><circle cx="416" cy="415" r="5.4"/><circle cx="404" cy="423" r="5.4"/><circle cx="415" cy="416" r="5.4"/><circle cx="413" cy="417" r="5.4"/><circle cx="407" cy="422" r="5.4"/><circle cx="408" cy="421" r="5.4"/><circle cx="402" cy="425" r="5.4"/><circle cx="419" cy="413" r="5.4"/><circle cx="416" cy="415" r="5.4"/><circle cx="408" cy="421" r="5.4"/><circle cx="412" cy="418" r="5.4"/><circle cx="414" cy="416" r="5.4"/><circle cx="418" cy="414" r="5.4"/><circle cx="411" cy="418" r="5.4"/><circle cx="405" cy="423" r="5.4"/><circle cx="399" cy="427" r="5.4"/><circle cx="415" cy="416" r="5.4"/><circle cx="414" cy="416" r="5.4"/><circle cx="413" cy="417" r="5.4"/><circle cx="404" cy="423" r="5.4"/><circle cx="415" cy="415" r="5.4"/><circle cx="417" cy="414" r="5.4"/><circle cx="405" cy="423" r="5.4"/><circle cx="405" cy="423" r="5.4"/><circle cx="401" cy="426" r="5.4"/><circle cx="404" cy="423" r="5.4"/><circle cx="406" cy="422" r="5.4"/><circle cx="411" cy="418" r="5.4"/><circle cx="415" cy="416" r="5.4"/><circle cx="409" cy="420" r="5.4"/><circle cx="419" cy="413" r="5.4"/><circle cx="400" cy="426" r="5.4"/><circle cx="407" cy="421" r="5.4"/><circle cx="403" cy="425" r="5.4"/><circle cx="404" cy="424" r="5.4"/><circle cx="408" cy="421" r="5.4"/><circle cx="410" cy="419" r="5.4"/><circle cx="399" cy="427" r="5.4"/><circle cx="422" cy="410" r="5.4"/><circle cx="422" cy="411" r="5.4"/><circle cx="431" cy="404" r="5.4"/><circle cx="442" cy="396" r="5.4"/><circle cx="420" cy="412" r="5.4"/><circle cx="420" cy="412" r="5.4"/><circle cx="439" cy="398" r="5.4"/><circle cx="427" cy="407" r="5.4"/><circle cx="432" cy="403" r="5.4"/><circle cx="438" cy="399" r="5.4"/><circle cx="426" cy="408" r="5.4"/><circle cx="443" cy="395" r="5.4"/><circle cx="429" cy="406" r="5.4"/><circle cx="431" cy="404" r="5.4"/><circle cx="443" cy="395" r="5.4"/><circle cx="433" cy="403" r="5.4"/><circle cx="424" cy="409" r="5.4"/><circle cx="426" cy="408" r="5.4"/><circle cx="440" cy="397" r="5.4"/><circle cx="429" cy="406" r="5.4"/><circle cx="428" cy="406" r="5.4"/><circle cx="420" cy="412" r="5.4"/><circle cx="420" cy="412" r="5.4"/><circle cx="423" cy="410" r="5.4"/><circle cx="426" cy="407" r="5.4"/><circle cx="443" cy="395" r="5.4"/><circle cx="432" cy="403" r="5.4"/><circle cx="420" cy="412" r="5.4"/><circle cx="432" cy="403" r="5.4"/><circle cx="427" cy="407" r="5.4"/><circle cx="441" cy="397" r="5.4"/><circle cx="443" cy="395" r="5.4"/><circle cx="433" cy="403" r="5.4"/><circle cx="438" cy="399" r="5.4"/><circle cx="428" cy="406" r="5.4"/><circle cx="424" cy="409" r="5.4"/><circle cx="435" cy="401" r="5.4"/><circle cx="421" cy="411" r="5.4"/><circle cx="432" cy="403" r="5.4"/><circle cx="439" cy="398" r="5.4"/><circle cx="424" cy="409" r="5.4"/><circle cx="437" cy="399" r="5.4"/><circle cx="425" cy="408" r="5.4"/><circle cx="437" cy="400" r="5.4"/><circle cx="425" cy="409" r="5.4"/><circle cx="430" cy="404" r="5.4"/><circle cx="429" cy="406" r="5.4"/><circle cx="421" cy="411" r="5.4"/><circle cx="435" cy="401" r="5.4"/><circle cx="421" cy="411" r="5.4"/><circle cx="435" cy="401" r="5.4"/><circle cx="431" cy="404" r="5.4"/><circle cx="440" cy="397" r="5.4"/><circle cx="430" cy="404" r="5.4"/><circle cx="421" cy="411" r="5.4"/><circle cx="428" cy="406" r="5.4"/><circle cx="436" cy="400" r="5.4"/><circle cx="446" cy="393" r="5.4"/><circle cx="448" cy="391" r="5.4"/><circle cx="446" cy="393" r="5.4"/><circle cx="463" cy="380" r="5.4"/><circle cx="450" cy="390" r="5.4"/><circle cx="447" cy="392" r="5.4"/><circle cx="460" cy="383" r="5.4"/><circle cx="450" cy="390" r="5.4"/><circle cx="458" cy="384" r="5.4"/><circle cx="463" cy="380" r="5.4"/><circle cx="459" cy="383" r="5.4"/><circle cx="464" cy="380" r="5.4"/><circle cx="450" cy="390" r="5.4"/><circle cx="462" cy="381" r="5.4"/><circle cx="459" cy="384" r="5.4"/><circle cx="454" cy="387" r="5.4"/><circle cx="460" cy="383" r="5.4"/><circle cx="459" cy="383" r="5.4"/><circle cx="447" cy="392" r="5.4"/><circle cx="450" cy="390" r="5.4"/><circle cx="457" cy="385" r="5.4"/><circle cx="449" cy="391" r="5.4"/><circle cx="455" cy="386" r="5.4"/><circle cx="453" cy="388" r="5.4"/><circle cx="457" cy="385" r="5.4"/><circle cx="448" cy="391" r="5.4"/><circle cx="459" cy="383" r="5.4"/><circle cx="462" cy="381" r="5.4"/><circle cx="456" cy="386" r="5.4"/><circle cx="452" cy="389" r="5.4"/><circle cx="449" cy="391" r="5.4"/><circle cx="465" cy="379" r="5.4"/><circle cx="467" cy="377" r="5.4"/><circle cx="463" cy="380" r="5.4"/><circle cx="452" cy="389" r="5.4"/><circle cx="464" cy="380" r="5.4"/><circle cx="478" cy="369" r="5.4"/><circle cx="474" cy="372" r="5.4"/><circle cx="479" cy="368" r="5.4"/><circle cx="469" cy="376" r="5.4"/><circle cx="471" cy="375" r="5.4"/><circle cx="482" cy="366" r="5.4"/><circle cx="491" cy="359" r="5.4"/><circle cx="492" cy="359" r="5.4"/><circle cx="485" cy="364" r="5.4"/><circle cx="475" cy="371" r="5.4"/><circle cx="468" cy="376" r="5.4"/><circle cx="489" cy="362" r="5.4"/><circle cx="469" cy="376" r="5.4"/><circle cx="487" cy="363" r="5.4"/><circle cx="487" cy="363" r="5.4"/><circle cx="471" cy="375" r="5.4"/><circle cx="511" cy="345" r="5.4"/><circle cx="506" cy="349" r="5.4"/><circle cx="500" cy="353" r="5.4"/><circle cx="513" cy="344" r="5.4"/><circle cx="499" cy="354" r="5.4"/><circle cx="509" cy="347" r="5.4"/><circle cx="496" cy="356" r="5.4"/><circle cx="515" cy="342" r="5.4"/><circle cx="511" cy="345" r="5.4"/><circle cx="504" cy="350" r="5.4"/><circle cx="496" cy="356" r="5.4"/><circle cx="517" cy="340" r="5.4"/><circle cx="505" cy="350" r="5.4"/><circle cx="540" cy="324" r="5.4"/><circle cx="542" cy="323" r="5.4"/><circle cx="532" cy="330" r="5.4"/><circle cx="528" cy="332" r="5.4"/><circle cx="524" cy="335" r="5.4"/><circle cx="529" cy="332" r="5.4"/><circle cx="528" cy="333" r="5.4"/><circle cx="521" cy="338" r="5.4"/><circle cx="522" cy="337" r="5.4"/><circle cx="538" cy="325" r="5.4"/><circle cx="564" cy="306" r="5.4"/><circle cx="554" cy="314" r="5.4"/><circle cx="566" cy="304" r="5.4"/><circle cx="557" cy="311" r="5.4"/><circle cx="549" cy="317" r="5.4"/><circle cx="560" cy="309" r="5.4"/><circle cx="584" cy="292" r="5.4"/><circle cx="585" cy="290" r="5.4"/><circle cx="591" cy="286" r="5.4"/><circle cx="574" cy="299" r="5.4"/><circle cx="571" cy="301" r="5.4"/><circle cx="605" cy="276" r="5.4"/><circle cx="599" cy="280" r="5.4"/><circle cx="606" cy="275" r="5.4"/><circle cx="611" cy="271" r="5.4"/><circle cx="622" cy="263" r="5.4"/><circle cx="630" cy="257" r="5.4"/><circle cx="637" cy="253" r="5.4"/><circle cx="635" cy="253" r="5.4"/><circle cx="618" cy="266" r="5.4"/><circle cx="648" cy="244" r="5.4"/><circle cx="650" cy="243" r="5.4"/><circle cx="655" cy="239" r="5.4"/><circle cx="651" cy="242" r="5.4"/><circle cx="649" cy="244" r="5.4"/><circle cx="650" cy="243" r="5.4"/><circle cx="656" cy="239" r="5.4"/><circle cx="642" cy="249" r="5.4"/><circle cx="651" cy="242" r="5.4"/><circle cx="663" cy="233" r="5.4"/><circle cx="655" cy="239" r="5.4"/><circle cx="658" cy="237" r="5.4"/><circle cx="684" cy="218" r="5.4"/><circle cx="687" cy="216" r="5.4"/><circle cx="667" cy="231" r="5.4"/><circle cx="666" cy="231" r="5.4"/><circle cx="669" cy="229" r="5.4"/><circle cx="672" cy="226" r="5.4"/><circle cx="666" cy="231" r="5.4"/><circle cx="680" cy="221" r="5.4"/><circle cx="684" cy="218" r="5.4"/><circle cx="708" cy="200" r="5.4"/><circle cx="701" cy="206" r="5.4"/><circle cx="700" cy="206" r="5.4"/><circle cx="696" cy="209" r="5.4"/><circle cx="713" cy="197" r="5.4"/><circle cx="709" cy="199" r="5.4"/><circle cx="709" cy="199" r="5.4"/><circle cx="726" cy="187" r="5.4"/><circle cx="716" cy="195" r="5.4"/><circle cx="716" cy="194" r="5.4"/><circle cx="716" cy="194" r="5.4"/><circle cx="737" cy="179" r="5.4"/><circle cx="716" cy="194" r="5.4"/><circle cx="727" cy="186" r="5.4"/><circle cx="731" cy="183" r="5.4"/><circle cx="734" cy="181" r="5.4"/><circle cx="751" cy="168" r="5.4"/><circle cx="754" cy="166" r="5.4"/><circle cx="748" cy="171" r="5.4"/><circle cx="759" cy="163" r="5.4"/><circle cx="741" cy="176" r="5.4"/><circle cx="767" cy="157" r="5.4"/><circle cx="771" cy="154" r="5.4"/><circle cx="778" cy="149" r="5.4"/><circle cx="771" cy="154" r="5.4"/><circle cx="789" cy="140" r="5.4"/><circle cx="809" cy="126" r="5.4"/><circle cx="790" cy="140" r="5.4"/><circle cx="818" cy="119" r="5.4"/><circle cx="835" cy="107" r="5.4"/><circle cx="855" cy="92" r="5.4"/><circle cx="852" cy="94" r="5.4"/><circle cx="879" cy="75" r="5.4"/><circle cx="885" cy="70" r="5.4"/><circle cx="737" cy="179" r="5.4"/><circle cx="558" cy="310" r="5.4"/><circle cx="568" cy="303" r="5.4"/><circle cx="878" cy="75" r="5.4"/><circle cx="538" cy="325" r="5.4"/><circle cx="767" cy="157" r="5.4"/><circle cx="568" cy="303" r="5.4"/><circle cx="875" cy="77" r="5.4"/><circle cx="623" cy="263" r="5.4"/><circle cx="852" cy="95" r="5.4"/><circle cx="671" cy="227" r="5.4"/><circle cx="628" cy="259" r="5.4"/><circle cx="567" cy="304" r="5.4"/><circle cx="531" cy="330" r="5.4"/><circle cx="835" cy="107" r="5.4"/><circle cx="549" cy="317" r="5.4"/><circle cx="832" cy="109" r="5.4"/><circle cx="829" cy="111" r="5.4"/><circle cx="645" cy="246" r="5.4"/><circle cx="469" cy="376" r="5.4"/><circle cx="782" cy="146" r="5.4"/><circle cx="795" cy="136" r="5.4"/><circle cx="580" cy="294" r="5.4"/><circle cx="878" cy="75" r="5.4"/><circle cx="756" cy="165" r="5.4"/><circle cx="760" cy="162" r="5.4"/><circle cx="698" cy="207" r="5.4"/><circle cx="613" cy="270" r="5.4"/><circle cx="472" cy="374" r="5.4"/><circle cx="606" cy="275" r="5.4"/><circle cx="849" cy="96" r="5.4"/><circle cx="765" cy="158" r="5.4"/><circle cx="625" cy="261" r="5.4"/><circle cx="882" cy="72" r="5.4"/><circle cx="787" cy="142" r="5.4"/><circle cx="544" cy="321" r="5.4"/><circle cx="468" cy="377" r="5.4"/><circle cx="706" cy="202" r="5.4"/><circle cx="575" cy="298" r="5.4"/><circle cx="669" cy="229" r="5.4"/><circle cx="528" cy="332" r="5.4"/><circle cx="531" cy="330" r="5.4"/><circle cx="537" cy="326" r="5.4"/><circle cx="701" cy="205" r="5.4"/><circle cx="489" cy="361" r="5.4"/><circle cx="766" cy="158" r="5.4"/><circle cx="727" cy="186" r="5.4"/><circle cx="760" cy="162" r="5.4"/><circle cx="778" cy="148" r="5.4"/><circle cx="639" cy="251" r="5.4"/><circle cx="784" cy="144" r="5.4"/><circle cx="644" cy="247" r="5.4"/><circle cx="486" cy="364" r="5.4"/><circle cx="546" cy="319" r="5.4"/><circle cx="519" cy="339" r="5.4"/><circle cx="627" cy="260" r="5.4"/><circle cx="576" cy="297" r="5.4"/><circle cx="876" cy="77" r="5.4"/><circle cx="695" cy="210" r="5.4"/><circle cx="470" cy="375" r="5.4"/><circle cx="839" cy="104" r="5.4"/><circle cx="553" cy="314" r="5.4"/><circle cx="546" cy="319" r="5.4"/><circle cx="594" cy="284" r="5.4"/><circle cx="468" cy="377" r="5.4"/><circle cx="865" cy="85" r="5.4"/><circle cx="746" cy="172" r="5.4"/><circle cx="584" cy="292" r="5.4"/><circle cx="630" cy="257" r="5.4"/><circle cx="531" cy="330" r="5.4"/><circle cx="645" cy="247" r="5.4"/><circle cx="545" cy="320" r="5.4"/><circle cx="880" cy="73" r="5.4"/><circle cx="708" cy="200" r="5.4"/><circle cx="628" cy="259" r="5.4"/><circle cx="672" cy="227" r="5.4"/><circle cx="481" cy="367" r="5.4"/><circle cx="788" cy="141" r="5.4"/><circle cx="846" cy="99" r="5.4"/><circle cx="805" cy="129" r="5.4"/><circle cx="627" cy="259" r="5.4"/><circle cx="774" cy="152" r="5.4"/><circle cx="607" cy="275" r="5.4"/><circle cx="521" cy="337" r="5.4"/><circle cx="762" cy="160" r="5.4"/><circle cx="802" cy="131" r="5.4"/><circle cx="800" cy="133" r="5.4"/><circle cx="783" cy="145" r="5.4"/><circle cx="549" cy="317" r="5.4"/><circle cx="601" cy="279" r="5.4"/><circle cx="767" cy="156" r="5.4"/><circle cx="566" cy="305" r="5.4"/><circle cx="838" cy="105" r="5.4"/><circle cx="548" cy="318" r="5.4"/><circle cx="683" cy="219" r="5.4"/><circle cx="748" cy="170" r="5.4"/><circle cx="818" cy="119" r="5.4"/><circle cx="692" cy="212" r="5.4"/><circle cx="476" cy="371" r="5.4"/><circle cx="613" cy="270" r="5.4"/><circle cx="635" cy="254" r="5.4"/><circle cx="635" cy="254" r="5.4"/><circle cx="643" cy="248" r="5.4"/><circle cx="767" cy="157" r="5.4"/><circle cx="858" cy="90" r="5.4"/><circle cx="634" cy="255" r="5.4"/><circle cx="518" cy="340" r="5.4"/><circle cx="706" cy="201" r="5.4"/><circle cx="495" cy="356" r="5.4"/><circle cx="508" cy="347" r="5.4"/><circle cx="149" cy="611" r="5.4"/><circle cx="885" cy="70" r="5.4"/></g><g id="f2patch_3"><path d="M112.4 637.4L112.4 41.5" style="fill: none; stroke: #000000; stroke-width: 2.5; stroke-linejoin: miter; stroke-linecap: square"/></g><g id="f2patch_4"><path d="M112.4 637.4L921.8 637.4" style="fill: none; stroke: #000000; stroke-width: 2.5; stroke-linejoin: miter; stroke-linecap: square"/></g><g id="f2line2d_25"><path d="M149.2 610.5L884.6 68.7" clip-path="url(#f2p62b5322a06)" style="fill: none; stroke: #0072b2; stroke-width: 4.8"/></g><g id="f2text_15"><text style="font-size: 33.5px; font-family:'Liberation Serif',serif; text-anchor: middle" x="517.1" y="23">SHAP dependence — trade_exposure</text></g><g id="f2patch_5"><path d="M687.2 637.4L918.2 637.4L918.2 593.4L687.2 593.4 z" style="fill: #ffffff; opacity: 0.8"/></g><g id="f2text_16"><text style="font-size: 24.3px; font-family:'Liberation Serif',serif; text-anchor: end" x="907.1" y="620.6">mean|SHAP| = 0.279</text></g></g><g id="f2axes_2"><g id="f2patch_6"><path d="M1025.4 637.4L1633 637.4L1633 41.5L1025.4 41.5 z" style="fill: #ffffff"/></g><g id="f2line2d_26"><path d="M1631.3 637.4L1631.3 41.5" clip-path="url(#f2p2107c1c6ee)" style="fill: none; stroke-dasharray: 1.6,3.2; stroke-dashoffset: 0; stroke: #bbbbbb; stroke-width: 1.6"/></g><g id="f2matplotlib.axis_3"><g id="f2xtick_6"><g id="f2line2d_27"><use href="#f2m0fcd28e0e3" x="1025.4" y="637.4" style="stroke: #000000; stroke-width: 2.5"/></g><g id="f2text_17"><text style="font-size: 28px; font-family:'Liberation Serif',serif; text-anchor: middle" x="1025.4" y="677.83">0</text></g></g><g id="f2xtick_7"><g id="f2line2d_28"><use href="#f2m0fcd28e0e3" x="1198.21" y="637.4" style="stroke: #000000; stroke-width: 2.5"/></g><g id="f2text_18"><text style="font-size: 28px; font-family:'Liberation Serif',serif; text-anchor: middle" x="1198.21" y="677.83">100</text></g></g><g id="f2xtick_8"><g id="f2line2d_29"><use href="#f2m0fcd28e0e3" x="1371.02" y="637.4" style="stroke: #000000; stroke-width: 2.5"/></g><g id="f2text_19"><text style="font-size: 28px; font-family:'Liberation Serif',serif; text-anchor: middle" x="1371.02" y="677.83">200</text></g></g><g id="f2xtick_9"><g id="f2line2d_30"><use href="#f2m0fcd28e0e3" x="1543.83" y="637.4" style="stroke: #000000; stroke-width: 2.5"/></g><g id="f2text_20"><text style="font-size: 28px; font-family:'Liberation Serif',serif; text-anchor: middle" x="1543.83" y="677.83">300</text></g></g></g><g id="f2matplotlib.axis_4"><g id="f2ytick_8"><g id="f2line2d_31"><use href="#f2m0ad91094f4" x="1025.4" y="637.4" style="stroke: #000000; stroke-width: 2.5"/></g><g id="f2text_21"><text style="font-size: 28px; font-family:'Liberation Serif',serif; text-anchor: end" x="1003.4" y="647.11">0</text></g></g><g id="f2ytick_9"><g id="f2line2d_32"><use href="#f2m0ad91094f4" x="1025.4" y="525.81" style="stroke: #000000; stroke-width: 2.5"/></g><g id="f2text_22"><text style="font-size: 28px; font-family:'Liberation Serif',serif; text-anchor: end" x="1003.4" y="535.52">100</text></g></g><g id="f2ytick_10"><g id="f2line2d_33"><use href="#f2m0ad91094f4" x="1025.4" y="414.22" style="stroke: #000000; stroke-width: 2.5"/></g><g id="f2text_23"><text style="font-size: 28px; font-family:'Liberation Serif',serif; text-anchor: end" x="1003.4" y="423.93">200</text></g></g><g id="f2ytick_11"><g id="f2line2d_34"><use href="#f2m0ad91094f4" x="1025.4" y="302.62" style="stroke: #000000; stroke-width: 2.5"/></g><g id="f2text_24"><text style="font-size: 28px; font-family:'Liberation Serif',serif; text-anchor: end" x="1003.4" y="312.34">300</text></g></g><g id="f2ytick_12"><g id="f2line2d_35"><use href="#f2m0ad91094f4" x="1025.4" y="191.03" style="stroke: #000000; stroke-width: 2.5"/></g><g id="f2text_25"><text style="font-size: 28px; font-family:'Liberation Serif',serif; text-anchor: end" x="1003.4" y="200.75">400</text></g></g><g id="f2ytick_13"><g id="f2line2d_36"><use href="#f2m0ad91094f4" x="1025.4" y="79.44" style="stroke: #000000; stroke-width: 2.5"/></g><g id="f2text_26"><text style="font-size: 28px; font-family:'Liberation Serif',serif; text-anchor: end" x="1003.4" y="89.16">500</text></g></g></g><g id="f2patch_7"><path d="M1025.4 637.4L1050.9 637.4L1050.9 252.9L1025.4 252.9 z" clip-path="url(#f2p2107c1c6ee)" style="fill: #d3d3d3; stroke: #3d3d3d; stroke-width: 2.5; stroke-linejoin: miter"/></g><g id="f2patch_8"><path d="M1050.9 637.4L1076.5 637.4L1076.5 533.6L1050.9 533.6 z" clip-path="url(#f2p2107c1c6ee)" style="fill: #d3d3d3; stroke: #3d3d3d; stroke-width: 2.5; stroke-linejoin: miter"/></g><g id="f2patch_9"><path d="M1076.5 637.4L1102 637.4L1102 312.1L1076.5 312.1 z" clip-path="url(#f2p2107c1c6ee)" style="fill: #d3d3d3; stroke: #3d3d3d; stroke-width: 2.5; stroke-linejoin: miter"/></g><g id="f2patch_10"><path d="M1102 637.4L1127.6 637.4L1127.6 69.6L1102 69.6 z" clip-path="url(#f2p2107c1c6ee)" style="fill: #d3d3d3; stroke: #3d3d3d; stroke-width: 2.5; stroke-linejoin: miter"/></g><g id="f2patch_11"><path d="M1127.6 637.4L1153.1 637.4L1153.1 116.4L1127.6 116.4 z" clip-path="url(#f2p2107c1c6ee)" style="fill: #d3d3d3; stroke: #3d3d3d; stroke-width: 2.5; stroke-linejoin: miter"/></g><g id="f2patch_12"><path d="M1153.1 637.4L1178.6 637.4L1178.6 129.8L1153.1 129.8 z" clip-path="url(#f2p2107c1c6ee)" style="fill: #d3d3d3; stroke: #3d3d3d; stroke-width: 2.5; stroke-linejoin: miter"/></g><g id="f2patch_13"><path d="M1178.6 637.4L1204.2 637.4L1204.2 247.1L1178.6 247.1 z" clip-path="url(#f2p2107c1c6ee)" style="fill: #d3d3d3; stroke: #3d3d3d; stroke-width: 2.5; stroke-linejoin: miter"/></g><g id="f2patch_14"><path d="M1204.2 637.4L1229.7 637.4L1229.7 358.4L1204.2 358.4 z" clip-path="url(#f2p2107c1c6ee)" style="fill: #d3d3d3; stroke: #3d3d3d; stroke-width: 2.5; stroke-linejoin: miter"/></g><g id="f2patch_15"><path d="M1229.7 637.4L1255.3 637.4L1255.3 445.8L1229.7 445.8 z" clip-path="url(#f2p2107c1c6ee)" style="fill: #d3d3d3; stroke: #3d3d3d; stroke-width: 2.5; stroke-linejoin: miter"/></g><g id="f2patch_16"><path d="M1255.3 637.4L1280.8 637.4L1280.8 459.2L1255.3 459.2 z" clip-path="url(#f2p2107c1c6ee)" style="fill: #d3d3d3; stroke: #3d3d3d; stroke-width: 2.5; stroke-linejoin: miter"/></g><g id="f2patch_17"><path d="M1280.8 637.4L1306.4 637.4L1306.4 526L1280.8 526 z" clip-path="url(#f2p2107c1c6ee)" style="fill: #d3d3d3; stroke: #3d3d3d; stroke-width: 2.5; stroke-linejoin: miter"/></g><g id="f2patch_18"><path d="M1306.4 637.4L1331.9 637.4L1331.9 574.1L1306.4 574.1 z" clip-path="url(#f2p2107c1c6ee)" style="fill: #d3d3d3; stroke: #3d3d3d; stroke-width: 2.5; stroke-linejoin: miter"/></g><g id="f2patch_19"><path d="M1331.9 637.4L1357.4 637.4L1357.4 597.3L1331.9 597.3 z" clip-path="url(#f2p2107c1c6ee)" style="fill: #d3d3d3; stroke: #3d3d3d; stroke-width: 2.5; stroke-linejoin: miter"/></g><g id="f2patch_20"><path d="M1357.4 637.4L1383 637.4L1383 619.5L1357.4 619.5 z" clip-path="url(#f2p2107c1c6ee)" style="fill: #d3d3d3; stroke: #3d3d3d; stroke-width: 2.5; stroke-linejoin: miter"/></g><g id="f2patch_21"><path d="M1383 637.4L1408.5 637.4L1408.5 623.1L1383 623.1 z" clip-path="url(#f2p2107c1c6ee)" style="fill: #d3d3d3; stroke: #3d3d3d; stroke-width: 2.5; stroke-linejoin: miter"/></g><g id="f2patch_22"><path d="M1408.5 637.4L1434.1 637.4L1434.1 626.2L1408.5 626.2 z" clip-path="url(#f2p2107c1c6ee)" style="fill: #d3d3d3; stroke: #3d3d3d; stroke-width: 2.5; stroke-linejoin: miter"/></g><g id="f2patch_23"><path d="M1434.1 637.4L1459.6 637.4L1459.6 630.3L1434.1 630.3 z" clip-path="url(#f2p2107c1c6ee)" style="fill: #d3d3d3; stroke: #3d3d3d; stroke-width: 2.5; stroke-linejoin: miter"/></g><g id="f2patch_24"><path d="M1459.6 637.4L1485.1 637.4L1485.1 632L1459.6 632 z" clip-path="url(#f2p2107c1c6ee)" style="fill: #d3d3d3; stroke: #3d3d3d; stroke-width: 2.5; stroke-linejoin: miter"/></g><g id="f2patch_25"><path d="M1485.1 637.4L1510.7 637.4L1510.7 632.9L1485.1 632.9 z" clip-path="url(#f2p2107c1c6ee)" style="fill: #d3d3d3; stroke: #3d3d3d; stroke-width: 2.5; stroke-linejoin: miter"/></g><g id="f2patch_26"><path d="M1510.7 637.4L1536.2 637.4L1536.2 632L1510.7 632 z" clip-path="url(#f2p2107c1c6ee)" style="fill: #d3d3d3; stroke: #3d3d3d; stroke-width: 2.5; stroke-linejoin: miter"/></g><g id="f2patch_27"><path d="M1536.2 637.4L1561.8 637.4L1561.8 624L1536.2 624 z" clip-path="url(#f2p2107c1c6ee)" style="fill: #d3d3d3; stroke: #3d3d3d; stroke-width: 2.5; stroke-linejoin: miter"/></g><g id="f2patch_28"><path d="M1561.8 637.4L1587.3 637.4L1587.3 627.6L1561.8 627.6 z" clip-path="url(#f2p2107c1c6ee)" style="fill: #d3d3d3; stroke: #3d3d3d; stroke-width: 2.5; stroke-linejoin: miter"/></g><g id="f2patch_29"><path d="M1587.3 637.4L1612.9 637.4L1612.9 629.4L1587.3 629.4 z" clip-path="url(#f2p2107c1c6ee)" style="fill: #d3d3d3; stroke: #3d3d3d; stroke-width: 2.5; stroke-linejoin: miter"/></g><g id="f2patch_30"><path d="M1612.9 637.4L1638.4 637.4L1638.4 627.6L1612.9 627.6 z" clip-path="url(#f2p2107c1c6ee)" style="fill: #d3d3d3; stroke: #3d3d3d; stroke-width: 2.5; stroke-linejoin: miter"/></g><g id="f2patch_31"><path d="M1638.4 637.4L1663.9 637.4L1663.9 631.8L1638.4 631.8 z" clip-path="url(#f2p2107c1c6ee)" style="fill: #d3d3d3; stroke: #3d3d3d; stroke-width: 2.5; stroke-linejoin: miter"/></g><g id="f2patch_32"><path d="M1663.9 637.4L1689.5 637.4L1689.5 632.9L1663.9 632.9 z" clip-path="url(#f2p2107c1c6ee)" style="fill: #d3d3d3; stroke: #3d3d3d; stroke-width: 2.5; stroke-linejoin: miter"/></g><g id="f2patch_33"><path d="M1689.5 637.4L1715 637.4L1715 634.1L1689.5 634.1 z" clip-path="url(#f2p2107c1c6ee)" style="fill: #d3d3d3; stroke: #3d3d3d; stroke-width: 2.5; stroke-linejoin: miter"/></g><g id="f2patch_34"><path d="M1715 637.4L1740.6 637.4L1740.6 635.2L1715 635.2 z" clip-path="url(#f2p2107c1c6ee)" style="fill: #d3d3d3; stroke: #3d3d3d; stroke-width: 2.5; stroke-linejoin: miter"/></g><g id="f2patch_35"><path d="M1740.6 637.4L1766.1 637.4L1766.1 635.2L1740.6 635.2 z" clip-path="url(#f2p2107c1c6ee)" style="fill: #d3d3d3; stroke: #3d3d3d; stroke-width: 2.5; stroke-linejoin: miter"/></g><g id="f2patch_36"><path d="M1766.1 637.4L1791.6 637.4L1791.6 636.3L1766.1 636.3 z" clip-path="url(#f2p2107c1c6ee)" style="fill: #d3d3d3; stroke: #3d3d3d; stroke-width: 2.5; stroke-linejoin: miter"/></g><g id="f2patch_37"><path d="M1025.4 637.4L1025.4 41.5" style="fill: none; stroke: #000000; stroke-width: 2.5; stroke-linejoin: miter; stroke-linecap: square"/></g><g id="f2patch_38"><path d="M1025.4 637.4L1633 637.4" style="fill: none; stroke: #000000; stroke-width: 2.5; stroke-linejoin: miter; stroke-linecap: square"/></g><g id="f2line2d_37"><path d="M1025.4 436.5L1027.4 437.8L1029.5 439.7L1031.5 442.1L1033.5 444.7L1035.6 448.1L1037.6 452.6L1039.6 457.6L1041.7 462.4L1043.7 466.4L1045.7 470.6L1047.8 474.8L1049.8 478.6L1051.8 481.6L1053.8 483.2L1055.9 483L1057.9 480.3L1059.9 475.5L1062 469L1064 461.3L1066 453L1068.1 444.3L1070.1 435L1072.1 423.2L1074.2 409.2L1076.2 393.7L1078.2 377.1L1080.3 359.9L1082.3 342.7L1084.3 325.9L1086.4 310.1L1088.4 293.7L1090.4 276.3L1092.5 258.5L1094.5 240.8L1096.5 223.9L1098.6 208.1L1100.6 194.2L1102.6 182.5L1104.7 173L1106.7 164L1108.7 155.4L1110.7 147.5L1112.8 140.4L1114.8 134L1116.8 128.7L1118.9 124.4L1120.9 121.2L1122.9 118.5L1125 115.9L1127 113.7L1129 111.8L1131.1 110.5L1133.1 109.7L1135.1 109.6L1137.2 110.2L1139.2 111.2L1141.2 112.7L1143.3 114.6L1145.3 116.7L1147.3 118.9L1149.4 121.3L1151.4 123.9L1153.4 127.3L1155.5 131.4L1157.5 136.1L1159.5 141.3L1161.6 146.8L1163.6 152.6L1165.6 158.7L1167.6 164.8L1169.7 171.5L1171.7 179L1173.7 187L1175.8 195.5L1177.8 204.4L1179.8 213.6L1181.9 222.9L1183.9 232.3L1185.9 241.7L1188 250.9L1190 259.9L1192 269.1L1194.1 278.7L1196.1 288.5L1198.1 298.5L1200.2 308.6L1202.2 318.6L1204.2 328.5L1206.3 338L1208.3 347.2L1210.3 355.9L1212.4 364.1L1214.4 371.5L1216.4 378.1L1218.5 384.3L1220.5 390L1222.5 395.5L1224.5 400.7L1226.6 405.6L1228.6 410.4L1230.6 415L1232.7 419.6L1234.7 424L1236.7 428.3L1238.8 432.5L1240.8 436.5L1242.8 440.4L1244.9 444.3L1246.9 448L1248.9 451.8L1251 455.5L1253 459.3L1255 463L1257.1 466.9L1259.1 470.8L1261.1 474.7L1263.2 478.7L1265.2 482.7L1267.2 486.7L1269.3 490.8L1271.3 494.8L1273.3 498.8L1275.3 502.7L1277.4 506.6L1279.4 510.5L1281.4 514.4L1283.5 518.1L1285.5 521.9L1287.5 525.6L1289.6 529.3L1291.6 533.1L1293.6 536.8L1295.7 540.5L1297.7 544.1L1299.7 547.6L1301.8 551.1L1303.8 554.5L1305.8 557.8L1307.9 560.9L1309.9 563.9L1311.9 566.8L1314 569.7L1316 572.4L1318 575.1L1320.1 577.8L1322.1 580.4L1324.1 582.9L1326.2 585.3L1328.2 587.6L1330.2 589.9L1332.2 592L1334.3 594.1L1336.3 596L1338.3 597.8L1340.4 599.6L1342.4 601.3L1344.4 603L1346.5 604.6L1348.5 606.2L1350.5 607.7L1352.6 609.2L1354.6 610.5L1356.6 611.8L1358.7 613.1L1360.7 614.2L1362.7 615.3L1364.8 616.3L1366.8 617.3L1368.8 618.2L1370.9 619.1L1372.9 620L1374.9 620.8L1377 621.6L1379 622.4L1381 623.1L1383.1 623.7L1385.1 624.3L1387.1 624.8L1389.1 625.3L1391.2 625.8L1393.2 626.2L1395.2 626.6L1397.3 627L1399.3 627.4L1401.3 627.8L1403.4 628.2L1405.4 628.5L1407.4 628.8L1409.5 629.1L1411.5 629.4L1413.5 629.7L1415.6 629.9L1417.6 630.2L1419.6 630.4L1421.7 630.6L1423.7 630.8L1425.7 631L1427.8 631.1L1429.8 631.3L1431.8 631.5L1433.9 631.6L1435.9 631.8L1437.9 631.9L1439.9 632L1442 632.1L1444 632.3L1446 632.4L1448.1 632.5L1450.1 632.6L1452.1 632.7L1454.2 632.8L1456.2 632.9L1458.2 633L1460.3 633.1L1462.3 633.2L1464.3 633.2L1466.4 633.3L1468.4 633.4L1470.4 633.5L1472.5 633.6L1474.5 633.7L1476.5 633.7L1478.6 633.8L1480.6 633.9L1482.6 633.9L1484.7 634L1486.7 634L1488.7 634L1490.8 634L1492.8 634.1L1494.8 634L1496.8 634L1498.9 634L1500.9 634L1502.9 633.9L1505 633.9L1507 633.8L1509 633.8L1511.1 633.7L1513.1 633.7L1515.1 633.6L1517.2 633.5L1519.2 633.4L1521.2 633.3L1523.3 633.1L1525.3 632.8L1527.3 632.5L1529.4 632.1L1531.4 631.8L1533.4 631.4L1535.5 631L1537.5 630.6L1539.5 630.3L1541.6 629.9L1543.6 629.6L1545.6 629.3L1547.7 629L1549.7 628.7L1551.7 628.3L1553.7 628L1555.8 627.6L1557.8 627.3L1559.8 627L1561.9 626.7L1563.9 626.5L1565.9 626.4L1568 626.3L1570 626.2L1572 626.3L1574.1 626.4L1576.1 626.5L1578.1 626.7L1580.2 626.9L1582.2 627.1L1584.2 627.4L1586.3 627.6L1588.3 627.9L1590.3 628.1L1592.4 628.3L1594.4 628.4L1596.4 628.5L1598.5 628.6L1600.5 628.7L1602.5 628.8L1604.6 628.9L1606.6 629L1608.6 629L1610.6 629.1L1612.7 629.2L1614.7 629.3L1616.7 629.3L1618.8 629.4L1620.8 629.4L1622.8 629.5L1624.9 629.5L1626.9 629.5L1628.9 629.6L1631 629.6L1633 629.6" clip-path="url(#f2p2107c1c6ee)" style="fill: none; stroke: #0072b2; stroke-width: 3.6; stroke-linecap: square"/></g></g><g id="f2axes_3"><g id="f2patch_39"><path d="M1736.4 637.4L2412 637.4L2412 41.5L1736.4 41.5 z" style="fill: #ffffff"/></g><g id="f2matplotlib.axis_5"><g id="f2xtick_10"><g id="f2line2d_38"><path d="M1879.9 637.4L1879.9 41.5" clip-path="url(#f2pf75d946408)" style="fill: none; stroke-dasharray: 2,4.1; stroke-dashoffset: 0; stroke: #ededed; stroke-width: 2"/></g><g id="f2line2d_39"><use href="#f2m0fcd28e0e3" x="1879.88" y="637.4" style="stroke: #000000; stroke-width: 2.5"/></g><g id="f2text_27"><text style="font-size: 28px; font-family:'Liberation Serif',serif; text-anchor: middle" x="1879.88" y="677.83">0</text></g></g><g id="f2xtick_11"><g id="f2line2d_40"><path d="M2046.4 637.4L2046.4 41.5" clip-path="url(#f2pf75d946408)" style="fill: none; stroke-dasharray: 2,4.1; stroke-dashoffset: 0; stroke: #ededed; stroke-width: 2"/></g><g id="f2line2d_41"><use href="#f2m0fcd28e0e3" x="2046.43" y="637.4" style="stroke: #000000; stroke-width: 2.5"/></g><g id="f2text_28"><text style="font-size: 28px; font-family:'Liberation Serif',serif; text-anchor: middle" x="2046.43" y="677.83">2</text></g></g><g id="f2xtick_12"><g id="f2line2d_42"><path d="M2213 637.4L2213 41.5" clip-path="url(#f2pf75d946408)" style="fill: none; stroke-dasharray: 2,4.1; stroke-dashoffset: 0; stroke: #ededed; stroke-width: 2"/></g><g id="f2line2d_43"><use href="#f2m0fcd28e0e3" x="2212.98" y="637.4" style="stroke: #000000; stroke-width: 2.5"/></g><g id="f2text_29"><text style="font-size: 28px; font-family:'Liberation Serif',serif; text-anchor: middle" x="2212.98" y="677.83">4</text></g></g><g id="f2xtick_13"><g id="f2line2d_44"><path d="M2379.5 637.4L2379.5 41.5" clip-path="url(#f2pf75d946408)" style="fill: none; stroke-dasharray: 2,4.1; stroke-dashoffset: 0; stroke: #ededed; stroke-width: 2"/></g><g id="f2line2d_45"><use href="#f2m0fcd28e0e3" x="2379.52" y="637.4" style="stroke: #000000; stroke-width: 2.5"/></g><g id="f2text_30"><text style="font-size: 28px; font-family:'Liberation Serif',serif; text-anchor: middle" x="2379.52" y="677.83">6</text></g></g><g id="f2text_31"><text style="font-size: 30.5px; font-family:'Liberation Serif',serif; text-anchor: middle" x="2074.2" y="718.76">trade_exposure (scaled)</text></g></g><g id="f2matplotlib.axis_6"><g id="f2ytick_14"><g id="f2line2d_46"><path d="M1736.4 585.1L2412 585.1" clip-path="url(#f2pf75d946408)" style="fill: none; stroke-dasharray: 2,4.1; stroke-dashoffset: 0; stroke: #ededed; stroke-width: 2"/></g><g id="f2line2d_47"><use href="#f2m0ad91094f4" x="1736.4" y="585.14" style="stroke: #000000; stroke-width: 2.5"/></g><g id="f2text_32"><text style="font-size: 28px; font-family:'Liberation Serif',serif; text-anchor: end" x="1714.4" y="594.86">−0.5</text></g></g><g id="f2ytick_15"><g id="f2line2d_48"><path d="M1736.4 497.5L2412 497.5" clip-path="url(#f2pf75d946408)" style="fill: none; stroke-dasharray: 2,4.1; stroke-dashoffset: 0; stroke: #ededed; stroke-width: 2"/></g><g id="f2line2d_49"><use href="#f2m0ad91094f4" x="1736.4" y="497.46" style="stroke: #000000; stroke-width: 2.5"/></g><g id="f2text_33"><text style="font-size: 28px; font-family:'Liberation Serif',serif; text-anchor: end" x="1714.4" y="507.17">0.0</text></g></g><g id="f2ytick_16"><g id="f2line2d_50"><path d="M1736.4 409.8L2412 409.8" clip-path="url(#f2pf75d946408)" style="fill: none; stroke-dasharray: 2,4.1; stroke-dashoffset: 0; stroke: #ededed; stroke-width: 2"/></g><g id="f2line2d_51"><use href="#f2m0ad91094f4" x="1736.4" y="409.77" style="stroke: #000000; stroke-width: 2.5"/></g><g id="f2text_34"><text style="font-size: 28px; font-family:'Liberation Serif',serif; text-anchor: end" x="1714.4" y="419.49">0.5</text></g></g><g id="f2ytick_17"><g id="f2line2d_52"><path d="M1736.4 322.1L2412 322.1" clip-path="url(#f2pf75d946408)" style="fill: none; stroke-dasharray: 2,4.1; stroke-dashoffset: 0; stroke: #ededed; stroke-width: 2"/></g><g id="f2line2d_53"><use href="#f2m0ad91094f4" x="1736.4" y="322.09" style="stroke: #000000; stroke-width: 2.5"/></g><g id="f2text_35"><text style="font-size: 28px; font-family:'Liberation Serif',serif; text-anchor: end" x="1714.4" y="331.8">1.0</text></g></g><g id="f2ytick_18"><g id="f2line2d_54"><path d="M1736.4 234.4L2412 234.4" clip-path="url(#f2pf75d946408)" style="fill: none; stroke-dasharray: 2,4.1; stroke-dashoffset: 0; stroke: #ededed; stroke-width: 2"/></g><g id="f2line2d_55"><use href="#f2m0ad91094f4" x="1736.4" y="234.4" style="stroke: #000000; stroke-width: 2.5"/></g><g id="f2text_36"><text style="font-size: 28px; font-family:'Liberation Serif',serif; text-anchor: end" x="1714.4" y="244.12">1.5</text></g></g><g id="f2ytick_19"><g id="f2line2d_56"><path d="M1736.4 146.7L2412 146.7" clip-path="url(#f2pf75d946408)" style="fill: none; stroke-dasharray: 2,4.1; stroke-dashoffset: 0; stroke: #ededed; stroke-width: 2"/></g><g id="f2line2d_57"><use href="#f2m0ad91094f4" x="1736.4" y="146.72" style="stroke: #000000; stroke-width: 2.5"/></g><g id="f2text_37"><text style="font-size: 28px; font-family:'Liberation Serif',serif; text-anchor: end" x="1714.4" y="156.44">2.0</text></g></g><g id="f2ytick_20"><g id="f2line2d_58"><path d="M1736.4 59L2412 59" clip-path="url(#f2pf75d946408)" style="fill: none; stroke-dasharray: 2,4.1; stroke-dashoffset: 0; stroke: #ededed; stroke-width: 2"/></g><g id="f2line2d_59"><use href="#f2m0ad91094f4" x="1736.4" y="59.04" style="stroke: #000000; stroke-width: 2.5"/></g><g id="f2text_38"><text style="font-size: 28px; font-family:'Liberation Serif',serif; text-anchor: end" x="1714.4" y="68.75">2.5</text></g></g></g><g id="f2line2d_60"><path d="M1736.4 497.5L2412 497.5" clip-path="url(#f2pf75d946408)" style="fill: none; stroke-dasharray: 6.29,2.72; stroke-dashoffset: 0; stroke: #777777; stroke-width: 1.7"/></g><g id="f2LineCollection_1" clip-path="url(#f2pf75d946408)" style="fill: none; stroke: #333333; stroke-opacity: 0.4; stroke-width: 1.7"><path d="M1765.4 612.7L1765.4 602"/><path d="M1847.5 612.7L1847.5 602"/><path d="M1832.7 612.7L1832.7 602"/><path d="M1807.3 612.7L1807.3 602"/><path d="M1877.4 612.7L1877.4 602"/><path d="M1807.4 612.7L1807.4 602"/><path d="M1965.4 612.7L1965.4 602"/><path d="M1853.8 612.7L1853.8 602"/><path d="M1943.7 612.7L1943.7 602"/><path d="M1864.6 612.7L1864.6 602"/><path d="M1905.3 612.7L1905.3 602"/><path d="M1834.9 612.7L1834.9 602"/><path d="M1850.7 612.7L1850.7 602"/><path d="M1901.4 612.7L1901.4 602"/><path d="M1885 612.7L1885 602"/><path d="M1885.9 612.7L1885.9 602"/><path d="M1901.1 612.7L1901.1 602"/><path d="M1809 612.7L1809 602"/><path d="M1878.4 612.7L1878.4 602"/><path d="M1896.2 612.7L1896.2 602"/><path d="M1872.1 612.7L1872.1 602"/><path d="M1865.8 612.7L1865.8 602"/><path d="M1902.2 612.7L1902.2 602"/><path d="M1828.5 612.7L1828.5 602"/><path d="M1968.2 612.7L1968.2 602"/><path d="M1842.5 612.7L1842.5 602"/><path d="M1821.9 612.7L1821.9 602"/><path d="M1923.4 612.7L1923.4 602"/><path d="M1821.5 612.7L1821.5 602"/><path d="M1969.4 612.7L1969.4 602"/><path d="M1905.3 612.7L1905.3 602"/><path d="M1858.7 612.7L1858.7 602"/><path d="M1841.7 612.7L1841.7 602"/><path d="M1865.8 612.7L1865.8 602"/><path d="M1869.5 612.7L1869.5 602"/><path d="M1955.5 612.7L1955.5 602"/><path d="M1946.5 612.7L1946.5 602"/><path d="M1840.7 612.7L1840.7 602"/><path d="M1830.7 612.7L1830.7 602"/><path d="M1969.7 612.7L1969.7 602"/><path d="M1840.5 612.7L1840.5 602"/><path d="M1849.7 612.7L1849.7 602"/><path d="M1846.2 612.7L1846.2 602"/><path d="M1883.2 612.7L1883.2 602"/><path d="M1833.4 612.7L1833.4 602"/><path d="M1823.1 612.7L1823.1 602"/><path d="M1787.1 612.7L1787.1 602"/><path d="M1967.4 612.7L1967.4 602"/><path d="M1811.7 612.7L1811.7 602"/><path d="M1856.2 612.7L1856.2 602"/><path d="M1841.1 612.7L1841.1 602"/><path d="M1834.5 612.7L1834.5 602"/><path d="M1895.3 612.7L1895.3 602"/><path d="M1826.3 612.7L1826.3 602"/><path d="M1793.5 612.7L1793.5 602"/><path d="M1853.4 612.7L1853.4 602"/><path d="M1886.5 612.7L1886.5 602"/><path d="M1827.5 612.7L1827.5 602"/><path d="M1905.2 612.7L1905.2 602"/><path d="M1902.6 612.7L1902.6 602"/><path d="M1839.4 612.7L1839.4 602"/><path d="M1942.2 612.7L1942.2 602"/><path d="M1875.3 612.7L1875.3 602"/><path d="M1841.5 612.7L1841.5 602"/><path d="M1840 612.7L1840 602"/><path d="M1843.2 612.7L1843.2 602"/><path d="M1850 612.7L1850 602"/><path d="M1812.7 612.7L1812.7 602"/><path d="M1962 612.7L1962 602"/><path d="M1847.5 612.7L1847.5 602"/><path d="M1883 612.7L1883 602"/><path d="M1835.1 612.7L1835.1 602"/><path d="M1812.8 612.7L1812.8 602"/><path d="M1807.8 612.7L1807.8 602"/><path d="M1899.6 612.7L1899.6 602"/><path d="M1780.4 612.7L1780.4 602"/><path d="M1825.9 612.7L1825.9 602"/><path d="M1848.9 612.7L1848.9 602"/><path d="M1857.1 612.7L1857.1 602"/><path d="M1846.2 612.7L1846.2 602"/><path d="M1881.3 612.7L1881.3 602"/><path d="M1818.8 612.7L1818.8 602"/><path d="M1867 612.7L1867 602"/><path d="M1886.7 612.7L1886.7 602"/><path d="M1847.5 612.7L1847.5 602"/><path d="M1847.6 612.7L1847.6 602"/><path d="M1830.8 612.7L1830.8 602"/><path d="M1808.8 612.7L1808.8 602"/><path d="M1842.1 612.7L1842.1 602"/><path d="M1904.1 612.7L1904.1 602"/><path d="M1971.4 612.7L1971.4 602"/><path d="M1816.9 612.7L1816.9 602"/><path d="M1937.2 612.7L1937.2 602"/><path d="M1884.3 612.7L1884.3 602"/><path d="M1928.6 612.7L1928.6 602"/><path d="M1852.7 612.7L1852.7 602"/><path d="M1825.8 612.7L1825.8 602"/><path d="M1833.3 612.7L1833.3 602"/><path d="M1883.5 612.7L1883.5 602"/><path d="M1886.1 612.7L1886.1 602"/><path d="M1864.6 612.7L1864.6 602"/><path d="M1930.9 612.7L1930.9 602"/><path d="M1824 612.7L1824 602"/><path d="M1962.3 612.7L1962.3 602"/><path d="M1827.8 612.7L1827.8 602"/><path d="M1896.1 612.7L1896.1 602"/><path d="M1770.2 612.7L1770.2 602"/><path d="M1955 612.7L1955 602"/><path d="M1967.6 612.7L1967.6 602"/><path d="M1814.5 612.7L1814.5 602"/><path d="M1833.2 612.7L1833.2 602"/><path d="M1844.3 612.7L1844.3 602"/><path d="M1959.8 612.7L1959.8 602"/><path d="M1811.7 612.7L1811.7 602"/><path d="M1774.2 612.7L1774.2 602"/><path d="M1804.5 612.7L1804.5 602"/><path d="M1810.3 612.7L1810.3 602"/><path d="M1917.7 612.7L1917.7 602"/><path d="M1906.1 612.7L1906.1 602"/><path d="M1969 612.7L1969 602"/><path d="M1782 612.7L1782 602"/><path d="M1841 612.7L1841 602"/><path d="M1899.6 612.7L1899.6 602"/><path d="M1848.8 612.7L1848.8 602"/><path d="M1802.4 612.7L1802.4 602"/><path d="M1914.7 612.7L1914.7 602"/><path d="M1874.1 612.7L1874.1 602"/><path d="M1817.3 612.7L1817.3 602"/><path d="M1845.6 612.7L1845.6 602"/><path d="M1908.6 612.7L1908.6 602"/><path d="M1868.7 612.7L1868.7 602"/><path d="M1799.9 612.7L1799.9 602"/><path d="M1813.3 612.7L1813.3 602"/><path d="M1919.1 612.7L1919.1 602"/><path d="M1815 612.7L1815 602"/><path d="M1881 612.7L1881 602"/><path d="M1905 612.7L1905 602"/><path d="M1844.9 612.7L1844.9 602"/><path d="M1894.5 612.7L1894.5 602"/><path d="M1837.9 612.7L1837.9 602"/><path d="M1808.2 612.7L1808.2 602"/><path d="M1892.7 612.7L1892.7 602"/><path d="M1898.5 612.7L1898.5 602"/><path d="M1859.7 612.7L1859.7 602"/><path d="M1776.6 612.7L1776.6 602"/><path d="M1872.1 612.7L1872.1 602"/><path d="M1919.2 612.7L1919.2 602"/><path d="M1933.5 612.7L1933.5 602"/><path d="M1790.9 612.7L1790.9 602"/><path d="M1898.9 612.7L1898.9 602"/><path d="M1896.4 612.7L1896.4 602"/><path d="M1888.5 612.7L1888.5 602"/><path d="M1869.8 612.7L1869.8 602"/><path d="M1865.4 612.7L1865.4 602"/><path d="M1886.7 612.7L1886.7 602"/><path d="M1885.8 612.7L1885.8 602"/><path d="M1866.1 612.7L1866.1 602"/><path d="M1850.2 612.7L1850.2 602"/><path d="M1966.5 612.7L1966.5 602"/><path d="M1924.8 612.7L1924.8 602"/><path d="M1959.2 612.7L1959.2 602"/><path d="M1880.6 612.7L1880.6 602"/><path d="M1881.2 612.7L1881.2 602"/><path d="M1883.3 612.7L1883.3 602"/><path d="M1836.4 612.7L1836.4 602"/><path d="M1943.2 612.7L1943.2 602"/><path d="M1833.9 612.7L1833.9 602"/><path d="M1884.8 612.7L1884.8 602"/><path d="M1872.3 612.7L1872.3 602"/><path d="M1911 612.7L1911 602"/><path d="M1829.8 612.7L1829.8 602"/><path d="M1877.1 612.7L1877.1 602"/><path d="M1852.4 612.7L1852.4 602"/><path d="M1854.8 612.7L1854.8 602"/><path d="M1808.7 612.7L1808.7 602"/><path d="M1779.6 612.7L1779.6 602"/><path d="M1865.9 612.7L1865.9 602"/><path d="M1829.8 612.7L1829.8 602"/><path d="M1948.2 612.7L1948.2 602"/><path d="M1964.6 612.7L1964.6 602"/><path d="M1864.8 612.7L1864.8 602"/><path d="M1812.7 612.7L1812.7 602"/><path d="M1970 612.7L1970 602"/><path d="M1865.5 612.7L1865.5 602"/><path d="M1843 612.7L1843 602"/><path d="M1836.3 612.7L1836.3 602"/><path d="M1873.3 612.7L1873.3 602"/><path d="M1936.2 612.7L1936.2 602"/><path d="M1836.2 612.7L1836.2 602"/><path d="M1870.6 612.7L1870.6 602"/><path d="M1922.5 612.7L1922.5 602"/><path d="M1888.1 612.7L1888.1 602"/><path d="M1836.8 612.7L1836.8 602"/><path d="M1899.3 612.7L1899.3 602"/><path d="M1839.8 612.7L1839.8 602"/><path d="M1879.5 612.7L1879.5 602"/><path d="M1917.1 612.7L1917.1 602"/><path d="M1848.2 612.7L1848.2 602"/><path d="M1828.9 612.7L1828.9 602"/><path d="M1840.9 612.7L1840.9 602"/><path d="M1930.1 612.7L1930.1 602"/><path d="M1852.8 612.7L1852.8 602"/><path d="M1823 612.7L1823 602"/><path d="M1921.5 612.7L1921.5 602"/><path d="M1877.3 612.7L1877.3 602"/><path d="M1887.5 612.7L1887.5 602"/><path d="M1870.7 612.7L1870.7 602"/><path d="M1872 612.7L1872 602"/><path d="M1821.8 612.7L1821.8 602"/><path d="M1874.1 612.7L1874.1 602"/><path d="M1846.3 612.7L1846.3 602"/><path d="M1822.5 612.7L1822.5 602"/><path d="M1966.9 612.7L1966.9 602"/><path d="M1935.9 612.7L1935.9 602"/><path d="M1894.7 612.7L1894.7 602"/><path d="M1878.7 612.7L1878.7 602"/><path d="M1915.4 612.7L1915.4 602"/><path d="M1868.5 612.7L1868.5 602"/><path d="M1833 612.7L1833 602"/><path d="M1929.6 612.7L1929.6 602"/><path d="M1909.6 612.7L1909.6 602"/><path d="M1864.4 612.7L1864.4 602"/><path d="M1911.5 612.7L1911.5 602"/><path d="M1916.2 612.7L1916.2 602"/><path d="M1887 612.7L1887 602"/><path d="M1844 612.7L1844 602"/><path d="M1834.9 612.7L1834.9 602"/><path d="M1924.2 612.7L1924.2 602"/><path d="M1922.8 612.7L1922.8 602"/><path d="M1822.6 612.7L1822.6 602"/><path d="M1798.8 612.7L1798.8 602"/><path d="M1873.4 612.7L1873.4 602"/><path d="M1901.9 612.7L1901.9 602"/><path d="M1936.8 612.7L1936.8 602"/><path d="M1944.5 612.7L1944.5 602"/><path d="M1853.8 612.7L1853.8 602"/><path d="M1951.9 612.7L1951.9 602"/><path d="M1913.5 612.7L1913.5 602"/><path d="M1944.9 612.7L1944.9 602"/><path d="M1816.3 612.7L1816.3 602"/><path d="M1893.5 612.7L1893.5 602"/><path d="M1967.7 612.7L1967.7 602"/><path d="M1956.8 612.7L1956.8 602"/><path d="M1846.5 612.7L1846.5 602"/><path d="M1862 612.7L1862 602"/><path d="M1807.9 612.7L1807.9 602"/><path d="M1875.8 612.7L1875.8 602"/><path d="M1808 612.7L1808 602"/><path d="M1900.7 612.7L1900.7 602"/><path d="M1833.3 612.7L1833.3 602"/><path d="M1960.1 612.7L1960.1 602"/><path d="M1837.3 612.7L1837.3 602"/><path d="M1920.4 612.7L1920.4 602"/><path d="M1847.7 612.7L1847.7 602"/><path d="M1910.2 612.7L1910.2 602"/><path d="M1889 612.7L1889 602"/><path d="M1835.7 612.7L1835.7 602"/><path d="M1853.8 612.7L1853.8 602"/><path d="M1965.6 612.7L1965.6 602"/><path d="M1815 612.7L1815 602"/><path d="M1883.2 612.7L1883.2 602"/><path d="M1899.5 612.7L1899.5 602"/><path d="M1864.8 612.7L1864.8 602"/><path d="M1842.1 612.7L1842.1 602"/><path d="M1865.6 612.7L1865.6 602"/><path d="M1851.8 612.7L1851.8 602"/><path d="M1888 612.7L1888 602"/><path d="M1846 612.7L1846 602"/><path d="M1868.6 612.7L1868.6 602"/><path d="M1828.5 612.7L1828.5 602"/><path d="M1944.6 612.7L1944.6 602"/><path d="M1814 612.7L1814 602"/><path d="M1914.2 612.7L1914.2 602"/><path d="M1874.8 612.7L1874.8 602"/><path d="M1969.2 612.7L1969.2 602"/><path d="M1837.4 612.7L1837.4 602"/><path d="M1897.5 612.7L1897.5 602"/><path d="M1972.2 612.7L1972.2 602"/><path d="M1948.3 612.7L1948.3 602"/><path d="M1884.7 612.7L1884.7 602"/><path d="M1852.8 612.7L1852.8 602"/><path d="M1901.8 612.7L1901.8 602"/><path d="M1891.2 612.7L1891.2 602"/><path d="M1851.3 612.7L1851.3 602"/><path d="M1948.6 612.7L1948.6 602"/><path d="M1842 612.7L1842 602"/><path d="M1836.7 612.7L1836.7 602"/><path d="M1932.1 612.7L1932.1 602"/><path d="M1891.8 612.7L1891.8 602"/><path d="M1837 612.7L1837 602"/><path d="M1840.3 612.7L1840.3 602"/><path d="M1861.6 612.7L1861.6 602"/><path d="M1925 612.7L1925 602"/><path d="M1849.6 612.7L1849.6 602"/><path d="M1836.4 612.7L1836.4 602"/><path d="M1834.7 612.7L1834.7 602"/><path d="M1811.5 612.7L1811.5 602"/><path d="M1906.8 612.7L1906.8 602"/><path d="M1833.2 612.7L1833.2 602"/><path d="M1889.1 612.7L1889.1 602"/><path d="M1876.7 612.7L1876.7 602"/><path d="M1812.3 612.7L1812.3 602"/><path d="M1830.2 612.7L1830.2 602"/><path d="M1971.3 612.7L1971.3 602"/><path d="M1823.3 612.7L1823.3 602"/><path d="M1925.5 612.7L1925.5 602"/><path d="M1841.9 612.7L1841.9 602"/><path d="M1888.1 612.7L1888.1 602"/><path d="M1817.1 612.7L1817.1 602"/><path d="M1932.9 612.7L1932.9 602"/><path d="M1899.9 612.7L1899.9 602"/><path d="M1865.6 612.7L1865.6 602"/><path d="M1876.9 612.7L1876.9 602"/><path d="M1825.1 612.7L1825.1 602"/><path d="M1845 612.7L1845 602"/><path d="M1830.3 612.7L1830.3 602"/><path d="M1850.5 612.7L1850.5 602"/><path d="M1947 612.7L1947 602"/><path d="M1836.4 612.7L1836.4 602"/><path d="M1969.6 612.7L1969.6 602"/><path d="M1794.7 612.7L1794.7 602"/><path d="M1850.4 612.7L1850.4 602"/><path d="M1789 612.7L1789 602"/><path d="M1827.7 612.7L1827.7 602"/><path d="M1923.4 612.7L1923.4 602"/><path d="M1800.9 612.7L1800.9 602"/><path d="M1902.1 612.7L1902.1 602"/><path d="M1867.4 612.7L1867.4 602"/><path d="M1958.3 612.7L1958.3 602"/><path d="M1867.4 612.7L1867.4 602"/><path d="M1853.8 612.7L1853.8 602"/><path d="M1830.5 612.7L1830.5 602"/><path d="M1833.1 612.7L1833.1 602"/><path d="M1867.3 612.7L1867.3 602"/><path d="M1864.2 612.7L1864.2 602"/><path d="M1866.3 612.7L1866.3 602"/><path d="M1875.3 612.7L1875.3 602"/><path d="M1901.2 612.7L1901.2 602"/><path d="M1923 612.7L1923 602"/><path d="M1809.8 612.7L1809.8 602"/><path d="M1870.1 612.7L1870.1 602"/><path d="M1791.4 612.7L1791.4 602"/><path d="M1926.6 612.7L1926.6 602"/><path d="M1910.3 612.7L1910.3 602"/><path d="M1779.3 612.7L1779.3 602"/><path d="M1834.7 612.7L1834.7 602"/><path d="M1894.5 612.7L1894.5 602"/><path d="M1845.1 612.7L1845.1 602"/><path d="M1894.4 612.7L1894.4 602"/><path d="M1915.3 612.7L1915.3 602"/><path d="M1824.3 612.7L1824.3 602"/><path d="M1970.7 612.7L1970.7 602"/><path d="M1821.1 612.7L1821.1 602"/><path d="M1835.8 612.7L1835.8 602"/><path d="M1966.7 612.7L1966.7 602"/><path d="M1847.8 612.7L1847.8 602"/><path d="M1844.1 612.7L1844.1 602"/><path d="M1924.6 612.7L1924.6 602"/><path d="M1889.3 612.7L1889.3 602"/><path d="M1859.7 612.7L1859.7 602"/><path d="M1903.6 612.7L1903.6 602"/><path d="M1901.2 612.7L1901.2 602"/><path d="M1889.1 612.7L1889.1 602"/><path d="M1845.2 612.7L1845.2 602"/><path d="M1930.8 612.7L1930.8 602"/><path d="M1894.1 612.7L1894.1 602"/><path d="M1808 612.7L1808 602"/><path d="M1817.2 612.7L1817.2 602"/><path d="M1870.8 612.7L1870.8 602"/><path d="M1910.2 612.7L1910.2 602"/><path d="M1816.5 612.7L1816.5 602"/><path d="M1916.6 612.7L1916.6 602"/><path d="M1879 612.7L1879 602"/><path d="M1839.2 612.7L1839.2 602"/><path d="M1835.8 612.7L1835.8 602"/><path d="M1798.9 612.7L1798.9 602"/><path d="M1888.8 612.7L1888.8 602"/><path d="M1848.4 612.7L1848.4 602"/><path d="M1870.6 612.7L1870.6 602"/><path d="M1871.6 612.7L1871.6 602"/><path d="M1900 612.7L1900 602"/><path d="M1974.9 612.7L1974.9 602"/><path d="M1976 612.7L1976 602"/><path d="M1977.8 612.7L1977.8 602"/><path d="M1975.6 612.7L1975.6 602"/><path d="M1982.5 612.7L1982.5 602"/><path d="M1976.4 612.7L1976.4 602"/><path d="M1986 612.7L1986 602"/><path d="M1984.6 612.7L1984.6 602"/><path d="M1975.7 612.7L1975.7 602"/><path d="M1987.7 612.7L1987.7 602"/><path d="M1989.1 612.7L1989.1 602"/><path d="M1982.2 612.7L1982.2 602"/><path d="M1986 612.7L1986 602"/><path d="M1975.9 612.7L1975.9 602"/><path d="M1981.6 612.7L1981.6 602"/><path d="M1987.5 612.7L1987.5 602"/><path d="M1987.4 612.7L1987.4 602"/><path d="M1991.1 612.7L1991.1 602"/><path d="M1983.7 612.7L1983.7 602"/><path d="M1978.1 612.7L1978.1 602"/><path d="M1981.6 612.7L1981.6 602"/><path d="M1980.4 612.7L1980.4 602"/><path d="M1978.6 612.7L1978.6 602"/><path d="M1991.3 612.7L1991.3 602"/><path d="M1988.9 612.7L1988.9 602"/><path d="M1978.6 612.7L1978.6 602"/><path d="M1990.3 612.7L1990.3 602"/><path d="M1991 612.7L1991 602"/><path d="M1980.4 612.7L1980.4 602"/><path d="M1983 612.7L1983 602"/><path d="M1980.6 612.7L1980.6 602"/><path d="M1982 612.7L1982 602"/><path d="M1986.8 612.7L1986.8 602"/><path d="M1985.8 612.7L1985.8 602"/><path d="M1983.2 612.7L1983.2 602"/><path d="M1976.7 612.7L1976.7 602"/><path d="M1986.8 612.7L1986.8 602"/><path d="M1976.1 612.7L1976.1 602"/><path d="M1982.8 612.7L1982.8 602"/><path d="M1986.2 612.7L1986.2 602"/><path d="M1978.6 612.7L1978.6 602"/><path d="M1981.4 612.7L1981.4 602"/><path d="M1978.2 612.7L1978.2 602"/><path d="M1976.8 612.7L1976.8 602"/><path d="M1978.4 612.7L1978.4 602"/><path d="M1985.2 612.7L1985.2 602"/><path d="M1983.3 612.7L1983.3 602"/><path d="M1983.1 612.7L1983.1 602"/><path d="M1988.5 612.7L1988.5 602"/><path d="M1978.9 612.7L1978.9 602"/><path d="M1987.7 612.7L1987.7 602"/><path d="M1985.8 612.7L1985.8 602"/><path d="M1980.8 612.7L1980.8 602"/><path d="M1982 612.7L1982 602"/><path d="M1976.8 612.7L1976.8 602"/><path d="M1990.9 612.7L1990.9 602"/><path d="M1988.2 612.7L1988.2 602"/><path d="M1982 612.7L1982 602"/><path d="M1985 612.7L1985 602"/><path d="M1986.9 612.7L1986.9 602"/><path d="M1989.9 612.7L1989.9 602"/><path d="M1984.6 612.7L1984.6 602"/><path d="M1979.3 612.7L1979.3 602"/><path d="M1974.2 612.7L1974.2 602"/><path d="M1987.4 612.7L1987.4 602"/><path d="M1986.8 612.7L1986.8 602"/><path d="M1985.8 612.7L1985.8 602"/><path d="M1978.8 612.7L1978.8 602"/><path d="M1988 612.7L1988 602"/><path d="M1989.2 612.7L1989.2 602"/><path d="M1979.1 612.7L1979.1 602"/><path d="M1979.6 612.7L1979.6 602"/><path d="M1975.9 612.7L1975.9 602"/><path d="M1978.8 612.7L1978.8 602"/><path d="M1980 612.7L1980 602"/><path d="M1984.7 612.7L1984.7 602"/><path d="M1987.5 612.7L1987.5 602"/><path d="M1982.8 612.7L1982.8 602"/><path d="M1991.1 612.7L1991.1 602"/><path d="M1975.5 612.7L1975.5 602"/><path d="M1981.2 612.7L1981.2 602"/><path d="M1977.6 612.7L1977.6 602"/><path d="M1978.6 612.7L1978.6 602"/><path d="M1982.1 612.7L1982.1 602"/><path d="M1983.9 612.7L1983.9 602"/><path d="M1974.3 612.7L1974.3 602"/><path d="M1993.6 612.7L1993.6 602"/><path d="M1993.2 612.7L1993.2 602"/><path d="M2000.9 612.7L2000.9 602"/><path d="M2009.9 612.7L2009.9 602"/><path d="M1991.9 612.7L1991.9 602"/><path d="M1992 612.7L1992 602"/><path d="M2007.9 612.7L2007.9 602"/><path d="M1998 612.7L1998 602"/><path d="M2002 612.7L2002 602"/><path d="M2006.6 612.7L2006.6 602"/><path d="M1996.9 612.7L1996.9 602"/><path d="M2011.4 612.7L2011.4 602"/><path d="M1999.2 612.7L1999.2 602"/><path d="M2001.3 612.7L2001.3 602"/><path d="M2011.4 612.7L2011.4 602"/><path d="M2002.5 612.7L2002.5 602"/><path d="M1995.5 612.7L1995.5 602"/><path d="M1996.6 612.7L1996.6 602"/><path d="M2008.5 612.7L2008.5 602"/><path d="M1999.1 612.7L1999.1 602"/><path d="M1998.2 612.7L1998.2 602"/><path d="M1991.5 612.7L1991.5 602"/><path d="M1991.7 612.7L1991.7 602"/><path d="M1994 612.7L1994 602"/><path d="M1997.2 612.7L1997.2 602"/><path d="M2011.5 612.7L2011.5 602"/><path d="M2002.1 612.7L2002.1 602"/><path d="M1992.1 612.7L1992.1 602"/><path d="M2002 612.7L2002 602"/><path d="M1997.4 612.7L1997.4 602"/><path d="M2009.4 612.7L2009.4 602"/><path d="M2011.6 612.7L2011.6 602"/><path d="M2002.4 612.7L2002.4 602"/><path d="M2006.7 612.7L2006.7 602"/><path d="M1998.5 612.7L1998.5 602"/><path d="M1995.2 612.7L1995.2 602"/><path d="M2004.8 612.7L2004.8 602"/><path d="M1992.7 612.7L1992.7 602"/><path d="M2001.7 612.7L2001.7 602"/><path d="M2008 612.7L2008 602"/><path d="M1995.1 612.7L1995.1 602"/><path d="M2006.2 612.7L2006.2 602"/><path d="M1995.8 612.7L1995.8 602"/><path d="M2005.9 612.7L2005.9 602"/><path d="M1995.8 612.7L1995.8 602"/><path d="M2000.6 612.7L2000.6 602"/><path d="M1999.1 612.7L1999.1 602"/><path d="M1992.7 612.7L1992.7 602"/><path d="M2004.2 612.7L2004.2 602"/><path d="M1992.8 612.7L1992.8 602"/><path d="M2004.2 612.7L2004.2 602"/><path d="M2001.3 612.7L2001.3 602"/><path d="M2008.6 612.7L2008.6 602"/><path d="M2000.5 612.7L2000.5 602"/><path d="M1992.6 612.7L1992.6 602"/><path d="M1998.2 612.7L1998.2 602"/><path d="M2005.7 612.7L2005.7 602"/><path d="M2013.6 612.7L2013.6 602"/><path d="M2015.6 612.7L2015.6 602"/><path d="M2014 612.7L2014 602"/><path d="M2028.1 612.7L2028.1 602"/><path d="M2017.3 612.7L2017.3 602"/><path d="M2014.7 612.7L2014.7 602"/><path d="M2025.2 612.7L2025.2 602"/><path d="M2017.2 612.7L2017.2 602"/><path d="M2023.8 612.7L2023.8 602"/><path d="M2027.7 612.7L2027.7 602"/><path d="M2024.8 612.7L2024.8 602"/><path d="M2028.5 612.7L2028.5 602"/><path d="M2016.7 612.7L2016.7 602"/><path d="M2026.9 612.7L2026.9 602"/><path d="M2024.2 612.7L2024.2 602"/><path d="M2020 612.7L2020 602"/><path d="M2025.1 612.7L2025.1 602"/><path d="M2024.9 612.7L2024.9 602"/><path d="M2014.9 612.7L2014.9 602"/><path d="M2017.2 612.7L2017.2 602"/><path d="M2023.1 612.7L2023.1 602"/><path d="M2016.1 612.7L2016.1 602"/><path d="M2021 612.7L2021 602"/><path d="M2019.5 612.7L2019.5 602"/><path d="M2022.9 612.7L2022.9 602"/><path d="M2015.3 612.7L2015.3 602"/><path d="M2024.5 612.7L2024.5 602"/><path d="M2026.7 612.7L2026.7 602"/><path d="M2021.8 612.7L2021.8 602"/><path d="M2018.6 612.7L2018.6 602"/><path d="M2015.8 612.7L2015.8 602"/><path d="M2029.3 612.7L2029.3 602"/><path d="M2031.2 612.7L2031.2 602"/><path d="M2027.8 612.7L2027.8 602"/><path d="M2018.4 612.7L2018.4 602"/><path d="M2028.5 612.7L2028.5 602"/><path d="M2040.8 612.7L2040.8 602"/><path d="M2036.8 612.7L2036.8 602"/><path d="M2041.6 612.7L2041.6 602"/><path d="M2032.6 612.7L2032.6 602"/><path d="M2034.2 612.7L2034.2 602"/><path d="M2043.9 612.7L2043.9 602"/><path d="M2051.6 612.7L2051.6 602"/><path d="M2052.1 612.7L2052.1 602"/><path d="M2046.2 612.7L2046.2 602"/><path d="M2038.1 612.7L2038.1 602"/><path d="M2032.3 612.7L2032.3 602"/><path d="M2049.2 612.7L2049.2 602"/><path d="M2033.2 612.7L2033.2 602"/><path d="M2048 612.7L2048 602"/><path d="M2047.6 612.7L2047.6 602"/><path d="M2034.4 612.7L2034.4 602"/><path d="M2068 612.7L2068 602"/><path d="M2063.5 612.7L2063.5 602"/><path d="M2059 612.7L2059 602"/><path d="M2069.3 612.7L2069.3 602"/><path d="M2058 612.7L2058 602"/><path d="M2066.1 612.7L2066.1 602"/><path d="M2055.6 612.7L2055.6 602"/><path d="M2071.7 612.7L2071.7 602"/><path d="M2067.7 612.7L2067.7 602"/><path d="M2061.8 612.7L2061.8 602"/><path d="M2055.2 612.7L2055.2 602"/><path d="M2073.3 612.7L2073.3 602"/><path d="M2062.7 612.7L2062.7 602"/><path d="M2092.3 612.7L2092.3 602"/><path d="M2093.6 612.7L2093.6 602"/><path d="M2085.4 612.7L2085.4 602"/><path d="M2082.6 612.7L2082.6 602"/><path d="M2079.1 612.7L2079.1 602"/><path d="M2083.1 612.7L2083.1 602"/><path d="M2081.8 612.7L2081.8 602"/><path d="M2076 612.7L2076 602"/><path d="M2077.3 612.7L2077.3 602"/><path d="M2090.4 612.7L2090.4 602"/><path d="M2112.2 612.7L2112.2 602"/><path d="M2103.7 612.7L2103.7 602"/><path d="M2114.3 612.7L2114.3 602"/><path d="M2106.6 612.7L2106.6 602"/><path d="M2100.2 612.7L2100.2 602"/><path d="M2108.9 612.7L2108.9 602"/><path d="M2128.7 612.7L2128.7 602"/><path d="M2130.3 612.7L2130.3 602"/><path d="M2134.7 612.7L2134.7 602"/><path d="M2120.7 612.7L2120.7 602"/><path d="M2118.1 612.7L2118.1 602"/><path d="M2147 612.7L2147 602"/><path d="M2141.8 612.7L2141.8 602"/><path d="M2147.1 612.7L2147.1 602"/><path d="M2151.8 612.7L2151.8 602"/><path d="M2161.2 612.7L2161.2 602"/><path d="M2167.6 612.7L2167.6 602"/><path d="M2173.1 612.7L2173.1 602"/><path d="M2172.1 612.7L2172.1 602"/><path d="M2157.4 612.7L2157.4 602"/><path d="M2182.9 612.7L2182.9 602"/><path d="M2184.4 612.7L2184.4 602"/><path d="M2188.5 612.7L2188.5 602"/><path d="M2185.3 612.7L2185.3 602"/><path d="M2183.3 612.7L2183.3 602"/><path d="M2184.5 612.7L2184.5 602"/><path d="M2189 612.7L2189 602"/><path d="M2177.4 612.7L2177.4 602"/><path d="M2185.4 612.7L2185.4 602"/><path d="M2194.9 612.7L2194.9 602"/><path d="M2188.6 612.7L2188.6 602"/><path d="M2191.3 612.7L2191.3 602"/><path d="M2212.7 612.7L2212.7 602"/><path d="M2215.2 612.7L2215.2 602"/><path d="M2198.2 612.7L2198.2 602"/><path d="M2198 612.7L2198 602"/><path d="M2199.9 612.7L2199.9 602"/><path d="M2202.9 612.7L2202.9 602"/><path d="M2197.8 612.7L2197.8 602"/><path d="M2209.4 612.7L2209.4 602"/><path d="M2212.4 612.7L2212.4 602"/><path d="M2233 612.7L2233 602"/><path d="M2226.6 612.7L2226.6 602"/><path d="M2226 612.7L2226 602"/><path d="M2222.8 612.7L2222.8 602"/><path d="M2236.8 612.7L2236.8 602"/><path d="M2233.7 612.7L2233.7 602"/><path d="M2234 612.7L2234 602"/><path d="M2248.3 612.7L2248.3 602"/><path d="M2239.2 612.7L2239.2 602"/><path d="M2239.8 612.7L2239.8 602"/><path d="M2239.4 612.7L2239.4 602"/><path d="M2257.2 612.7L2257.2 602"/><path d="M2239.7 612.7L2239.7 602"/><path d="M2248.7 612.7L2248.7 602"/><path d="M2252.1 612.7L2252.1 602"/><path d="M2254.5 612.7L2254.5 602"/><path d="M2269 612.7L2269 602"/><path d="M2271.6 612.7L2271.6 602"/><path d="M2266.3 612.7L2266.3 602"/><path d="M2275.3 612.7L2275.3 602"/><path d="M2260.2 612.7L2260.2 602"/><path d="M2282.2 612.7L2282.2 602"/><path d="M2285.3 612.7L2285.3 602"/><path d="M2291.4 612.7L2291.4 602"/><path d="M2285.3 612.7L2285.3 602"/><path d="M2301 612.7L2301 602"/><path d="M2317.1 612.7L2317.1 602"/><path d="M2301.3 612.7L2301.3 602"/><path d="M2324.8 612.7L2324.8 602"/><path d="M2338.8 612.7L2338.8 602"/><path d="M2355.6 612.7L2355.6 602"/><path d="M2353.1 612.7L2353.1 602"/><path d="M2375.4 612.7L2375.4 602"/><path d="M2380.9 612.7L2380.9 602"/></g><g id="f2patch_40"><path d="M1736.4 637.4L1736.4 41.5" style="fill: none; stroke: #000000; stroke-width: 2.5; stroke-linejoin: miter; stroke-linecap: square"/></g><g id="f2patch_41"><path d="M1736.4 637.4L2412 637.4" style="fill: none; stroke: #000000; stroke-width: 2.5; stroke-linejoin: miter; stroke-linecap: square"/></g><g id="f2line2d_61"><path d="M1765.4 595.8L2380.9 67.5" clip-path="url(#f2pf75d946408)" style="fill: none; stroke: #228b3a; stroke-width: 5.2"/></g><g id="f2text_39"><text style="font-size: 33.5px; font-family:'Liberation Serif',serif; text-anchor: middle" x="2074.2" y="23">Marginal effect (coef × scaled X)</text></g><g id="f2patch_42"><path d="M2250.3 637.4L2420.3 637.4L2420.3 593.4L2250.3 593.4 z" style="fill: #ffffff; opacity: 0.8"/></g><g id="f2text_40"><text style="font-size: 24.3px; font-family:'Liberation Serif',serif; text-anchor: end" x="2397.7" y="620.4">coef = 0.4073</text></g></g></g><defs><clipPath id="f2p62b5322a06"><rect x="112.4" y="41.5" width="809.4" height="595.9"/></clipPath><clipPath id="f2p2107c1c6ee"><rect x="1025.4" y="41.5" width="607.6" height="595.9"/></clipPath><clipPath id="f2pf75d946408"><rect x="1736.4" y="41.5" width="675.6" height="595.9"/></clipPath></defs></svg></div>
<div class="fig" style="left:710px;top:1637px;width:2087px;height:724px"><svg width="2087" height="724" viewBox="0 0 2087 724" version="1.1"><defs><style type="text/css">*{stroke-linejoin: round; stroke-linecap: butt}</style></defs><g id="f3figure_1"><g id="f3patch_1"><path d="M0 724L2087 724L2087 0L0 0 z" style="fill: #ffffff"/></g><g id="f3axes_1"><g id="f3patch_2"><path d="M70.2 442.2L874.8 442.2L874.8 79.4L70.2 79.4 z" style="fill: #ffffff"/></g><g id="f3matplotlib.axis_1"><g id="f3xtick_1"><g id="f3line2d_1"><path d="M106.8 442.2L106.8 79.4" clip-path="url(#f3p9985ffac19)" style="fill: none; stroke-dasharray: 1.9,3.13; stroke-dashoffset: 0; stroke: #ececec; stroke-width: 1.9"/></g><g id="f3line2d_2"><defs><path id="f3m89b440f6fa" d="M0 0L0 8.2" style="stroke: #000000; stroke-width: 2.2"/></defs><use href="#f3m89b440f6fa" x="106.77" y="442.2" style="stroke: #000000; stroke-width: 2.2"/></g><g id="f3text_1"><text style="font-size: 23px; font-family:'Liberation Serif',serif; text-anchor: middle" x="106.77" y="475.36">2008</text></g></g><g id="f3xtick_2"><g id="f3line2d_3"><path d="M204.3 442.2L204.3 79.4" clip-path="url(#f3p9985ffac19)" style="fill: none; stroke-dasharray: 1.9,3.13; stroke-dashoffset: 0; stroke: #ececec; stroke-width: 1.9"/></g><g id="f3line2d_4"><use href="#f3m89b440f6fa" x="204.3" y="442.2" style="stroke: #000000; stroke-width: 2.2"/></g><g id="f3text_2"><text style="font-size: 23px; font-family:'Liberation Serif',serif; text-anchor: middle" x="204.3" y="475.36">2010</text></g></g><g id="f3xtick_3"><g id="f3line2d_5"><path d="M301.8 442.2L301.8 79.4" clip-path="url(#f3p9985ffac19)" style="fill: none; stroke-dasharray: 1.9,3.13; stroke-dashoffset: 0; stroke: #ececec; stroke-width: 1.9"/></g><g id="f3line2d_6"><use href="#f3m89b440f6fa" x="301.83" y="442.2" style="stroke: #000000; stroke-width: 2.2"/></g><g id="f3text_3"><text style="font-size: 23px; font-family:'Liberation Serif',serif; text-anchor: middle" x="301.83" y="475.36">2012</text></g></g><g id="f3xtick_4"><g id="f3line2d_7"><path d="M399.4 442.2L399.4 79.4" clip-path="url(#f3p9985ffac19)" style="fill: none; stroke-dasharray: 1.9,3.13; stroke-dashoffset: 0; stroke: #ececec; stroke-width: 1.9"/></g><g id="f3line2d_8"><use href="#f3m89b440f6fa" x="399.35" y="442.2" style="stroke: #000000; stroke-width: 2.2"/></g><g id="f3text_4"><text style="font-size: 23px; font-family:'Liberation Serif',serif; text-anchor: middle" x="399.35" y="475.36">2014</text></g></g><g id="f3xtick_5"><g id="f3line2d_9"><path d="M496.9 442.2L496.9 79.4" clip-path="url(#f3p9985ffac19)" style="fill: none; stroke-dasharray: 1.9,3.13; stroke-dashoffset: 0; stroke: #ececec; stroke-width: 1.9"/></g><g id="f3line2d_10"><use href="#f3m89b440f6fa" x="496.88" y="442.2" style="stroke: #000000; stroke-width: 2.2"/></g><g id="f3text_5"><text style="font-size: 23px; font-family:'Liberation Serif',serif; text-anchor: middle" x="496.88" y="475.36">2016</text></g></g><g id="f3xtick_6"><g id="f3line2d_11"><path d="M594.4 442.2L594.4 79.4" clip-path="url(#f3p9985ffac19)" style="fill: none; stroke-dasharray: 1.9,3.13; stroke-dashoffset: 0; stroke: #ececec; stroke-width: 1.9"/></g><g id="f3line2d_12"><use href="#f3m89b440f6fa" x="594.41" y="442.2" style="stroke: #000000; stroke-width: 2.2"/></g><g id="f3text_6"><text style="font-size: 23px; font-family:'Liberation Serif',serif; text-anchor: middle" x="594.41" y="475.36">2018</text></g></g><g id="f3xtick_7"><g id="f3line2d_13"><path d="M691.9 442.2L691.9 79.4" clip-path="url(#f3p9985ffac19)" style="fill: none; stroke-dasharray: 1.9,3.13; stroke-dashoffset: 0; stroke: #ececec; stroke-width: 1.9"/></g><g id="f3line2d_14"><use href="#f3m89b440f6fa" x="691.94" y="442.2" style="stroke: #000000; stroke-width: 2.2"/></g><g id="f3text_7"><text style="font-size: 23px; font-family:'Liberation Serif',serif; text-anchor: middle" x="691.94" y="475.36">2020</text></g></g><g id="f3xtick_8"><g id="f3line2d_15"><path d="M789.5 442.2L789.5 79.4" clip-path="url(#f3p9985ffac19)" style="fill: none; stroke-dasharray: 1.9,3.13; stroke-dashoffset: 0; stroke: #ececec; stroke-width: 1.9"/></g><g id="f3line2d_16"><use href="#f3m89b440f6fa" x="789.46" y="442.2" style="stroke: #000000; stroke-width: 2.2"/></g><g id="f3text_8"><text style="font-size: 23px; font-family:'Liberation Serif',serif; text-anchor: middle" x="789.46" y="475.36">2022</text></g></g><g id="f3text_9"><text style="font-size: 24.5px; font-family:'Liberation Serif',serif; text-anchor: middle" x="472.5" y="506.19">Test year</text></g></g><g id="f3matplotlib.axis_2"><g id="f3ytick_1"><g id="f3line2d_17"><path d="M70.2 423.5L874.8 423.5" clip-path="url(#f3p9985ffac19)" style="fill: none; stroke-dasharray: 1.9,3.13; stroke-dashoffset: 0; stroke: #ececec; stroke-width: 1.9"/></g><g id="f3line2d_18"><defs><path id="f3ma176b49309" d="M0 0L-8.2 0" style="stroke: #000000; stroke-width: 2.2"/></defs><use href="#f3ma176b49309" x="70.2" y="423.51" style="stroke: #000000; stroke-width: 2.2"/></g><g id="f3text_10"><text style="font-size: 23px; font-family:'Liberation Serif',serif; text-anchor: end" x="52.5" y="431.49">2</text></g></g><g id="f3ytick_2"><g id="f3line2d_19"><path d="M70.2 360.5L874.8 360.5" clip-path="url(#f3p9985ffac19)" style="fill: none; stroke-dasharray: 1.9,3.13; stroke-dashoffset: 0; stroke: #ececec; stroke-width: 1.9"/></g><g id="f3line2d_20"><use href="#f3ma176b49309" x="70.2" y="360.49" style="stroke: #000000; stroke-width: 2.2"/></g><g id="f3text_11"><text style="font-size: 23px; font-family:'Liberation Serif',serif; text-anchor: end" x="52.5" y="368.47">4</text></g></g><g id="f3ytick_3"><g id="f3line2d_21"><path d="M70.2 297.5L874.8 297.5" clip-path="url(#f3p9985ffac19)" style="fill: none; stroke-dasharray: 1.9,3.13; stroke-dashoffset: 0; stroke: #ececec; stroke-width: 1.9"/></g><g id="f3line2d_22"><use href="#f3ma176b49309" x="70.2" y="297.46" style="stroke: #000000; stroke-width: 2.2"/></g><g id="f3text_12"><text style="font-size: 23px; font-family:'Liberation Serif',serif; text-anchor: end" x="52.5" y="305.44">6</text></g></g><g id="f3ytick_4"><g id="f3line2d_23"><path d="M70.2 234.4L874.8 234.4" clip-path="url(#f3p9985ffac19)" style="fill: none; stroke-dasharray: 1.9,3.13; stroke-dashoffset: 0; stroke: #ececec; stroke-width: 1.9"/></g><g id="f3line2d_24"><use href="#f3ma176b49309" x="70.2" y="234.44" style="stroke: #000000; stroke-width: 2.2"/></g><g id="f3text_13"><text style="font-size: 23px; font-family:'Liberation Serif',serif; text-anchor: end" x="52.5" y="242.42">8</text></g></g><g id="f3ytick_5"><g id="f3line2d_25"><path d="M70.2 171.4L874.8 171.4" clip-path="url(#f3p9985ffac19)" style="fill: none; stroke-dasharray: 1.9,3.13; stroke-dashoffset: 0; stroke: #ececec; stroke-width: 1.9"/></g><g id="f3line2d_26"><use href="#f3ma176b49309" x="70.2" y="171.42" style="stroke: #000000; stroke-width: 2.2"/></g><g id="f3text_14"><text style="font-size: 23px; font-family:'Liberation Serif',serif; text-anchor: end" x="52.5" y="179.4">10</text></g></g><g id="f3ytick_6"><g id="f3line2d_27"><path d="M70.2 108.4L874.8 108.4" clip-path="url(#f3p9985ffac19)" style="fill: none; stroke-dasharray: 1.9,3.13; stroke-dashoffset: 0; stroke: #ececec; stroke-width: 1.9"/></g><g id="f3line2d_28"><use href="#f3ma176b49309" x="70.2" y="108.39" style="stroke: #000000; stroke-width: 2.2"/></g><g id="f3text_15"><text style="font-size: 23px; font-family:'Liberation Serif',serif; text-anchor: end" x="52.5" y="116.37">12</text></g></g><g id="f3text_16"><text style="font-size: 24.5px; font-family:'Liberation Serif',serif; text-anchor: middle" x="16.28" y="260.8" transform="rotate(-90 16.28 260.8)">RMSE</text></g></g><g id="f3patch_3"><path d="M142.1 442.2L169 442.2L169 79.4L142.1 79.4 z" clip-path="url(#f3p9985ffac19)" style="fill: #e8a35c; opacity: 0.25"/></g><g id="f3line2d_29"><path d="M155.5 442.2L155.5 79.4" clip-path="url(#f3p9985ffac19)" style="fill: none; stroke-dasharray: 8,6; stroke-dashoffset: 0; stroke: #e8a35c; stroke-opacity: 0.35; stroke-width: 2"/></g><g id="f3patch_4"><path d="M678.5 442.2L705.4 442.2L705.4 79.4L678.5 79.4 z" clip-path="url(#f3p9985ffac19)" style="fill: #e8a35c; opacity: 0.25"/></g><g id="f3line2d_30"><path d="M691.9 442.2L691.9 79.4" clip-path="url(#f3p9985ffac19)" style="fill: none; stroke-dasharray: 8,6; stroke-dashoffset: 0; stroke: #e8a35c; stroke-opacity: 0.35; stroke-width: 2"/></g><g id="f3FillBetweenPolyCollection_1"><defs><path id="f3mcad7cae3ae" d="M106.8 -364.5L106.8 -331.7L155.5 -469.1L204.3 -339.6L253.1 -352.8L301.8 -364.5L350.6 -338.6L399.4 -323.5L448.1 -337.7L496.9 -325.7L545.6 -324.1L594.4 -306.8L643.2 -316.2L691.9 -549.4L740.7 -395L789.5 -377.7L838.2 -317.8L838.2 -576.2L838.2 -576.2L789.5 -549.4L740.7 -478.8L691.9 -694.4L643.2 -368.2L594.4 -332L545.6 -390.3L496.9 -361.9L448.1 -404.2L399.4 -404.2L350.6 -469.7L301.8 -635.8L253.1 -508.5L204.3 -393.8L155.5 -505.9L106.8 -364.5 z" style="stroke: #0072b2; stroke-opacity: 0.2; stroke-width: 2.2"/></defs><g clip-path="url(#f3p9985ffac19)"><use href="#f3mcad7cae3ae" x="0" y="724" style="fill: #0072b2; fill-opacity: 0.18; stroke: #0072b2; stroke-opacity: 0.2; stroke-width: 2.2"/></g></g><g id="f3patch_5"><path d="M70.2 442.2L70.2 79.4" style="fill: none; stroke: #000000; stroke-width: 2.2; stroke-linejoin: miter; stroke-linecap: square"/></g><g id="f3patch_6"><path d="M70.2 442.2L874.8 442.2" style="fill: none; stroke: #000000; stroke-width: 2.2; stroke-linejoin: miter; stroke-linecap: square"/></g><g id="f3line2d_31"><path d="M70.2 312.9L874.8 312.9" clip-path="url(#f3p9985ffac19)" style="fill: none; stroke-dasharray: 8.28,3.68; stroke-dashoffset: 0; stroke: #d55e00; stroke-width: 2.3"/></g><g id="f3text_17"><text style="font-size: 29.2px; font-family:'Liberation Serif',serif; text-anchor: middle" x="472.5" y="60.7">RMSE by test year (h=3)</text></g><g id="f3line2d_32"><path d="M106.8 340.3L155.5 277.3L204.3 274.1L253.1 360.2L301.8 120.4L350.6 168.6L399.4 344.7L448.1 366.5L496.9 368.7L545.6 355.8L594.4 395.5L643.2 389.2L691.9 148.7L739.4 -1M741.6 -1L789.5 224.4L838.2 194.7" clip-path="url(#f3p9985ffac19)" style="fill: none; stroke: #009e73; stroke-width: 3.2; stroke-linecap: square"/><defs><path id="f3mdef47a6ddb" d="M-8 8L8 8L8 -8L-8 -8 z" style="stroke: #009e73; stroke-linejoin: miter"/></defs><g clip-path="url(#f3p9985ffac19)"><use href="#f3mdef47a6ddb" x="106.77" y="340.32" style="fill: #009e73; stroke: #009e73; stroke-linejoin: miter"/><use href="#f3mdef47a6ddb" x="155.54" y="277.3" style="fill: #009e73; stroke: #009e73; stroke-linejoin: miter"/><use href="#f3mdef47a6ddb" x="204.3" y="274.15" style="fill: #009e73; stroke: #009e73; stroke-linejoin: miter"/><use href="#f3mdef47a6ddb" x="253.06" y="360.17" style="fill: #009e73; stroke: #009e73; stroke-linejoin: miter"/><use href="#f3mdef47a6ddb" x="301.83" y="120.37" style="fill: #009e73; stroke: #009e73; stroke-linejoin: miter"/><use href="#f3mdef47a6ddb" x="350.59" y="168.58" style="fill: #009e73; stroke: #009e73; stroke-linejoin: miter"/><use href="#f3mdef47a6ddb" x="399.35" y="344.73" style="fill: #009e73; stroke: #009e73; stroke-linejoin: miter"/><use href="#f3mdef47a6ddb" x="448.12" y="366.48" style="fill: #009e73; stroke: #009e73; stroke-linejoin: miter"/><use href="#f3mdef47a6ddb" x="496.88" y="368.68" style="fill: #009e73; stroke: #009e73; stroke-linejoin: miter"/><use href="#f3mdef47a6ddb" x="545.65" y="355.76" style="fill: #009e73; stroke: #009e73; stroke-linejoin: miter"/><use href="#f3mdef47a6ddb" x="594.41" y="395.47" style="fill: #009e73; stroke: #009e73; stroke-linejoin: miter"/><use href="#f3mdef47a6ddb" x="643.17" y="389.16" style="fill: #009e73; stroke: #009e73; stroke-linejoin: miter"/><use href="#f3mdef47a6ddb" x="691.94" y="148.73" style="fill: #009e73; stroke: #009e73; stroke-linejoin: miter"/><use href="#f3mdef47a6ddb" x="739.41" y="-1" style="fill: #009e73; stroke: #009e73; stroke-linejoin: miter"/><use href="#f3mdef47a6ddb" x="741.56" y="-1" style="fill: #009e73; stroke: #009e73; stroke-linejoin: miter"/><use href="#f3mdef47a6ddb" x="789.46" y="224.36" style="fill: #009e73; stroke: #009e73; stroke-linejoin: miter"/><use href="#f3mdef47a6ddb" x="838.23" y="194.73" style="fill: #009e73; stroke: #009e73; stroke-linejoin: miter"/></g></g><g id="f3line2d_33"><path d="M106.8 375.9L155.5 245.2L204.3 356.7L253.1 299.7L301.8 217.1L350.6 317.9L399.4 363.6L448.1 354.5L496.9 381.3L545.6 369.9L594.4 407.1L643.2 382.5L691.9 114.1L740.7 289L789.5 260.9L838.2 275.1" clip-path="url(#f3p9985ffac19)" style="fill: none; stroke: #0072b2; stroke-width: 5.2; stroke-linecap: square"/><defs><path id="f3m879a4d6e6f" d="M0 8.5C2.3 8.5 4.4 7.6 6 6C7.6 4.4 8.5 2.3 8.5 0C8.5 -2.3 7.6 -4.4 6 -6C4.4 -7.6 2.3 -8.5 0 -8.5C-2.3 -8.5 -4.4 -7.6 -6 -6C-7.6 -4.4 -8.5 -2.3 -8.5 0C-8.5 2.3 -7.6 4.4 -6 6C-4.4 7.6 -2.3 8.5 0 8.5 z" style="stroke: #0072b2"/></defs><g clip-path="url(#f3p9985ffac19)"><use href="#f3m879a4d6e6f" x="106.77" y="375.93" style="fill: #0072b2; stroke: #0072b2"/><use href="#f3m879a4d6e6f" x="155.54" y="245.15" style="fill: #0072b2; stroke: #0072b2"/><use href="#f3m879a4d6e6f" x="204.3" y="356.71" style="fill: #0072b2; stroke: #0072b2"/><use href="#f3m879a4d6e6f" x="253.06" y="299.67" style="fill: #0072b2; stroke: #0072b2"/><use href="#f3m879a4d6e6f" x="301.83" y="217.11" style="fill: #0072b2; stroke: #0072b2"/><use href="#f3m879a4d6e6f" x="350.59" y="317.95" style="fill: #0072b2; stroke: #0072b2"/><use href="#f3m879a4d6e6f" x="399.35" y="363.64" style="fill: #0072b2; stroke: #0072b2"/><use href="#f3m879a4d6e6f" x="448.12" y="354.5" style="fill: #0072b2; stroke: #0072b2"/><use href="#f3m879a4d6e6f" x="496.88" y="381.29" style="fill: #0072b2; stroke: #0072b2"/><use href="#f3m879a4d6e6f" x="545.65" y="369.94" style="fill: #0072b2; stroke: #0072b2"/><use href="#f3m879a4d6e6f" x="594.41" y="407.13" style="fill: #0072b2; stroke: #0072b2"/><use href="#f3m879a4d6e6f" x="643.17" y="382.55" style="fill: #0072b2; stroke: #0072b2"/><use href="#f3m879a4d6e6f" x="691.94" y="114.06" style="fill: #0072b2; stroke: #0072b2"/><use href="#f3m879a4d6e6f" x="740.7" y="288.96" style="fill: #0072b2; stroke: #0072b2"/><use href="#f3m879a4d6e6f" x="789.46" y="260.91" style="fill: #0072b2; stroke: #0072b2"/><use href="#f3m879a4d6e6f" x="838.23" y="275.09" style="fill: #0072b2; stroke: #0072b2"/></g></g><g id="f3text_18"><g id="f3patch_7"><path d="M185.1 304.3L185.1 101.8Q185.1 95.3 178.5 95.3L158.9 95.3Q152.4 95.3 152.4 101.8L152.4 304.3Q152.4 310.8 158.9 310.8L178.5 310.8Q185.1 310.8 185.1 304.3 z" style="fill: #ffffff; opacity: 0.85"/></g><text style="font-weight: 700; font-size: 21.7px; font-family:'Liberation Serif',serif" transform="translate(173.92 304.32) rotate(-90)">Global financial crisis</text></g><g id="f3text_19"><g id="f3patch_8"><path d="M721.5 298.9L721.5 101.8Q721.5 95.3 714.9 95.3L695.3 95.3Q688.8 95.3 688.8 101.8L688.8 298.9Q688.8 305.4 695.3 305.4L714.9 305.4Q721.5 305.4 721.5 298.9 z" style="fill: #ffffff; opacity: 0.85"/></g><text style="font-weight: 700; font-size: 21.7px; font-family:'Liberation Serif',serif" transform="translate(710.32 298.88) rotate(-90)">COVID-19 pandemic</text></g></g><g id="f3axes_2"><g id="f3patch_9"><path d="M1109 442.2L1476 442.2L1476 79.4L1109 79.4 z" style="fill: #ffffff"/></g><g id="f3matplotlib.axis_3"/><g id="f3matplotlib.axis_4"><g id="f3ytick_7"><g id="f3line2d_34"><path d="M1109 373.2L1476 373.2" clip-path="url(#f3p307b640b9f)" style="fill: none; stroke-dasharray: 1.9,3.13; stroke-dashoffset: 0; stroke: #ececec; stroke-width: 1.9"/></g><g id="f3line2d_35"><use href="#f3ma176b49309" x="1109" y="373.16" style="stroke: #000000; stroke-width: 2.2"/></g><g id="f3text_20"><text style="font-size: 23px; font-family:'Liberation Serif',serif; text-anchor: end" x="1091.3" y="381.14">4</text></g></g><g id="f3ytick_8"><g id="f3line2d_36"><path d="M1109 302.2L1476 302.2" clip-path="url(#f3p307b640b9f)" style="fill: none; stroke-dasharray: 1.9,3.13; stroke-dashoffset: 0; stroke: #ececec; stroke-width: 1.9"/></g><g id="f3line2d_37"><use href="#f3ma176b49309" x="1109" y="302.2" style="stroke: #000000; stroke-width: 2.2"/></g><g id="f3text_21"><text style="font-size: 23px; font-family:'Liberation Serif',serif; text-anchor: end" x="1091.3" y="310.18">6</text></g></g><g id="f3ytick_9"><g id="f3line2d_38"><path d="M1109 231.2L1476 231.2" clip-path="url(#f3p307b640b9f)" style="fill: none; stroke-dasharray: 1.9,3.13; stroke-dashoffset: 0; stroke: #ececec; stroke-width: 1.9"/></g><g id="f3line2d_39"><use href="#f3ma176b49309" x="1109" y="231.25" style="stroke: #000000; stroke-width: 2.2"/></g><g id="f3text_22"><text style="font-size: 23px; font-family:'Liberation Serif',serif; text-anchor: end" x="1091.3" y="239.23">8</text></g></g><g id="f3ytick_10"><g id="f3line2d_40"><path d="M1109 160.3L1476 160.3" clip-path="url(#f3p307b640b9f)" style="fill: none; stroke-dasharray: 1.9,3.13; stroke-dashoffset: 0; stroke: #ececec; stroke-width: 1.9"/></g><g id="f3line2d_41"><use href="#f3ma176b49309" x="1109" y="160.29" style="stroke: #000000; stroke-width: 2.2"/></g><g id="f3text_23"><text style="font-size: 23px; font-family:'Liberation Serif',serif; text-anchor: end" x="1091.3" y="168.27">10</text></g></g><g id="f3ytick_11"><g id="f3line2d_42"><path d="M1109 89.3L1476 89.3" clip-path="url(#f3p307b640b9f)" style="fill: none; stroke-dasharray: 1.9,3.13; stroke-dashoffset: 0; stroke: #ececec; stroke-width: 1.9"/></g><g id="f3line2d_43"><use href="#f3ma176b49309" x="1109" y="89.33" style="stroke: #000000; stroke-width: 2.2"/></g><g id="f3text_24"><text style="font-size: 23px; font-family:'Liberation Serif',serif; text-anchor: end" x="1091.3" y="97.31">12</text></g></g></g><g id="f3line2d_44"><path d="M1125.7 390.5L1147.9 243.3L1170.2 368.9L1192.4 304.7L1214.7 211.7L1236.9 325.3L1259.1 376.7L1281.4 366.4L1303.6 396.6L1325.9 383.8L1348.1 425.7L1370.3 398L1392.6 95.7L1414.8 292.6L1437.1 261L1459.3 277" clip-path="url(#f3p307b640b9f)" style="fill: none; stroke: #0072b2; stroke-opacity: 0.3; stroke-width: 2.4; stroke-linecap: square"/><defs><path id="f3m58ab239ba8" d="M0 7C1.9 7 3.6 6.3 4.9 4.9C6.3 3.6 7 1.9 7 0C7 -1.9 6.3 -3.6 4.9 -4.9C3.6 -6.3 1.9 -7 0 -7C-1.9 -7 -3.6 -6.3 -4.9 -4.9C-6.3 -3.6 -7 -1.9 -7 0C-7 1.9 -6.3 3.6 -4.9 4.9C-3.6 6.3 -1.9 7 0 7 z" style="stroke: #0072b2; stroke-opacity: 0.3"/></defs><g clip-path="url(#f3p307b640b9f)"><use href="#f3m58ab239ba8" x="1125.68" y="390.54" style="fill: #0072b2; fill-opacity: 0.3; stroke: #0072b2; stroke-opacity: 0.3"/><use href="#f3m58ab239ba8" x="1147.92" y="243.31" style="fill: #0072b2; fill-opacity: 0.3; stroke: #0072b2; stroke-opacity: 0.3"/><use href="#f3m58ab239ba8" x="1170.17" y="368.9" style="fill: #0072b2; fill-opacity: 0.3; stroke: #0072b2; stroke-opacity: 0.3"/><use href="#f3m58ab239ba8" x="1192.41" y="304.69" style="fill: #0072b2; fill-opacity: 0.3; stroke: #0072b2; stroke-opacity: 0.3"/><use href="#f3m58ab239ba8" x="1214.65" y="211.73" style="fill: #0072b2; fill-opacity: 0.3; stroke: #0072b2; stroke-opacity: 0.3"/><use href="#f3m58ab239ba8" x="1236.89" y="325.26" style="fill: #0072b2; fill-opacity: 0.3; stroke: #0072b2; stroke-opacity: 0.3"/><use href="#f3m58ab239ba8" x="1259.14" y="376.71" style="fill: #0072b2; fill-opacity: 0.3; stroke: #0072b2; stroke-opacity: 0.3"/><use href="#f3m58ab239ba8" x="1281.38" y="366.42" style="fill: #0072b2; fill-opacity: 0.3; stroke: #0072b2; stroke-opacity: 0.3"/><use href="#f3m58ab239ba8" x="1303.62" y="396.58" style="fill: #0072b2; fill-opacity: 0.3; stroke: #0072b2; stroke-opacity: 0.3"/><use href="#f3m58ab239ba8" x="1325.86" y="383.8" style="fill: #0072b2; fill-opacity: 0.3; stroke: #0072b2; stroke-opacity: 0.3"/><use href="#f3m58ab239ba8" x="1348.11" y="425.67" style="fill: #0072b2; fill-opacity: 0.3; stroke: #0072b2; stroke-opacity: 0.3"/><use href="#f3m58ab239ba8" x="1370.35" y="397.99" style="fill: #0072b2; fill-opacity: 0.3; stroke: #0072b2; stroke-opacity: 0.3"/><use href="#f3m58ab239ba8" x="1392.59" y="95.72" style="fill: #0072b2; fill-opacity: 0.3; stroke: #0072b2; stroke-opacity: 0.3"/><use href="#f3m58ab239ba8" x="1414.83" y="292.62" style="fill: #0072b2; fill-opacity: 0.3; stroke: #0072b2; stroke-opacity: 0.3"/><use href="#f3m58ab239ba8" x="1437.08" y="261.05" style="fill: #0072b2; fill-opacity: 0.3; stroke: #0072b2; stroke-opacity: 0.3"/><use href="#f3m58ab239ba8" x="1459.32" y="277.01" style="fill: #0072b2; fill-opacity: 0.3; stroke: #0072b2; stroke-opacity: 0.3"/></g></g><g id="f3patch_10"><path d="M1109 442.2L1109 79.4" style="fill: none; stroke: #000000; stroke-width: 2.2; stroke-linejoin: miter; stroke-linecap: square"/></g><g id="f3patch_11"><path d="M1109 442.2L1476 442.2" style="fill: none; stroke: #000000; stroke-width: 2.2; stroke-linejoin: miter; stroke-linecap: square"/></g><g id="f3line2d_45"><path d="M1125.7 316.9L1147.9 334.3L1170.2 305.6L1192.4 295.1L1214.7 280.6L1236.9 304.6L1259.1 356.1L1281.4 379.9L1303.6 382.3L1325.9 402L1348.1 402.5L1370.3 306.5L1392.6 262.1L1414.8 216.5L1437.1 276.9L1459.3 269" clip-path="url(#f3p307b640b9f)" style="fill: none; stroke: #0072b2; stroke-width: 5.2; stroke-linecap: square"/><defs><path id="f3m3c60af223d" d="M0 6.2C1.7 6.2 3.2 5.6 4.4 4.4C5.6 3.2 6.2 1.7 6.2 0C6.2 -1.7 5.6 -3.2 4.4 -4.4C3.2 -5.6 1.7 -6.2 0 -6.2C-1.7 -6.2 -3.2 -5.6 -4.4 -4.4C-5.6 -3.2 -6.2 -1.7 -6.2 0C-6.2 1.7 -5.6 3.2 -4.4 4.4C-3.2 5.6 -1.7 6.2 0 6.2 z" style="stroke: #0072b2"/></defs><g clip-path="url(#f3p307b640b9f)"><use href="#f3m3c60af223d" x="1125.68" y="316.93" style="fill: #0072b2; stroke: #0072b2"/><use href="#f3m3c60af223d" x="1147.92" y="334.25" style="fill: #0072b2; stroke: #0072b2"/><use href="#f3m3c60af223d" x="1170.17" y="305.63" style="fill: #0072b2; stroke: #0072b2"/><use href="#f3m3c60af223d" x="1192.41" y="295.11" style="fill: #0072b2; stroke: #0072b2"/><use href="#f3m3c60af223d" x="1214.65" y="280.56" style="fill: #0072b2; stroke: #0072b2"/><use href="#f3m3c60af223d" x="1236.89" y="304.57" style="fill: #0072b2; stroke: #0072b2"/><use href="#f3m3c60af223d" x="1259.14" y="356.13" style="fill: #0072b2; stroke: #0072b2"/><use href="#f3m3c60af223d" x="1281.38" y="379.9" style="fill: #0072b2; stroke: #0072b2"/><use href="#f3m3c60af223d" x="1303.62" y="382.27" style="fill: #0072b2; stroke: #0072b2"/><use href="#f3m3c60af223d" x="1325.86" y="402.02" style="fill: #0072b2; stroke: #0072b2"/><use href="#f3m3c60af223d" x="1348.11" y="402.49" style="fill: #0072b2; stroke: #0072b2"/><use href="#f3m3c60af223d" x="1370.35" y="306.46" style="fill: #0072b2; stroke: #0072b2"/><use href="#f3m3c60af223d" x="1392.59" y="262.11" style="fill: #0072b2; stroke: #0072b2"/><use href="#f3m3c60af223d" x="1414.83" y="216.46" style="fill: #0072b2; stroke: #0072b2"/><use href="#f3m3c60af223d" x="1437.08" y="276.9" style="fill: #0072b2; stroke: #0072b2"/><use href="#f3m3c60af223d" x="1459.32" y="269.03" style="fill: #0072b2; stroke: #0072b2"/></g></g><g id="f3text_25"><text style="font-size: 29.2px; font-family:'Liberation Serif',serif; text-anchor: middle" x="1292.5" y="60.7">3-yr rolling mean</text></g></g><g id="f3axes_3"><g id="f3patch_12"><path d="M1720.6 442.2L2086.9 442.2L2086.9 79.4L1720.6 79.4 z" style="fill: #ffffff"/></g><g id="f3matplotlib.axis_5"><g id="f3xtick_9"><g id="f3line2d_46"><path d="M1755.5 442.2L1755.5 79.4" clip-path="url(#f3p825c45e0bc)" style="fill: none; stroke-dasharray: 1.9,3.13; stroke-dashoffset: 0; stroke: #ececec; stroke-width: 1.9"/></g><g id="f3line2d_47"><use href="#f3m89b440f6fa" x="1755.53" y="442.2" style="stroke: #000000; stroke-width: 2.2"/></g><g id="f3text_26"><text style="font-size: 23px; font-family:'Liberation Serif',serif; text-anchor: middle" x="1755.53" y="475.36">−50</text></g></g><g id="f3xtick_10"><g id="f3line2d_48"><path d="M1875.2 442.2L1875.2 79.4" clip-path="url(#f3p825c45e0bc)" style="fill: none; stroke-dasharray: 1.9,3.13; stroke-dashoffset: 0; stroke: #ececec; stroke-width: 1.9"/></g><g id="f3line2d_49"><use href="#f3m89b440f6fa" x="1875.16" y="442.2" style="stroke: #000000; stroke-width: 2.2"/></g><g id="f3text_27"><text style="font-size: 23px; font-family:'Liberation Serif',serif; text-anchor: middle" x="1875.16" y="475.36">0</text></g></g><g id="f3xtick_11"><g id="f3line2d_50"><path d="M1994.8 442.2L1994.8 79.4" clip-path="url(#f3p825c45e0bc)" style="fill: none; stroke-dasharray: 1.9,3.13; stroke-dashoffset: 0; stroke: #ececec; stroke-width: 1.9"/></g><g id="f3line2d_51"><use href="#f3m89b440f6fa" x="1994.79" y="442.2" style="stroke: #000000; stroke-width: 2.2"/></g><g id="f3text_28"><text style="font-size: 23px; font-family:'Liberation Serif',serif; text-anchor: middle" x="1994.79" y="475.36">50</text></g></g></g><g id="f3matplotlib.axis_6"><g id="f3ytick_12"><g id="f3line2d_52"><path d="M1720.6 442.2L2086.9 442.2" clip-path="url(#f3p825c45e0bc)" style="fill: none; stroke-dasharray: 1.9,3.13; stroke-dashoffset: 0; stroke: #ececec; stroke-width: 1.9"/></g><g id="f3line2d_53"><use href="#f3ma176b49309" x="1720.6" y="442.2" style="stroke: #000000; stroke-width: 2.2"/></g><g id="f3text_29"><text style="font-size: 23px; font-family:'Liberation Serif',serif; text-anchor: end" x="1702.9" y="450.18">0</text></g></g><g id="f3ytick_13"><g id="f3line2d_54"><path d="M1720.6 357.1L2086.9 357.1" clip-path="url(#f3p825c45e0bc)" style="fill: none; stroke-dasharray: 1.9,3.13; stroke-dashoffset: 0; stroke: #ececec; stroke-width: 1.9"/></g><g id="f3line2d_55"><use href="#f3ma176b49309" x="1720.6" y="357.08" style="stroke: #000000; stroke-width: 2.2"/></g><g id="f3text_30"><text style="font-size: 23px; font-family:'Liberation Serif',serif; text-anchor: end" x="1702.9" y="365.06">200</text></g></g><g id="f3ytick_14"><g id="f3line2d_56"><path d="M1720.6 272L2086.9 272" clip-path="url(#f3p825c45e0bc)" style="fill: none; stroke-dasharray: 1.9,3.13; stroke-dashoffset: 0; stroke: #ececec; stroke-width: 1.9"/></g><g id="f3line2d_57"><use href="#f3ma176b49309" x="1720.6" y="271.95" style="stroke: #000000; stroke-width: 2.2"/></g><g id="f3text_31"><text style="font-size: 23px; font-family:'Liberation Serif',serif; text-anchor: end" x="1702.9" y="279.93">400</text></g></g><g id="f3ytick_15"><g id="f3line2d_58"><path d="M1720.6 186.8L2086.9 186.8" clip-path="url(#f3p825c45e0bc)" style="fill: none; stroke-dasharray: 1.9,3.13; stroke-dashoffset: 0; stroke: #ececec; stroke-width: 1.9"/></g><g id="f3line2d_59"><use href="#f3ma176b49309" x="1720.6" y="186.83" style="stroke: #000000; stroke-width: 2.2"/></g><g id="f3text_32"><text style="font-size: 23px; font-family:'Liberation Serif',serif; text-anchor: end" x="1702.9" y="194.81">600</text></g></g><g id="f3ytick_16"><g id="f3line2d_60"><path d="M1720.6 101.7L2086.9 101.7" clip-path="url(#f3p825c45e0bc)" style="fill: none; stroke-dasharray: 1.9,3.13; stroke-dashoffset: 0; stroke: #ececec; stroke-width: 1.9"/></g><g id="f3line2d_61"><use href="#f3ma176b49309" x="1720.6" y="101.7" style="stroke: #000000; stroke-width: 2.2"/></g><g id="f3text_33"><text style="font-size: 23px; font-family:'Liberation Serif',serif; text-anchor: end" x="1702.9" y="109.68">800</text></g></g></g><g id="f3patch_13"><path d="M1788.3 442.2L1793.8 442.2L1793.8 440.9L1788.3 440.9 z" clip-path="url(#f3p825c45e0bc)" style="fill: #2a7ab6"/></g><g id="f3patch_14"><path d="M1814.6 442.2L1820.1 442.2L1820.1 438.4L1814.6 438.4 z" clip-path="url(#f3p825c45e0bc)" style="fill: #2a7ab6"/></g><g id="f3patch_15"><path d="M1825.6 442.2L1831.1 442.2L1831.1 439.2L1825.6 439.2 z" clip-path="url(#f3p825c45e0bc)" style="fill: #2a7ab6"/></g><g id="f3patch_16"><path d="M1831.1 442.2L1836.6 442.2L1836.6 440.1L1831.1 440.1 z" clip-path="url(#f3p825c45e0bc)" style="fill: #2a7ab6"/></g><g id="f3patch_17"><path d="M1836.6 442.2L1842.1 442.2L1842.1 437.9L1836.6 437.9 z" clip-path="url(#f3p825c45e0bc)" style="fill: #2a7ab6"/></g><g id="f3patch_18"><path d="M1842.1 442.2L1847.6 442.2L1847.6 428.2L1842.1 428.2 z" clip-path="url(#f3p825c45e0bc)" style="fill: #2a7ab6"/></g><g id="f3patch_19"><path d="M1847.6 442.2L1853.1 442.2L1853.1 414.5L1847.6 414.5 z" clip-path="url(#f3p825c45e0bc)" style="fill: #2a7ab6"/></g><g id="f3patch_20"><path d="M1853.1 442.2L1858.6 442.2L1858.6 397.1L1853.1 397.1 z" clip-path="url(#f3p825c45e0bc)" style="fill: #2a7ab6"/></g><g id="f3patch_21"><path d="M1858.7 442.2L1864.1 442.2L1864.1 370.3L1858.7 370.3 z" clip-path="url(#f3p825c45e0bc)" style="fill: #2a7ab6"/></g><g id="f3patch_22"><path d="M1864.2 442.2L1869.6 442.2L1869.6 256.2L1864.2 256.2 z" clip-path="url(#f3p825c45e0bc)" style="fill: #2a7ab6"/></g><g id="f3patch_23"><path d="M1869.7 442.2L1875.1 442.2L1875.1 97L1869.7 97 z" clip-path="url(#f3p825c45e0bc)" style="fill: #2a7ab6"/></g><g id="f3patch_24"><path d="M1875.2 442.2L1880.6 442.2L1880.6 163L1875.2 163 z" clip-path="url(#f3p825c45e0bc)" style="fill: #2a7ab6"/></g><g id="f3patch_25"><path d="M1880.7 442.2L1886.1 442.2L1886.1 326.9L1880.7 326.9 z" clip-path="url(#f3p825c45e0bc)" style="fill: #2a7ab6"/></g><g id="f3patch_26"><path d="M1886.2 442.2L1891.6 442.2L1891.6 412L1886.2 412 z" clip-path="url(#f3p825c45e0bc)" style="fill: #2a7ab6"/></g><g id="f3patch_27"><path d="M1891.7 442.2L1897.1 442.2L1897.1 425.6L1891.7 425.6 z" clip-path="url(#f3p825c45e0bc)" style="fill: #2a7ab6"/></g><g id="f3patch_28"><path d="M1897.2 442.2L1902.6 442.2L1902.6 437.5L1897.2 437.5 z" clip-path="url(#f3p825c45e0bc)" style="fill: #2a7ab6"/></g><g id="f3patch_29"><path d="M1902.7 442.2L1908.2 442.2L1908.2 440.1L1902.7 440.1 z" clip-path="url(#f3p825c45e0bc)" style="fill: #2a7ab6"/></g><g id="f3patch_30"><path d="M1913.7 442.2L1919.2 442.2L1919.2 440.9L1913.7 440.9 z" clip-path="url(#f3p825c45e0bc)" style="fill: #2a7ab6"/></g><g id="f3patch_31"><path d="M1919.2 442.2L1924.7 442.2L1924.7 441.3L1919.2 441.3 z" clip-path="url(#f3p825c45e0bc)" style="fill: #2a7ab6"/></g><g id="f3patch_32"><path d="M1720.6 442.2L1720.6 79.4" style="fill: none; stroke: #000000; stroke-width: 2.2; stroke-linejoin: miter; stroke-linecap: square"/></g><g id="f3patch_33"><path d="M1720.6 442.2L2086.9 442.2" style="fill: none; stroke: #000000; stroke-width: 2.2; stroke-linejoin: miter; stroke-linecap: square"/></g><g id="f3text_34"><text style="font-size: 29.2px; font-family:'Liberation Serif',serif; text-anchor: middle" x="1903.75" y="60.7">Error distribution</text></g></g><g id="f3patch_34"><path d="M351.9 17.1L396.5 17.1L396.5 1.1L351.9 1.1 z" style="fill: #0072b2; opacity: 0.17"/></g><g id="f3patch_35"><path d="M351.9 17.1L396.5 17.1L396.5 1.1L351.9 1.1L351.9 17.1 z" style="fill: none; opacity: 0.22; stroke: #0072b2; stroke-width: 2; stroke-linejoin: miter"/></g><g id="f3line2d_62"><path d="M82.2 9.1L129.8 9.1" style="fill: none; stroke: #0072b2; stroke-width: 5.2"/></g><g id="f3line2d_63"><path d="M106 9.1" style="fill: none"/><use href="#f3m879a4d6e6f" x="106" y="9.1" style="fill: #0072b2; stroke: #0072b2"/></g><g id="f3line2d_64"><path d="M82.2 40.6L129.8 40.6" style="fill: none; stroke: #009e73; stroke-width: 3.2"/></g><g id="f3line2d_65"><path d="M106 40.6" style="fill: none"/><use href="#f3mdef47a6ddb" x="106" y="40.6" style="fill: #009e73; stroke: #009e73; stroke-linejoin: miter"/></g><g id="f3line2d_66"><path d="M626.3 9.1L669.1 9.1" style="fill: none; stroke-dasharray: 8.28,3.68; stroke-dashoffset: 0; stroke: #d55e00; stroke-width: 2.3"/></g><g id="f3text_35"><text style="font-size: 21.8px; font-family:'Liberation Serif',serif; text-anchor: start" x="144.9" y="16.66">Model RMSE</text></g><g id="f3text_36"><text style="font-size: 21.8px; font-family:'Liberation Serif',serif; text-anchor: start" x="144.9" y="48.16">Persistence RMSE</text></g><g id="f3text_37"><text style="font-size: 21.8px; font-family:'Liberation Serif',serif; text-anchor: start" x="412.3" y="16.66">95% CI (bootstrap)</text></g><g id="f3text_38"><text style="font-size: 21.8px; font-family:'Liberation Serif',serif; text-anchor: start" x="687.5" y="16.66">Mean RMSE (5.51)</text></g><g id="f3text_39"><text style="font-size: 24.5px; font-family:'Liberation Serif',serif; text-anchor: middle" x="1903.75" y="505.3">Prediction error</text></g><g id="f3patch_36"><path d="M1785.2 722.8L2021.4 722.8L2021.4 496.9L1785.2 496.9 z" style="fill: #ffffff; fill-opacity: 0.93; stroke: #000000; stroke-width: 1.6; stroke-linejoin: miter"/></g><g id="f3text_40"><text style="font-size: 21.8px; font-family:'Liberation Serif',serif; text-anchor: middle" x="1903.3" y="522.7">Mean RMSE: 5.509</text></g><g id="f3text_41"><text style="font-size: 21.8px; font-family:'Liberation Serif',serif; text-anchor: middle" x="1903.3" y="545.9">Median RMSE: 4.781</text></g><g id="f3text_42"><text style="font-size: 21.8px; font-family:'Liberation Serif',serif; text-anchor: middle" x="1903.3" y="569.1">Latest RMSE: 6.725</text></g><g id="f3text_43"><text style="font-size: 21.8px; font-family:'Liberation Serif',serif; text-anchor: middle" x="1903.3" y="592.3">Folds: 16</text></g><g id="f3text_44"><text style="font-size: 21.8px; font-family:'Liberation Serif',serif; text-anchor: middle" x="1903.3" y="638.7">Shock years: 2009, 2020</text></g><g id="f3text_45"><text style="font-size: 21.8px; font-family:'Liberation Serif',serif; text-anchor: middle" x="1903.3" y="685.1">Bootstrap: on</text></g><g id="f3text_46"><text style="font-size: 21.8px; font-family:'Liberation Serif',serif; text-anchor: middle" x="1903.3" y="708.3">Bench: yes</text></g></g><defs><clipPath id="f3p9985ffac19"><rect x="70.2" y="79.4" width="804.6" height="362.8"/></clipPath><clipPath id="f3p307b640b9f"><rect x="1109" y="79.4" width="367" height="362.8"/></clipPath><clipPath id="f3p825c45e0bc"><rect x="1720.6" y="79.4" width="366.3" height="362.8"/></clipPath></defs></svg></div>
</body></html>
